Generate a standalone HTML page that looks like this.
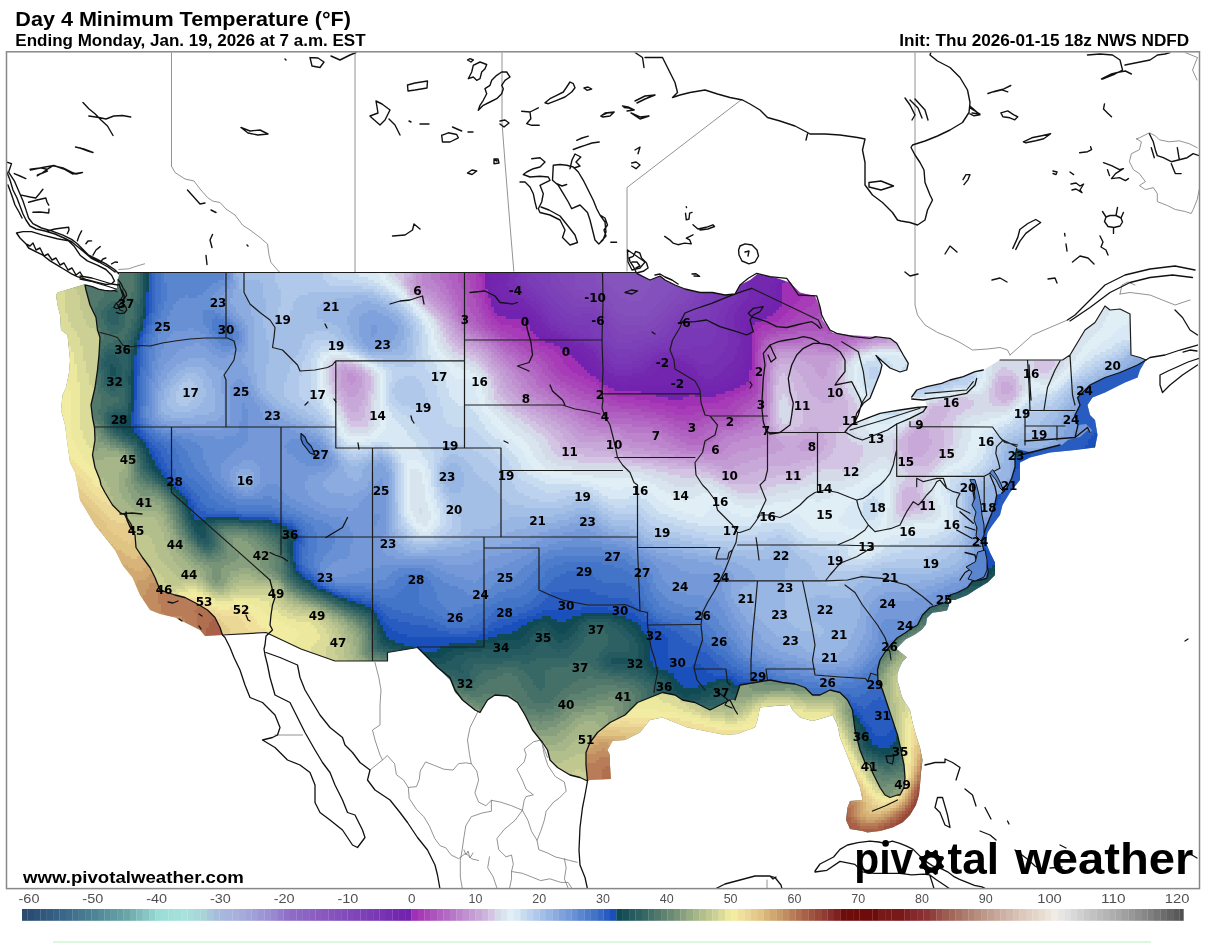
<!DOCTYPE html>
<html><head><meta charset="utf-8"><title>Day 4 Minimum Temperature</title>
<style>
html,body{margin:0;padding:0;background:#fff;}
svg{display:block;}
.t1{font:bold 20px "Liberation Sans",Arial,sans-serif;fill:#000;}
.t2{font:bold 16px "Liberation Sans",Arial,sans-serif;fill:#000;}
.lab text{font:bold 12px "DejaVu Sans","Liberation Sans",sans-serif;fill:#000;text-anchor:middle;}
.cbl text{font:13px "Liberation Sans",Arial,sans-serif;fill:#505050;text-anchor:middle;}
.url{font:bold 17px "Liberation Sans",Arial,sans-serif;fill:#000;}
.logo{font:bold 44px "Liberation Sans",Arial,sans-serif;fill:#000;}
</style></head><body>
<svg width="1205" height="943" viewBox="0 0 1205 943">
<rect width="1205" height="943" fill="#fff"/>
<defs><clipPath id="m"><path d="M57.5 292.5 84 284.5 92 286.6 98.5 289.1 104.6 290.3 110.8 290.9 114.4 290.3 116.9 288 117.5 280 120 272.5 637.5 272.5 650 280 660 276 665 280 675 285 685 289 700 292.5 712.5 292.5 725 295 735 294 740 285 750 280 757.5 274 775 277.5 790 282.5 800 292.5 815 296 820 307.5 822.5 320 830 330 833 333 850 335 875 336.7 890 338.3 896.7 343.3 903.3 355 908.3 363.3 906.7 370 900 372 890 368 882 361 876 355.5 879 360 882 365 880 373.3 873.3 390 870 398.3 863.3 403.3 856.7 413.3 855 420 850 425 866.7 418.3 880 413.3 890 411.7 900 410 916.7 407.5 926.7 406.7 925 399 911.7 397 916.7 390 926.7 386.7 941.7 383.3 950 380 963.3 376.7 975 371.7 983.3 370 991.7 365 1000 360 1062.5 360 1070 355 1085 330 1095 322.5 1105 306 1110 310 1120 309 1130 314 1131 355 1140 357.5 1146 360 1140 370 1137.5 377.5 1125 382.5 1105 392.5 1092.5 397.5 1087.5 405 1090 415 1095 420 1097.5 435 1095 447.5 1075 450 1050 452.5 1030 457.5 1020 462.5 1020 480 1016 485 1010 492.5 1002.5 505 1000 515 992.5 525 987.5 532.5 986 542.5 990 552.5 995 562.5 995 575 987.5 582.5 975 590 967.5 595 955 600 948 600 949 605.3 947 610.6 939.7 611.7 932.3 612.7 927 618 926 624.4 921.7 629.7 914.2 635 905.7 639.2 901.5 643.5 896.2 648.8 906.8 657.3 902.6 661.5 899.4 667.9 897.3 674.2 897.3 680.6 899.4 687 901.5 695.4 903.6 700 910 710 912.5 722.5 916 735 920 747.5 922.5 760 921 772.5 920 785 919 795 916 805 910 815 902.5 822.5 892.5 827.5 880 831 867.5 832.5 862.5 831 850 829 846 820 847.5 807.5 850 801 862.5 800 860 787.5 855 775 850 762.5 845 750 840 737.5 837.5 725 832.5 715 825 717.5 812.5 721 800 717.5 792.5 710 790 705 775 706 760 707.5 757.5 720 755 727.5 745 731 737.5 734 725 735 712.5 732.5 700 730 687.5 727.5 675 722.5 662.5 717.5 650 720 640 732.5 625 740 612.5 741 607.5 750 610 755 610 765 611 779 590 780 587.5 781 580 777.5 570 775 557.5 767.5 550 760 547.5 750 542.5 742.5 532.5 730 525 715 517.5 702.5 507.5 696 495 695 487.5 700 480 712.5 475 710 465 702.5 455 692.5 450 680 440 670 430 660 417.5 647.5 387.5 652.5 387.5 661 372.5 661 335 661 300 649 266 632.5 222.5 635 205 636 200 630 190 625 175 617.5 160 614 150 610 140 595 132.5 577.5 122.5 565 115 550 105 537.5 95 525 87.5 512.5 80 500 77.5 485 75 472.5 70 462.5 67.5 445 65 425 61 410 62.5 395 66 387.5 69 372.5 70 360 67.5 335 61 330 60 315 57.5 305 56 295Z"/></clipPath>
<clipPath id="sea"><path d="M57.5 292.5 84 284.5 85 285 86 290 90 305 96 317.5 97.5 330 100 337.5 99 355 97.5 370 95 387.5 91 405 92.5 417.5 94.5 427.5 95 440 92.5 455 95 467.5 100 480 101 485 105 492.5 112.5 505 120 512.5 125 515 128 522 132 530 135 535 136 547.5 142.5 557.5 150 567.5 155 577.5 160 590 175 595 185 597.5 197.5 604 207.5 610 215 617.5 220 627.5 222.5 635 205 636 200 630 190 625 175 617.5 160 614 150 610 140 595 132.5 577.5 122.5 565 115 550 105 537.5 95 525 87.5 512.5 80 500 77.5 485 75 472.5 70 462.5 67.5 445 65 425 61 410 62.5 395 66 387.5 69 372.5 70 360 67.5 335 61 330 60 315 57.5 305 56 295Z"/><path d="M1146 360 1140 370 1137.5 377.5 1125 382.5 1105 392.5 1092.5 397.5 1087.5 405 1090 415 1095 420 1097.5 435 1095 447.5 1075 450 1050 452.5 1030 457.5 1020 462.5 1020 480 1016 485 1010 492.5 1002.5 505 1000 515 992.5 525 987.5 532.5 986 542.5 990 552.5 995 562.5 995 575 987.5 582.5 975 590 967.5 595 955 600 948 600 949 605.3 947 610.6 939.7 611.7 932.3 612.7 927 618 926 624.4 921.7 629.7 914.2 635 905.7 639.2 901.5 643.5 896.2 648.8 906.8 657.3 902.6 661.5 899.4 667.9 897.3 674.2 897.3 680.6 899.4 687 901.5 695.4 903.6 700 910 710 912.5 722.5 916 735 920 747.5 922.5 760 921 772.5 920 785 919 795 916 805 910 815 902.5 822.5 892.5 827.5 880 831 867.5 832.5 862.5 831 850 829 846 820 847.5 807.5 850 801 862.5 800 860 787.5 855 775 850 762.5 845 750 840 737.5 837.5 725 832.5 715 825 717.5 812.5 721 800 717.5 792.5 710 790 705 775 706 760 707.5 757.5 720 755 727.5 745 731 737.5 734 725 735 712.5 732.5 700 730 687.5 727.5 675 722.5 662.5 717.5 650 720 640 732.5 625 740 612.5 741 607.5 750 610 755 610 765 611 779 590 780 587.5 781 586 765 586 752.5 590 742.5 597.5 732.5 610 722.5 625 715 637.5 702.5 650 697.5 662.5 692.5 675 695 682.5 700 695 702.5 700 705 710 710 720 705 730 700 735 700 740 685 755 682.5 770 680 782.5 682.5 795 684 805 687.5 812.5 695 820 695 830 690 840 692.5 847.5 700 852.5 710 855 730 857.5 740 860 750 865 762.5 870 765 872.5 772.5 875 777.5 877.5 782.5 880 787.5 885 795 890 797.5 897.5 795 900 795 904 787.5 905 777.5 904 765 901 750 897.5 735 892.5 720 887.5 705 882.5 690 878 680 877.5 670 880 660 885 652 891 645 897 638 905 633 912 628 917.5 625 922.5 615 930 607.5 937.5 605 945 602.5 950 595 957.5 592.5 967.5 587.5 972.5 581 980 580 986.7 578.3 988.3 571.7 986.7 563.3 985 556.7 983.3 548.3 981.7 541.7 981.7 540 985 530 988.3 521.7 991.7 513.3 995 503.3 996.7 495 1001.7 493.3 1006.7 488.3 1011.7 478.3 1015 466.7 1015 456.7 1016.7 449 1030 452 1050 448 1062 445 1068 440 1080 437 1088 430 1090 434 1092 430 1086 424 1078 425 1075 415 1080 405 1077.5 397.5 1090 385 1105 377.5 1120 372.5 1137.5 365Z"/></clipPath>
<clipPath id="fr"><rect x="7" y="52.5" width="1192" height="836.5"/></clipPath></defs>
<g clip-path="url(#m)" shape-rendering="crispEdges">
<path fill="#8654bd" d="M602 268h42.3v3.3h-42.3zM602 271h45.3v3.3h-45.3zM605 274h48.3v3.3h-48.3zM605 277h48.3v3.3h-48.3zM605 280h48.3v3.3h-48.3zM608 283h42.3v3.3h-42.3zM611 286h39.3v3.3h-39.3zM614 289h33.3v3.3h-33.3zM617 292h30.3v3.3h-30.3zM620 295h24.3v3.3h-24.3zM626 298h15.3v3.3h-15.3z"/>
<path fill="#8450bc" d="M596 268h6.3v3.3h-6.3zM596 271h6.3v3.3h-6.3zM653 271h9.3v3.3h-9.3zM596 274h9.3v3.3h-9.3zM653 274h15.3v3.3h-15.3zM596 277h9.3v3.3h-9.3zM653 277h21.3v3.3h-21.3zM596 280h9.3v3.3h-9.3zM653 280h24.3v3.3h-24.3zM596 283h12.3v3.3h-12.3zM650 283h24.3v3.3h-24.3zM599 286h12.3v3.3h-12.3zM650 286h24.3v3.3h-24.3zM602 289h12.3v3.3h-12.3zM647 289h24.3v3.3h-24.3zM605 292h12.3v3.3h-12.3zM647 292h21.3v3.3h-21.3zM608 295h12.3v3.3h-12.3zM644 295h21.3v3.3h-21.3zM608 298h18.3v3.3h-18.3zM641 298h21.3v3.3h-21.3zM611 301h48.3v3.3h-48.3zM614 304h42.3v3.3h-42.3zM614 307h39.3v3.3h-39.3zM617 310h33.3v3.3h-33.3zM623 313h24.3v3.3h-24.3z"/>
<path fill="#824cba" d="M575 268h21.3v3.3h-21.3zM575 271h21.3v3.3h-21.3zM575 274h21.3v3.3h-21.3zM575 277h21.3v3.3h-21.3zM575 280h21.3v3.3h-21.3zM677 280h3.3v3.3h-3.3zM575 283h21.3v3.3h-21.3zM674 283h9.3v3.3h-9.3zM578 286h21.3v3.3h-21.3zM674 286h9.3v3.3h-9.3zM584 289h18.3v3.3h-18.3zM671 289h9.3v3.3h-9.3zM593 292h12.3v3.3h-12.3zM668 292h12.3v3.3h-12.3zM596 295h12.3v3.3h-12.3zM665 295h12.3v3.3h-12.3zM602 298h6.3v3.3h-6.3zM662 298h12.3v3.3h-12.3zM602 301h9.3v3.3h-9.3zM659 301h12.3v3.3h-12.3zM605 304h9.3v3.3h-9.3zM656 304h12.3v3.3h-12.3zM608 307h6.3v3.3h-6.3zM653 307h12.3v3.3h-12.3zM611 310h6.3v3.3h-6.3zM650 310h12.3v3.3h-12.3zM611 313h12.3v3.3h-12.3zM647 313h12.3v3.3h-12.3zM614 316h42.3v3.3h-42.3zM617 319h36.3v3.3h-36.3zM620 322h27.3v3.3h-27.3z"/>
<path fill="#8048b8" d="M557 268h18.3v3.3h-18.3zM557 271h18.3v3.3h-18.3zM557 274h18.3v3.3h-18.3zM560 277h15.3v3.3h-15.3zM560 280h15.3v3.3h-15.3zM563 283h12.3v3.3h-12.3zM683 283h9.3v3.3h-9.3zM566 286h12.3v3.3h-12.3zM683 286h9.3v3.3h-9.3zM569 289h15.3v3.3h-15.3zM680 289h9.3v3.3h-9.3zM572 292h21.3v3.3h-21.3zM680 292h9.3v3.3h-9.3zM575 295h21.3v3.3h-21.3zM677 295h12.3v3.3h-12.3zM581 298h21.3v3.3h-21.3zM674 298h12.3v3.3h-12.3zM596 301h6.3v3.3h-6.3zM671 301h12.3v3.3h-12.3zM599 304h6.3v3.3h-6.3zM668 304h9.3v3.3h-9.3zM602 307h6.3v3.3h-6.3zM665 307h9.3v3.3h-9.3zM605 310h6.3v3.3h-6.3zM662 310h9.3v3.3h-9.3zM608 313h3.3v3.3h-3.3zM659 313h9.3v3.3h-9.3zM608 316h6.3v3.3h-6.3zM656 316h9.3v3.3h-9.3zM611 319h6.3v3.3h-6.3zM653 319h9.3v3.3h-9.3zM611 322h9.3v3.3h-9.3zM647 322h12.3v3.3h-12.3zM614 325h42.3v3.3h-42.3zM617 328h33.3v3.3h-33.3zM620 331h18.3v3.3h-18.3z"/>
<path fill="#7e44b8" d="M551 268h6.3v3.3h-6.3zM551 271h6.3v3.3h-6.3zM551 274h6.3v3.3h-6.3zM551 277h9.3v3.3h-9.3zM551 280h9.3v3.3h-9.3zM551 283h12.3v3.3h-12.3zM554 286h12.3v3.3h-12.3zM692 286h6.3v3.3h-6.3zM557 289h12.3v3.3h-12.3zM689 289h9.3v3.3h-9.3zM560 292h12.3v3.3h-12.3zM689 292h9.3v3.3h-9.3zM563 295h12.3v3.3h-12.3zM689 295h6.3v3.3h-6.3zM566 298h15.3v3.3h-15.3zM686 298h9.3v3.3h-9.3zM569 301h27.3v3.3h-27.3zM683 301h9.3v3.3h-9.3zM572 304h27.3v3.3h-27.3zM677 304h12.3v3.3h-12.3zM596 307h6.3v3.3h-6.3zM674 307h12.3v3.3h-12.3zM599 310h6.3v3.3h-6.3zM671 310h9.3v3.3h-9.3zM602 313h6.3v3.3h-6.3zM668 313h9.3v3.3h-9.3zM605 316h3.3v3.3h-3.3zM665 316h9.3v3.3h-9.3zM605 319h6.3v3.3h-6.3zM662 319h9.3v3.3h-9.3zM608 322h3.3v3.3h-3.3zM659 322h9.3v3.3h-9.3zM608 325h6.3v3.3h-6.3zM656 325h9.3v3.3h-9.3zM608 328h9.3v3.3h-9.3zM650 328h12.3v3.3h-12.3zM611 331h9.3v3.3h-9.3zM638 331h21.3v3.3h-21.3zM611 334h42.3v3.3h-42.3zM614 337h30.3v3.3h-30.3zM617 340h15.3v3.3h-15.3z"/>
<path fill="#7c40b8" d="M530 268h21.3v3.3h-21.3zM530 271h21.3v3.3h-21.3zM533 274h18.3v3.3h-18.3zM536 277h15.3v3.3h-15.3zM539 280h12.3v3.3h-12.3zM542 283h9.3v3.3h-9.3zM545 286h9.3v3.3h-9.3zM698 286h6.3v3.3h-6.3zM545 289h12.3v3.3h-12.3zM698 289h6.3v3.3h-6.3zM548 292h12.3v3.3h-12.3zM698 292h6.3v3.3h-6.3zM551 295h12.3v3.3h-12.3zM695 295h9.3v3.3h-9.3zM554 298h12.3v3.3h-12.3zM695 298h6.3v3.3h-6.3zM557 301h12.3v3.3h-12.3zM692 301h9.3v3.3h-9.3zM560 304h12.3v3.3h-12.3zM689 304h12.3v3.3h-12.3zM563 307h33.3v3.3h-33.3zM686 307h15.3v3.3h-15.3zM566 310h33.3v3.3h-33.3zM680 310h18.3v3.3h-18.3zM572 313h9.3v3.3h-9.3zM593 313h9.3v3.3h-9.3zM677 313h18.3v3.3h-18.3zM599 316h6.3v3.3h-6.3zM674 316h6.3v3.3h-6.3zM599 319h6.3v3.3h-6.3zM671 319h6.3v3.3h-6.3zM602 322h6.3v3.3h-6.3zM668 322h6.3v3.3h-6.3zM602 325h6.3v3.3h-6.3zM665 325h6.3v3.3h-6.3zM602 328h6.3v3.3h-6.3zM662 328h9.3v3.3h-9.3zM602 331h9.3v3.3h-9.3zM659 331h9.3v3.3h-9.3zM605 334h6.3v3.3h-6.3zM653 334h12.3v3.3h-12.3zM605 337h9.3v3.3h-9.3zM644 337h15.3v3.3h-15.3zM608 340h9.3v3.3h-9.3zM632 340h21.3v3.3h-21.3zM611 343h33.3v3.3h-33.3zM614 346h24.3v3.3h-24.3z"/>
<path fill="#7b3cb7" d="M524 268h6.3v3.3h-6.3zM524 271h6.3v3.3h-6.3zM527 274h6.3v3.3h-6.3zM527 277h9.3v3.3h-9.3zM527 280h12.3v3.3h-12.3zM530 283h12.3v3.3h-12.3zM533 286h12.3v3.3h-12.3zM704 286h6.3v3.3h-6.3zM536 289h9.3v3.3h-9.3zM704 289h6.3v3.3h-6.3zM539 292h9.3v3.3h-9.3zM704 292h9.3v3.3h-9.3zM542 295h9.3v3.3h-9.3zM704 295h9.3v3.3h-9.3zM545 298h9.3v3.3h-9.3zM701 298h12.3v3.3h-12.3zM548 301h9.3v3.3h-9.3zM701 301h9.3v3.3h-9.3zM551 304h9.3v3.3h-9.3zM701 304h9.3v3.3h-9.3zM554 307h9.3v3.3h-9.3zM701 307h9.3v3.3h-9.3zM557 310h9.3v3.3h-9.3zM698 310h12.3v3.3h-12.3zM560 313h12.3v3.3h-12.3zM581 313h12.3v3.3h-12.3zM695 313h15.3v3.3h-15.3zM563 316h36.3v3.3h-36.3zM680 316h30.3v3.3h-30.3zM566 319h33.3v3.3h-33.3zM677 319h33.3v3.3h-33.3zM572 322h30.3v3.3h-30.3zM674 322h33.3v3.3h-33.3zM590 325h12.3v3.3h-12.3zM671 325h12.3v3.3h-12.3zM692 325h12.3v3.3h-12.3zM590 328h12.3v3.3h-12.3zM671 328h9.3v3.3h-9.3zM593 331h9.3v3.3h-9.3zM668 331h12.3v3.3h-12.3zM593 334h12.3v3.3h-12.3zM665 334h12.3v3.3h-12.3zM599 337h6.3v3.3h-6.3zM659 337h15.3v3.3h-15.3zM602 340h6.3v3.3h-6.3zM653 340h15.3v3.3h-15.3zM605 343h6.3v3.3h-6.3zM644 343h15.3v3.3h-15.3zM608 346h6.3v3.3h-6.3zM638 346h12.3v3.3h-12.3zM611 349h33.3v3.3h-33.3zM614 352h24.3v3.3h-24.3zM617 355h12.3v3.3h-12.3z"/>
<path fill="#7938b5" d="M521 268h3.3v3.3h-3.3zM521 271h3.3v3.3h-3.3zM521 274h6.3v3.3h-6.3zM521 277h6.3v3.3h-6.3zM521 280h6.3v3.3h-6.3zM524 283h6.3v3.3h-6.3zM527 286h6.3v3.3h-6.3zM710 286h9.3v3.3h-9.3zM530 289h6.3v3.3h-6.3zM710 289h15.3v3.3h-15.3zM533 292h6.3v3.3h-6.3zM713 292h12.3v3.3h-12.3zM536 295h6.3v3.3h-6.3zM713 295h12.3v3.3h-12.3zM539 298h6.3v3.3h-6.3zM713 298h12.3v3.3h-12.3zM542 301h6.3v3.3h-6.3zM710 301h15.3v3.3h-15.3zM545 304h6.3v3.3h-6.3zM710 304h12.3v3.3h-12.3zM548 307h6.3v3.3h-6.3zM710 307h9.3v3.3h-9.3zM548 310h9.3v3.3h-9.3zM710 310h9.3v3.3h-9.3zM551 313h9.3v3.3h-9.3zM710 313h9.3v3.3h-9.3zM554 316h9.3v3.3h-9.3zM710 316h6.3v3.3h-6.3zM557 319h9.3v3.3h-9.3zM710 319h6.3v3.3h-6.3zM560 322h12.3v3.3h-12.3zM707 322h9.3v3.3h-9.3zM566 325h24.3v3.3h-24.3zM683 325h9.3v3.3h-9.3zM704 325h12.3v3.3h-12.3zM569 328h21.3v3.3h-21.3zM680 328h36.3v3.3h-36.3zM578 331h15.3v3.3h-15.3zM680 331h36.3v3.3h-36.3zM584 334h9.3v3.3h-9.3zM677 334h39.3v3.3h-39.3zM590 337h9.3v3.3h-9.3zM674 337h39.3v3.3h-39.3zM593 340h9.3v3.3h-9.3zM668 340h45.3v3.3h-45.3zM599 343h6.3v3.3h-6.3zM659 343h51.3v3.3h-51.3zM602 346h6.3v3.3h-6.3zM650 346h18.3v3.3h-18.3zM671 346h21.3v3.3h-21.3zM605 349h6.3v3.3h-6.3zM644 349h12.3v3.3h-12.3zM605 352h9.3v3.3h-9.3zM638 352h12.3v3.3h-12.3zM608 355h9.3v3.3h-9.3zM629 355h15.3v3.3h-15.3zM611 358h27.3v3.3h-27.3zM614 361h18.3v3.3h-18.3z"/>
<path fill="#7834b4" d="M518 268h3.3v3.3h-3.3zM518 271h3.3v3.3h-3.3zM518 274h3.3v3.3h-3.3zM515 277h6.3v3.3h-6.3zM515 280h6.3v3.3h-6.3zM518 283h6.3v3.3h-6.3zM734 283h6.3v3.3h-6.3zM518 286h9.3v3.3h-9.3zM734 286h6.3v3.3h-6.3zM521 289h9.3v3.3h-9.3zM725 289h15.3v3.3h-15.3zM524 292h9.3v3.3h-9.3zM725 292h15.3v3.3h-15.3zM527 295h9.3v3.3h-9.3zM725 295h12.3v3.3h-12.3zM530 298h9.3v3.3h-9.3zM725 298h12.3v3.3h-12.3zM536 301h6.3v3.3h-6.3zM725 301h9.3v3.3h-9.3zM539 304h6.3v3.3h-6.3zM722 304h9.3v3.3h-9.3zM542 307h6.3v3.3h-6.3zM719 307h9.3v3.3h-9.3zM542 310h6.3v3.3h-6.3zM719 310h9.3v3.3h-9.3zM545 313h6.3v3.3h-6.3zM719 313h6.3v3.3h-6.3zM548 316h6.3v3.3h-6.3zM716 316h9.3v3.3h-9.3zM548 319h9.3v3.3h-9.3zM716 319h9.3v3.3h-9.3zM551 322h9.3v3.3h-9.3zM716 322h9.3v3.3h-9.3zM557 325h9.3v3.3h-9.3zM716 325h9.3v3.3h-9.3zM560 328h9.3v3.3h-9.3zM716 328h12.3v3.3h-12.3zM566 331h12.3v3.3h-12.3zM716 331h12.3v3.3h-12.3zM572 334h12.3v3.3h-12.3zM716 334h12.3v3.3h-12.3zM578 337h12.3v3.3h-12.3zM713 337h15.3v3.3h-15.3zM584 340h9.3v3.3h-9.3zM713 340h15.3v3.3h-15.3zM590 343h9.3v3.3h-9.3zM710 343h18.3v3.3h-18.3zM596 346h6.3v3.3h-6.3zM668 346h3.3v3.3h-3.3zM692 346h33.3v3.3h-33.3zM599 349h6.3v3.3h-6.3zM656 349h69.3v3.3h-69.3zM599 352h6.3v3.3h-6.3zM650 352h9.3v3.3h-9.3zM674 352h48.3v3.3h-48.3zM602 355h6.3v3.3h-6.3zM644 355h9.3v3.3h-9.3zM689 355h30.3v3.3h-30.3zM605 358h6.3v3.3h-6.3zM638 358h12.3v3.3h-12.3zM695 358h21.3v3.3h-21.3zM608 361h6.3v3.3h-6.3zM632 361h12.3v3.3h-12.3zM698 361h15.3v3.3h-15.3zM611 364h30.3v3.3h-30.3zM614 367h18.3v3.3h-18.3z"/>
<path fill="#762eb2" d="M512 268h6.3v3.3h-6.3zM512 271h6.3v3.3h-6.3zM509 274h9.3v3.3h-9.3zM509 277h6.3v3.3h-6.3zM740 277h6.3v3.3h-6.3zM509 280h6.3v3.3h-6.3zM737 280h9.3v3.3h-9.3zM506 283h12.3v3.3h-12.3zM740 283h6.3v3.3h-6.3zM509 286h9.3v3.3h-9.3zM740 286h6.3v3.3h-6.3zM509 289h12.3v3.3h-12.3zM740 289h9.3v3.3h-9.3zM512 292h12.3v3.3h-12.3zM740 292h9.3v3.3h-9.3zM518 295h9.3v3.3h-9.3zM737 295h12.3v3.3h-12.3zM524 298h6.3v3.3h-6.3zM737 298h9.3v3.3h-9.3zM527 301h9.3v3.3h-9.3zM734 301h9.3v3.3h-9.3zM530 304h9.3v3.3h-9.3zM731 304h9.3v3.3h-9.3zM533 307h9.3v3.3h-9.3zM728 307h9.3v3.3h-9.3zM536 310h6.3v3.3h-6.3zM728 310h9.3v3.3h-9.3zM539 313h6.3v3.3h-6.3zM725 313h9.3v3.3h-9.3zM542 316h6.3v3.3h-6.3zM725 316h9.3v3.3h-9.3zM542 319h6.3v3.3h-6.3zM725 319h9.3v3.3h-9.3zM545 322h6.3v3.3h-6.3zM725 322h9.3v3.3h-9.3zM548 325h9.3v3.3h-9.3zM725 325h9.3v3.3h-9.3zM551 328h9.3v3.3h-9.3zM728 328h9.3v3.3h-9.3zM557 331h9.3v3.3h-9.3zM728 331h9.3v3.3h-9.3zM563 334h9.3v3.3h-9.3zM728 334h9.3v3.3h-9.3zM569 337h9.3v3.3h-9.3zM728 337h12.3v3.3h-12.3zM575 340h9.3v3.3h-9.3zM728 340h12.3v3.3h-12.3zM584 343h6.3v3.3h-6.3zM728 343h12.3v3.3h-12.3zM587 346h9.3v3.3h-9.3zM725 346h12.3v3.3h-12.3zM593 349h6.3v3.3h-6.3zM725 349h12.3v3.3h-12.3zM596 352h3.3v3.3h-3.3zM659 352h15.3v3.3h-15.3zM722 352h15.3v3.3h-15.3zM596 355h6.3v3.3h-6.3zM653 355h36.3v3.3h-36.3zM719 355h15.3v3.3h-15.3zM599 358h6.3v3.3h-6.3zM650 358h9.3v3.3h-9.3zM680 358h15.3v3.3h-15.3zM716 358h18.3v3.3h-18.3zM602 361h6.3v3.3h-6.3zM644 361h9.3v3.3h-9.3zM686 361h12.3v3.3h-12.3zM713 361h18.3v3.3h-18.3zM602 364h9.3v3.3h-9.3zM641 364h9.3v3.3h-9.3zM692 364h36.3v3.3h-36.3zM605 367h9.3v3.3h-9.3zM632 367h15.3v3.3h-15.3zM695 367h30.3v3.3h-30.3zM608 370h36.3v3.3h-36.3zM698 370h24.3v3.3h-24.3zM614 373h18.3v3.3h-18.3zM698 373h21.3v3.3h-21.3zM704 376h9.3v3.3h-9.3z"/>
<path fill="#7428b0" d="M503 268h9.3v3.3h-9.3zM755 268h9.3v3.3h-9.3zM503 271h9.3v3.3h-9.3zM752 271h21.3v3.3h-21.3zM500 274h9.3v3.3h-9.3zM746 274h27.3v3.3h-27.3zM500 277h9.3v3.3h-9.3zM746 277h27.3v3.3h-27.3zM500 280h9.3v3.3h-9.3zM746 280h27.3v3.3h-27.3zM497 283h9.3v3.3h-9.3zM746 283h24.3v3.3h-24.3zM497 286h12.3v3.3h-12.3zM746 286h24.3v3.3h-24.3zM497 289h12.3v3.3h-12.3zM749 289h21.3v3.3h-21.3zM500 292h12.3v3.3h-12.3zM749 292h18.3v3.3h-18.3zM500 295h18.3v3.3h-18.3zM749 295h15.3v3.3h-15.3zM503 298h21.3v3.3h-21.3zM746 298h15.3v3.3h-15.3zM512 301h15.3v3.3h-15.3zM743 301h15.3v3.3h-15.3zM521 304h9.3v3.3h-9.3zM740 304h15.3v3.3h-15.3zM527 307h6.3v3.3h-6.3zM737 307h15.3v3.3h-15.3zM530 310h6.3v3.3h-6.3zM737 310h9.3v3.3h-9.3zM533 313h6.3v3.3h-6.3zM734 313h9.3v3.3h-9.3zM536 316h6.3v3.3h-6.3zM734 316h9.3v3.3h-9.3zM536 319h6.3v3.3h-6.3zM734 319h6.3v3.3h-6.3zM539 322h6.3v3.3h-6.3zM734 322h6.3v3.3h-6.3zM542 325h6.3v3.3h-6.3zM734 325h6.3v3.3h-6.3zM545 328h6.3v3.3h-6.3zM737 328h6.3v3.3h-6.3zM548 331h9.3v3.3h-9.3zM737 331h6.3v3.3h-6.3zM554 334h9.3v3.3h-9.3zM737 334h6.3v3.3h-6.3zM560 337h9.3v3.3h-9.3zM740 337h3.3v3.3h-3.3zM566 340h9.3v3.3h-9.3zM740 340h3.3v3.3h-3.3zM572 343h12.3v3.3h-12.3zM740 343h3.3v3.3h-3.3zM581 346h6.3v3.3h-6.3zM737 346h6.3v3.3h-6.3zM584 349h9.3v3.3h-9.3zM737 349h6.3v3.3h-6.3zM587 352h9.3v3.3h-9.3zM737 352h6.3v3.3h-6.3zM590 355h6.3v3.3h-6.3zM734 355h9.3v3.3h-9.3zM593 358h6.3v3.3h-6.3zM659 358h21.3v3.3h-21.3zM734 358h9.3v3.3h-9.3zM596 361h6.3v3.3h-6.3zM653 361h33.3v3.3h-33.3zM731 361h12.3v3.3h-12.3zM596 364h6.3v3.3h-6.3zM650 364h12.3v3.3h-12.3zM680 364h12.3v3.3h-12.3zM728 364h12.3v3.3h-12.3zM599 367h6.3v3.3h-6.3zM647 367h12.3v3.3h-12.3zM686 367h9.3v3.3h-9.3zM725 367h15.3v3.3h-15.3zM602 370h6.3v3.3h-6.3zM644 370h12.3v3.3h-12.3zM689 370h9.3v3.3h-9.3zM722 370h15.3v3.3h-15.3zM605 373h9.3v3.3h-9.3zM632 373h21.3v3.3h-21.3zM692 373h6.3v3.3h-6.3zM719 373h15.3v3.3h-15.3zM611 376h36.3v3.3h-36.3zM695 376h9.3v3.3h-9.3zM713 376h18.3v3.3h-18.3zM617 379h12.3v3.3h-12.3zM698 379h27.3v3.3h-27.3zM701 382h18.3v3.3h-18.3z"/>
<path fill="#7325b0" d="M488 268h15.3v3.3h-15.3zM488 271h15.3v3.3h-15.3zM773 271h6.3v3.3h-6.3zM488 274h12.3v3.3h-12.3zM773 274h6.3v3.3h-6.3zM491 277h9.3v3.3h-9.3zM773 277h6.3v3.3h-6.3zM491 280h9.3v3.3h-9.3zM773 280h6.3v3.3h-6.3zM491 283h6.3v3.3h-6.3zM770 283h6.3v3.3h-6.3zM491 286h6.3v3.3h-6.3zM770 286h6.3v3.3h-6.3zM491 289h6.3v3.3h-6.3zM770 289h6.3v3.3h-6.3zM494 292h6.3v3.3h-6.3zM767 292h9.3v3.3h-9.3zM494 295h6.3v3.3h-6.3zM764 295h12.3v3.3h-12.3zM494 298h9.3v3.3h-9.3zM761 298h12.3v3.3h-12.3zM497 301h15.3v3.3h-15.3zM758 301h15.3v3.3h-15.3zM497 304h24.3v3.3h-24.3zM755 304h15.3v3.3h-15.3zM500 307h27.3v3.3h-27.3zM752 307h15.3v3.3h-15.3zM521 310h9.3v3.3h-9.3zM746 310h18.3v3.3h-18.3zM527 313h6.3v3.3h-6.3zM743 313h15.3v3.3h-15.3zM530 316h6.3v3.3h-6.3zM743 316h9.3v3.3h-9.3zM533 319h3.3v3.3h-3.3zM740 319h9.3v3.3h-9.3zM533 322h6.3v3.3h-6.3zM740 322h6.3v3.3h-6.3zM536 325h6.3v3.3h-6.3zM740 325h6.3v3.3h-6.3zM536 328h9.3v3.3h-9.3zM743 328h3.3v3.3h-3.3zM539 331h9.3v3.3h-9.3zM743 331h3.3v3.3h-3.3zM545 334h9.3v3.3h-9.3zM743 334h6.3v3.3h-6.3zM551 337h9.3v3.3h-9.3zM743 337h6.3v3.3h-6.3zM557 340h9.3v3.3h-9.3zM743 340h6.3v3.3h-6.3zM563 343h9.3v3.3h-9.3zM743 343h6.3v3.3h-6.3zM569 346h12.3v3.3h-12.3zM743 346h6.3v3.3h-6.3zM575 349h9.3v3.3h-9.3zM743 349h6.3v3.3h-6.3zM581 352h6.3v3.3h-6.3zM743 352h6.3v3.3h-6.3zM584 355h6.3v3.3h-6.3zM743 355h6.3v3.3h-6.3zM587 358h6.3v3.3h-6.3zM743 358h3.3v3.3h-3.3zM587 361h9.3v3.3h-9.3zM743 361h3.3v3.3h-3.3zM590 364h6.3v3.3h-6.3zM662 364h18.3v3.3h-18.3zM740 364h6.3v3.3h-6.3zM593 367h6.3v3.3h-6.3zM659 367h27.3v3.3h-27.3zM740 367h6.3v3.3h-6.3zM596 370h6.3v3.3h-6.3zM656 370h33.3v3.3h-33.3zM737 370h9.3v3.3h-9.3zM599 373h6.3v3.3h-6.3zM653 373h39.3v3.3h-39.3zM734 373h9.3v3.3h-9.3zM602 376h9.3v3.3h-9.3zM647 376h48.3v3.3h-48.3zM731 376h12.3v3.3h-12.3zM605 379h12.3v3.3h-12.3zM629 379h51.3v3.3h-51.3zM689 379h9.3v3.3h-9.3zM725 379h15.3v3.3h-15.3zM611 382h66.3v3.3h-66.3zM692 382h9.3v3.3h-9.3zM719 382h15.3v3.3h-15.3zM620 385h6.3v3.3h-6.3zM671 385h3.3v3.3h-3.3zM695 385h33.3v3.3h-33.3zM698 388h21.3v3.3h-21.3z"/>
<path fill="#7123b0" d="M485 268h3.3v3.3h-3.3zM485 271h3.3v3.3h-3.3zM485 274h3.3v3.3h-3.3zM779 274h6.3v3.3h-6.3zM485 277h6.3v3.3h-6.3zM779 277h6.3v3.3h-6.3zM485 280h6.3v3.3h-6.3zM779 280h6.3v3.3h-6.3zM485 283h6.3v3.3h-6.3zM776 283h6.3v3.3h-6.3zM485 286h6.3v3.3h-6.3zM776 286h6.3v3.3h-6.3zM488 289h3.3v3.3h-3.3zM776 289h6.3v3.3h-6.3zM488 292h6.3v3.3h-6.3zM776 292h6.3v3.3h-6.3zM488 295h6.3v3.3h-6.3zM776 295h6.3v3.3h-6.3zM491 298h3.3v3.3h-3.3zM773 298h9.3v3.3h-9.3zM491 301h6.3v3.3h-6.3zM773 301h9.3v3.3h-9.3zM491 304h6.3v3.3h-6.3zM770 304h12.3v3.3h-12.3zM494 307h6.3v3.3h-6.3zM767 307h12.3v3.3h-12.3zM494 310h27.3v3.3h-27.3zM764 310h12.3v3.3h-12.3zM497 313h30.3v3.3h-30.3zM758 313h15.3v3.3h-15.3zM506 316h24.3v3.3h-24.3zM752 316h15.3v3.3h-15.3zM524 319h9.3v3.3h-9.3zM749 319h12.3v3.3h-12.3zM527 322h6.3v3.3h-6.3zM746 322h9.3v3.3h-9.3zM530 325h6.3v3.3h-6.3zM746 325h6.3v3.3h-6.3zM530 328h6.3v3.3h-6.3zM746 328h6.3v3.3h-6.3zM533 331h6.3v3.3h-6.3zM746 331h6.3v3.3h-6.3zM536 334h9.3v3.3h-9.3zM749 334h3.3v3.3h-3.3zM539 337h12.3v3.3h-12.3zM749 337h3.3v3.3h-3.3zM545 340h12.3v3.3h-12.3zM749 340h3.3v3.3h-3.3zM554 343h9.3v3.3h-9.3zM749 343h3.3v3.3h-3.3zM560 346h9.3v3.3h-9.3zM749 346h3.3v3.3h-3.3zM563 349h12.3v3.3h-12.3zM749 349h3.3v3.3h-3.3zM569 352h12.3v3.3h-12.3zM749 352h3.3v3.3h-3.3zM572 355h12.3v3.3h-12.3zM749 355h3.3v3.3h-3.3zM575 358h12.3v3.3h-12.3zM746 358h6.3v3.3h-6.3zM578 361h9.3v3.3h-9.3zM746 361h6.3v3.3h-6.3zM581 364h9.3v3.3h-9.3zM746 364h6.3v3.3h-6.3zM584 367h9.3v3.3h-9.3zM746 367h6.3v3.3h-6.3zM587 370h9.3v3.3h-9.3zM746 370h3.3v3.3h-3.3zM590 373h9.3v3.3h-9.3zM743 373h6.3v3.3h-6.3zM596 376h6.3v3.3h-6.3zM743 376h6.3v3.3h-6.3zM599 379h6.3v3.3h-6.3zM680 379h9.3v3.3h-9.3zM740 379h9.3v3.3h-9.3zM602 382h9.3v3.3h-9.3zM677 382h15.3v3.3h-15.3zM734 382h12.3v3.3h-12.3zM608 385h12.3v3.3h-12.3zM626 385h45.3v3.3h-45.3zM674 385h21.3v3.3h-21.3zM728 385h12.3v3.3h-12.3zM614 388h84.3v3.3h-84.3zM719 388h15.3v3.3h-15.3zM641 391h84.3v3.3h-84.3zM656 394h33.3v3.3h-33.3zM695 394h21.3v3.3h-21.3zM668 397h15.3v3.3h-15.3z"/>
<path fill="#a030b4" d="M479 268h6.3v3.3h-6.3zM479 271h6.3v3.3h-6.3zM479 274h6.3v3.3h-6.3zM785 274h3.3v3.3h-3.3zM482 277h3.3v3.3h-3.3zM785 277h6.3v3.3h-6.3zM482 280h3.3v3.3h-3.3zM785 280h9.3v3.3h-9.3zM482 283h3.3v3.3h-3.3zM782 283h15.3v3.3h-15.3zM482 286h3.3v3.3h-3.3zM782 286h21.3v3.3h-21.3zM482 289h6.3v3.3h-6.3zM782 289h21.3v3.3h-21.3zM485 292h3.3v3.3h-3.3zM782 292h21.3v3.3h-21.3zM485 295h3.3v3.3h-3.3zM782 295h21.3v3.3h-21.3zM485 298h6.3v3.3h-6.3zM782 298h18.3v3.3h-18.3zM485 301h6.3v3.3h-6.3zM782 301h15.3v3.3h-15.3zM488 304h3.3v3.3h-3.3zM782 304h12.3v3.3h-12.3zM488 307h6.3v3.3h-6.3zM779 307h12.3v3.3h-12.3zM491 310h3.3v3.3h-3.3zM776 310h12.3v3.3h-12.3zM491 313h6.3v3.3h-6.3zM773 313h12.3v3.3h-12.3zM494 316h12.3v3.3h-12.3zM767 316h15.3v3.3h-15.3zM497 319h27.3v3.3h-27.3zM761 319h18.3v3.3h-18.3zM500 322h27.3v3.3h-27.3zM755 322h15.3v3.3h-15.3zM512 325h18.3v3.3h-18.3zM752 325h9.3v3.3h-9.3zM521 328h9.3v3.3h-9.3zM752 328h6.3v3.3h-6.3zM527 331h6.3v3.3h-6.3zM752 331h3.3v3.3h-3.3zM527 334h9.3v3.3h-9.3zM752 334h3.3v3.3h-3.3zM530 337h9.3v3.3h-9.3zM752 337h3.3v3.3h-3.3zM533 340h12.3v3.3h-12.3zM752 340h3.3v3.3h-3.3zM539 343h15.3v3.3h-15.3zM752 343h3.3v3.3h-3.3zM548 346h12.3v3.3h-12.3zM752 346h3.3v3.3h-3.3zM554 349h9.3v3.3h-9.3zM752 349h3.3v3.3h-3.3zM557 352h12.3v3.3h-12.3zM752 352h3.3v3.3h-3.3zM560 355h12.3v3.3h-12.3zM752 355h3.3v3.3h-3.3zM563 358h12.3v3.3h-12.3zM752 358h3.3v3.3h-3.3zM563 361h15.3v3.3h-15.3zM752 361h3.3v3.3h-3.3zM566 364h15.3v3.3h-15.3zM752 364h3.3v3.3h-3.3zM569 367h15.3v3.3h-15.3zM752 367h3.3v3.3h-3.3zM572 370h15.3v3.3h-15.3zM749 370h6.3v3.3h-6.3zM578 373h12.3v3.3h-12.3zM749 373h6.3v3.3h-6.3zM584 376h12.3v3.3h-12.3zM749 376h3.3v3.3h-3.3zM590 379h9.3v3.3h-9.3zM749 379h3.3v3.3h-3.3zM596 382h6.3v3.3h-6.3zM746 382h6.3v3.3h-6.3zM599 385h9.3v3.3h-9.3zM740 385h9.3v3.3h-9.3zM605 388h9.3v3.3h-9.3zM734 388h12.3v3.3h-12.3zM608 391h33.3v3.3h-33.3zM725 391h15.3v3.3h-15.3zM617 394h39.3v3.3h-39.3zM689 394h6.3v3.3h-6.3zM716 394h18.3v3.3h-18.3zM635 397h33.3v3.3h-33.3zM683 397h42.3v3.3h-42.3zM650 400h69.3v3.3h-69.3zM665 403h36.3v3.3h-36.3zM677 406h9.3v3.3h-9.3z"/>
<path fill="#a83cb8" d="M476 268h3.3v3.3h-3.3zM476 271h3.3v3.3h-3.3zM476 274h3.3v3.3h-3.3zM476 277h6.3v3.3h-6.3zM476 280h6.3v3.3h-6.3zM476 283h6.3v3.3h-6.3zM476 286h6.3v3.3h-6.3zM479 289h3.3v3.3h-3.3zM803 289h9.3v3.3h-9.3zM479 292h6.3v3.3h-6.3zM803 292h12.3v3.3h-12.3zM479 295h6.3v3.3h-6.3zM803 295h12.3v3.3h-12.3zM482 298h3.3v3.3h-3.3zM800 298h18.3v3.3h-18.3zM482 301h3.3v3.3h-3.3zM797 301h18.3v3.3h-18.3zM482 304h6.3v3.3h-6.3zM794 304h18.3v3.3h-18.3zM482 307h6.3v3.3h-6.3zM791 307h15.3v3.3h-15.3zM485 310h6.3v3.3h-6.3zM788 310h15.3v3.3h-15.3zM485 313h6.3v3.3h-6.3zM785 313h12.3v3.3h-12.3zM488 316h6.3v3.3h-6.3zM782 316h12.3v3.3h-12.3zM491 319h6.3v3.3h-6.3zM779 319h12.3v3.3h-12.3zM491 322h9.3v3.3h-9.3zM770 322h15.3v3.3h-15.3zM497 325h15.3v3.3h-15.3zM761 325h18.3v3.3h-18.3zM500 328h21.3v3.3h-21.3zM758 328h12.3v3.3h-12.3zM506 331h21.3v3.3h-21.3zM755 331h6.3v3.3h-6.3zM512 334h15.3v3.3h-15.3zM755 334h6.3v3.3h-6.3zM518 337h12.3v3.3h-12.3zM755 337h3.3v3.3h-3.3zM524 340h9.3v3.3h-9.3zM755 340h3.3v3.3h-3.3zM530 343h9.3v3.3h-9.3zM755 343h3.3v3.3h-3.3zM533 346h15.3v3.3h-15.3zM755 346h3.3v3.3h-3.3zM539 349h15.3v3.3h-15.3zM755 349h3.3v3.3h-3.3zM545 352h12.3v3.3h-12.3zM548 355h12.3v3.3h-12.3zM551 358h12.3v3.3h-12.3zM554 361h9.3v3.3h-9.3zM554 364h12.3v3.3h-12.3zM557 367h12.3v3.3h-12.3zM560 370h12.3v3.3h-12.3zM563 373h15.3v3.3h-15.3zM569 376h15.3v3.3h-15.3zM752 376h3.3v3.3h-3.3zM575 379h15.3v3.3h-15.3zM752 379h3.3v3.3h-3.3zM581 382h15.3v3.3h-15.3zM752 382h3.3v3.3h-3.3zM587 385h12.3v3.3h-12.3zM749 385h6.3v3.3h-6.3zM593 388h12.3v3.3h-12.3zM746 388h6.3v3.3h-6.3zM599 391h9.3v3.3h-9.3zM740 391h12.3v3.3h-12.3zM605 394h12.3v3.3h-12.3zM734 394h12.3v3.3h-12.3zM611 397h24.3v3.3h-24.3zM725 397h15.3v3.3h-15.3zM617 400h33.3v3.3h-33.3zM719 400h15.3v3.3h-15.3zM635 403h30.3v3.3h-30.3zM701 403h30.3v3.3h-30.3zM650 406h27.3v3.3h-27.3zM686 406h42.3v3.3h-42.3zM665 409h42.3v3.3h-42.3zM674 412h21.3v3.3h-21.3z"/>
<path fill="#a848b8" d="M467 268h9.3v3.3h-9.3zM467 271h9.3v3.3h-9.3zM467 274h9.3v3.3h-9.3zM467 277h9.3v3.3h-9.3zM470 280h6.3v3.3h-6.3zM470 283h6.3v3.3h-6.3zM470 286h6.3v3.3h-6.3zM473 289h6.3v3.3h-6.3zM812 289h3.3v3.3h-3.3zM473 292h6.3v3.3h-6.3zM815 292h3.3v3.3h-3.3zM473 295h6.3v3.3h-6.3zM815 295h6.3v3.3h-6.3zM476 298h6.3v3.3h-6.3zM818 298h6.3v3.3h-6.3zM476 301h6.3v3.3h-6.3zM815 301h9.3v3.3h-9.3zM476 304h6.3v3.3h-6.3zM812 304h12.3v3.3h-12.3zM479 307h3.3v3.3h-3.3zM806 307h21.3v3.3h-21.3zM479 310h6.3v3.3h-6.3zM803 310h21.3v3.3h-21.3zM482 313h3.3v3.3h-3.3zM797 313h21.3v3.3h-21.3zM482 316h6.3v3.3h-6.3zM794 316h21.3v3.3h-21.3zM485 319h6.3v3.3h-6.3zM791 319h18.3v3.3h-18.3zM485 322h6.3v3.3h-6.3zM785 322h18.3v3.3h-18.3zM488 325h9.3v3.3h-9.3zM779 325h18.3v3.3h-18.3zM491 328h9.3v3.3h-9.3zM770 328h18.3v3.3h-18.3zM497 331h9.3v3.3h-9.3zM761 331h15.3v3.3h-15.3zM500 334h12.3v3.3h-12.3zM761 334h6.3v3.3h-6.3zM506 337h12.3v3.3h-12.3zM758 337h6.3v3.3h-6.3zM512 340h12.3v3.3h-12.3zM758 340h3.3v3.3h-3.3zM518 343h12.3v3.3h-12.3zM758 343h3.3v3.3h-3.3zM524 346h9.3v3.3h-9.3zM758 346h3.3v3.3h-3.3zM527 349h12.3v3.3h-12.3zM533 352h12.3v3.3h-12.3zM755 352h3.3v3.3h-3.3zM539 355h9.3v3.3h-9.3zM755 355h3.3v3.3h-3.3zM542 358h9.3v3.3h-9.3zM755 358h3.3v3.3h-3.3zM545 361h9.3v3.3h-9.3zM755 361h3.3v3.3h-3.3zM548 364h6.3v3.3h-6.3zM755 364h3.3v3.3h-3.3zM548 367h9.3v3.3h-9.3zM755 367h3.3v3.3h-3.3zM551 370h9.3v3.3h-9.3zM755 370h3.3v3.3h-3.3zM554 373h9.3v3.3h-9.3zM755 373h3.3v3.3h-3.3zM557 376h12.3v3.3h-12.3zM755 376h3.3v3.3h-3.3zM560 379h15.3v3.3h-15.3zM755 379h3.3v3.3h-3.3zM566 382h15.3v3.3h-15.3zM755 382h3.3v3.3h-3.3zM572 385h15.3v3.3h-15.3zM755 385h3.3v3.3h-3.3zM578 388h15.3v3.3h-15.3zM752 388h6.3v3.3h-6.3zM584 391h15.3v3.3h-15.3zM752 391h6.3v3.3h-6.3zM593 394h12.3v3.3h-12.3zM746 394h9.3v3.3h-9.3zM599 397h12.3v3.3h-12.3zM740 397h12.3v3.3h-12.3zM602 400h15.3v3.3h-15.3zM734 400h15.3v3.3h-15.3zM608 403h27.3v3.3h-27.3zM731 403h12.3v3.3h-12.3zM620 406h30.3v3.3h-30.3zM728 406h12.3v3.3h-12.3zM641 409h24.3v3.3h-24.3zM707 409h30.3v3.3h-30.3zM656 412h18.3v3.3h-18.3zM695 412h39.3v3.3h-39.3zM665 415h42.3v3.3h-42.3zM674 418h27.3v3.3h-27.3zM686 421h3.3v3.3h-3.3z"/>
<path fill="#ac54bc" d="M458 268h9.3v3.3h-9.3zM458 271h9.3v3.3h-9.3zM458 274h9.3v3.3h-9.3zM458 277h9.3v3.3h-9.3zM458 280h12.3v3.3h-12.3zM461 283h9.3v3.3h-9.3zM461 286h9.3v3.3h-9.3zM464 289h9.3v3.3h-9.3zM464 292h9.3v3.3h-9.3zM467 295h6.3v3.3h-6.3zM467 298h9.3v3.3h-9.3zM467 301h9.3v3.3h-9.3zM467 304h9.3v3.3h-9.3zM470 307h9.3v3.3h-9.3zM470 310h9.3v3.3h-9.3zM824 310h3.3v3.3h-3.3zM473 313h9.3v3.3h-9.3zM818 313h9.3v3.3h-9.3zM476 316h6.3v3.3h-6.3zM815 316h12.3v3.3h-12.3zM476 319h9.3v3.3h-9.3zM809 319h21.3v3.3h-21.3zM479 322h6.3v3.3h-6.3zM803 322h27.3v3.3h-27.3zM482 325h6.3v3.3h-6.3zM797 325h36.3v3.3h-36.3zM485 328h6.3v3.3h-6.3zM788 328h48.3v3.3h-48.3zM491 331h6.3v3.3h-6.3zM776 331h21.3v3.3h-21.3zM827 331h6.3v3.3h-6.3zM494 334h6.3v3.3h-6.3zM767 334h12.3v3.3h-12.3zM500 337h6.3v3.3h-6.3zM764 337h6.3v3.3h-6.3zM503 340h9.3v3.3h-9.3zM761 340h3.3v3.3h-3.3zM509 343h9.3v3.3h-9.3zM761 343h3.3v3.3h-3.3zM515 346h9.3v3.3h-9.3zM518 349h9.3v3.3h-9.3zM758 349h3.3v3.3h-3.3zM521 352h12.3v3.3h-12.3zM758 352h3.3v3.3h-3.3zM527 355h12.3v3.3h-12.3zM758 355h3.3v3.3h-3.3zM530 358h12.3v3.3h-12.3zM758 358h3.3v3.3h-3.3zM536 361h9.3v3.3h-9.3zM758 361h3.3v3.3h-3.3zM539 364h9.3v3.3h-9.3zM758 364h3.3v3.3h-3.3zM542 367h6.3v3.3h-6.3zM758 367h3.3v3.3h-3.3zM542 370h9.3v3.3h-9.3zM758 370h3.3v3.3h-3.3zM545 373h9.3v3.3h-9.3zM758 373h3.3v3.3h-3.3zM548 376h9.3v3.3h-9.3zM758 376h3.3v3.3h-3.3zM551 379h9.3v3.3h-9.3zM758 379h3.3v3.3h-3.3zM554 382h12.3v3.3h-12.3zM758 382h3.3v3.3h-3.3zM560 385h12.3v3.3h-12.3zM758 385h3.3v3.3h-3.3zM566 388h12.3v3.3h-12.3zM758 388h3.3v3.3h-3.3zM569 391h15.3v3.3h-15.3zM758 391h3.3v3.3h-3.3zM575 394h18.3v3.3h-18.3zM755 394h3.3v3.3h-3.3zM581 397h18.3v3.3h-18.3zM752 397h6.3v3.3h-6.3zM590 400h12.3v3.3h-12.3zM749 400h9.3v3.3h-9.3zM596 403h12.3v3.3h-12.3zM743 403h12.3v3.3h-12.3zM602 406h18.3v3.3h-18.3zM740 406h12.3v3.3h-12.3zM605 409h36.3v3.3h-36.3zM737 409h9.3v3.3h-9.3zM629 412h27.3v3.3h-27.3zM734 412h9.3v3.3h-9.3zM644 415h21.3v3.3h-21.3zM707 415h33.3v3.3h-33.3zM659 418h15.3v3.3h-15.3zM701 418h36.3v3.3h-36.3zM668 421h18.3v3.3h-18.3zM689 421h21.3v3.3h-21.3zM674 424h30.3v3.3h-30.3zM680 427h18.3v3.3h-18.3z"/>
<path fill="#b060c0" d="M449 268h9.3v3.3h-9.3zM449 271h9.3v3.3h-9.3zM449 274h9.3v3.3h-9.3zM449 277h9.3v3.3h-9.3zM452 280h6.3v3.3h-6.3zM452 283h9.3v3.3h-9.3zM452 286h9.3v3.3h-9.3zM455 289h9.3v3.3h-9.3zM455 292h9.3v3.3h-9.3zM458 295h9.3v3.3h-9.3zM458 298h9.3v3.3h-9.3zM461 301h6.3v3.3h-6.3zM461 304h6.3v3.3h-6.3zM461 307h9.3v3.3h-9.3zM461 310h9.3v3.3h-9.3zM464 313h9.3v3.3h-9.3zM464 316h12.3v3.3h-12.3zM467 319h9.3v3.3h-9.3zM473 322h6.3v3.3h-6.3zM476 325h6.3v3.3h-6.3zM479 328h6.3v3.3h-6.3zM836 328h12.3v3.3h-12.3zM485 331h6.3v3.3h-6.3zM797 331h30.3v3.3h-30.3zM833 331h15.3v3.3h-15.3zM488 334h6.3v3.3h-6.3zM779 334h69.3v3.3h-69.3zM494 337h6.3v3.3h-6.3zM770 337h15.3v3.3h-15.3zM824 337h21.3v3.3h-21.3zM497 340h6.3v3.3h-6.3zM764 340h6.3v3.3h-6.3zM500 343h9.3v3.3h-9.3zM764 343h3.3v3.3h-3.3zM506 346h9.3v3.3h-9.3zM761 346h6.3v3.3h-6.3zM509 349h9.3v3.3h-9.3zM761 349h3.3v3.3h-3.3zM515 352h6.3v3.3h-6.3zM761 352h3.3v3.3h-3.3zM518 355h9.3v3.3h-9.3zM761 355h3.3v3.3h-3.3zM521 358h9.3v3.3h-9.3zM761 358h3.3v3.3h-3.3zM527 361h9.3v3.3h-9.3zM761 361h3.3v3.3h-3.3zM530 364h9.3v3.3h-9.3zM761 364h3.3v3.3h-3.3zM533 367h9.3v3.3h-9.3zM761 367h3.3v3.3h-3.3zM536 370h6.3v3.3h-6.3zM761 370h3.3v3.3h-3.3zM539 373h6.3v3.3h-6.3zM761 373h3.3v3.3h-3.3zM539 376h9.3v3.3h-9.3zM761 376h3.3v3.3h-3.3zM542 379h9.3v3.3h-9.3zM761 379h3.3v3.3h-3.3zM545 382h9.3v3.3h-9.3zM761 382h3.3v3.3h-3.3zM548 385h12.3v3.3h-12.3zM761 385h3.3v3.3h-3.3zM554 388h12.3v3.3h-12.3zM761 388h3.3v3.3h-3.3zM560 391h9.3v3.3h-9.3zM563 394h12.3v3.3h-12.3zM758 394h3.3v3.3h-3.3zM569 397h12.3v3.3h-12.3zM758 397h3.3v3.3h-3.3zM575 400h15.3v3.3h-15.3zM758 400h3.3v3.3h-3.3zM581 403h15.3v3.3h-15.3zM755 403h6.3v3.3h-6.3zM587 406h15.3v3.3h-15.3zM752 406h9.3v3.3h-9.3zM593 409h12.3v3.3h-12.3zM746 409h12.3v3.3h-12.3zM599 412h30.3v3.3h-30.3zM743 412h12.3v3.3h-12.3zM605 415h39.3v3.3h-39.3zM740 415h9.3v3.3h-9.3zM632 418h27.3v3.3h-27.3zM737 418h6.3v3.3h-6.3zM650 421h18.3v3.3h-18.3zM710 421h30.3v3.3h-30.3zM662 424h12.3v3.3h-12.3zM704 424h27.3v3.3h-27.3zM668 427h12.3v3.3h-12.3zM698 427h15.3v3.3h-15.3zM674 430h33.3v3.3h-33.3zM680 433h24.3v3.3h-24.3zM689 436h9.3v3.3h-9.3z"/>
<path fill="#b46ac4" d="M437 268h12.3v3.3h-12.3zM440 271h9.3v3.3h-9.3zM440 274h9.3v3.3h-9.3zM440 277h9.3v3.3h-9.3zM443 280h9.3v3.3h-9.3zM446 283h6.3v3.3h-6.3zM446 286h6.3v3.3h-6.3zM449 289h6.3v3.3h-6.3zM449 292h6.3v3.3h-6.3zM452 295h6.3v3.3h-6.3zM452 298h6.3v3.3h-6.3zM455 301h6.3v3.3h-6.3zM455 304h6.3v3.3h-6.3zM458 307h3.3v3.3h-3.3zM458 310h3.3v3.3h-3.3zM458 313h6.3v3.3h-6.3zM461 316h3.3v3.3h-3.3zM461 319h6.3v3.3h-6.3zM464 322h9.3v3.3h-9.3zM470 325h6.3v3.3h-6.3zM473 328h6.3v3.3h-6.3zM848 328h9.3v3.3h-9.3zM479 331h6.3v3.3h-6.3zM848 331h9.3v3.3h-9.3zM482 334h6.3v3.3h-6.3zM848 334h9.3v3.3h-9.3zM488 337h6.3v3.3h-6.3zM785 337h39.3v3.3h-39.3zM845 337h9.3v3.3h-9.3zM491 340h6.3v3.3h-6.3zM770 340h33.3v3.3h-33.3zM815 340h33.3v3.3h-33.3zM497 343h3.3v3.3h-3.3zM767 343h6.3v3.3h-6.3zM833 343h6.3v3.3h-6.3zM500 346h6.3v3.3h-6.3zM767 346h3.3v3.3h-3.3zM503 349h6.3v3.3h-6.3zM764 349h3.3v3.3h-3.3zM506 352h9.3v3.3h-9.3zM764 352h3.3v3.3h-3.3zM512 355h6.3v3.3h-6.3zM764 355h3.3v3.3h-3.3zM515 358h6.3v3.3h-6.3zM764 358h3.3v3.3h-3.3zM518 361h9.3v3.3h-9.3zM764 361h3.3v3.3h-3.3zM521 364h9.3v3.3h-9.3zM764 364h3.3v3.3h-3.3zM524 367h9.3v3.3h-9.3zM527 370h9.3v3.3h-9.3zM530 373h9.3v3.3h-9.3zM533 376h6.3v3.3h-6.3zM536 379h6.3v3.3h-6.3zM536 382h9.3v3.3h-9.3zM539 385h9.3v3.3h-9.3zM545 388h9.3v3.3h-9.3zM548 391h12.3v3.3h-12.3zM761 391h3.3v3.3h-3.3zM554 394h9.3v3.3h-9.3zM761 394h3.3v3.3h-3.3zM557 397h12.3v3.3h-12.3zM761 397h3.3v3.3h-3.3zM563 400h12.3v3.3h-12.3zM761 400h3.3v3.3h-3.3zM569 403h12.3v3.3h-12.3zM761 403h3.3v3.3h-3.3zM575 406h12.3v3.3h-12.3zM761 406h3.3v3.3h-3.3zM581 409h12.3v3.3h-12.3zM758 409h3.3v3.3h-3.3zM584 412h15.3v3.3h-15.3zM755 412h6.3v3.3h-6.3zM590 415h15.3v3.3h-15.3zM749 415h12.3v3.3h-12.3zM596 418h36.3v3.3h-36.3zM743 418h12.3v3.3h-12.3zM608 421h42.3v3.3h-42.3zM740 421h9.3v3.3h-9.3zM632 424h30.3v3.3h-30.3zM731 424h12.3v3.3h-12.3zM653 427h15.3v3.3h-15.3zM713 427h24.3v3.3h-24.3zM662 430h12.3v3.3h-12.3zM707 430h15.3v3.3h-15.3zM668 433h12.3v3.3h-12.3zM704 433h15.3v3.3h-15.3zM674 436h15.3v3.3h-15.3zM698 436h18.3v3.3h-18.3zM680 439h33.3v3.3h-33.3zM686 442h21.3v3.3h-21.3z"/>
<path fill="#b878c8" d="M431 268h6.3v3.3h-6.3zM431 271h9.3v3.3h-9.3zM431 274h9.3v3.3h-9.3zM431 277h9.3v3.3h-9.3zM434 280h9.3v3.3h-9.3zM437 283h9.3v3.3h-9.3zM440 286h6.3v3.3h-6.3zM440 289h9.3v3.3h-9.3zM443 292h6.3v3.3h-6.3zM446 295h6.3v3.3h-6.3zM446 298h6.3v3.3h-6.3zM449 301h6.3v3.3h-6.3zM452 304h3.3v3.3h-3.3zM452 307h6.3v3.3h-6.3zM455 310h3.3v3.3h-3.3zM455 313h3.3v3.3h-3.3zM458 316h3.3v3.3h-3.3zM458 319h3.3v3.3h-3.3zM461 322h3.3v3.3h-3.3zM464 325h6.3v3.3h-6.3zM467 328h6.3v3.3h-6.3zM470 331h9.3v3.3h-9.3zM857 331h12.3v3.3h-12.3zM476 334h6.3v3.3h-6.3zM857 334h9.3v3.3h-9.3zM482 337h6.3v3.3h-6.3zM854 337h6.3v3.3h-6.3zM485 340h6.3v3.3h-6.3zM803 340h12.3v3.3h-12.3zM848 340h9.3v3.3h-9.3zM491 343h6.3v3.3h-6.3zM773 343h60.3v3.3h-60.3zM839 343h12.3v3.3h-12.3zM494 346h6.3v3.3h-6.3zM770 346h6.3v3.3h-6.3zM827 346h12.3v3.3h-12.3zM497 349h6.3v3.3h-6.3zM767 349h3.3v3.3h-3.3zM500 352h6.3v3.3h-6.3zM767 352h3.3v3.3h-3.3zM503 355h9.3v3.3h-9.3zM767 355h3.3v3.3h-3.3zM506 358h9.3v3.3h-9.3zM509 361h9.3v3.3h-9.3zM512 364h9.3v3.3h-9.3zM515 367h9.3v3.3h-9.3zM764 367h3.3v3.3h-3.3zM518 370h9.3v3.3h-9.3zM764 370h3.3v3.3h-3.3zM521 373h9.3v3.3h-9.3zM764 373h3.3v3.3h-3.3zM524 376h9.3v3.3h-9.3zM764 376h3.3v3.3h-3.3zM527 379h9.3v3.3h-9.3zM764 379h3.3v3.3h-3.3zM527 382h9.3v3.3h-9.3zM764 382h3.3v3.3h-3.3zM530 385h9.3v3.3h-9.3zM764 385h3.3v3.3h-3.3zM533 388h12.3v3.3h-12.3zM764 388h3.3v3.3h-3.3zM536 391h12.3v3.3h-12.3zM764 391h3.3v3.3h-3.3zM542 394h12.3v3.3h-12.3zM764 394h3.3v3.3h-3.3zM548 397h9.3v3.3h-9.3zM764 397h3.3v3.3h-3.3zM551 400h12.3v3.3h-12.3zM764 400h3.3v3.3h-3.3zM557 403h12.3v3.3h-12.3zM764 403h3.3v3.3h-3.3zM563 406h12.3v3.3h-12.3zM569 409h12.3v3.3h-12.3zM761 409h3.3v3.3h-3.3zM575 412h9.3v3.3h-9.3zM761 412h3.3v3.3h-3.3zM578 415h12.3v3.3h-12.3zM761 415h3.3v3.3h-3.3zM584 418h12.3v3.3h-12.3zM755 418h9.3v3.3h-9.3zM590 421h18.3v3.3h-18.3zM749 421h12.3v3.3h-12.3zM596 424h36.3v3.3h-36.3zM743 424h15.3v3.3h-15.3zM620 427h33.3v3.3h-33.3zM737 427h15.3v3.3h-15.3zM626 430h36.3v3.3h-36.3zM722 430h21.3v3.3h-21.3zM653 433h15.3v3.3h-15.3zM719 433h15.3v3.3h-15.3zM662 436h12.3v3.3h-12.3zM716 436h9.3v3.3h-9.3zM665 439h15.3v3.3h-15.3zM713 439h9.3v3.3h-9.3zM671 442h15.3v3.3h-15.3zM707 442h12.3v3.3h-12.3zM677 445h42.3v3.3h-42.3zM686 448h27.3v3.3h-27.3z"/>
<path fill="#bc84cc" d="M422 268h9.3v3.3h-9.3zM422 271h9.3v3.3h-9.3zM422 274h9.3v3.3h-9.3zM422 277h9.3v3.3h-9.3zM422 280h12.3v3.3h-12.3zM422 283h15.3v3.3h-15.3zM425 286h15.3v3.3h-15.3zM431 289h9.3v3.3h-9.3zM437 292h6.3v3.3h-6.3zM437 295h9.3v3.3h-9.3zM440 298h6.3v3.3h-6.3zM443 301h6.3v3.3h-6.3zM446 304h6.3v3.3h-6.3zM449 307h3.3v3.3h-3.3zM449 310h6.3v3.3h-6.3zM452 313h3.3v3.3h-3.3zM452 316h6.3v3.3h-6.3zM455 319h3.3v3.3h-3.3zM458 322h3.3v3.3h-3.3zM461 325h3.3v3.3h-3.3zM461 328h6.3v3.3h-6.3zM464 331h6.3v3.3h-6.3zM869 331h21.3v3.3h-21.3zM470 334h6.3v3.3h-6.3zM866 334h12.3v3.3h-12.3zM473 337h9.3v3.3h-9.3zM860 337h9.3v3.3h-9.3zM479 340h6.3v3.3h-6.3zM857 340h6.3v3.3h-6.3zM485 343h6.3v3.3h-6.3zM851 343h6.3v3.3h-6.3zM488 346h6.3v3.3h-6.3zM776 346h51.3v3.3h-51.3zM839 346h9.3v3.3h-9.3zM491 349h6.3v3.3h-6.3zM770 349h6.3v3.3h-6.3zM818 349h21.3v3.3h-21.3zM494 352h6.3v3.3h-6.3zM770 352h3.3v3.3h-3.3zM497 355h6.3v3.3h-6.3zM770 355h3.3v3.3h-3.3zM500 358h6.3v3.3h-6.3zM767 358h3.3v3.3h-3.3zM503 361h6.3v3.3h-6.3zM767 361h3.3v3.3h-3.3zM506 364h6.3v3.3h-6.3zM767 364h3.3v3.3h-3.3zM509 367h6.3v3.3h-6.3zM767 367h3.3v3.3h-3.3zM512 370h6.3v3.3h-6.3zM767 370h3.3v3.3h-3.3zM515 373h6.3v3.3h-6.3zM767 373h3.3v3.3h-3.3zM515 376h9.3v3.3h-9.3zM767 376h3.3v3.3h-3.3zM518 379h9.3v3.3h-9.3zM767 379h3.3v3.3h-3.3zM521 382h6.3v3.3h-6.3zM521 385h9.3v3.3h-9.3zM524 388h9.3v3.3h-9.3zM527 391h9.3v3.3h-9.3zM530 394h12.3v3.3h-12.3zM536 397h12.3v3.3h-12.3zM542 400h9.3v3.3h-9.3zM545 403h12.3v3.3h-12.3zM551 406h12.3v3.3h-12.3zM764 406h3.3v3.3h-3.3zM557 409h12.3v3.3h-12.3zM764 409h3.3v3.3h-3.3zM563 412h12.3v3.3h-12.3zM764 412h3.3v3.3h-3.3zM569 415h9.3v3.3h-9.3zM764 415h3.3v3.3h-3.3zM572 418h12.3v3.3h-12.3zM764 418h3.3v3.3h-3.3zM578 421h12.3v3.3h-12.3zM761 421h6.3v3.3h-6.3zM581 424h15.3v3.3h-15.3zM758 424h6.3v3.3h-6.3zM587 427h33.3v3.3h-33.3zM752 427h12.3v3.3h-12.3zM599 430h27.3v3.3h-27.3zM743 430h21.3v3.3h-21.3zM620 433h33.3v3.3h-33.3zM734 433h27.3v3.3h-27.3zM623 436h39.3v3.3h-39.3zM725 436h24.3v3.3h-24.3zM632 439h33.3v3.3h-33.3zM722 439h18.3v3.3h-18.3zM650 442h21.3v3.3h-21.3zM719 442h12.3v3.3h-12.3zM659 445h18.3v3.3h-18.3zM719 445h9.3v3.3h-9.3zM668 448h18.3v3.3h-18.3zM713 448h12.3v3.3h-12.3zM680 451h42.3v3.3h-42.3z"/>
<path fill="#c090d0" d="M416 268h6.3v3.3h-6.3zM416 271h6.3v3.3h-6.3zM416 274h6.3v3.3h-6.3zM416 277h6.3v3.3h-6.3zM416 280h6.3v3.3h-6.3zM416 283h6.3v3.3h-6.3zM416 286h9.3v3.3h-9.3zM419 289h12.3v3.3h-12.3zM425 292h12.3v3.3h-12.3zM431 295h6.3v3.3h-6.3zM434 298h6.3v3.3h-6.3zM437 301h6.3v3.3h-6.3zM440 304h6.3v3.3h-6.3zM443 307h6.3v3.3h-6.3zM446 310h3.3v3.3h-3.3zM449 313h3.3v3.3h-3.3zM449 316h3.3v3.3h-3.3zM452 319h3.3v3.3h-3.3zM455 322h3.3v3.3h-3.3zM455 325h6.3v3.3h-6.3zM458 328h3.3v3.3h-3.3zM461 331h3.3v3.3h-3.3zM464 334h6.3v3.3h-6.3zM878 334h15.3v3.3h-15.3zM467 337h6.3v3.3h-6.3zM869 337h18.3v3.3h-18.3zM473 340h6.3v3.3h-6.3zM863 340h9.3v3.3h-9.3zM479 343h6.3v3.3h-6.3zM857 343h3.3v3.3h-3.3zM482 346h6.3v3.3h-6.3zM848 346h6.3v3.3h-6.3zM488 349h3.3v3.3h-3.3zM776 349h42.3v3.3h-42.3zM839 349h9.3v3.3h-9.3zM491 352h3.3v3.3h-3.3zM773 352h6.3v3.3h-6.3zM800 352h39.3v3.3h-39.3zM491 355h6.3v3.3h-6.3zM773 355h3.3v3.3h-3.3zM494 358h6.3v3.3h-6.3zM770 358h3.3v3.3h-3.3zM497 361h6.3v3.3h-6.3zM770 361h3.3v3.3h-3.3zM500 364h6.3v3.3h-6.3zM770 364h3.3v3.3h-3.3zM503 367h6.3v3.3h-6.3zM770 367h3.3v3.3h-3.3zM506 370h6.3v3.3h-6.3zM347 373h6.3v3.3h-6.3zM506 373h9.3v3.3h-9.3zM347 376h9.3v3.3h-9.3zM509 376h6.3v3.3h-6.3zM347 379h9.3v3.3h-9.3zM512 379h6.3v3.3h-6.3zM350 382h3.3v3.3h-3.3zM512 382h9.3v3.3h-9.3zM767 382h3.3v3.3h-3.3zM515 385h6.3v3.3h-6.3zM767 385h3.3v3.3h-3.3zM518 388h6.3v3.3h-6.3zM767 388h3.3v3.3h-3.3zM518 391h9.3v3.3h-9.3zM767 391h3.3v3.3h-3.3zM521 394h9.3v3.3h-9.3zM767 394h3.3v3.3h-3.3zM524 397h12.3v3.3h-12.3zM767 397h3.3v3.3h-3.3zM530 400h12.3v3.3h-12.3zM767 400h3.3v3.3h-3.3zM536 403h9.3v3.3h-9.3zM767 403h3.3v3.3h-3.3zM542 406h9.3v3.3h-9.3zM767 406h3.3v3.3h-3.3zM548 409h9.3v3.3h-9.3zM767 409h3.3v3.3h-3.3zM551 412h12.3v3.3h-12.3zM767 412h3.3v3.3h-3.3zM557 415h12.3v3.3h-12.3zM767 415h3.3v3.3h-3.3zM563 418h9.3v3.3h-9.3zM767 418h3.3v3.3h-3.3zM566 421h12.3v3.3h-12.3zM572 424h9.3v3.3h-9.3zM764 424h3.3v3.3h-3.3zM575 427h12.3v3.3h-12.3zM764 427h6.3v3.3h-6.3zM578 430h21.3v3.3h-21.3zM764 430h6.3v3.3h-6.3zM584 433h36.3v3.3h-36.3zM761 433h9.3v3.3h-9.3zM605 436h18.3v3.3h-18.3zM749 436h21.3v3.3h-21.3zM617 439h15.3v3.3h-15.3zM740 439h30.3v3.3h-30.3zM620 442h30.3v3.3h-30.3zM731 442h36.3v3.3h-36.3zM629 445h30.3v3.3h-30.3zM728 445h33.3v3.3h-33.3zM644 448h24.3v3.3h-24.3zM725 448h24.3v3.3h-24.3zM659 451h21.3v3.3h-21.3zM722 451h15.3v3.3h-15.3zM674 454h57.3v3.3h-57.3zM704 457h24.3v3.3h-24.3z"/>
<path fill="#c49cd4" d="M413 268h3.3v3.3h-3.3zM413 271h3.3v3.3h-3.3zM413 274h3.3v3.3h-3.3zM413 277h3.3v3.3h-3.3zM410 280h6.3v3.3h-6.3zM413 283h3.3v3.3h-3.3zM413 286h3.3v3.3h-3.3zM416 289h3.3v3.3h-3.3zM419 292h6.3v3.3h-6.3zM422 295h9.3v3.3h-9.3zM428 298h6.3v3.3h-6.3zM431 301h6.3v3.3h-6.3zM434 304h6.3v3.3h-6.3zM437 307h6.3v3.3h-6.3zM440 310h6.3v3.3h-6.3zM443 313h6.3v3.3h-6.3zM446 316h3.3v3.3h-3.3zM449 319h3.3v3.3h-3.3zM449 322h6.3v3.3h-6.3zM452 325h3.3v3.3h-3.3zM455 328h3.3v3.3h-3.3zM455 331h6.3v3.3h-6.3zM458 334h6.3v3.3h-6.3zM461 337h6.3v3.3h-6.3zM887 337h9.3v3.3h-9.3zM464 340h9.3v3.3h-9.3zM872 340h15.3v3.3h-15.3zM893 340h6.3v3.3h-6.3zM470 343h9.3v3.3h-9.3zM860 343h9.3v3.3h-9.3zM476 346h6.3v3.3h-6.3zM854 346h6.3v3.3h-6.3zM482 349h6.3v3.3h-6.3zM848 349h3.3v3.3h-3.3zM485 352h6.3v3.3h-6.3zM779 352h21.3v3.3h-21.3zM839 352h6.3v3.3h-6.3zM488 355h3.3v3.3h-3.3zM776 355h63.3v3.3h-63.3zM491 358h3.3v3.3h-3.3zM773 358h6.3v3.3h-6.3zM800 358h36.3v3.3h-36.3zM491 361h6.3v3.3h-6.3zM773 361h3.3v3.3h-3.3zM806 361h24.3v3.3h-24.3zM494 364h6.3v3.3h-6.3zM773 364h3.3v3.3h-3.3zM812 364h18.3v3.3h-18.3zM344 367h3.3v3.3h-3.3zM497 367h6.3v3.3h-6.3zM815 367h12.3v3.3h-12.3zM341 370h15.3v3.3h-15.3zM500 370h6.3v3.3h-6.3zM770 370h3.3v3.3h-3.3zM815 370h12.3v3.3h-12.3zM341 373h6.3v3.3h-6.3zM353 373h6.3v3.3h-6.3zM500 373h6.3v3.3h-6.3zM770 373h3.3v3.3h-3.3zM818 373h9.3v3.3h-9.3zM341 376h6.3v3.3h-6.3zM356 376h6.3v3.3h-6.3zM503 376h6.3v3.3h-6.3zM770 376h3.3v3.3h-3.3zM821 376h3.3v3.3h-3.3zM341 379h6.3v3.3h-6.3zM356 379h6.3v3.3h-6.3zM503 379h9.3v3.3h-9.3zM770 379h3.3v3.3h-3.3zM341 382h9.3v3.3h-9.3zM353 382h9.3v3.3h-9.3zM506 382h6.3v3.3h-6.3zM770 382h3.3v3.3h-3.3zM341 385h21.3v3.3h-21.3zM506 385h9.3v3.3h-9.3zM770 385h3.3v3.3h-3.3zM344 388h15.3v3.3h-15.3zM509 388h9.3v3.3h-9.3zM770 388h3.3v3.3h-3.3zM347 391h12.3v3.3h-12.3zM512 391h6.3v3.3h-6.3zM770 391h3.3v3.3h-3.3zM347 394h9.3v3.3h-9.3zM515 394h6.3v3.3h-6.3zM770 394h3.3v3.3h-3.3zM518 397h6.3v3.3h-6.3zM770 397h3.3v3.3h-3.3zM521 400h9.3v3.3h-9.3zM770 400h3.3v3.3h-3.3zM524 403h12.3v3.3h-12.3zM530 406h12.3v3.3h-12.3zM536 409h12.3v3.3h-12.3zM542 412h9.3v3.3h-9.3zM548 415h9.3v3.3h-9.3zM551 418h12.3v3.3h-12.3zM557 421h9.3v3.3h-9.3zM767 421h3.3v3.3h-3.3zM560 424h12.3v3.3h-12.3zM767 424h3.3v3.3h-3.3zM566 427h9.3v3.3h-9.3zM770 427h3.3v3.3h-3.3zM569 430h9.3v3.3h-9.3zM770 430h3.3v3.3h-3.3zM572 433h12.3v3.3h-12.3zM770 433h6.3v3.3h-6.3zM575 436h30.3v3.3h-30.3zM770 436h6.3v3.3h-6.3zM578 439h39.3v3.3h-39.3zM770 439h9.3v3.3h-9.3zM803 439h12.3v3.3h-12.3zM608 442h12.3v3.3h-12.3zM767 442h15.3v3.3h-15.3zM800 442h18.3v3.3h-18.3zM614 445h15.3v3.3h-15.3zM761 445h24.3v3.3h-24.3zM797 445h21.3v3.3h-21.3zM620 448h24.3v3.3h-24.3zM749 448h33.3v3.3h-33.3zM800 448h15.3v3.3h-15.3zM632 451h27.3v3.3h-27.3zM737 451h39.3v3.3h-39.3zM650 454h24.3v3.3h-24.3zM731 454h36.3v3.3h-36.3zM668 457h36.3v3.3h-36.3zM728 457h30.3v3.3h-30.3zM686 460h63.3v3.3h-63.3zM713 463h27.3v3.3h-27.3zM722 466h12.3v3.3h-12.3z"/>
<path fill="#c8a8d8" d="M410 268h3.3v3.3h-3.3zM410 271h3.3v3.3h-3.3zM410 274h3.3v3.3h-3.3zM407 277h6.3v3.3h-6.3zM407 280h3.3v3.3h-3.3zM407 283h6.3v3.3h-6.3zM410 286h3.3v3.3h-3.3zM410 289h6.3v3.3h-6.3zM413 292h6.3v3.3h-6.3zM419 295h3.3v3.3h-3.3zM422 298h6.3v3.3h-6.3zM428 301h3.3v3.3h-3.3zM431 304h3.3v3.3h-3.3zM434 307h3.3v3.3h-3.3zM437 310h3.3v3.3h-3.3zM440 313h3.3v3.3h-3.3zM443 316h3.3v3.3h-3.3zM443 319h6.3v3.3h-6.3zM446 322h3.3v3.3h-3.3zM449 325h3.3v3.3h-3.3zM449 328h6.3v3.3h-6.3zM452 331h3.3v3.3h-3.3zM452 334h6.3v3.3h-6.3zM455 337h6.3v3.3h-6.3zM458 340h6.3v3.3h-6.3zM887 340h6.3v3.3h-6.3zM461 343h9.3v3.3h-9.3zM869 343h9.3v3.3h-9.3zM899 343h3.3v3.3h-3.3zM467 346h9.3v3.3h-9.3zM860 346h6.3v3.3h-6.3zM473 349h9.3v3.3h-9.3zM851 349h6.3v3.3h-6.3zM479 352h6.3v3.3h-6.3zM845 352h6.3v3.3h-6.3zM482 355h6.3v3.3h-6.3zM839 355h6.3v3.3h-6.3zM485 358h6.3v3.3h-6.3zM779 358h21.3v3.3h-21.3zM836 358h6.3v3.3h-6.3zM488 361h3.3v3.3h-3.3zM776 361h30.3v3.3h-30.3zM830 361h9.3v3.3h-9.3zM341 364h6.3v3.3h-6.3zM488 364h6.3v3.3h-6.3zM776 364h3.3v3.3h-3.3zM791 364h21.3v3.3h-21.3zM830 364h6.3v3.3h-6.3zM338 367h6.3v3.3h-6.3zM347 367h9.3v3.3h-9.3zM491 367h6.3v3.3h-6.3zM773 367h6.3v3.3h-6.3zM794 367h21.3v3.3h-21.3zM827 367h9.3v3.3h-9.3zM335 370h6.3v3.3h-6.3zM356 370h6.3v3.3h-6.3zM494 370h6.3v3.3h-6.3zM773 370h3.3v3.3h-3.3zM797 370h18.3v3.3h-18.3zM827 370h9.3v3.3h-9.3zM335 373h6.3v3.3h-6.3zM359 373h6.3v3.3h-6.3zM497 373h3.3v3.3h-3.3zM773 373h3.3v3.3h-3.3zM800 373h18.3v3.3h-18.3zM827 373h9.3v3.3h-9.3zM335 376h6.3v3.3h-6.3zM362 376h3.3v3.3h-3.3zM497 376h6.3v3.3h-6.3zM773 376h3.3v3.3h-3.3zM803 376h18.3v3.3h-18.3zM824 376h12.3v3.3h-12.3zM338 379h3.3v3.3h-3.3zM362 379h3.3v3.3h-3.3zM500 379h3.3v3.3h-3.3zM773 379h3.3v3.3h-3.3zM803 379h33.3v3.3h-33.3zM338 382h3.3v3.3h-3.3zM362 382h3.3v3.3h-3.3zM500 382h6.3v3.3h-6.3zM773 382h3.3v3.3h-3.3zM806 382h30.3v3.3h-30.3zM1001 382h9.3v3.3h-9.3zM338 385h3.3v3.3h-3.3zM362 385h3.3v3.3h-3.3zM500 385h6.3v3.3h-6.3zM806 385h30.3v3.3h-30.3zM1001 385h12.3v3.3h-12.3zM338 388h6.3v3.3h-6.3zM359 388h6.3v3.3h-6.3zM503 388h6.3v3.3h-6.3zM809 388h27.3v3.3h-27.3zM1001 388h12.3v3.3h-12.3zM341 391h6.3v3.3h-6.3zM359 391h6.3v3.3h-6.3zM503 391h9.3v3.3h-9.3zM809 391h27.3v3.3h-27.3zM1001 391h9.3v3.3h-9.3zM341 394h6.3v3.3h-6.3zM356 394h9.3v3.3h-9.3zM506 394h9.3v3.3h-9.3zM812 394h24.3v3.3h-24.3zM344 397h21.3v3.3h-21.3zM509 397h9.3v3.3h-9.3zM818 397h18.3v3.3h-18.3zM344 400h18.3v3.3h-18.3zM512 400h9.3v3.3h-9.3zM821 400h12.3v3.3h-12.3zM347 403h15.3v3.3h-15.3zM515 403h9.3v3.3h-9.3zM770 403h3.3v3.3h-3.3zM347 406h12.3v3.3h-12.3zM521 406h9.3v3.3h-9.3zM770 406h3.3v3.3h-3.3zM350 409h9.3v3.3h-9.3zM527 409h9.3v3.3h-9.3zM770 409h3.3v3.3h-3.3zM530 412h12.3v3.3h-12.3zM770 412h3.3v3.3h-3.3zM536 415h12.3v3.3h-12.3zM770 415h3.3v3.3h-3.3zM542 418h9.3v3.3h-9.3zM770 418h3.3v3.3h-3.3zM545 421h12.3v3.3h-12.3zM770 421h3.3v3.3h-3.3zM551 424h9.3v3.3h-9.3zM770 424h3.3v3.3h-3.3zM920 424h3.3v3.3h-3.3zM554 427h12.3v3.3h-12.3zM773 427h3.3v3.3h-3.3zM809 427h9.3v3.3h-9.3zM917 427h9.3v3.3h-9.3zM560 430h9.3v3.3h-9.3zM773 430h3.3v3.3h-3.3zM803 430h18.3v3.3h-18.3zM914 430h15.3v3.3h-15.3zM563 433h9.3v3.3h-9.3zM776 433h3.3v3.3h-3.3zM797 433h27.3v3.3h-27.3zM911 433h18.3v3.3h-18.3zM563 436h12.3v3.3h-12.3zM776 436h48.3v3.3h-48.3zM908 436h21.3v3.3h-21.3zM566 439h12.3v3.3h-12.3zM779 439h24.3v3.3h-24.3zM815 439h12.3v3.3h-12.3zM908 439h24.3v3.3h-24.3zM569 442h39.3v3.3h-39.3zM782 442h18.3v3.3h-18.3zM818 442h9.3v3.3h-9.3zM908 442h24.3v3.3h-24.3zM575 445h39.3v3.3h-39.3zM785 445h12.3v3.3h-12.3zM818 445h6.3v3.3h-6.3zM908 445h21.3v3.3h-21.3zM593 448h27.3v3.3h-27.3zM782 448h18.3v3.3h-18.3zM815 448h9.3v3.3h-9.3zM908 448h21.3v3.3h-21.3zM611 451h21.3v3.3h-21.3zM776 451h45.3v3.3h-45.3zM908 451h18.3v3.3h-18.3zM623 454h27.3v3.3h-27.3zM767 454h51.3v3.3h-51.3zM911 454h12.3v3.3h-12.3zM641 457h27.3v3.3h-27.3zM758 457h54.3v3.3h-54.3zM659 460h27.3v3.3h-27.3zM749 460h51.3v3.3h-51.3zM677 463h36.3v3.3h-36.3zM740 463h51.3v3.3h-51.3zM707 466h15.3v3.3h-15.3zM734 466h33.3v3.3h-33.3zM716 469h42.3v3.3h-42.3zM722 472h27.3v3.3h-27.3zM731 475h9.3v3.3h-9.3z"/>
<path fill="#ccb4dc" d="M404 268h6.3v3.3h-6.3zM404 271h6.3v3.3h-6.3zM404 274h6.3v3.3h-6.3zM404 277h3.3v3.3h-3.3zM404 280h3.3v3.3h-3.3zM404 283h3.3v3.3h-3.3zM407 286h3.3v3.3h-3.3zM410 292h3.3v3.3h-3.3zM416 295h3.3v3.3h-3.3zM419 298h3.3v3.3h-3.3zM422 301h6.3v3.3h-6.3zM425 304h6.3v3.3h-6.3zM428 307h6.3v3.3h-6.3zM431 310h6.3v3.3h-6.3zM434 313h6.3v3.3h-6.3zM437 316h6.3v3.3h-6.3zM440 319h3.3v3.3h-3.3zM443 322h3.3v3.3h-3.3zM443 325h6.3v3.3h-6.3zM446 328h3.3v3.3h-3.3zM446 331h6.3v3.3h-6.3zM449 334h3.3v3.3h-3.3zM449 337h6.3v3.3h-6.3zM452 340h6.3v3.3h-6.3zM455 343h6.3v3.3h-6.3zM878 343h21.3v3.3h-21.3zM458 346h9.3v3.3h-9.3zM866 346h6.3v3.3h-6.3zM464 349h9.3v3.3h-9.3zM857 349h3.3v3.3h-3.3zM470 352h9.3v3.3h-9.3zM851 352h3.3v3.3h-3.3zM476 355h6.3v3.3h-6.3zM845 355h6.3v3.3h-6.3zM479 358h6.3v3.3h-6.3zM842 358h3.3v3.3h-3.3zM341 361h3.3v3.3h-3.3zM482 361h6.3v3.3h-6.3zM839 361h3.3v3.3h-3.3zM335 364h6.3v3.3h-6.3zM347 364h9.3v3.3h-9.3zM485 364h3.3v3.3h-3.3zM779 364h12.3v3.3h-12.3zM836 364h6.3v3.3h-6.3zM332 367h6.3v3.3h-6.3zM356 367h6.3v3.3h-6.3zM488 367h3.3v3.3h-3.3zM779 367h15.3v3.3h-15.3zM836 367h6.3v3.3h-6.3zM332 370h3.3v3.3h-3.3zM362 370h3.3v3.3h-3.3zM488 370h6.3v3.3h-6.3zM776 370h21.3v3.3h-21.3zM836 370h3.3v3.3h-3.3zM332 373h3.3v3.3h-3.3zM365 373h3.3v3.3h-3.3zM491 373h6.3v3.3h-6.3zM776 373h6.3v3.3h-6.3zM785 373h15.3v3.3h-15.3zM836 373h3.3v3.3h-3.3zM332 376h3.3v3.3h-3.3zM365 376h6.3v3.3h-6.3zM494 376h3.3v3.3h-3.3zM776 376h3.3v3.3h-3.3zM791 376h12.3v3.3h-12.3zM836 376h3.3v3.3h-3.3zM998 376h15.3v3.3h-15.3zM332 379h6.3v3.3h-6.3zM365 379h6.3v3.3h-6.3zM494 379h6.3v3.3h-6.3zM776 379h3.3v3.3h-3.3zM791 379h12.3v3.3h-12.3zM836 379h3.3v3.3h-3.3zM998 379h18.3v3.3h-18.3zM335 382h3.3v3.3h-3.3zM365 382h6.3v3.3h-6.3zM494 382h6.3v3.3h-6.3zM776 382h3.3v3.3h-3.3zM794 382h12.3v3.3h-12.3zM836 382h6.3v3.3h-6.3zM995 382h6.3v3.3h-6.3zM1010 382h6.3v3.3h-6.3zM335 385h3.3v3.3h-3.3zM365 385h6.3v3.3h-6.3zM497 385h3.3v3.3h-3.3zM773 385h3.3v3.3h-3.3zM794 385h12.3v3.3h-12.3zM836 385h6.3v3.3h-6.3zM995 385h6.3v3.3h-6.3zM1013 385h3.3v3.3h-3.3zM335 388h3.3v3.3h-3.3zM365 388h6.3v3.3h-6.3zM497 388h6.3v3.3h-6.3zM773 388h3.3v3.3h-3.3zM794 388h15.3v3.3h-15.3zM836 388h6.3v3.3h-6.3zM995 388h6.3v3.3h-6.3zM1013 388h3.3v3.3h-3.3zM335 391h6.3v3.3h-6.3zM365 391h3.3v3.3h-3.3zM497 391h6.3v3.3h-6.3zM773 391h3.3v3.3h-3.3zM797 391h12.3v3.3h-12.3zM836 391h6.3v3.3h-6.3zM995 391h6.3v3.3h-6.3zM1010 391h6.3v3.3h-6.3zM338 394h3.3v3.3h-3.3zM365 394h3.3v3.3h-3.3zM500 394h6.3v3.3h-6.3zM773 394h3.3v3.3h-3.3zM797 394h15.3v3.3h-15.3zM836 394h9.3v3.3h-9.3zM995 394h21.3v3.3h-21.3zM338 397h6.3v3.3h-6.3zM365 397h3.3v3.3h-3.3zM503 397h6.3v3.3h-6.3zM773 397h3.3v3.3h-3.3zM797 397h21.3v3.3h-21.3zM836 397h9.3v3.3h-9.3zM998 397h15.3v3.3h-15.3zM341 400h3.3v3.3h-3.3zM362 400h6.3v3.3h-6.3zM506 400h6.3v3.3h-6.3zM773 400h3.3v3.3h-3.3zM797 400h24.3v3.3h-24.3zM833 400h15.3v3.3h-15.3zM1001 400h6.3v3.3h-6.3zM341 403h6.3v3.3h-6.3zM362 403h6.3v3.3h-6.3zM509 403h6.3v3.3h-6.3zM773 403h3.3v3.3h-3.3zM800 403h48.3v3.3h-48.3zM344 406h3.3v3.3h-3.3zM359 406h6.3v3.3h-6.3zM512 406h9.3v3.3h-9.3zM773 406h3.3v3.3h-3.3zM800 406h48.3v3.3h-48.3zM932 406h18.3v3.3h-18.3zM344 409h6.3v3.3h-6.3zM359 409h6.3v3.3h-6.3zM515 409h12.3v3.3h-12.3zM773 409h3.3v3.3h-3.3zM803 409h45.3v3.3h-45.3zM929 409h21.3v3.3h-21.3zM347 412h18.3v3.3h-18.3zM521 412h9.3v3.3h-9.3zM773 412h3.3v3.3h-3.3zM803 412h45.3v3.3h-45.3zM929 412h18.3v3.3h-18.3zM347 415h18.3v3.3h-18.3zM527 415h9.3v3.3h-9.3zM773 415h3.3v3.3h-3.3zM803 415h45.3v3.3h-45.3zM926 415h21.3v3.3h-21.3zM350 418h12.3v3.3h-12.3zM530 418h12.3v3.3h-12.3zM773 418h3.3v3.3h-3.3zM803 418h45.3v3.3h-45.3zM923 418h21.3v3.3h-21.3zM536 421h9.3v3.3h-9.3zM773 421h3.3v3.3h-3.3zM803 421h42.3v3.3h-42.3zM917 421h24.3v3.3h-24.3zM539 424h12.3v3.3h-12.3zM773 424h6.3v3.3h-6.3zM800 424h42.3v3.3h-42.3zM914 424h6.3v3.3h-6.3zM923 424h18.3v3.3h-18.3zM545 427h9.3v3.3h-9.3zM776 427h3.3v3.3h-3.3zM794 427h15.3v3.3h-15.3zM818 427h21.3v3.3h-21.3zM911 427h6.3v3.3h-6.3zM926 427h15.3v3.3h-15.3zM548 430h12.3v3.3h-12.3zM776 430h27.3v3.3h-27.3zM821 430h18.3v3.3h-18.3zM908 430h6.3v3.3h-6.3zM929 430h15.3v3.3h-15.3zM551 433h12.3v3.3h-12.3zM779 433h18.3v3.3h-18.3zM824 433h12.3v3.3h-12.3zM905 433h6.3v3.3h-6.3zM929 433h15.3v3.3h-15.3zM554 436h9.3v3.3h-9.3zM824 436h12.3v3.3h-12.3zM902 436h6.3v3.3h-6.3zM929 436h15.3v3.3h-15.3zM557 439h9.3v3.3h-9.3zM827 439h9.3v3.3h-9.3zM899 439h9.3v3.3h-9.3zM932 439h12.3v3.3h-12.3zM560 442h9.3v3.3h-9.3zM827 442h9.3v3.3h-9.3zM899 442h9.3v3.3h-9.3zM932 442h12.3v3.3h-12.3zM560 445h15.3v3.3h-15.3zM824 445h12.3v3.3h-12.3zM899 445h9.3v3.3h-9.3zM929 445h15.3v3.3h-15.3zM563 448h30.3v3.3h-30.3zM824 448h9.3v3.3h-9.3zM899 448h9.3v3.3h-9.3zM929 448h12.3v3.3h-12.3zM569 451h42.3v3.3h-42.3zM821 451h12.3v3.3h-12.3zM902 451h6.3v3.3h-6.3zM926 451h15.3v3.3h-15.3zM584 454h39.3v3.3h-39.3zM818 454h12.3v3.3h-12.3zM902 454h9.3v3.3h-9.3zM923 454h15.3v3.3h-15.3zM614 457h27.3v3.3h-27.3zM812 457h15.3v3.3h-15.3zM902 457h33.3v3.3h-33.3zM632 460h27.3v3.3h-27.3zM800 460h21.3v3.3h-21.3zM905 460h27.3v3.3h-27.3zM653 463h24.3v3.3h-24.3zM791 463h24.3v3.3h-24.3zM908 463h21.3v3.3h-21.3zM668 466h39.3v3.3h-39.3zM767 466h39.3v3.3h-39.3zM701 469h15.3v3.3h-15.3zM758 469h42.3v3.3h-42.3zM710 472h12.3v3.3h-12.3zM749 472h48.3v3.3h-48.3zM716 475h15.3v3.3h-15.3zM740 475h36.3v3.3h-36.3zM722 478h45.3v3.3h-45.3zM728 481h30.3v3.3h-30.3zM905 487h12.3v3.3h-12.3zM902 490h15.3v3.3h-15.3zM902 493h18.3v3.3h-18.3zM902 496h18.3v3.3h-18.3zM902 499h21.3v3.3h-21.3zM902 502h21.3v3.3h-21.3zM902 505h18.3v3.3h-18.3zM902 508h12.3v3.3h-12.3z"/>
<path fill="#d4c4e4" d="M392 268h12.3v3.3h-12.3zM395 271h9.3v3.3h-9.3zM395 274h9.3v3.3h-9.3zM398 277h6.3v3.3h-6.3zM401 280h3.3v3.3h-3.3zM401 283h3.3v3.3h-3.3zM404 286h3.3v3.3h-3.3zM407 289h3.3v3.3h-3.3zM407 292h3.3v3.3h-3.3zM410 295h6.3v3.3h-6.3zM416 298h3.3v3.3h-3.3zM419 301h3.3v3.3h-3.3zM422 304h3.3v3.3h-3.3zM425 307h3.3v3.3h-3.3zM428 310h3.3v3.3h-3.3zM431 313h3.3v3.3h-3.3zM434 316h3.3v3.3h-3.3zM437 319h3.3v3.3h-3.3zM437 322h6.3v3.3h-6.3zM440 325h3.3v3.3h-3.3zM440 328h6.3v3.3h-6.3zM443 331h3.3v3.3h-3.3zM443 334h6.3v3.3h-6.3zM446 337h3.3v3.3h-3.3zM446 340h6.3v3.3h-6.3zM449 343h6.3v3.3h-6.3zM452 346h6.3v3.3h-6.3zM872 346h33.3v3.3h-33.3zM452 349h12.3v3.3h-12.3zM860 349h9.3v3.3h-9.3zM458 352h12.3v3.3h-12.3zM854 352h6.3v3.3h-6.3zM464 355h12.3v3.3h-12.3zM851 355h3.3v3.3h-3.3zM470 358h9.3v3.3h-9.3zM845 358h6.3v3.3h-6.3zM1040 358h12.3v3.3h-12.3zM332 361h9.3v3.3h-9.3zM344 361h9.3v3.3h-9.3zM476 361h6.3v3.3h-6.3zM842 361h6.3v3.3h-6.3zM1034 361h21.3v3.3h-21.3zM332 364h3.3v3.3h-3.3zM356 364h6.3v3.3h-6.3zM479 364h6.3v3.3h-6.3zM842 364h3.3v3.3h-3.3zM1034 364h21.3v3.3h-21.3zM329 367h3.3v3.3h-3.3zM362 367h3.3v3.3h-3.3zM482 367h6.3v3.3h-6.3zM842 367h3.3v3.3h-3.3zM1001 367h6.3v3.3h-6.3zM1034 367h18.3v3.3h-18.3zM329 370h3.3v3.3h-3.3zM365 370h6.3v3.3h-6.3zM485 370h3.3v3.3h-3.3zM839 370h6.3v3.3h-6.3zM998 370h15.3v3.3h-15.3zM1040 370h9.3v3.3h-9.3zM329 373h3.3v3.3h-3.3zM368 373h3.3v3.3h-3.3zM488 373h3.3v3.3h-3.3zM782 373h3.3v3.3h-3.3zM839 373h6.3v3.3h-6.3zM995 373h21.3v3.3h-21.3zM329 376h3.3v3.3h-3.3zM371 376h3.3v3.3h-3.3zM488 376h6.3v3.3h-6.3zM779 376h12.3v3.3h-12.3zM839 376h6.3v3.3h-6.3zM995 376h3.3v3.3h-3.3zM1013 376h6.3v3.3h-6.3zM329 379h3.3v3.3h-3.3zM371 379h3.3v3.3h-3.3zM491 379h3.3v3.3h-3.3zM779 379h12.3v3.3h-12.3zM839 379h6.3v3.3h-6.3zM992 379h6.3v3.3h-6.3zM1016 379h3.3v3.3h-3.3zM329 382h6.3v3.3h-6.3zM371 382h3.3v3.3h-3.3zM491 382h3.3v3.3h-3.3zM779 382h15.3v3.3h-15.3zM842 382h3.3v3.3h-3.3zM992 382h3.3v3.3h-3.3zM1016 382h3.3v3.3h-3.3zM332 385h3.3v3.3h-3.3zM371 385h3.3v3.3h-3.3zM491 385h6.3v3.3h-6.3zM776 385h18.3v3.3h-18.3zM842 385h3.3v3.3h-3.3zM992 385h3.3v3.3h-3.3zM1016 385h6.3v3.3h-6.3zM332 388h3.3v3.3h-3.3zM371 388h3.3v3.3h-3.3zM494 388h3.3v3.3h-3.3zM776 388h18.3v3.3h-18.3zM842 388h6.3v3.3h-6.3zM989 388h6.3v3.3h-6.3zM1016 388h6.3v3.3h-6.3zM332 391h3.3v3.3h-3.3zM368 391h6.3v3.3h-6.3zM494 391h3.3v3.3h-3.3zM776 391h21.3v3.3h-21.3zM842 391h6.3v3.3h-6.3zM989 391h6.3v3.3h-6.3zM1016 391h3.3v3.3h-3.3zM335 394h3.3v3.3h-3.3zM368 394h3.3v3.3h-3.3zM494 394h6.3v3.3h-6.3zM776 394h6.3v3.3h-6.3zM785 394h12.3v3.3h-12.3zM845 394h6.3v3.3h-6.3zM989 394h6.3v3.3h-6.3zM1016 394h3.3v3.3h-3.3zM335 397h3.3v3.3h-3.3zM368 397h3.3v3.3h-3.3zM494 397h9.3v3.3h-9.3zM776 397h6.3v3.3h-6.3zM788 397h9.3v3.3h-9.3zM845 397h9.3v3.3h-9.3zM956 397h12.3v3.3h-12.3zM989 397h9.3v3.3h-9.3zM1013 397h3.3v3.3h-3.3zM338 400h3.3v3.3h-3.3zM368 400h3.3v3.3h-3.3zM497 400h9.3v3.3h-9.3zM776 400h3.3v3.3h-3.3zM788 400h9.3v3.3h-9.3zM848 400h6.3v3.3h-6.3zM938 400h36.3v3.3h-36.3zM989 400h12.3v3.3h-12.3zM1007 400h6.3v3.3h-6.3zM338 403h3.3v3.3h-3.3zM368 403h3.3v3.3h-3.3zM500 403h9.3v3.3h-9.3zM776 403h3.3v3.3h-3.3zM788 403h12.3v3.3h-12.3zM848 403h9.3v3.3h-9.3zM929 403h45.3v3.3h-45.3zM992 403h18.3v3.3h-18.3zM341 406h3.3v3.3h-3.3zM365 406h6.3v3.3h-6.3zM503 406h9.3v3.3h-9.3zM776 406h3.3v3.3h-3.3zM791 406h9.3v3.3h-9.3zM848 406h9.3v3.3h-9.3zM926 406h6.3v3.3h-6.3zM950 406h21.3v3.3h-21.3zM341 409h3.3v3.3h-3.3zM365 409h6.3v3.3h-6.3zM506 409h9.3v3.3h-9.3zM776 409h3.3v3.3h-3.3zM791 409h12.3v3.3h-12.3zM848 409h9.3v3.3h-9.3zM926 409h3.3v3.3h-3.3zM950 409h15.3v3.3h-15.3zM344 412h3.3v3.3h-3.3zM365 412h6.3v3.3h-6.3zM512 412h9.3v3.3h-9.3zM776 412h3.3v3.3h-3.3zM791 412h12.3v3.3h-12.3zM848 412h9.3v3.3h-9.3zM923 412h6.3v3.3h-6.3zM947 412h15.3v3.3h-15.3zM344 415h3.3v3.3h-3.3zM365 415h6.3v3.3h-6.3zM515 415h12.3v3.3h-12.3zM776 415h3.3v3.3h-3.3zM791 415h12.3v3.3h-12.3zM848 415h9.3v3.3h-9.3zM920 415h6.3v3.3h-6.3zM947 415h9.3v3.3h-9.3zM347 418h3.3v3.3h-3.3zM362 418h9.3v3.3h-9.3zM521 418h9.3v3.3h-9.3zM776 418h6.3v3.3h-6.3zM791 418h12.3v3.3h-12.3zM848 418h6.3v3.3h-6.3zM917 418h6.3v3.3h-6.3zM944 418h12.3v3.3h-12.3zM347 421h21.3v3.3h-21.3zM524 421h12.3v3.3h-12.3zM776 421h6.3v3.3h-6.3zM788 421h15.3v3.3h-15.3zM845 421h9.3v3.3h-9.3zM911 421h6.3v3.3h-6.3zM941 421h12.3v3.3h-12.3zM350 424h18.3v3.3h-18.3zM530 424h9.3v3.3h-9.3zM779 424h21.3v3.3h-21.3zM842 424h9.3v3.3h-9.3zM908 424h6.3v3.3h-6.3zM941 424h12.3v3.3h-12.3zM533 427h12.3v3.3h-12.3zM779 427h15.3v3.3h-15.3zM839 427h9.3v3.3h-9.3zM905 427h6.3v3.3h-6.3zM941 427h12.3v3.3h-12.3zM536 430h12.3v3.3h-12.3zM839 430h9.3v3.3h-9.3zM902 430h6.3v3.3h-6.3zM944 430h9.3v3.3h-9.3zM542 433h9.3v3.3h-9.3zM836 433h12.3v3.3h-12.3zM899 433h6.3v3.3h-6.3zM944 433h9.3v3.3h-9.3zM545 436h9.3v3.3h-9.3zM836 436h12.3v3.3h-12.3zM896 436h6.3v3.3h-6.3zM944 436h9.3v3.3h-9.3zM548 439h9.3v3.3h-9.3zM836 439h15.3v3.3h-15.3zM893 439h6.3v3.3h-6.3zM944 439h9.3v3.3h-9.3zM548 442h12.3v3.3h-12.3zM836 442h21.3v3.3h-21.3zM893 442h6.3v3.3h-6.3zM944 442h9.3v3.3h-9.3zM551 445h9.3v3.3h-9.3zM836 445h27.3v3.3h-27.3zM893 445h6.3v3.3h-6.3zM944 445h6.3v3.3h-6.3zM551 448h12.3v3.3h-12.3zM833 448h30.3v3.3h-30.3zM893 448h6.3v3.3h-6.3zM941 448h9.3v3.3h-9.3zM554 451h15.3v3.3h-15.3zM833 451h30.3v3.3h-30.3zM893 451h9.3v3.3h-9.3zM941 451h6.3v3.3h-6.3zM557 454h27.3v3.3h-27.3zM830 454h33.3v3.3h-33.3zM896 454h6.3v3.3h-6.3zM938 454h9.3v3.3h-9.3zM563 457h51.3v3.3h-51.3zM827 457h33.3v3.3h-33.3zM896 457h6.3v3.3h-6.3zM935 457h9.3v3.3h-9.3zM578 460h54.3v3.3h-54.3zM821 460h39.3v3.3h-39.3zM899 460h6.3v3.3h-6.3zM932 460h9.3v3.3h-9.3zM623 463h30.3v3.3h-30.3zM815 463h42.3v3.3h-42.3zM899 463h9.3v3.3h-9.3zM929 463h9.3v3.3h-9.3zM641 466h27.3v3.3h-27.3zM806 466h48.3v3.3h-48.3zM902 466h33.3v3.3h-33.3zM656 469h45.3v3.3h-45.3zM800 469h21.3v3.3h-21.3zM842 469h6.3v3.3h-6.3zM905 469h27.3v3.3h-27.3zM668 472h42.3v3.3h-42.3zM797 472h15.3v3.3h-15.3zM908 472h21.3v3.3h-21.3zM680 475h15.3v3.3h-15.3zM701 475h15.3v3.3h-15.3zM776 475h30.3v3.3h-30.3zM905 475h21.3v3.3h-21.3zM713 478h9.3v3.3h-9.3zM767 478h36.3v3.3h-36.3zM905 478h18.3v3.3h-18.3zM719 481h9.3v3.3h-9.3zM758 481h39.3v3.3h-39.3zM902 481h21.3v3.3h-21.3zM725 484h51.3v3.3h-51.3zM899 484h24.3v3.3h-24.3zM731 487h36.3v3.3h-36.3zM899 487h6.3v3.3h-6.3zM917 487h6.3v3.3h-6.3zM737 490h21.3v3.3h-21.3zM899 490h3.3v3.3h-3.3zM917 490h6.3v3.3h-6.3zM896 493h6.3v3.3h-6.3zM920 493h6.3v3.3h-6.3zM896 496h6.3v3.3h-6.3zM920 496h6.3v3.3h-6.3zM896 499h6.3v3.3h-6.3zM923 499h6.3v3.3h-6.3zM896 502h6.3v3.3h-6.3zM923 502h6.3v3.3h-6.3zM896 505h6.3v3.3h-6.3zM920 505h9.3v3.3h-9.3zM896 508h6.3v3.3h-6.3zM914 508h15.3v3.3h-15.3zM896 511h27.3v3.3h-27.3zM899 514h12.3v3.3h-12.3z"/>
<path fill="#d4dae8" d="M386 268h6.3v3.3h-6.3zM389 271h6.3v3.3h-6.3zM389 274h6.3v3.3h-6.3zM392 277h6.3v3.3h-6.3zM395 280h6.3v3.3h-6.3zM398 283h3.3v3.3h-3.3zM401 286h3.3v3.3h-3.3zM404 289h3.3v3.3h-3.3zM407 295h3.3v3.3h-3.3zM413 298h3.3v3.3h-3.3zM416 301h3.3v3.3h-3.3zM419 304h3.3v3.3h-3.3zM422 307h3.3v3.3h-3.3zM425 310h3.3v3.3h-3.3zM428 313h3.3v3.3h-3.3zM431 316h3.3v3.3h-3.3zM434 319h3.3v3.3h-3.3zM434 322h3.3v3.3h-3.3zM437 325h3.3v3.3h-3.3zM437 328h3.3v3.3h-3.3zM437 331h6.3v3.3h-6.3zM440 334h3.3v3.3h-3.3zM440 337h6.3v3.3h-6.3zM440 340h6.3v3.3h-6.3zM443 343h6.3v3.3h-6.3zM443 346h9.3v3.3h-9.3zM446 349h6.3v3.3h-6.3zM869 349h9.3v3.3h-9.3zM896 349h12.3v3.3h-12.3zM1067 349h3.3v3.3h-3.3zM449 352h9.3v3.3h-9.3zM860 352h6.3v3.3h-6.3zM1064 352h6.3v3.3h-6.3zM452 355h12.3v3.3h-12.3zM854 355h6.3v3.3h-6.3zM995 355h72.3v3.3h-72.3zM332 358h18.3v3.3h-18.3zM458 358h12.3v3.3h-12.3zM851 358h3.3v3.3h-3.3zM992 358h48.3v3.3h-48.3zM1052 358h15.3v3.3h-15.3zM329 361h3.3v3.3h-3.3zM353 361h6.3v3.3h-6.3zM464 361h12.3v3.3h-12.3zM848 361h3.3v3.3h-3.3zM986 361h48.3v3.3h-48.3zM1055 361h9.3v3.3h-9.3zM326 364h6.3v3.3h-6.3zM362 364h3.3v3.3h-3.3zM470 364h9.3v3.3h-9.3zM845 364h6.3v3.3h-6.3zM992 364h42.3v3.3h-42.3zM1055 364h9.3v3.3h-9.3zM326 367h3.3v3.3h-3.3zM365 367h6.3v3.3h-6.3zM476 367h6.3v3.3h-6.3zM845 367h3.3v3.3h-3.3zM992 367h9.3v3.3h-9.3zM1007 367h27.3v3.3h-27.3zM1052 367h9.3v3.3h-9.3zM326 370h3.3v3.3h-3.3zM371 370h3.3v3.3h-3.3zM479 370h6.3v3.3h-6.3zM845 370h3.3v3.3h-3.3zM992 370h6.3v3.3h-6.3zM1013 370h27.3v3.3h-27.3zM1049 370h9.3v3.3h-9.3zM326 373h3.3v3.3h-3.3zM371 373h6.3v3.3h-6.3zM482 373h6.3v3.3h-6.3zM845 373h3.3v3.3h-3.3zM992 373h3.3v3.3h-3.3zM1016 373h9.3v3.3h-9.3zM1034 373h21.3v3.3h-21.3zM326 376h3.3v3.3h-3.3zM374 376h3.3v3.3h-3.3zM485 376h3.3v3.3h-3.3zM845 376h3.3v3.3h-3.3zM989 376h6.3v3.3h-6.3zM1019 376h6.3v3.3h-6.3zM1040 376h12.3v3.3h-12.3zM326 379h3.3v3.3h-3.3zM374 379h3.3v3.3h-3.3zM485 379h6.3v3.3h-6.3zM845 379h3.3v3.3h-3.3zM989 379h3.3v3.3h-3.3zM1019 379h6.3v3.3h-6.3zM326 382h3.3v3.3h-3.3zM374 382h3.3v3.3h-3.3zM488 382h3.3v3.3h-3.3zM845 382h6.3v3.3h-6.3zM989 382h3.3v3.3h-3.3zM1019 382h6.3v3.3h-6.3zM329 385h3.3v3.3h-3.3zM374 385h3.3v3.3h-3.3zM488 385h3.3v3.3h-3.3zM845 385h6.3v3.3h-6.3zM986 385h6.3v3.3h-6.3zM1022 385h3.3v3.3h-3.3zM329 388h3.3v3.3h-3.3zM374 388h3.3v3.3h-3.3zM488 388h6.3v3.3h-6.3zM848 388h6.3v3.3h-6.3zM986 388h3.3v3.3h-3.3zM1022 388h3.3v3.3h-3.3zM329 391h3.3v3.3h-3.3zM374 391h3.3v3.3h-3.3zM488 391h6.3v3.3h-6.3zM848 391h6.3v3.3h-6.3zM983 391h6.3v3.3h-6.3zM1019 391h3.3v3.3h-3.3zM332 394h3.3v3.3h-3.3zM371 394h6.3v3.3h-6.3zM488 394h6.3v3.3h-6.3zM782 394h3.3v3.3h-3.3zM851 394h6.3v3.3h-6.3zM956 394h33.3v3.3h-33.3zM1019 394h3.3v3.3h-3.3zM332 397h3.3v3.3h-3.3zM371 397h6.3v3.3h-6.3zM488 397h6.3v3.3h-6.3zM782 397h6.3v3.3h-6.3zM854 397h3.3v3.3h-3.3zM941 397h15.3v3.3h-15.3zM968 397h21.3v3.3h-21.3zM1016 397h3.3v3.3h-3.3zM335 400h3.3v3.3h-3.3zM371 400h3.3v3.3h-3.3zM491 400h6.3v3.3h-6.3zM779 400h9.3v3.3h-9.3zM854 400h6.3v3.3h-6.3zM929 400h9.3v3.3h-9.3zM974 400h15.3v3.3h-15.3zM1013 400h6.3v3.3h-6.3zM335 403h3.3v3.3h-3.3zM371 403h3.3v3.3h-3.3zM494 403h6.3v3.3h-6.3zM779 403h9.3v3.3h-9.3zM857 403h3.3v3.3h-3.3zM926 403h3.3v3.3h-3.3zM974 403h18.3v3.3h-18.3zM1010 403h6.3v3.3h-6.3zM338 406h3.3v3.3h-3.3zM371 406h3.3v3.3h-3.3zM494 406h9.3v3.3h-9.3zM779 406h12.3v3.3h-12.3zM857 406h6.3v3.3h-6.3zM923 406h3.3v3.3h-3.3zM971 406h42.3v3.3h-42.3zM338 409h3.3v3.3h-3.3zM371 409h3.3v3.3h-3.3zM500 409h6.3v3.3h-6.3zM779 409h12.3v3.3h-12.3zM857 409h6.3v3.3h-6.3zM923 409h3.3v3.3h-3.3zM965 409h42.3v3.3h-42.3zM338 412h6.3v3.3h-6.3zM371 412h3.3v3.3h-3.3zM503 412h9.3v3.3h-9.3zM779 412h12.3v3.3h-12.3zM857 412h6.3v3.3h-6.3zM920 412h3.3v3.3h-3.3zM962 412h21.3v3.3h-21.3zM341 415h3.3v3.3h-3.3zM371 415h3.3v3.3h-3.3zM506 415h9.3v3.3h-9.3zM779 415h12.3v3.3h-12.3zM857 415h6.3v3.3h-6.3zM917 415h3.3v3.3h-3.3zM956 415h15.3v3.3h-15.3zM341 418h6.3v3.3h-6.3zM371 418h3.3v3.3h-3.3zM509 418h12.3v3.3h-12.3zM782 418h9.3v3.3h-9.3zM854 418h9.3v3.3h-9.3zM911 418h6.3v3.3h-6.3zM956 418h9.3v3.3h-9.3zM344 421h3.3v3.3h-3.3zM368 421h6.3v3.3h-6.3zM512 421h12.3v3.3h-12.3zM782 421h6.3v3.3h-6.3zM854 421h6.3v3.3h-6.3zM908 421h3.3v3.3h-3.3zM953 421h9.3v3.3h-9.3zM344 424h6.3v3.3h-6.3zM368 424h6.3v3.3h-6.3zM518 424h12.3v3.3h-12.3zM851 424h6.3v3.3h-6.3zM905 424h3.3v3.3h-3.3zM953 424h9.3v3.3h-9.3zM347 427h24.3v3.3h-24.3zM521 427h12.3v3.3h-12.3zM848 427h9.3v3.3h-9.3zM899 427h6.3v3.3h-6.3zM953 427h9.3v3.3h-9.3zM350 430h18.3v3.3h-18.3zM524 430h12.3v3.3h-12.3zM848 430h6.3v3.3h-6.3zM896 430h6.3v3.3h-6.3zM953 430h9.3v3.3h-9.3zM530 433h12.3v3.3h-12.3zM848 433h9.3v3.3h-9.3zM890 433h9.3v3.3h-9.3zM953 433h9.3v3.3h-9.3zM533 436h12.3v3.3h-12.3zM848 436h15.3v3.3h-15.3zM884 436h12.3v3.3h-12.3zM953 436h9.3v3.3h-9.3zM536 439h12.3v3.3h-12.3zM851 439h42.3v3.3h-42.3zM953 439h6.3v3.3h-6.3zM539 442h9.3v3.3h-9.3zM857 442h36.3v3.3h-36.3zM953 442h6.3v3.3h-6.3zM539 445h12.3v3.3h-12.3zM863 445h30.3v3.3h-30.3zM950 445h9.3v3.3h-9.3zM542 448h9.3v3.3h-9.3zM863 448h30.3v3.3h-30.3zM950 448h6.3v3.3h-6.3zM542 451h12.3v3.3h-12.3zM863 451h30.3v3.3h-30.3zM947 451h9.3v3.3h-9.3zM545 454h12.3v3.3h-12.3zM863 454h33.3v3.3h-33.3zM947 454h6.3v3.3h-6.3zM545 457h18.3v3.3h-18.3zM860 457h18.3v3.3h-18.3zM887 457h9.3v3.3h-9.3zM944 457h6.3v3.3h-6.3zM551 460h27.3v3.3h-27.3zM860 460h15.3v3.3h-15.3zM890 460h9.3v3.3h-9.3zM941 460h6.3v3.3h-6.3zM557 463h66.3v3.3h-66.3zM857 463h12.3v3.3h-12.3zM893 463h6.3v3.3h-6.3zM938 463h6.3v3.3h-6.3zM572 466h69.3v3.3h-69.3zM854 466h12.3v3.3h-12.3zM896 466h6.3v3.3h-6.3zM935 466h6.3v3.3h-6.3zM626 469h30.3v3.3h-30.3zM821 469h21.3v3.3h-21.3zM848 469h15.3v3.3h-15.3zM896 469h9.3v3.3h-9.3zM932 469h6.3v3.3h-6.3zM644 472h24.3v3.3h-24.3zM812 472h48.3v3.3h-48.3zM896 472h12.3v3.3h-12.3zM929 472h6.3v3.3h-6.3zM653 475h27.3v3.3h-27.3zM695 475h6.3v3.3h-6.3zM806 475h48.3v3.3h-48.3zM896 475h9.3v3.3h-9.3zM926 475h9.3v3.3h-9.3zM662 478h51.3v3.3h-51.3zM803 478h42.3v3.3h-42.3zM896 478h9.3v3.3h-9.3zM923 478h9.3v3.3h-9.3zM668 481h51.3v3.3h-51.3zM797 481h24.3v3.3h-24.3zM896 481h6.3v3.3h-6.3zM923 481h9.3v3.3h-9.3zM674 484h21.3v3.3h-21.3zM713 484h12.3v3.3h-12.3zM776 484h33.3v3.3h-33.3zM896 484h3.3v3.3h-3.3zM923 484h6.3v3.3h-6.3zM719 487h12.3v3.3h-12.3zM767 487h33.3v3.3h-33.3zM893 487h6.3v3.3h-6.3zM923 487h6.3v3.3h-6.3zM725 490h12.3v3.3h-12.3zM758 490h30.3v3.3h-30.3zM893 490h6.3v3.3h-6.3zM923 490h6.3v3.3h-6.3zM731 493h45.3v3.3h-45.3zM893 493h3.3v3.3h-3.3zM926 493h3.3v3.3h-3.3zM737 496h30.3v3.3h-30.3zM893 496h3.3v3.3h-3.3zM926 496h6.3v3.3h-6.3zM893 499h3.3v3.3h-3.3zM929 499h3.3v3.3h-3.3zM893 502h3.3v3.3h-3.3zM929 502h6.3v3.3h-6.3zM893 505h3.3v3.3h-3.3zM929 505h6.3v3.3h-6.3zM419 508h3.3v3.3h-3.3zM893 508h3.3v3.3h-3.3zM929 508h6.3v3.3h-6.3zM419 511h3.3v3.3h-3.3zM893 511h3.3v3.3h-3.3zM923 511h12.3v3.3h-12.3zM893 514h6.3v3.3h-6.3zM911 514h21.3v3.3h-21.3zM893 517h33.3v3.3h-33.3zM893 520h12.3v3.3h-12.3z"/>
<path fill="#d8e4ee" d="M383 268h3.3v3.3h-3.3zM383 271h6.3v3.3h-6.3zM386 274h3.3v3.3h-3.3zM386 277h6.3v3.3h-6.3zM389 280h6.3v3.3h-6.3zM392 283h6.3v3.3h-6.3zM398 286h3.3v3.3h-3.3zM401 289h3.3v3.3h-3.3zM404 292h3.3v3.3h-3.3zM410 298h3.3v3.3h-3.3zM413 301h3.3v3.3h-3.3zM1103 301h6.3v3.3h-6.3zM416 304h3.3v3.3h-3.3zM1100 304h9.3v3.3h-9.3zM419 307h3.3v3.3h-3.3zM1097 307h12.3v3.3h-12.3zM422 310h3.3v3.3h-3.3zM1097 310h12.3v3.3h-12.3zM425 313h3.3v3.3h-3.3zM1094 313h15.3v3.3h-15.3zM428 316h3.3v3.3h-3.3zM1091 316h15.3v3.3h-15.3zM428 319h6.3v3.3h-6.3zM1091 319h15.3v3.3h-15.3zM431 322h3.3v3.3h-3.3zM1085 322h18.3v3.3h-18.3zM431 325h6.3v3.3h-6.3zM1082 325h21.3v3.3h-21.3zM434 328h3.3v3.3h-3.3zM1079 328h21.3v3.3h-21.3zM434 331h3.3v3.3h-3.3zM1076 331h21.3v3.3h-21.3zM434 334h6.3v3.3h-6.3zM1076 334h18.3v3.3h-18.3zM434 337h6.3v3.3h-6.3zM1073 337h18.3v3.3h-18.3zM437 340h3.3v3.3h-3.3zM1073 340h15.3v3.3h-15.3zM437 343h6.3v3.3h-6.3zM1070 343h15.3v3.3h-15.3zM437 346h6.3v3.3h-6.3zM1067 346h15.3v3.3h-15.3zM440 349h6.3v3.3h-6.3zM878 349h18.3v3.3h-18.3zM1070 349h12.3v3.3h-12.3zM443 352h6.3v3.3h-6.3zM866 352h6.3v3.3h-6.3zM902 352h6.3v3.3h-6.3zM1070 352h9.3v3.3h-9.3zM329 355h18.3v3.3h-18.3zM446 355h6.3v3.3h-6.3zM860 355h3.3v3.3h-3.3zM1067 355h9.3v3.3h-9.3zM326 358h6.3v3.3h-6.3zM350 358h6.3v3.3h-6.3zM449 358h9.3v3.3h-9.3zM854 358h6.3v3.3h-6.3zM1067 358h9.3v3.3h-9.3zM323 361h6.3v3.3h-6.3zM359 361h3.3v3.3h-3.3zM452 361h12.3v3.3h-12.3zM851 361h6.3v3.3h-6.3zM1064 361h9.3v3.3h-9.3zM323 364h3.3v3.3h-3.3zM365 364h3.3v3.3h-3.3zM455 364h15.3v3.3h-15.3zM851 364h3.3v3.3h-3.3zM980 364h12.3v3.3h-12.3zM1064 364h6.3v3.3h-6.3zM323 367h3.3v3.3h-3.3zM371 367h3.3v3.3h-3.3zM461 367h15.3v3.3h-15.3zM848 367h6.3v3.3h-6.3zM986 367h6.3v3.3h-6.3zM1061 367h6.3v3.3h-6.3zM323 370h3.3v3.3h-3.3zM374 370h3.3v3.3h-3.3zM470 370h9.3v3.3h-9.3zM848 370h6.3v3.3h-6.3zM986 370h6.3v3.3h-6.3zM1058 370h6.3v3.3h-6.3zM323 373h3.3v3.3h-3.3zM377 373h3.3v3.3h-3.3zM476 373h6.3v3.3h-6.3zM848 373h6.3v3.3h-6.3zM986 373h6.3v3.3h-6.3zM1025 373h9.3v3.3h-9.3zM1055 373h6.3v3.3h-6.3zM323 376h3.3v3.3h-3.3zM377 376h3.3v3.3h-3.3zM479 376h6.3v3.3h-6.3zM848 376h6.3v3.3h-6.3zM986 376h3.3v3.3h-3.3zM1025 376h15.3v3.3h-15.3zM1052 376h6.3v3.3h-6.3zM323 379h3.3v3.3h-3.3zM377 379h3.3v3.3h-3.3zM482 379h3.3v3.3h-3.3zM848 379h6.3v3.3h-6.3zM986 379h3.3v3.3h-3.3zM1025 379h6.3v3.3h-6.3zM1034 379h21.3v3.3h-21.3zM323 382h3.3v3.3h-3.3zM377 382h3.3v3.3h-3.3zM482 382h6.3v3.3h-6.3zM851 382h3.3v3.3h-3.3zM983 382h6.3v3.3h-6.3zM1025 382h3.3v3.3h-3.3zM1040 382h12.3v3.3h-12.3zM323 385h6.3v3.3h-6.3zM377 385h3.3v3.3h-3.3zM482 385h6.3v3.3h-6.3zM851 385h6.3v3.3h-6.3zM983 385h3.3v3.3h-3.3zM1025 385h3.3v3.3h-3.3zM326 388h3.3v3.3h-3.3zM377 388h3.3v3.3h-3.3zM482 388h6.3v3.3h-6.3zM854 388h3.3v3.3h-3.3zM980 388h6.3v3.3h-6.3zM1025 388h3.3v3.3h-3.3zM326 391h3.3v3.3h-3.3zM377 391h3.3v3.3h-3.3zM482 391h6.3v3.3h-6.3zM854 391h6.3v3.3h-6.3zM956 391h27.3v3.3h-27.3zM1022 391h6.3v3.3h-6.3zM326 394h6.3v3.3h-6.3zM377 394h3.3v3.3h-3.3zM485 394h3.3v3.3h-3.3zM857 394h3.3v3.3h-3.3zM947 394h9.3v3.3h-9.3zM1022 394h3.3v3.3h-3.3zM329 397h3.3v3.3h-3.3zM377 397h3.3v3.3h-3.3zM485 397h3.3v3.3h-3.3zM857 397h6.3v3.3h-6.3zM929 397h12.3v3.3h-12.3zM1019 397h3.3v3.3h-3.3zM329 400h6.3v3.3h-6.3zM374 400h6.3v3.3h-6.3zM485 400h6.3v3.3h-6.3zM860 400h3.3v3.3h-3.3zM926 400h3.3v3.3h-3.3zM1019 400h3.3v3.3h-3.3zM332 403h3.3v3.3h-3.3zM374 403h6.3v3.3h-6.3zM485 403h9.3v3.3h-9.3zM860 403h6.3v3.3h-6.3zM923 403h3.3v3.3h-3.3zM1016 403h3.3v3.3h-3.3zM335 406h3.3v3.3h-3.3zM374 406h6.3v3.3h-6.3zM488 406h6.3v3.3h-6.3zM863 406h3.3v3.3h-3.3zM920 406h3.3v3.3h-3.3zM1013 406h3.3v3.3h-3.3zM335 409h3.3v3.3h-3.3zM374 409h6.3v3.3h-6.3zM491 409h9.3v3.3h-9.3zM863 409h3.3v3.3h-3.3zM917 409h6.3v3.3h-6.3zM1007 409h6.3v3.3h-6.3zM335 412h3.3v3.3h-3.3zM374 412h6.3v3.3h-6.3zM494 412h9.3v3.3h-9.3zM863 412h6.3v3.3h-6.3zM914 412h6.3v3.3h-6.3zM983 412h27.3v3.3h-27.3zM338 415h3.3v3.3h-3.3zM374 415h6.3v3.3h-6.3zM497 415h9.3v3.3h-9.3zM863 415h6.3v3.3h-6.3zM911 415h6.3v3.3h-6.3zM971 415h30.3v3.3h-30.3zM338 418h3.3v3.3h-3.3zM374 418h6.3v3.3h-6.3zM500 418h9.3v3.3h-9.3zM863 418h6.3v3.3h-6.3zM905 418h6.3v3.3h-6.3zM965 418h24.3v3.3h-24.3zM341 421h3.3v3.3h-3.3zM374 421h6.3v3.3h-6.3zM503 421h9.3v3.3h-9.3zM860 421h9.3v3.3h-9.3zM902 421h6.3v3.3h-6.3zM962 421h18.3v3.3h-18.3zM341 424h3.3v3.3h-3.3zM374 424h6.3v3.3h-6.3zM506 424h12.3v3.3h-12.3zM857 424h9.3v3.3h-9.3zM899 424h6.3v3.3h-6.3zM962 424h12.3v3.3h-12.3zM344 427h3.3v3.3h-3.3zM371 427h6.3v3.3h-6.3zM509 427h12.3v3.3h-12.3zM857 427h9.3v3.3h-9.3zM893 427h6.3v3.3h-6.3zM962 427h9.3v3.3h-9.3zM344 430h6.3v3.3h-6.3zM368 430h6.3v3.3h-6.3zM512 430h12.3v3.3h-12.3zM854 430h15.3v3.3h-15.3zM881 430h15.3v3.3h-15.3zM962 430h9.3v3.3h-9.3zM347 433h24.3v3.3h-24.3zM515 433h15.3v3.3h-15.3zM857 433h33.3v3.3h-33.3zM962 433h9.3v3.3h-9.3zM521 436h12.3v3.3h-12.3zM863 436h21.3v3.3h-21.3zM962 436h9.3v3.3h-9.3zM524 439h12.3v3.3h-12.3zM959 439h12.3v3.3h-12.3zM527 442h12.3v3.3h-12.3zM959 442h9.3v3.3h-9.3zM530 445h9.3v3.3h-9.3zM959 445h9.3v3.3h-9.3zM530 448h12.3v3.3h-12.3zM956 448h12.3v3.3h-12.3zM533 451h9.3v3.3h-9.3zM956 451h9.3v3.3h-9.3zM533 454h12.3v3.3h-12.3zM953 454h12.3v3.3h-12.3zM536 457h9.3v3.3h-9.3zM878 457h9.3v3.3h-9.3zM950 457h12.3v3.3h-12.3zM539 460h12.3v3.3h-12.3zM875 460h15.3v3.3h-15.3zM947 460h12.3v3.3h-12.3zM542 463h15.3v3.3h-15.3zM869 463h24.3v3.3h-24.3zM944 463h9.3v3.3h-9.3zM545 466h27.3v3.3h-27.3zM866 466h30.3v3.3h-30.3zM941 466h6.3v3.3h-6.3zM410 469h9.3v3.3h-9.3zM554 469h72.3v3.3h-72.3zM863 469h15.3v3.3h-15.3zM887 469h9.3v3.3h-9.3zM938 469h6.3v3.3h-6.3zM410 472h12.3v3.3h-12.3zM572 472h72.3v3.3h-72.3zM860 472h12.3v3.3h-12.3zM890 472h6.3v3.3h-6.3zM935 472h6.3v3.3h-6.3zM410 475h12.3v3.3h-12.3zM593 475h60.3v3.3h-60.3zM854 475h15.3v3.3h-15.3zM890 475h6.3v3.3h-6.3zM935 475h3.3v3.3h-3.3zM410 478h12.3v3.3h-12.3zM641 478h21.3v3.3h-21.3zM845 478h18.3v3.3h-18.3zM890 478h6.3v3.3h-6.3zM932 478h6.3v3.3h-6.3zM410 481h12.3v3.3h-12.3zM650 481h18.3v3.3h-18.3zM821 481h39.3v3.3h-39.3zM890 481h6.3v3.3h-6.3zM932 481h6.3v3.3h-6.3zM410 484h15.3v3.3h-15.3zM656 484h18.3v3.3h-18.3zM695 484h18.3v3.3h-18.3zM809 484h45.3v3.3h-45.3zM890 484h6.3v3.3h-6.3zM929 484h6.3v3.3h-6.3zM410 487h15.3v3.3h-15.3zM659 487h60.3v3.3h-60.3zM800 487h45.3v3.3h-45.3zM890 487h3.3v3.3h-3.3zM929 487h6.3v3.3h-6.3zM410 490h15.3v3.3h-15.3zM665 490h60.3v3.3h-60.3zM788 490h51.3v3.3h-51.3zM890 490h3.3v3.3h-3.3zM929 490h6.3v3.3h-6.3zM410 493h15.3v3.3h-15.3zM671 493h30.3v3.3h-30.3zM719 493h12.3v3.3h-12.3zM776 493h57.3v3.3h-57.3zM890 493h3.3v3.3h-3.3zM929 493h6.3v3.3h-6.3zM410 496h15.3v3.3h-15.3zM674 496h21.3v3.3h-21.3zM725 496h12.3v3.3h-12.3zM767 496h63.3v3.3h-63.3zM890 496h3.3v3.3h-3.3zM932 496h3.3v3.3h-3.3zM410 499h15.3v3.3h-15.3zM683 499h3.3v3.3h-3.3zM731 499h60.3v3.3h-60.3zM815 499h6.3v3.3h-6.3zM890 499h3.3v3.3h-3.3zM932 499h6.3v3.3h-6.3zM410 502h18.3v3.3h-18.3zM734 502h39.3v3.3h-39.3zM890 502h3.3v3.3h-3.3zM935 502h3.3v3.3h-3.3zM410 505h18.3v3.3h-18.3zM743 505h12.3v3.3h-12.3zM890 505h3.3v3.3h-3.3zM935 505h6.3v3.3h-6.3zM410 508h9.3v3.3h-9.3zM422 508h6.3v3.3h-6.3zM887 508h6.3v3.3h-6.3zM935 508h6.3v3.3h-6.3zM413 511h6.3v3.3h-6.3zM422 511h9.3v3.3h-9.3zM887 511h6.3v3.3h-6.3zM935 511h6.3v3.3h-6.3zM413 514h18.3v3.3h-18.3zM887 514h6.3v3.3h-6.3zM932 514h9.3v3.3h-9.3zM416 517h15.3v3.3h-15.3zM887 517h6.3v3.3h-6.3zM926 517h12.3v3.3h-12.3zM416 520h12.3v3.3h-12.3zM887 520h6.3v3.3h-6.3zM905 520h30.3v3.3h-30.3zM422 523h6.3v3.3h-6.3zM887 523h27.3v3.3h-27.3zM887 526h15.3v3.3h-15.3zM866 541h3.3v3.3h-3.3z"/>
<path fill="#e0eef6" d="M377 268h6.3v3.3h-6.3zM377 271h6.3v3.3h-6.3zM380 274h6.3v3.3h-6.3zM380 277h6.3v3.3h-6.3zM383 280h6.3v3.3h-6.3zM386 283h6.3v3.3h-6.3zM392 286h6.3v3.3h-6.3zM395 289h6.3v3.3h-6.3zM401 292h3.3v3.3h-3.3zM404 295h3.3v3.3h-3.3zM407 298h3.3v3.3h-3.3zM410 301h3.3v3.3h-3.3zM413 304h3.3v3.3h-3.3zM1109 304h15.3v3.3h-15.3zM416 307h3.3v3.3h-3.3zM1109 307h21.3v3.3h-21.3zM419 310h3.3v3.3h-3.3zM1109 310h24.3v3.3h-24.3zM422 313h3.3v3.3h-3.3zM1109 313h27.3v3.3h-27.3zM422 316h6.3v3.3h-6.3zM1106 316h30.3v3.3h-30.3zM425 319h3.3v3.3h-3.3zM1106 319h24.3v3.3h-24.3zM428 322h3.3v3.3h-3.3zM1103 322h24.3v3.3h-24.3zM428 325h3.3v3.3h-3.3zM1103 325h18.3v3.3h-18.3zM431 328h3.3v3.3h-3.3zM1100 328h18.3v3.3h-18.3zM431 331h3.3v3.3h-3.3zM1097 331h18.3v3.3h-18.3zM431 334h3.3v3.3h-3.3zM1094 334h18.3v3.3h-18.3zM431 337h3.3v3.3h-3.3zM1091 337h18.3v3.3h-18.3zM431 340h6.3v3.3h-6.3zM1088 340h15.3v3.3h-15.3zM431 343h6.3v3.3h-6.3zM1085 343h15.3v3.3h-15.3zM434 346h3.3v3.3h-3.3zM1082 346h15.3v3.3h-15.3zM434 349h6.3v3.3h-6.3zM1082 349h9.3v3.3h-9.3zM329 352h12.3v3.3h-12.3zM437 352h6.3v3.3h-6.3zM872 352h30.3v3.3h-30.3zM1079 352h9.3v3.3h-9.3zM323 355h6.3v3.3h-6.3zM347 355h6.3v3.3h-6.3zM437 355h9.3v3.3h-9.3zM863 355h9.3v3.3h-9.3zM899 355h12.3v3.3h-12.3zM1076 355h9.3v3.3h-9.3zM323 358h3.3v3.3h-3.3zM356 358h3.3v3.3h-3.3zM440 358h9.3v3.3h-9.3zM860 358h3.3v3.3h-3.3zM1076 358h6.3v3.3h-6.3zM320 361h3.3v3.3h-3.3zM362 361h6.3v3.3h-6.3zM443 361h9.3v3.3h-9.3zM857 361h3.3v3.3h-3.3zM1073 361h6.3v3.3h-6.3zM320 364h3.3v3.3h-3.3zM368 364h6.3v3.3h-6.3zM446 364h9.3v3.3h-9.3zM854 364h6.3v3.3h-6.3zM977 364h3.3v3.3h-3.3zM1070 364h6.3v3.3h-6.3zM320 367h3.3v3.3h-3.3zM374 367h3.3v3.3h-3.3zM449 367h12.3v3.3h-12.3zM854 367h3.3v3.3h-3.3zM977 367h9.3v3.3h-9.3zM1067 367h6.3v3.3h-6.3zM320 370h3.3v3.3h-3.3zM377 370h3.3v3.3h-3.3zM449 370h21.3v3.3h-21.3zM854 370h3.3v3.3h-3.3zM983 370h3.3v3.3h-3.3zM1064 370h6.3v3.3h-6.3zM320 373h3.3v3.3h-3.3zM380 373h3.3v3.3h-3.3zM452 373h24.3v3.3h-24.3zM854 373h3.3v3.3h-3.3zM983 373h3.3v3.3h-3.3zM1061 373h6.3v3.3h-6.3zM320 376h3.3v3.3h-3.3zM380 376h3.3v3.3h-3.3zM455 376h24.3v3.3h-24.3zM854 376h3.3v3.3h-3.3zM983 376h3.3v3.3h-3.3zM1058 376h6.3v3.3h-6.3zM320 379h3.3v3.3h-3.3zM380 379h3.3v3.3h-3.3zM470 379h12.3v3.3h-12.3zM854 379h3.3v3.3h-3.3zM980 379h6.3v3.3h-6.3zM1031 379h3.3v3.3h-3.3zM1055 379h6.3v3.3h-6.3zM320 382h3.3v3.3h-3.3zM380 382h3.3v3.3h-3.3zM476 382h6.3v3.3h-6.3zM854 382h6.3v3.3h-6.3zM980 382h3.3v3.3h-3.3zM1028 382h12.3v3.3h-12.3zM1052 382h6.3v3.3h-6.3zM320 385h3.3v3.3h-3.3zM380 385h3.3v3.3h-3.3zM476 385h6.3v3.3h-6.3zM857 385h3.3v3.3h-3.3zM977 385h6.3v3.3h-6.3zM1028 385h27.3v3.3h-27.3zM320 388h6.3v3.3h-6.3zM380 388h3.3v3.3h-3.3zM476 388h6.3v3.3h-6.3zM857 388h6.3v3.3h-6.3zM965 388h15.3v3.3h-15.3zM1028 388h6.3v3.3h-6.3zM1040 388h9.3v3.3h-9.3zM323 391h3.3v3.3h-3.3zM380 391h3.3v3.3h-3.3zM476 391h6.3v3.3h-6.3zM860 391h3.3v3.3h-3.3zM950 391h6.3v3.3h-6.3zM1028 391h3.3v3.3h-3.3zM323 394h3.3v3.3h-3.3zM380 394h3.3v3.3h-3.3zM476 394h9.3v3.3h-9.3zM860 394h6.3v3.3h-6.3zM935 394h12.3v3.3h-12.3zM1025 394h3.3v3.3h-3.3zM326 397h3.3v3.3h-3.3zM380 397h3.3v3.3h-3.3zM479 397h6.3v3.3h-6.3zM863 397h3.3v3.3h-3.3zM926 397h3.3v3.3h-3.3zM1022 397h6.3v3.3h-6.3zM326 400h3.3v3.3h-3.3zM380 400h3.3v3.3h-3.3zM479 400h6.3v3.3h-6.3zM863 400h6.3v3.3h-6.3zM920 400h6.3v3.3h-6.3zM1022 400h3.3v3.3h-3.3zM329 403h3.3v3.3h-3.3zM380 403h3.3v3.3h-3.3zM479 403h6.3v3.3h-6.3zM866 403h3.3v3.3h-3.3zM920 403h3.3v3.3h-3.3zM1019 403h3.3v3.3h-3.3zM329 406h6.3v3.3h-6.3zM380 406h3.3v3.3h-3.3zM482 406h6.3v3.3h-6.3zM917 406h3.3v3.3h-3.3zM1016 406h3.3v3.3h-3.3zM332 409h3.3v3.3h-3.3zM380 409h3.3v3.3h-3.3zM482 409h9.3v3.3h-9.3zM914 409h3.3v3.3h-3.3zM1013 409h3.3v3.3h-3.3zM332 412h3.3v3.3h-3.3zM380 412h6.3v3.3h-6.3zM485 412h9.3v3.3h-9.3zM869 412h6.3v3.3h-6.3zM908 412h6.3v3.3h-6.3zM1010 412h3.3v3.3h-3.3zM335 415h3.3v3.3h-3.3zM380 415h6.3v3.3h-6.3zM488 415h9.3v3.3h-9.3zM869 415h6.3v3.3h-6.3zM905 415h6.3v3.3h-6.3zM1001 415h9.3v3.3h-9.3zM335 418h3.3v3.3h-3.3zM380 418h6.3v3.3h-6.3zM491 418h9.3v3.3h-9.3zM869 418h6.3v3.3h-6.3zM899 418h6.3v3.3h-6.3zM989 418h18.3v3.3h-18.3zM338 421h3.3v3.3h-3.3zM380 421h6.3v3.3h-6.3zM491 421h12.3v3.3h-12.3zM869 421h9.3v3.3h-9.3zM893 421h9.3v3.3h-9.3zM980 421h18.3v3.3h-18.3zM338 424h3.3v3.3h-3.3zM380 424h6.3v3.3h-6.3zM494 424h12.3v3.3h-12.3zM866 424h33.3v3.3h-33.3zM974 424h18.3v3.3h-18.3zM341 427h3.3v3.3h-3.3zM377 427h9.3v3.3h-9.3zM497 427h12.3v3.3h-12.3zM866 427h27.3v3.3h-27.3zM971 427h18.3v3.3h-18.3zM341 430h3.3v3.3h-3.3zM374 430h9.3v3.3h-9.3zM500 430h12.3v3.3h-12.3zM869 430h12.3v3.3h-12.3zM971 430h12.3v3.3h-12.3zM344 433h3.3v3.3h-3.3zM371 433h9.3v3.3h-9.3zM503 433h12.3v3.3h-12.3zM971 433h9.3v3.3h-9.3zM344 436h33.3v3.3h-33.3zM506 436h15.3v3.3h-15.3zM971 436h9.3v3.3h-9.3zM350 439h15.3v3.3h-15.3zM512 439h12.3v3.3h-12.3zM971 439h9.3v3.3h-9.3zM515 442h12.3v3.3h-12.3zM968 442h12.3v3.3h-12.3zM518 445h12.3v3.3h-12.3zM968 445h12.3v3.3h-12.3zM521 448h9.3v3.3h-9.3zM968 448h9.3v3.3h-9.3zM524 451h9.3v3.3h-9.3zM965 451h12.3v3.3h-12.3zM524 454h9.3v3.3h-9.3zM965 454h12.3v3.3h-12.3zM527 457h9.3v3.3h-9.3zM962 457h12.3v3.3h-12.3zM407 460h12.3v3.3h-12.3zM527 460h12.3v3.3h-12.3zM959 460h12.3v3.3h-12.3zM407 463h15.3v3.3h-15.3zM530 463h12.3v3.3h-12.3zM953 463h15.3v3.3h-15.3zM407 466h18.3v3.3h-18.3zM533 466h12.3v3.3h-12.3zM947 466h15.3v3.3h-15.3zM407 469h3.3v3.3h-3.3zM419 469h6.3v3.3h-6.3zM536 469h18.3v3.3h-18.3zM878 469h9.3v3.3h-9.3zM944 469h9.3v3.3h-9.3zM407 472h3.3v3.3h-3.3zM422 472h3.3v3.3h-3.3zM542 472h30.3v3.3h-30.3zM872 472h18.3v3.3h-18.3zM941 472h6.3v3.3h-6.3zM407 475h3.3v3.3h-3.3zM422 475h3.3v3.3h-3.3zM551 475h42.3v3.3h-42.3zM869 475h21.3v3.3h-21.3zM938 475h6.3v3.3h-6.3zM407 478h3.3v3.3h-3.3zM422 478h6.3v3.3h-6.3zM572 478h69.3v3.3h-69.3zM863 478h27.3v3.3h-27.3zM938 478h6.3v3.3h-6.3zM407 481h3.3v3.3h-3.3zM422 481h6.3v3.3h-6.3zM590 481h60.3v3.3h-60.3zM860 481h30.3v3.3h-30.3zM938 481h6.3v3.3h-6.3zM407 484h3.3v3.3h-3.3zM425 484h3.3v3.3h-3.3zM599 484h57.3v3.3h-57.3zM854 484h18.3v3.3h-18.3zM884 484h6.3v3.3h-6.3zM935 484h6.3v3.3h-6.3zM407 487h3.3v3.3h-3.3zM425 487h3.3v3.3h-3.3zM611 487h12.3v3.3h-12.3zM641 487h18.3v3.3h-18.3zM845 487h21.3v3.3h-21.3zM884 487h6.3v3.3h-6.3zM935 487h6.3v3.3h-6.3zM407 490h3.3v3.3h-3.3zM425 490h3.3v3.3h-3.3zM647 490h18.3v3.3h-18.3zM839 490h24.3v3.3h-24.3zM884 490h6.3v3.3h-6.3zM935 490h6.3v3.3h-6.3zM407 493h3.3v3.3h-3.3zM425 493h6.3v3.3h-6.3zM653 493h18.3v3.3h-18.3zM701 493h18.3v3.3h-18.3zM833 493h27.3v3.3h-27.3zM884 493h6.3v3.3h-6.3zM935 493h6.3v3.3h-6.3zM407 496h3.3v3.3h-3.3zM425 496h6.3v3.3h-6.3zM656 496h18.3v3.3h-18.3zM695 496h30.3v3.3h-30.3zM830 496h27.3v3.3h-27.3zM884 496h6.3v3.3h-6.3zM935 496h9.3v3.3h-9.3zM407 499h3.3v3.3h-3.3zM425 499h6.3v3.3h-6.3zM659 499h24.3v3.3h-24.3zM686 499h45.3v3.3h-45.3zM791 499h24.3v3.3h-24.3zM821 499h33.3v3.3h-33.3zM884 499h6.3v3.3h-6.3zM938 499h6.3v3.3h-6.3zM407 502h3.3v3.3h-3.3zM428 502h6.3v3.3h-6.3zM665 502h51.3v3.3h-51.3zM719 502h15.3v3.3h-15.3zM773 502h78.3v3.3h-78.3zM884 502h6.3v3.3h-6.3zM938 502h6.3v3.3h-6.3zM407 505h3.3v3.3h-3.3zM428 505h6.3v3.3h-6.3zM668 505h42.3v3.3h-42.3zM725 505h18.3v3.3h-18.3zM755 505h93.3v3.3h-93.3zM884 505h6.3v3.3h-6.3zM941 505h6.3v3.3h-6.3zM407 508h3.3v3.3h-3.3zM428 508h6.3v3.3h-6.3zM674 508h36.3v3.3h-36.3zM728 508h117.3v3.3h-117.3zM884 508h3.3v3.3h-3.3zM941 508h6.3v3.3h-6.3zM407 511h6.3v3.3h-6.3zM431 511h3.3v3.3h-3.3zM683 511h24.3v3.3h-24.3zM731 511h42.3v3.3h-42.3zM782 511h63.3v3.3h-63.3zM884 511h3.3v3.3h-3.3zM941 511h6.3v3.3h-6.3zM410 514h3.3v3.3h-3.3zM431 514h6.3v3.3h-6.3zM695 514h9.3v3.3h-9.3zM740 514h12.3v3.3h-12.3zM800 514h42.3v3.3h-42.3zM884 514h3.3v3.3h-3.3zM941 514h6.3v3.3h-6.3zM410 517h6.3v3.3h-6.3zM431 517h6.3v3.3h-6.3zM803 517h36.3v3.3h-36.3zM881 517h6.3v3.3h-6.3zM938 517h9.3v3.3h-9.3zM413 520h3.3v3.3h-3.3zM428 520h6.3v3.3h-6.3zM806 520h33.3v3.3h-33.3zM881 520h6.3v3.3h-6.3zM935 520h9.3v3.3h-9.3zM413 523h9.3v3.3h-9.3zM428 523h6.3v3.3h-6.3zM809 523h33.3v3.3h-33.3zM881 523h6.3v3.3h-6.3zM914 523h27.3v3.3h-27.3zM416 526h15.3v3.3h-15.3zM812 526h36.3v3.3h-36.3zM878 526h9.3v3.3h-9.3zM902 526h36.3v3.3h-36.3zM422 529h6.3v3.3h-6.3zM818 529h93.3v3.3h-93.3zM845 532h57.3v3.3h-57.3zM851 535h39.3v3.3h-39.3zM854 538h30.3v3.3h-30.3zM854 541h12.3v3.3h-12.3zM869 541h12.3v3.3h-12.3zM854 544h24.3v3.3h-24.3zM854 547h21.3v3.3h-21.3zM857 550h15.3v3.3h-15.3zM860 553h6.3v3.3h-6.3z"/>
<path fill="#d8e8f4" d="M356 268h21.3v3.3h-21.3zM356 271h21.3v3.3h-21.3zM359 274h21.3v3.3h-21.3zM368 277h12.3v3.3h-12.3zM374 280h9.3v3.3h-9.3zM380 283h6.3v3.3h-6.3zM386 286h6.3v3.3h-6.3zM389 289h6.3v3.3h-6.3zM395 292h6.3v3.3h-6.3zM398 295h6.3v3.3h-6.3zM401 298h6.3v3.3h-6.3zM407 301h3.3v3.3h-3.3zM410 304h3.3v3.3h-3.3zM413 307h3.3v3.3h-3.3zM413 310h6.3v3.3h-6.3zM416 313h6.3v3.3h-6.3zM419 316h3.3v3.3h-3.3zM422 319h3.3v3.3h-3.3zM1130 319h6.3v3.3h-6.3zM422 322h6.3v3.3h-6.3zM1127 322h9.3v3.3h-9.3zM425 325h3.3v3.3h-3.3zM1121 325h15.3v3.3h-15.3zM425 328h6.3v3.3h-6.3zM1118 328h18.3v3.3h-18.3zM425 331h6.3v3.3h-6.3zM1115 331h21.3v3.3h-21.3zM428 334h3.3v3.3h-3.3zM1112 334h24.3v3.3h-24.3zM428 337h3.3v3.3h-3.3zM1109 337h24.3v3.3h-24.3zM428 340h3.3v3.3h-3.3zM1103 340h18.3v3.3h-18.3zM428 343h3.3v3.3h-3.3zM1100 343h15.3v3.3h-15.3zM428 346h6.3v3.3h-6.3zM1097 346h15.3v3.3h-15.3zM329 349h9.3v3.3h-9.3zM428 349h6.3v3.3h-6.3zM1091 349h15.3v3.3h-15.3zM320 352h9.3v3.3h-9.3zM341 352h9.3v3.3h-9.3zM428 352h9.3v3.3h-9.3zM1088 352h12.3v3.3h-12.3zM320 355h3.3v3.3h-3.3zM353 355h6.3v3.3h-6.3zM431 355h6.3v3.3h-6.3zM872 355h27.3v3.3h-27.3zM1085 355h9.3v3.3h-9.3zM317 358h6.3v3.3h-6.3zM359 358h6.3v3.3h-6.3zM431 358h9.3v3.3h-9.3zM863 358h12.3v3.3h-12.3zM887 358h24.3v3.3h-24.3zM1082 358h9.3v3.3h-9.3zM317 361h3.3v3.3h-3.3zM368 361h3.3v3.3h-3.3zM434 361h9.3v3.3h-9.3zM860 361h6.3v3.3h-6.3zM890 361h24.3v3.3h-24.3zM1079 361h6.3v3.3h-6.3zM317 364h3.3v3.3h-3.3zM374 364h3.3v3.3h-3.3zM437 364h9.3v3.3h-9.3zM860 364h3.3v3.3h-3.3zM893 364h12.3v3.3h-12.3zM1076 364h6.3v3.3h-6.3zM317 367h3.3v3.3h-3.3zM377 367h6.3v3.3h-6.3zM437 367h12.3v3.3h-12.3zM857 367h6.3v3.3h-6.3zM893 367h9.3v3.3h-9.3zM968 367h9.3v3.3h-9.3zM1073 367h6.3v3.3h-6.3zM317 370h3.3v3.3h-3.3zM380 370h6.3v3.3h-6.3zM440 370h9.3v3.3h-9.3zM857 370h6.3v3.3h-6.3zM893 370h9.3v3.3h-9.3zM977 370h6.3v3.3h-6.3zM1070 370h6.3v3.3h-6.3zM317 373h3.3v3.3h-3.3zM383 373h3.3v3.3h-3.3zM443 373h9.3v3.3h-9.3zM857 373h6.3v3.3h-6.3zM893 373h9.3v3.3h-9.3zM977 373h6.3v3.3h-6.3zM1067 373h6.3v3.3h-6.3zM317 376h3.3v3.3h-3.3zM383 376h3.3v3.3h-3.3zM443 376h12.3v3.3h-12.3zM857 376h6.3v3.3h-6.3zM899 376h3.3v3.3h-3.3zM977 376h6.3v3.3h-6.3zM1064 376h6.3v3.3h-6.3zM317 379h3.3v3.3h-3.3zM383 379h3.3v3.3h-3.3zM446 379h24.3v3.3h-24.3zM857 379h6.3v3.3h-6.3zM977 379h3.3v3.3h-3.3zM1061 379h6.3v3.3h-6.3zM317 382h3.3v3.3h-3.3zM383 382h3.3v3.3h-3.3zM446 382h30.3v3.3h-30.3zM860 382h3.3v3.3h-3.3zM974 382h6.3v3.3h-6.3zM1058 382h6.3v3.3h-6.3zM317 385h3.3v3.3h-3.3zM383 385h3.3v3.3h-3.3zM446 385h30.3v3.3h-30.3zM860 385h6.3v3.3h-6.3zM968 385h9.3v3.3h-9.3zM1055 385h6.3v3.3h-6.3zM317 388h3.3v3.3h-3.3zM383 388h3.3v3.3h-3.3zM449 388h27.3v3.3h-27.3zM863 388h6.3v3.3h-6.3zM953 388h12.3v3.3h-12.3zM1034 388h6.3v3.3h-6.3zM1049 388h9.3v3.3h-9.3zM317 391h6.3v3.3h-6.3zM383 391h3.3v3.3h-3.3zM449 391h27.3v3.3h-27.3zM863 391h6.3v3.3h-6.3zM941 391h9.3v3.3h-9.3zM1031 391h21.3v3.3h-21.3zM320 394h3.3v3.3h-3.3zM383 394h3.3v3.3h-3.3zM449 394h27.3v3.3h-27.3zM866 394h6.3v3.3h-6.3zM926 394h9.3v3.3h-9.3zM1028 394h9.3v3.3h-9.3zM320 397h6.3v3.3h-6.3zM383 397h3.3v3.3h-3.3zM452 397h27.3v3.3h-27.3zM866 397h6.3v3.3h-6.3zM920 397h6.3v3.3h-6.3zM1028 397h3.3v3.3h-3.3zM323 400h3.3v3.3h-3.3zM383 400h3.3v3.3h-3.3zM455 400h24.3v3.3h-24.3zM869 400h3.3v3.3h-3.3zM917 400h3.3v3.3h-3.3zM1025 400h3.3v3.3h-3.3zM323 403h6.3v3.3h-6.3zM383 403h3.3v3.3h-3.3zM458 403h21.3v3.3h-21.3zM914 403h6.3v3.3h-6.3zM1022 403h3.3v3.3h-3.3zM326 406h3.3v3.3h-3.3zM383 406h6.3v3.3h-6.3zM470 406h12.3v3.3h-12.3zM908 406h9.3v3.3h-9.3zM1019 406h3.3v3.3h-3.3zM329 409h3.3v3.3h-3.3zM383 409h6.3v3.3h-6.3zM473 409h9.3v3.3h-9.3zM872 409h9.3v3.3h-9.3zM902 409h12.3v3.3h-12.3zM1016 409h3.3v3.3h-3.3zM329 412h3.3v3.3h-3.3zM386 412h6.3v3.3h-6.3zM476 412h9.3v3.3h-9.3zM875 412h9.3v3.3h-9.3zM899 412h9.3v3.3h-9.3zM1013 412h6.3v3.3h-6.3zM332 415h3.3v3.3h-3.3zM386 415h6.3v3.3h-6.3zM479 415h9.3v3.3h-9.3zM875 415h30.3v3.3h-30.3zM1010 415h6.3v3.3h-6.3zM332 418h3.3v3.3h-3.3zM386 418h9.3v3.3h-9.3zM479 418h12.3v3.3h-12.3zM875 418h24.3v3.3h-24.3zM1007 418h6.3v3.3h-6.3zM335 421h3.3v3.3h-3.3zM386 421h12.3v3.3h-12.3zM482 421h9.3v3.3h-9.3zM878 421h15.3v3.3h-15.3zM998 421h12.3v3.3h-12.3zM335 424h3.3v3.3h-3.3zM386 424h15.3v3.3h-15.3zM485 424h9.3v3.3h-9.3zM992 424h12.3v3.3h-12.3zM338 427h3.3v3.3h-3.3zM386 427h18.3v3.3h-18.3zM485 427h12.3v3.3h-12.3zM989 427h9.3v3.3h-9.3zM338 430h3.3v3.3h-3.3zM383 430h24.3v3.3h-24.3zM488 430h12.3v3.3h-12.3zM983 430h12.3v3.3h-12.3zM338 433h6.3v3.3h-6.3zM380 433h27.3v3.3h-27.3zM491 433h12.3v3.3h-12.3zM980 433h12.3v3.3h-12.3zM341 436h3.3v3.3h-3.3zM377 436h33.3v3.3h-33.3zM494 436h12.3v3.3h-12.3zM980 436h9.3v3.3h-9.3zM344 439h6.3v3.3h-6.3zM365 439h48.3v3.3h-48.3zM500 439h12.3v3.3h-12.3zM980 439h6.3v3.3h-6.3zM347 442h24.3v3.3h-24.3zM389 442h27.3v3.3h-27.3zM503 442h12.3v3.3h-12.3zM980 442h6.3v3.3h-6.3zM392 445h24.3v3.3h-24.3zM506 445h12.3v3.3h-12.3zM980 445h6.3v3.3h-6.3zM395 448h24.3v3.3h-24.3zM509 448h12.3v3.3h-12.3zM977 448h9.3v3.3h-9.3zM398 451h24.3v3.3h-24.3zM512 451h12.3v3.3h-12.3zM977 451h9.3v3.3h-9.3zM401 454h21.3v3.3h-21.3zM515 454h9.3v3.3h-9.3zM977 454h6.3v3.3h-6.3zM401 457h24.3v3.3h-24.3zM518 457h9.3v3.3h-9.3zM974 457h9.3v3.3h-9.3zM401 460h6.3v3.3h-6.3zM419 460h9.3v3.3h-9.3zM518 460h9.3v3.3h-9.3zM971 460h9.3v3.3h-9.3zM404 463h3.3v3.3h-3.3zM422 463h6.3v3.3h-6.3zM521 463h9.3v3.3h-9.3zM968 463h9.3v3.3h-9.3zM404 466h3.3v3.3h-3.3zM425 466h3.3v3.3h-3.3zM521 466h12.3v3.3h-12.3zM962 466h12.3v3.3h-12.3zM404 469h3.3v3.3h-3.3zM425 469h6.3v3.3h-6.3zM524 469h12.3v3.3h-12.3zM953 469h18.3v3.3h-18.3zM404 472h3.3v3.3h-3.3zM425 472h6.3v3.3h-6.3zM527 472h15.3v3.3h-15.3zM947 472h15.3v3.3h-15.3zM404 475h3.3v3.3h-3.3zM425 475h6.3v3.3h-6.3zM533 475h18.3v3.3h-18.3zM944 475h12.3v3.3h-12.3zM404 478h3.3v3.3h-3.3zM428 478h3.3v3.3h-3.3zM539 478h33.3v3.3h-33.3zM944 478h6.3v3.3h-6.3zM404 481h3.3v3.3h-3.3zM428 481h3.3v3.3h-3.3zM545 481h45.3v3.3h-45.3zM944 481h6.3v3.3h-6.3zM404 484h3.3v3.3h-3.3zM428 484h3.3v3.3h-3.3zM581 484h18.3v3.3h-18.3zM872 484h12.3v3.3h-12.3zM941 484h9.3v3.3h-9.3zM404 487h3.3v3.3h-3.3zM428 487h6.3v3.3h-6.3zM593 487h18.3v3.3h-18.3zM623 487h18.3v3.3h-18.3zM866 487h18.3v3.3h-18.3zM941 487h6.3v3.3h-6.3zM404 490h3.3v3.3h-3.3zM428 490h6.3v3.3h-6.3zM599 490h48.3v3.3h-48.3zM863 490h21.3v3.3h-21.3zM941 490h6.3v3.3h-6.3zM404 493h3.3v3.3h-3.3zM431 493h3.3v3.3h-3.3zM602 493h51.3v3.3h-51.3zM860 493h24.3v3.3h-24.3zM941 493h9.3v3.3h-9.3zM404 496h3.3v3.3h-3.3zM431 496h3.3v3.3h-3.3zM608 496h21.3v3.3h-21.3zM641 496h15.3v3.3h-15.3zM857 496h15.3v3.3h-15.3zM875 496h9.3v3.3h-9.3zM944 496h6.3v3.3h-6.3zM404 499h3.3v3.3h-3.3zM431 499h6.3v3.3h-6.3zM647 499h12.3v3.3h-12.3zM854 499h12.3v3.3h-12.3zM878 499h6.3v3.3h-6.3zM944 499h6.3v3.3h-6.3zM404 502h3.3v3.3h-3.3zM434 502h3.3v3.3h-3.3zM650 502h15.3v3.3h-15.3zM716 502h3.3v3.3h-3.3zM851 502h12.3v3.3h-12.3zM881 502h3.3v3.3h-3.3zM944 502h6.3v3.3h-6.3zM404 505h3.3v3.3h-3.3zM434 505h3.3v3.3h-3.3zM653 505h15.3v3.3h-15.3zM710 505h15.3v3.3h-15.3zM848 505h15.3v3.3h-15.3zM881 505h3.3v3.3h-3.3zM947 505h6.3v3.3h-6.3zM404 508h3.3v3.3h-3.3zM434 508h6.3v3.3h-6.3zM656 508h18.3v3.3h-18.3zM710 508h18.3v3.3h-18.3zM845 508h18.3v3.3h-18.3zM881 508h3.3v3.3h-3.3zM947 508h6.3v3.3h-6.3zM404 511h3.3v3.3h-3.3zM434 511h6.3v3.3h-6.3zM659 511h24.3v3.3h-24.3zM707 511h24.3v3.3h-24.3zM773 511h9.3v3.3h-9.3zM845 511h15.3v3.3h-15.3zM878 511h6.3v3.3h-6.3zM947 511h6.3v3.3h-6.3zM404 514h6.3v3.3h-6.3zM437 514h3.3v3.3h-3.3zM668 514h27.3v3.3h-27.3zM704 514h36.3v3.3h-36.3zM752 514h48.3v3.3h-48.3zM842 514h21.3v3.3h-21.3zM878 514h6.3v3.3h-6.3zM947 514h6.3v3.3h-6.3zM407 517h3.3v3.3h-3.3zM437 517h3.3v3.3h-3.3zM677 517h126.3v3.3h-126.3zM839 517h27.3v3.3h-27.3zM875 517h6.3v3.3h-6.3zM947 517h6.3v3.3h-6.3zM407 520h6.3v3.3h-6.3zM434 520h6.3v3.3h-6.3zM686 520h120.3v3.3h-120.3zM839 520h42.3v3.3h-42.3zM944 520h9.3v3.3h-9.3zM410 523h3.3v3.3h-3.3zM434 523h6.3v3.3h-6.3zM698 523h63.3v3.3h-63.3zM791 523h18.3v3.3h-18.3zM842 523h39.3v3.3h-39.3zM941 523h12.3v3.3h-12.3zM413 526h3.3v3.3h-3.3zM431 526h6.3v3.3h-6.3zM794 526h18.3v3.3h-18.3zM848 526h30.3v3.3h-30.3zM938 526h12.3v3.3h-12.3zM416 529h6.3v3.3h-6.3zM428 529h6.3v3.3h-6.3zM797 529h21.3v3.3h-21.3zM911 529h33.3v3.3h-33.3zM419 532h12.3v3.3h-12.3zM803 532h42.3v3.3h-42.3zM902 532h36.3v3.3h-36.3zM806 535h45.3v3.3h-45.3zM890 535h39.3v3.3h-39.3zM818 538h36.3v3.3h-36.3zM884 538h21.3v3.3h-21.3zM836 541h18.3v3.3h-18.3zM881 541h18.3v3.3h-18.3zM845 544h9.3v3.3h-9.3zM878 544h12.3v3.3h-12.3zM848 547h6.3v3.3h-6.3zM875 547h9.3v3.3h-9.3zM848 550h9.3v3.3h-9.3zM872 550h9.3v3.3h-9.3zM848 553h12.3v3.3h-12.3zM866 553h9.3v3.3h-9.3zM851 556h21.3v3.3h-21.3z"/>
<path fill="#c8dcf0" d="M332 268h24.3v3.3h-24.3zM332 271h24.3v3.3h-24.3zM332 274h27.3v3.3h-27.3zM338 277h30.3v3.3h-30.3zM353 280h21.3v3.3h-21.3zM368 283h12.3v3.3h-12.3zM377 286h9.3v3.3h-9.3zM383 289h6.3v3.3h-6.3zM389 292h6.3v3.3h-6.3zM395 295h3.3v3.3h-3.3zM398 298h3.3v3.3h-3.3zM401 301h6.3v3.3h-6.3zM404 304h6.3v3.3h-6.3zM407 307h6.3v3.3h-6.3zM410 310h3.3v3.3h-3.3zM413 313h3.3v3.3h-3.3zM416 316h3.3v3.3h-3.3zM419 319h3.3v3.3h-3.3zM419 322h3.3v3.3h-3.3zM422 325h3.3v3.3h-3.3zM422 328h3.3v3.3h-3.3zM422 331h3.3v3.3h-3.3zM422 334h6.3v3.3h-6.3zM422 337h6.3v3.3h-6.3zM1133 337h3.3v3.3h-3.3zM422 340h6.3v3.3h-6.3zM1121 340h15.3v3.3h-15.3zM422 343h6.3v3.3h-6.3zM1115 343h12.3v3.3h-12.3zM320 346h15.3v3.3h-15.3zM422 346h6.3v3.3h-6.3zM1112 346h9.3v3.3h-9.3zM317 349h12.3v3.3h-12.3zM338 349h9.3v3.3h-9.3zM422 349h6.3v3.3h-6.3zM1106 349h12.3v3.3h-12.3zM314 352h6.3v3.3h-6.3zM350 352h6.3v3.3h-6.3zM422 352h6.3v3.3h-6.3zM1100 352h12.3v3.3h-12.3zM314 355h6.3v3.3h-6.3zM359 355h3.3v3.3h-3.3zM422 355h9.3v3.3h-9.3zM1094 355h12.3v3.3h-12.3zM311 358h6.3v3.3h-6.3zM365 358h3.3v3.3h-3.3zM425 358h6.3v3.3h-6.3zM875 358h12.3v3.3h-12.3zM1091 358h9.3v3.3h-9.3zM311 361h6.3v3.3h-6.3zM371 361h6.3v3.3h-6.3zM425 361h9.3v3.3h-9.3zM866 361h24.3v3.3h-24.3zM1085 361h9.3v3.3h-9.3zM311 364h6.3v3.3h-6.3zM377 364h6.3v3.3h-6.3zM425 364h12.3v3.3h-12.3zM863 364h30.3v3.3h-30.3zM905 364h9.3v3.3h-9.3zM1082 364h9.3v3.3h-9.3zM311 367h6.3v3.3h-6.3zM383 367h6.3v3.3h-6.3zM425 367h12.3v3.3h-12.3zM863 367h6.3v3.3h-6.3zM878 367h15.3v3.3h-15.3zM902 367h12.3v3.3h-12.3zM1079 367h6.3v3.3h-6.3zM311 370h6.3v3.3h-6.3zM386 370h6.3v3.3h-6.3zM428 370h12.3v3.3h-12.3zM863 370h6.3v3.3h-6.3zM881 370h12.3v3.3h-12.3zM902 370h9.3v3.3h-9.3zM965 370h12.3v3.3h-12.3zM1076 370h6.3v3.3h-6.3zM311 373h6.3v3.3h-6.3zM386 373h6.3v3.3h-6.3zM431 373h12.3v3.3h-12.3zM863 373h6.3v3.3h-6.3zM878 373h9.3v3.3h-9.3zM890 373h3.3v3.3h-3.3zM902 373h6.3v3.3h-6.3zM971 373h6.3v3.3h-6.3zM1073 373h6.3v3.3h-6.3zM311 376h6.3v3.3h-6.3zM386 376h6.3v3.3h-6.3zM431 376h12.3v3.3h-12.3zM863 376h6.3v3.3h-6.3zM878 376h6.3v3.3h-6.3zM974 376h3.3v3.3h-3.3zM1070 376h3.3v3.3h-3.3zM311 379h6.3v3.3h-6.3zM386 379h6.3v3.3h-6.3zM434 379h12.3v3.3h-12.3zM863 379h21.3v3.3h-21.3zM971 379h6.3v3.3h-6.3zM1067 379h3.3v3.3h-3.3zM311 382h6.3v3.3h-6.3zM386 382h3.3v3.3h-3.3zM434 382h12.3v3.3h-12.3zM863 382h18.3v3.3h-18.3zM968 382h6.3v3.3h-6.3zM1064 382h3.3v3.3h-3.3zM311 385h6.3v3.3h-6.3zM386 385h3.3v3.3h-3.3zM437 385h9.3v3.3h-9.3zM866 385h15.3v3.3h-15.3zM953 385h15.3v3.3h-15.3zM1061 385h3.3v3.3h-3.3zM311 388h6.3v3.3h-6.3zM386 388h3.3v3.3h-3.3zM437 388h12.3v3.3h-12.3zM869 388h12.3v3.3h-12.3zM944 388h9.3v3.3h-9.3zM1058 388h3.3v3.3h-3.3zM311 391h6.3v3.3h-6.3zM386 391h3.3v3.3h-3.3zM437 391h12.3v3.3h-12.3zM869 391h9.3v3.3h-9.3zM908 391h6.3v3.3h-6.3zM926 391h15.3v3.3h-15.3zM1052 391h6.3v3.3h-6.3zM314 394h6.3v3.3h-6.3zM386 394h3.3v3.3h-3.3zM437 394h12.3v3.3h-12.3zM872 394h6.3v3.3h-6.3zM908 394h18.3v3.3h-18.3zM1037 394h18.3v3.3h-18.3zM314 397h6.3v3.3h-6.3zM386 397h3.3v3.3h-3.3zM440 397h12.3v3.3h-12.3zM872 397h3.3v3.3h-3.3zM911 397h9.3v3.3h-9.3zM1031 397h21.3v3.3h-21.3zM317 400h6.3v3.3h-6.3zM386 400h3.3v3.3h-3.3zM440 400h15.3v3.3h-15.3zM914 400h3.3v3.3h-3.3zM1028 400h12.3v3.3h-12.3zM320 403h3.3v3.3h-3.3zM386 403h6.3v3.3h-6.3zM440 403h18.3v3.3h-18.3zM896 403h18.3v3.3h-18.3zM1025 403h9.3v3.3h-9.3zM320 406h6.3v3.3h-6.3zM389 406h6.3v3.3h-6.3zM443 406h27.3v3.3h-27.3zM878 406h30.3v3.3h-30.3zM1022 406h6.3v3.3h-6.3zM323 409h6.3v3.3h-6.3zM389 409h9.3v3.3h-9.3zM443 409h30.3v3.3h-30.3zM881 409h21.3v3.3h-21.3zM1019 409h6.3v3.3h-6.3zM326 412h3.3v3.3h-3.3zM392 412h9.3v3.3h-9.3zM443 412h33.3v3.3h-33.3zM884 412h15.3v3.3h-15.3zM1019 412h3.3v3.3h-3.3zM329 415h3.3v3.3h-3.3zM392 415h15.3v3.3h-15.3zM443 415h36.3v3.3h-36.3zM1016 415h6.3v3.3h-6.3zM329 418h3.3v3.3h-3.3zM395 418h15.3v3.3h-15.3zM446 418h33.3v3.3h-33.3zM1013 418h6.3v3.3h-6.3zM332 421h3.3v3.3h-3.3zM398 421h15.3v3.3h-15.3zM446 421h36.3v3.3h-36.3zM1010 421h6.3v3.3h-6.3zM332 424h3.3v3.3h-3.3zM401 424h15.3v3.3h-15.3zM452 424h33.3v3.3h-33.3zM1004 424h9.3v3.3h-9.3zM335 427h3.3v3.3h-3.3zM404 427h15.3v3.3h-15.3zM473 427h12.3v3.3h-12.3zM998 427h9.3v3.3h-9.3zM335 430h3.3v3.3h-3.3zM407 430h12.3v3.3h-12.3zM476 430h12.3v3.3h-12.3zM995 430h9.3v3.3h-9.3zM335 433h3.3v3.3h-3.3zM407 433h15.3v3.3h-15.3zM479 433h12.3v3.3h-12.3zM992 433h6.3v3.3h-6.3zM338 436h3.3v3.3h-3.3zM410 436h15.3v3.3h-15.3zM482 436h12.3v3.3h-12.3zM989 436h6.3v3.3h-6.3zM341 439h3.3v3.3h-3.3zM413 439h15.3v3.3h-15.3zM485 439h15.3v3.3h-15.3zM986 439h9.3v3.3h-9.3zM341 442h6.3v3.3h-6.3zM371 442h18.3v3.3h-18.3zM416 442h12.3v3.3h-12.3zM488 442h15.3v3.3h-15.3zM986 442h6.3v3.3h-6.3zM344 445h30.3v3.3h-30.3zM383 445h9.3v3.3h-9.3zM416 445h15.3v3.3h-15.3zM491 445h15.3v3.3h-15.3zM986 445h6.3v3.3h-6.3zM350 448h12.3v3.3h-12.3zM389 448h6.3v3.3h-6.3zM419 448h12.3v3.3h-12.3zM494 448h15.3v3.3h-15.3zM986 448h6.3v3.3h-6.3zM392 451h6.3v3.3h-6.3zM422 451h12.3v3.3h-12.3zM497 451h15.3v3.3h-15.3zM986 451h6.3v3.3h-6.3zM395 454h6.3v3.3h-6.3zM422 454h12.3v3.3h-12.3zM503 454h12.3v3.3h-12.3zM983 454h6.3v3.3h-6.3zM398 457h3.3v3.3h-3.3zM425 457h9.3v3.3h-9.3zM506 457h12.3v3.3h-12.3zM983 457h6.3v3.3h-6.3zM398 460h3.3v3.3h-3.3zM428 460h6.3v3.3h-6.3zM509 460h9.3v3.3h-9.3zM980 460h6.3v3.3h-6.3zM401 463h3.3v3.3h-3.3zM428 463h6.3v3.3h-6.3zM509 463h12.3v3.3h-12.3zM977 463h9.3v3.3h-9.3zM401 466h3.3v3.3h-3.3zM428 466h6.3v3.3h-6.3zM512 466h9.3v3.3h-9.3zM974 466h9.3v3.3h-9.3zM401 469h3.3v3.3h-3.3zM431 469h3.3v3.3h-3.3zM515 469h9.3v3.3h-9.3zM971 469h9.3v3.3h-9.3zM401 472h3.3v3.3h-3.3zM431 472h3.3v3.3h-3.3zM518 472h9.3v3.3h-9.3zM962 472h15.3v3.3h-15.3zM401 475h3.3v3.3h-3.3zM431 475h3.3v3.3h-3.3zM518 475h15.3v3.3h-15.3zM956 475h15.3v3.3h-15.3zM401 478h3.3v3.3h-3.3zM431 478h3.3v3.3h-3.3zM521 478h18.3v3.3h-18.3zM950 478h12.3v3.3h-12.3zM401 481h3.3v3.3h-3.3zM431 481h3.3v3.3h-3.3zM527 481h18.3v3.3h-18.3zM950 481h9.3v3.3h-9.3zM401 484h3.3v3.3h-3.3zM431 484h3.3v3.3h-3.3zM533 484h48.3v3.3h-48.3zM950 484h6.3v3.3h-6.3zM401 487h3.3v3.3h-3.3zM434 487h3.3v3.3h-3.3zM539 487h54.3v3.3h-54.3zM947 487h9.3v3.3h-9.3zM401 490h3.3v3.3h-3.3zM434 490h3.3v3.3h-3.3zM545 490h15.3v3.3h-15.3zM587 490h12.3v3.3h-12.3zM947 490h9.3v3.3h-9.3zM401 493h3.3v3.3h-3.3zM434 493h3.3v3.3h-3.3zM593 493h9.3v3.3h-9.3zM950 493h6.3v3.3h-6.3zM401 496h3.3v3.3h-3.3zM434 496h6.3v3.3h-6.3zM599 496h9.3v3.3h-9.3zM629 496h12.3v3.3h-12.3zM872 496h3.3v3.3h-3.3zM950 496h6.3v3.3h-6.3zM401 499h3.3v3.3h-3.3zM437 499h3.3v3.3h-3.3zM602 499h45.3v3.3h-45.3zM866 499h12.3v3.3h-12.3zM950 499h6.3v3.3h-6.3zM401 502h3.3v3.3h-3.3zM437 502h6.3v3.3h-6.3zM608 502h42.3v3.3h-42.3zM863 502h18.3v3.3h-18.3zM950 502h6.3v3.3h-6.3zM401 505h3.3v3.3h-3.3zM437 505h6.3v3.3h-6.3zM614 505h12.3v3.3h-12.3zM641 505h12.3v3.3h-12.3zM863 505h18.3v3.3h-18.3zM953 505h3.3v3.3h-3.3zM401 508h3.3v3.3h-3.3zM440 508h3.3v3.3h-3.3zM644 508h12.3v3.3h-12.3zM863 508h18.3v3.3h-18.3zM953 508h6.3v3.3h-6.3zM401 511h3.3v3.3h-3.3zM440 511h3.3v3.3h-3.3zM647 511h12.3v3.3h-12.3zM860 511h18.3v3.3h-18.3zM953 511h6.3v3.3h-6.3zM401 514h3.3v3.3h-3.3zM440 514h6.3v3.3h-6.3zM650 514h18.3v3.3h-18.3zM863 514h15.3v3.3h-15.3zM953 514h6.3v3.3h-6.3zM404 517h3.3v3.3h-3.3zM440 517h6.3v3.3h-6.3zM656 517h21.3v3.3h-21.3zM866 517h9.3v3.3h-9.3zM953 517h6.3v3.3h-6.3zM404 520h3.3v3.3h-3.3zM440 520h6.3v3.3h-6.3zM662 520h24.3v3.3h-24.3zM953 520h6.3v3.3h-6.3zM407 523h3.3v3.3h-3.3zM440 523h6.3v3.3h-6.3zM674 523h24.3v3.3h-24.3zM761 523h30.3v3.3h-30.3zM953 523h6.3v3.3h-6.3zM407 526h6.3v3.3h-6.3zM437 526h6.3v3.3h-6.3zM683 526h111.3v3.3h-111.3zM950 526h6.3v3.3h-6.3zM410 529h6.3v3.3h-6.3zM434 529h6.3v3.3h-6.3zM695 529h78.3v3.3h-78.3zM785 529h12.3v3.3h-12.3zM944 529h12.3v3.3h-12.3zM413 532h6.3v3.3h-6.3zM431 532h6.3v3.3h-6.3zM707 532h51.3v3.3h-51.3zM791 532h12.3v3.3h-12.3zM938 532h12.3v3.3h-12.3zM416 535h18.3v3.3h-18.3zM794 535h12.3v3.3h-12.3zM929 535h18.3v3.3h-18.3zM797 538h21.3v3.3h-21.3zM905 538h36.3v3.3h-36.3zM803 541h33.3v3.3h-33.3zM899 541h36.3v3.3h-36.3zM812 544h33.3v3.3h-33.3zM890 544h39.3v3.3h-39.3zM827 547h21.3v3.3h-21.3zM884 547h30.3v3.3h-30.3zM839 550h9.3v3.3h-9.3zM881 550h21.3v3.3h-21.3zM839 553h9.3v3.3h-9.3zM875 553h15.3v3.3h-15.3zM842 556h9.3v3.3h-9.3zM872 556h9.3v3.3h-9.3zM842 559h33.3v3.3h-33.3zM845 562h21.3v3.3h-21.3z"/>
<path fill="#bcd2ee" d="M323 268h9.3v3.3h-9.3zM323 271h9.3v3.3h-9.3zM323 274h9.3v3.3h-9.3zM323 277h15.3v3.3h-15.3zM326 280h27.3v3.3h-27.3zM329 283h39.3v3.3h-39.3zM362 286h15.3v3.3h-15.3zM374 289h9.3v3.3h-9.3zM380 292h9.3v3.3h-9.3zM389 295h6.3v3.3h-6.3zM392 298h6.3v3.3h-6.3zM398 301h3.3v3.3h-3.3zM401 304h3.3v3.3h-3.3zM404 307h3.3v3.3h-3.3zM407 310h3.3v3.3h-3.3zM410 313h3.3v3.3h-3.3zM413 316h3.3v3.3h-3.3zM413 319h6.3v3.3h-6.3zM416 322h3.3v3.3h-3.3zM416 325h6.3v3.3h-6.3zM416 328h6.3v3.3h-6.3zM419 331h3.3v3.3h-3.3zM419 334h3.3v3.3h-3.3zM419 337h3.3v3.3h-3.3zM314 340h15.3v3.3h-15.3zM419 340h3.3v3.3h-3.3zM311 343h27.3v3.3h-27.3zM419 343h3.3v3.3h-3.3zM1127 343h9.3v3.3h-9.3zM311 346h9.3v3.3h-9.3zM335 346h12.3v3.3h-12.3zM416 346h6.3v3.3h-6.3zM1121 346h9.3v3.3h-9.3zM308 349h9.3v3.3h-9.3zM347 349h6.3v3.3h-6.3zM416 349h6.3v3.3h-6.3zM1118 349h6.3v3.3h-6.3zM308 352h6.3v3.3h-6.3zM356 352h3.3v3.3h-3.3zM416 352h6.3v3.3h-6.3zM1112 352h9.3v3.3h-9.3zM305 355h9.3v3.3h-9.3zM362 355h3.3v3.3h-3.3zM416 355h6.3v3.3h-6.3zM1106 355h9.3v3.3h-9.3zM305 358h6.3v3.3h-6.3zM368 358h6.3v3.3h-6.3zM416 358h9.3v3.3h-9.3zM1100 358h9.3v3.3h-9.3zM302 361h9.3v3.3h-9.3zM377 361h6.3v3.3h-6.3zM416 361h9.3v3.3h-9.3zM1094 361h9.3v3.3h-9.3zM302 364h9.3v3.3h-9.3zM383 364h12.3v3.3h-12.3zM413 364h12.3v3.3h-12.3zM1091 364h9.3v3.3h-9.3zM302 367h9.3v3.3h-9.3zM389 367h36.3v3.3h-36.3zM869 367h9.3v3.3h-9.3zM1085 367h9.3v3.3h-9.3zM302 370h9.3v3.3h-9.3zM392 370h36.3v3.3h-36.3zM869 370h12.3v3.3h-12.3zM959 370h6.3v3.3h-6.3zM1082 370h9.3v3.3h-9.3zM302 373h9.3v3.3h-9.3zM392 373h39.3v3.3h-39.3zM869 373h9.3v3.3h-9.3zM950 373h21.3v3.3h-21.3zM1079 373h6.3v3.3h-6.3zM299 376h12.3v3.3h-12.3zM392 376h12.3v3.3h-12.3zM416 376h15.3v3.3h-15.3zM869 376h9.3v3.3h-9.3zM962 376h12.3v3.3h-12.3zM1073 376h6.3v3.3h-6.3zM299 379h12.3v3.3h-12.3zM392 379h6.3v3.3h-6.3zM419 379h15.3v3.3h-15.3zM959 379h12.3v3.3h-12.3zM1070 379h6.3v3.3h-6.3zM299 382h12.3v3.3h-12.3zM389 382h6.3v3.3h-6.3zM422 382h12.3v3.3h-12.3zM917 382h3.3v3.3h-3.3zM950 382h18.3v3.3h-18.3zM1067 382h6.3v3.3h-6.3zM299 385h12.3v3.3h-12.3zM389 385h6.3v3.3h-6.3zM422 385h15.3v3.3h-15.3zM914 385h6.3v3.3h-6.3zM941 385h12.3v3.3h-12.3zM1064 385h6.3v3.3h-6.3zM299 388h12.3v3.3h-12.3zM389 388h3.3v3.3h-3.3zM425 388h12.3v3.3h-12.3zM911 388h33.3v3.3h-33.3zM1061 388h6.3v3.3h-6.3zM299 391h12.3v3.3h-12.3zM389 391h3.3v3.3h-3.3zM425 391h12.3v3.3h-12.3zM914 391h12.3v3.3h-12.3zM1058 391h6.3v3.3h-6.3zM299 394h15.3v3.3h-15.3zM389 394h6.3v3.3h-6.3zM425 394h12.3v3.3h-12.3zM1055 394h6.3v3.3h-6.3zM302 397h12.3v3.3h-12.3zM389 397h6.3v3.3h-6.3zM428 397h12.3v3.3h-12.3zM1052 397h6.3v3.3h-6.3zM305 400h12.3v3.3h-12.3zM389 400h9.3v3.3h-9.3zM428 400h12.3v3.3h-12.3zM1040 400h15.3v3.3h-15.3zM311 403h9.3v3.3h-9.3zM392 403h9.3v3.3h-9.3zM428 403h12.3v3.3h-12.3zM1034 403h18.3v3.3h-18.3zM314 406h6.3v3.3h-6.3zM395 406h15.3v3.3h-15.3zM428 406h15.3v3.3h-15.3zM1028 406h18.3v3.3h-18.3zM317 409h6.3v3.3h-6.3zM398 409h21.3v3.3h-21.3zM425 409h18.3v3.3h-18.3zM1025 409h15.3v3.3h-15.3zM320 412h6.3v3.3h-6.3zM401 412h42.3v3.3h-42.3zM1022 412h9.3v3.3h-9.3zM323 415h6.3v3.3h-6.3zM407 415h36.3v3.3h-36.3zM1022 415h6.3v3.3h-6.3zM326 418h3.3v3.3h-3.3zM410 418h36.3v3.3h-36.3zM1019 418h9.3v3.3h-9.3zM326 421h6.3v3.3h-6.3zM413 421h33.3v3.3h-33.3zM1016 421h9.3v3.3h-9.3zM329 424h3.3v3.3h-3.3zM416 424h36.3v3.3h-36.3zM1013 424h9.3v3.3h-9.3zM332 427h3.3v3.3h-3.3zM419 427h54.3v3.3h-54.3zM1007 427h12.3v3.3h-12.3zM332 430h3.3v3.3h-3.3zM419 430h57.3v3.3h-57.3zM1004 430h9.3v3.3h-9.3zM422 433h57.3v3.3h-57.3zM998 433h9.3v3.3h-9.3zM335 436h3.3v3.3h-3.3zM425 436h57.3v3.3h-57.3zM995 436h9.3v3.3h-9.3zM335 439h6.3v3.3h-6.3zM428 439h57.3v3.3h-57.3zM995 439h6.3v3.3h-6.3zM338 442h3.3v3.3h-3.3zM428 442h18.3v3.3h-18.3zM458 442h30.3v3.3h-30.3zM992 442h6.3v3.3h-6.3zM341 445h3.3v3.3h-3.3zM374 445h9.3v3.3h-9.3zM431 445h12.3v3.3h-12.3zM464 445h27.3v3.3h-27.3zM992 445h3.3v3.3h-3.3zM344 448h6.3v3.3h-6.3zM362 448h12.3v3.3h-12.3zM383 448h6.3v3.3h-6.3zM431 448h12.3v3.3h-12.3zM473 448h21.3v3.3h-21.3zM992 448h3.3v3.3h-3.3zM347 451h21.3v3.3h-21.3zM389 451h3.3v3.3h-3.3zM434 451h9.3v3.3h-9.3zM479 451h18.3v3.3h-18.3zM992 451h3.3v3.3h-3.3zM353 454h3.3v3.3h-3.3zM392 454h3.3v3.3h-3.3zM434 454h9.3v3.3h-9.3zM482 454h21.3v3.3h-21.3zM989 454h6.3v3.3h-6.3zM395 457h3.3v3.3h-3.3zM434 457h6.3v3.3h-6.3zM488 457h18.3v3.3h-18.3zM989 457h6.3v3.3h-6.3zM395 460h3.3v3.3h-3.3zM434 460h6.3v3.3h-6.3zM491 460h18.3v3.3h-18.3zM986 460h6.3v3.3h-6.3zM398 463h3.3v3.3h-3.3zM434 463h3.3v3.3h-3.3zM494 463h15.3v3.3h-15.3zM986 463h6.3v3.3h-6.3zM398 466h3.3v3.3h-3.3zM434 466h3.3v3.3h-3.3zM497 466h15.3v3.3h-15.3zM983 466h6.3v3.3h-6.3zM398 469h3.3v3.3h-3.3zM434 469h3.3v3.3h-3.3zM503 469h12.3v3.3h-12.3zM980 469h6.3v3.3h-6.3zM398 472h3.3v3.3h-3.3zM434 472h3.3v3.3h-3.3zM506 472h12.3v3.3h-12.3zM977 472h6.3v3.3h-6.3zM398 475h3.3v3.3h-3.3zM434 475h3.3v3.3h-3.3zM509 475h9.3v3.3h-9.3zM971 475h9.3v3.3h-9.3zM398 478h3.3v3.3h-3.3zM434 478h3.3v3.3h-3.3zM509 478h12.3v3.3h-12.3zM962 478h15.3v3.3h-15.3zM398 481h3.3v3.3h-3.3zM434 481h3.3v3.3h-3.3zM512 481h15.3v3.3h-15.3zM959 481h9.3v3.3h-9.3zM398 484h3.3v3.3h-3.3zM434 484h3.3v3.3h-3.3zM515 484h18.3v3.3h-18.3zM956 484h6.3v3.3h-6.3zM398 487h3.3v3.3h-3.3zM437 487h3.3v3.3h-3.3zM515 487h24.3v3.3h-24.3zM956 487h6.3v3.3h-6.3zM398 490h3.3v3.3h-3.3zM437 490h3.3v3.3h-3.3zM518 490h27.3v3.3h-27.3zM560 490h27.3v3.3h-27.3zM956 490h6.3v3.3h-6.3zM398 493h3.3v3.3h-3.3zM437 493h6.3v3.3h-6.3zM524 493h69.3v3.3h-69.3zM956 493h3.3v3.3h-3.3zM398 496h3.3v3.3h-3.3zM440 496h3.3v3.3h-3.3zM530 496h36.3v3.3h-36.3zM587 496h12.3v3.3h-12.3zM956 496h6.3v3.3h-6.3zM398 499h3.3v3.3h-3.3zM440 499h6.3v3.3h-6.3zM539 499h18.3v3.3h-18.3zM593 499h9.3v3.3h-9.3zM956 499h6.3v3.3h-6.3zM398 502h3.3v3.3h-3.3zM443 502h3.3v3.3h-3.3zM599 502h9.3v3.3h-9.3zM956 502h6.3v3.3h-6.3zM398 505h3.3v3.3h-3.3zM443 505h3.3v3.3h-3.3zM602 505h12.3v3.3h-12.3zM626 505h15.3v3.3h-15.3zM956 505h6.3v3.3h-6.3zM398 508h3.3v3.3h-3.3zM443 508h6.3v3.3h-6.3zM608 508h36.3v3.3h-36.3zM959 508h3.3v3.3h-3.3zM398 511h3.3v3.3h-3.3zM443 511h6.3v3.3h-6.3zM614 511h33.3v3.3h-33.3zM959 511h3.3v3.3h-3.3zM446 514h6.3v3.3h-6.3zM641 514h9.3v3.3h-9.3zM959 514h3.3v3.3h-3.3zM401 517h3.3v3.3h-3.3zM446 517h6.3v3.3h-6.3zM644 517h12.3v3.3h-12.3zM959 517h3.3v3.3h-3.3zM401 520h3.3v3.3h-3.3zM446 520h6.3v3.3h-6.3zM647 520h15.3v3.3h-15.3zM959 520h3.3v3.3h-3.3zM401 523h6.3v3.3h-6.3zM446 523h6.3v3.3h-6.3zM650 523h24.3v3.3h-24.3zM959 523h3.3v3.3h-3.3zM404 526h3.3v3.3h-3.3zM443 526h9.3v3.3h-9.3zM656 526h27.3v3.3h-27.3zM956 526h6.3v3.3h-6.3zM407 529h3.3v3.3h-3.3zM440 529h9.3v3.3h-9.3zM668 529h27.3v3.3h-27.3zM773 529h12.3v3.3h-12.3zM956 529h6.3v3.3h-6.3zM407 532h6.3v3.3h-6.3zM437 532h9.3v3.3h-9.3zM680 532h27.3v3.3h-27.3zM758 532h33.3v3.3h-33.3zM950 532h9.3v3.3h-9.3zM410 535h6.3v3.3h-6.3zM434 535h6.3v3.3h-6.3zM692 535h84.3v3.3h-84.3zM782 535h12.3v3.3h-12.3zM947 535h9.3v3.3h-9.3zM413 538h21.3v3.3h-21.3zM704 538h63.3v3.3h-63.3zM788 538h9.3v3.3h-9.3zM941 538h12.3v3.3h-12.3zM794 541h9.3v3.3h-9.3zM935 541h15.3v3.3h-15.3zM797 544h15.3v3.3h-15.3zM929 544h18.3v3.3h-18.3zM800 547h27.3v3.3h-27.3zM914 547h27.3v3.3h-27.3zM809 550h30.3v3.3h-30.3zM902 550h36.3v3.3h-36.3zM818 553h21.3v3.3h-21.3zM890 553h42.3v3.3h-42.3zM827 556h15.3v3.3h-15.3zM881 556h45.3v3.3h-45.3zM830 559h12.3v3.3h-12.3zM875 559h21.3v3.3h-21.3zM830 562h15.3v3.3h-15.3zM866 562h15.3v3.3h-15.3zM830 565h42.3v3.3h-42.3zM830 568h33.3v3.3h-33.3z"/>
<path fill="#b0c8ea" d="M275 268h48.3v3.3h-48.3zM275 271h48.3v3.3h-48.3zM275 274h48.3v3.3h-48.3zM275 277h48.3v3.3h-48.3zM275 280h51.3v3.3h-51.3zM278 283h51.3v3.3h-51.3zM278 286h84.3v3.3h-84.3zM281 289h93.3v3.3h-93.3zM281 292h27.3v3.3h-27.3zM374 292h6.3v3.3h-6.3zM281 295h18.3v3.3h-18.3zM380 295h9.3v3.3h-9.3zM281 298h15.3v3.3h-15.3zM386 298h6.3v3.3h-6.3zM281 301h12.3v3.3h-12.3zM392 301h6.3v3.3h-6.3zM281 304h12.3v3.3h-12.3zM395 304h6.3v3.3h-6.3zM278 307h15.3v3.3h-15.3zM398 307h6.3v3.3h-6.3zM278 310h12.3v3.3h-12.3zM401 310h6.3v3.3h-6.3zM278 313h12.3v3.3h-12.3zM404 313h6.3v3.3h-6.3zM278 316h12.3v3.3h-12.3zM407 316h6.3v3.3h-6.3zM281 319h9.3v3.3h-9.3zM410 319h3.3v3.3h-3.3zM410 322h6.3v3.3h-6.3zM413 325h3.3v3.3h-3.3zM413 328h3.3v3.3h-3.3zM314 331h15.3v3.3h-15.3zM413 331h6.3v3.3h-6.3zM305 334h30.3v3.3h-30.3zM413 334h6.3v3.3h-6.3zM305 337h33.3v3.3h-33.3zM413 337h6.3v3.3h-6.3zM302 340h12.3v3.3h-12.3zM329 340h12.3v3.3h-12.3zM413 340h6.3v3.3h-6.3zM302 343h9.3v3.3h-9.3zM338 343h9.3v3.3h-9.3zM413 343h6.3v3.3h-6.3zM302 346h9.3v3.3h-9.3zM347 346h6.3v3.3h-6.3zM413 346h3.3v3.3h-3.3zM1130 346h6.3v3.3h-6.3zM299 349h9.3v3.3h-9.3zM353 349h6.3v3.3h-6.3zM413 349h3.3v3.3h-3.3zM1124 349h6.3v3.3h-6.3zM299 352h9.3v3.3h-9.3zM359 352h6.3v3.3h-6.3zM413 352h3.3v3.3h-3.3zM1121 352h6.3v3.3h-6.3zM296 355h9.3v3.3h-9.3zM365 355h6.3v3.3h-6.3zM410 355h6.3v3.3h-6.3zM1115 355h9.3v3.3h-9.3zM293 358h12.3v3.3h-12.3zM374 358h9.3v3.3h-9.3zM407 358h9.3v3.3h-9.3zM1109 358h9.3v3.3h-9.3zM293 361h9.3v3.3h-9.3zM383 361h33.3v3.3h-33.3zM1103 361h12.3v3.3h-12.3zM290 364h12.3v3.3h-12.3zM395 364h18.3v3.3h-18.3zM1100 364h9.3v3.3h-9.3zM290 367h12.3v3.3h-12.3zM1094 367h9.3v3.3h-9.3zM290 370h12.3v3.3h-12.3zM1091 370h6.3v3.3h-6.3zM287 373h15.3v3.3h-15.3zM1085 373h9.3v3.3h-9.3zM287 376h12.3v3.3h-12.3zM404 376h12.3v3.3h-12.3zM941 376h21.3v3.3h-21.3zM1079 376h9.3v3.3h-9.3zM188 379h3.3v3.3h-3.3zM287 379h12.3v3.3h-12.3zM398 379h21.3v3.3h-21.3zM929 379h30.3v3.3h-30.3zM1076 379h6.3v3.3h-6.3zM182 382h12.3v3.3h-12.3zM284 382h15.3v3.3h-15.3zM395 382h27.3v3.3h-27.3zM920 382h30.3v3.3h-30.3zM1073 382h3.3v3.3h-3.3zM179 385h18.3v3.3h-18.3zM284 385h15.3v3.3h-15.3zM395 385h27.3v3.3h-27.3zM920 385h21.3v3.3h-21.3zM1070 385h3.3v3.3h-3.3zM179 388h18.3v3.3h-18.3zM284 388h15.3v3.3h-15.3zM392 388h33.3v3.3h-33.3zM1067 388h3.3v3.3h-3.3zM176 391h21.3v3.3h-21.3zM284 391h15.3v3.3h-15.3zM392 391h33.3v3.3h-33.3zM1064 391h6.3v3.3h-6.3zM176 394h21.3v3.3h-21.3zM284 394h15.3v3.3h-15.3zM395 394h30.3v3.3h-30.3zM1061 394h6.3v3.3h-6.3zM176 397h18.3v3.3h-18.3zM287 397h15.3v3.3h-15.3zM395 397h33.3v3.3h-33.3zM1058 397h6.3v3.3h-6.3zM176 400h15.3v3.3h-15.3zM290 400h15.3v3.3h-15.3zM398 400h30.3v3.3h-30.3zM1055 400h9.3v3.3h-9.3zM179 403h9.3v3.3h-9.3zM296 403h15.3v3.3h-15.3zM401 403h27.3v3.3h-27.3zM1052 403h9.3v3.3h-9.3zM299 406h15.3v3.3h-15.3zM410 406h18.3v3.3h-18.3zM1046 406h12.3v3.3h-12.3zM305 409h12.3v3.3h-12.3zM419 409h6.3v3.3h-6.3zM1040 409h15.3v3.3h-15.3zM308 412h12.3v3.3h-12.3zM1031 412h18.3v3.3h-18.3zM314 415h9.3v3.3h-9.3zM1028 415h18.3v3.3h-18.3zM317 418h9.3v3.3h-9.3zM1028 418h15.3v3.3h-15.3zM323 421h3.3v3.3h-3.3zM1025 421h15.3v3.3h-15.3zM326 424h3.3v3.3h-3.3zM1022 424h18.3v3.3h-18.3zM326 427h6.3v3.3h-6.3zM1019 427h18.3v3.3h-18.3zM329 430h3.3v3.3h-3.3zM1013 430h18.3v3.3h-18.3zM332 433h3.3v3.3h-3.3zM1007 433h12.3v3.3h-12.3zM332 436h3.3v3.3h-3.3zM1004 436h9.3v3.3h-9.3zM332 439h3.3v3.3h-3.3zM1001 439h6.3v3.3h-6.3zM335 442h3.3v3.3h-3.3zM446 442h12.3v3.3h-12.3zM998 442h6.3v3.3h-6.3zM338 445h3.3v3.3h-3.3zM443 445h21.3v3.3h-21.3zM995 445h6.3v3.3h-6.3zM338 448h6.3v3.3h-6.3zM374 448h9.3v3.3h-9.3zM443 448h30.3v3.3h-30.3zM995 448h6.3v3.3h-6.3zM341 451h6.3v3.3h-6.3zM368 451h9.3v3.3h-9.3zM383 451h6.3v3.3h-6.3zM443 451h36.3v3.3h-36.3zM995 451h6.3v3.3h-6.3zM344 454h9.3v3.3h-9.3zM356 454h12.3v3.3h-12.3zM389 454h3.3v3.3h-3.3zM443 454h6.3v3.3h-6.3zM458 454h24.3v3.3h-24.3zM995 454h3.3v3.3h-3.3zM347 457h15.3v3.3h-15.3zM392 457h3.3v3.3h-3.3zM440 457h6.3v3.3h-6.3zM464 457h24.3v3.3h-24.3zM995 457h3.3v3.3h-3.3zM392 460h3.3v3.3h-3.3zM440 460h3.3v3.3h-3.3zM467 460h24.3v3.3h-24.3zM992 460h6.3v3.3h-6.3zM395 463h3.3v3.3h-3.3zM437 463h6.3v3.3h-6.3zM470 463h24.3v3.3h-24.3zM992 463h6.3v3.3h-6.3zM395 466h3.3v3.3h-3.3zM437 466h3.3v3.3h-3.3zM473 466h24.3v3.3h-24.3zM989 466h6.3v3.3h-6.3zM395 469h3.3v3.3h-3.3zM437 469h3.3v3.3h-3.3zM473 469h30.3v3.3h-30.3zM986 469h9.3v3.3h-9.3zM395 472h3.3v3.3h-3.3zM437 472h3.3v3.3h-3.3zM476 472h30.3v3.3h-30.3zM983 472h9.3v3.3h-9.3zM395 475h3.3v3.3h-3.3zM437 475h3.3v3.3h-3.3zM479 475h30.3v3.3h-30.3zM980 475h9.3v3.3h-9.3zM395 478h3.3v3.3h-3.3zM437 478h3.3v3.3h-3.3zM482 478h27.3v3.3h-27.3zM977 478h9.3v3.3h-9.3zM395 481h3.3v3.3h-3.3zM437 481h3.3v3.3h-3.3zM488 481h24.3v3.3h-24.3zM968 481h12.3v3.3h-12.3zM395 484h3.3v3.3h-3.3zM437 484h6.3v3.3h-6.3zM491 484h24.3v3.3h-24.3zM962 484h12.3v3.3h-12.3zM395 487h3.3v3.3h-3.3zM440 487h3.3v3.3h-3.3zM494 487h21.3v3.3h-21.3zM962 487h6.3v3.3h-6.3zM395 490h3.3v3.3h-3.3zM440 490h3.3v3.3h-3.3zM497 490h21.3v3.3h-21.3zM962 490h3.3v3.3h-3.3zM395 493h3.3v3.3h-3.3zM443 493h3.3v3.3h-3.3zM500 493h24.3v3.3h-24.3zM959 493h6.3v3.3h-6.3zM395 496h3.3v3.3h-3.3zM443 496h6.3v3.3h-6.3zM500 496h30.3v3.3h-30.3zM566 496h21.3v3.3h-21.3zM962 496h3.3v3.3h-3.3zM395 499h3.3v3.3h-3.3zM446 499h3.3v3.3h-3.3zM506 499h33.3v3.3h-33.3zM557 499h36.3v3.3h-36.3zM962 499h3.3v3.3h-3.3zM446 502h6.3v3.3h-6.3zM509 502h63.3v3.3h-63.3zM590 502h9.3v3.3h-9.3zM962 502h3.3v3.3h-3.3zM446 505h6.3v3.3h-6.3zM524 505h39.3v3.3h-39.3zM596 505h6.3v3.3h-6.3zM962 505h3.3v3.3h-3.3zM449 508h6.3v3.3h-6.3zM599 508h9.3v3.3h-9.3zM962 508h3.3v3.3h-3.3zM449 511h9.3v3.3h-9.3zM602 511h12.3v3.3h-12.3zM962 511h3.3v3.3h-3.3zM398 514h3.3v3.3h-3.3zM452 514h6.3v3.3h-6.3zM608 514h33.3v3.3h-33.3zM962 514h3.3v3.3h-3.3zM398 517h3.3v3.3h-3.3zM452 517h9.3v3.3h-9.3zM611 517h33.3v3.3h-33.3zM962 517h3.3v3.3h-3.3zM398 520h3.3v3.3h-3.3zM452 520h9.3v3.3h-9.3zM635 520h12.3v3.3h-12.3zM962 520h6.3v3.3h-6.3zM398 523h3.3v3.3h-3.3zM452 523h9.3v3.3h-9.3zM638 523h12.3v3.3h-12.3zM962 523h6.3v3.3h-6.3zM398 526h6.3v3.3h-6.3zM452 526h9.3v3.3h-9.3zM644 526h12.3v3.3h-12.3zM962 526h6.3v3.3h-6.3zM401 529h6.3v3.3h-6.3zM449 529h12.3v3.3h-12.3zM647 529h21.3v3.3h-21.3zM962 529h3.3v3.3h-3.3zM404 532h3.3v3.3h-3.3zM446 532h12.3v3.3h-12.3zM653 532h27.3v3.3h-27.3zM959 532h6.3v3.3h-6.3zM407 535h3.3v3.3h-3.3zM440 535h12.3v3.3h-12.3zM668 535h24.3v3.3h-24.3zM776 535h6.3v3.3h-6.3zM956 535h6.3v3.3h-6.3zM407 538h6.3v3.3h-6.3zM434 538h9.3v3.3h-9.3zM680 538h24.3v3.3h-24.3zM767 538h21.3v3.3h-21.3zM953 538h9.3v3.3h-9.3zM413 541h24.3v3.3h-24.3zM692 541h102.3v3.3h-102.3zM950 541h9.3v3.3h-9.3zM707 544h63.3v3.3h-63.3zM788 544h9.3v3.3h-9.3zM947 544h12.3v3.3h-12.3zM728 547h36.3v3.3h-36.3zM791 547h9.3v3.3h-9.3zM941 547h18.3v3.3h-18.3zM794 550h15.3v3.3h-15.3zM938 550h18.3v3.3h-18.3zM797 553h21.3v3.3h-21.3zM932 553h18.3v3.3h-18.3zM800 556h27.3v3.3h-27.3zM926 556h21.3v3.3h-21.3zM806 559h24.3v3.3h-24.3zM896 559h45.3v3.3h-45.3zM809 562h21.3v3.3h-21.3zM881 562h54.3v3.3h-54.3zM812 565h18.3v3.3h-18.3zM872 565h51.3v3.3h-51.3zM812 568h18.3v3.3h-18.3zM863 568h18.3v3.3h-18.3zM815 571h54.3v3.3h-54.3zM815 574h45.3v3.3h-45.3zM818 577h33.3v3.3h-33.3zM821 580h24.3v3.3h-24.3zM827 583h12.3v3.3h-12.3z"/>
<path fill="#a4bfe6" d="M242 268h33.3v3.3h-33.3zM242 271h33.3v3.3h-33.3zM242 274h33.3v3.3h-33.3zM242 277h33.3v3.3h-33.3zM260 280h15.3v3.3h-15.3zM263 283h15.3v3.3h-15.3zM263 286h15.3v3.3h-15.3zM263 289h18.3v3.3h-18.3zM263 292h18.3v3.3h-18.3zM308 292h66.3v3.3h-66.3zM263 295h18.3v3.3h-18.3zM299 295h54.3v3.3h-54.3zM368 295h12.3v3.3h-12.3zM266 298h15.3v3.3h-15.3zM296 298h39.3v3.3h-39.3zM377 298h9.3v3.3h-9.3zM266 301h15.3v3.3h-15.3zM293 301h30.3v3.3h-30.3zM383 301h9.3v3.3h-9.3zM266 304h15.3v3.3h-15.3zM293 304h27.3v3.3h-27.3zM389 304h6.3v3.3h-6.3zM266 307h12.3v3.3h-12.3zM293 307h24.3v3.3h-24.3zM392 307h6.3v3.3h-6.3zM266 310h12.3v3.3h-12.3zM290 310h27.3v3.3h-27.3zM398 310h3.3v3.3h-3.3zM263 313h15.3v3.3h-15.3zM290 313h27.3v3.3h-27.3zM401 313h3.3v3.3h-3.3zM263 316h15.3v3.3h-15.3zM290 316h27.3v3.3h-27.3zM404 316h3.3v3.3h-3.3zM263 319h18.3v3.3h-18.3zM290 319h33.3v3.3h-33.3zM404 319h6.3v3.3h-6.3zM263 322h69.3v3.3h-69.3zM407 322h3.3v3.3h-3.3zM263 325h75.3v3.3h-75.3zM407 325h6.3v3.3h-6.3zM266 328h75.3v3.3h-75.3zM410 328h3.3v3.3h-3.3zM266 331h48.3v3.3h-48.3zM329 331h12.3v3.3h-12.3zM410 331h3.3v3.3h-3.3zM266 334h39.3v3.3h-39.3zM335 334h9.3v3.3h-9.3zM410 334h3.3v3.3h-3.3zM266 337h39.3v3.3h-39.3zM338 337h9.3v3.3h-9.3zM407 337h6.3v3.3h-6.3zM269 340h33.3v3.3h-33.3zM341 340h9.3v3.3h-9.3zM407 340h6.3v3.3h-6.3zM269 343h33.3v3.3h-33.3zM347 343h6.3v3.3h-6.3zM407 343h6.3v3.3h-6.3zM269 346h33.3v3.3h-33.3zM353 346h3.3v3.3h-3.3zM407 346h6.3v3.3h-6.3zM269 349h30.3v3.3h-30.3zM359 349h3.3v3.3h-3.3zM407 349h6.3v3.3h-6.3zM1130 349h6.3v3.3h-6.3zM269 352h30.3v3.3h-30.3zM365 352h3.3v3.3h-3.3zM404 352h9.3v3.3h-9.3zM1127 352h6.3v3.3h-6.3zM269 355h27.3v3.3h-27.3zM371 355h39.3v3.3h-39.3zM1124 355h3.3v3.3h-3.3zM269 358h24.3v3.3h-24.3zM383 358h24.3v3.3h-24.3zM1118 358h6.3v3.3h-6.3zM269 361h24.3v3.3h-24.3zM1115 361h6.3v3.3h-6.3zM266 364h24.3v3.3h-24.3zM1109 364h9.3v3.3h-9.3zM266 367h24.3v3.3h-24.3zM1103 367h9.3v3.3h-9.3zM266 370h24.3v3.3h-24.3zM1097 370h9.3v3.3h-9.3zM185 373h12.3v3.3h-12.3zM266 373h21.3v3.3h-21.3zM1094 373h9.3v3.3h-9.3zM182 376h18.3v3.3h-18.3zM266 376h21.3v3.3h-21.3zM1088 376h9.3v3.3h-9.3zM179 379h9.3v3.3h-9.3zM191 379h12.3v3.3h-12.3zM266 379h21.3v3.3h-21.3zM1082 379h12.3v3.3h-12.3zM176 382h6.3v3.3h-6.3zM194 382h9.3v3.3h-9.3zM266 382h18.3v3.3h-18.3zM1076 382h9.3v3.3h-9.3zM173 385h6.3v3.3h-6.3zM197 385h6.3v3.3h-6.3zM266 385h18.3v3.3h-18.3zM1073 385h6.3v3.3h-6.3zM170 388h9.3v3.3h-9.3zM197 388h9.3v3.3h-9.3zM266 388h18.3v3.3h-18.3zM1070 388h6.3v3.3h-6.3zM170 391h6.3v3.3h-6.3zM197 391h9.3v3.3h-9.3zM269 391h15.3v3.3h-15.3zM1070 391h3.3v3.3h-3.3zM170 394h6.3v3.3h-6.3zM197 394h9.3v3.3h-9.3zM272 394h12.3v3.3h-12.3zM1067 394h6.3v3.3h-6.3zM167 397h9.3v3.3h-9.3zM194 397h9.3v3.3h-9.3zM275 397h12.3v3.3h-12.3zM1064 397h6.3v3.3h-6.3zM167 400h9.3v3.3h-9.3zM191 400h12.3v3.3h-12.3zM278 400h12.3v3.3h-12.3zM1064 400h6.3v3.3h-6.3zM167 403h12.3v3.3h-12.3zM188 403h12.3v3.3h-12.3zM281 403h15.3v3.3h-15.3zM1061 403h6.3v3.3h-6.3zM170 406h27.3v3.3h-27.3zM287 406h12.3v3.3h-12.3zM1058 406h6.3v3.3h-6.3zM173 409h18.3v3.3h-18.3zM293 409h12.3v3.3h-12.3zM1055 409h6.3v3.3h-6.3zM296 412h12.3v3.3h-12.3zM1049 412h9.3v3.3h-9.3zM302 415h12.3v3.3h-12.3zM1046 415h12.3v3.3h-12.3zM308 418h9.3v3.3h-9.3zM1043 418h12.3v3.3h-12.3zM314 421h9.3v3.3h-9.3zM1040 421h12.3v3.3h-12.3zM320 424h6.3v3.3h-6.3zM1040 424h12.3v3.3h-12.3zM323 427h3.3v3.3h-3.3zM1037 427h12.3v3.3h-12.3zM326 430h3.3v3.3h-3.3zM1031 430h18.3v3.3h-18.3zM326 433h6.3v3.3h-6.3zM1019 433h27.3v3.3h-27.3zM329 436h3.3v3.3h-3.3zM1013 436h30.3v3.3h-30.3zM1007 439h12.3v3.3h-12.3zM332 442h3.3v3.3h-3.3zM1004 442h9.3v3.3h-9.3zM335 445h3.3v3.3h-3.3zM1001 445h6.3v3.3h-6.3zM335 448h3.3v3.3h-3.3zM1001 448h6.3v3.3h-6.3zM338 451h3.3v3.3h-3.3zM377 451h6.3v3.3h-6.3zM1001 451h3.3v3.3h-3.3zM341 454h3.3v3.3h-3.3zM368 454h9.3v3.3h-9.3zM383 454h6.3v3.3h-6.3zM449 454h9.3v3.3h-9.3zM998 454h6.3v3.3h-6.3zM344 457h3.3v3.3h-3.3zM362 457h9.3v3.3h-9.3zM389 457h3.3v3.3h-3.3zM446 457h18.3v3.3h-18.3zM998 457h6.3v3.3h-6.3zM347 460h18.3v3.3h-18.3zM443 460h24.3v3.3h-24.3zM998 460h6.3v3.3h-6.3zM350 463h9.3v3.3h-9.3zM392 463h3.3v3.3h-3.3zM443 463h6.3v3.3h-6.3zM458 463h12.3v3.3h-12.3zM998 463h3.3v3.3h-3.3zM392 466h3.3v3.3h-3.3zM440 466h6.3v3.3h-6.3zM461 466h12.3v3.3h-12.3zM995 466h6.3v3.3h-6.3zM392 469h3.3v3.3h-3.3zM440 469h3.3v3.3h-3.3zM461 469h12.3v3.3h-12.3zM995 469h6.3v3.3h-6.3zM440 472h3.3v3.3h-3.3zM464 472h12.3v3.3h-12.3zM992 472h6.3v3.3h-6.3zM440 475h3.3v3.3h-3.3zM464 475h15.3v3.3h-15.3zM989 475h9.3v3.3h-9.3zM440 478h3.3v3.3h-3.3zM464 478h18.3v3.3h-18.3zM986 478h9.3v3.3h-9.3zM440 481h3.3v3.3h-3.3zM464 481h24.3v3.3h-24.3zM980 481h12.3v3.3h-12.3zM443 484h3.3v3.3h-3.3zM464 484h27.3v3.3h-27.3zM974 484h15.3v3.3h-15.3zM443 487h6.3v3.3h-6.3zM461 487h33.3v3.3h-33.3zM968 487h15.3v3.3h-15.3zM443 490h6.3v3.3h-6.3zM461 490h36.3v3.3h-36.3zM965 490h9.3v3.3h-9.3zM446 493h54.3v3.3h-54.3zM965 493h6.3v3.3h-6.3zM449 496h51.3v3.3h-51.3zM965 496h3.3v3.3h-3.3zM449 499h57.3v3.3h-57.3zM965 499h3.3v3.3h-3.3zM395 502h3.3v3.3h-3.3zM452 502h57.3v3.3h-57.3zM572 502h18.3v3.3h-18.3zM965 502h3.3v3.3h-3.3zM395 505h3.3v3.3h-3.3zM452 505h72.3v3.3h-72.3zM563 505h33.3v3.3h-33.3zM965 505h3.3v3.3h-3.3zM395 508h3.3v3.3h-3.3zM455 508h120.3v3.3h-120.3zM590 508h9.3v3.3h-9.3zM965 508h3.3v3.3h-3.3zM395 511h3.3v3.3h-3.3zM458 511h108.3v3.3h-108.3zM596 511h6.3v3.3h-6.3zM965 511h3.3v3.3h-3.3zM395 514h3.3v3.3h-3.3zM458 514h96.3v3.3h-96.3zM599 514h9.3v3.3h-9.3zM965 514h3.3v3.3h-3.3zM395 517h3.3v3.3h-3.3zM461 517h48.3v3.3h-48.3zM602 517h9.3v3.3h-9.3zM965 517h6.3v3.3h-6.3zM395 520h3.3v3.3h-3.3zM461 520h39.3v3.3h-39.3zM608 520h27.3v3.3h-27.3zM968 520h3.3v3.3h-3.3zM395 523h3.3v3.3h-3.3zM461 523h36.3v3.3h-36.3zM611 523h27.3v3.3h-27.3zM968 523h3.3v3.3h-3.3zM395 526h3.3v3.3h-3.3zM461 526h30.3v3.3h-30.3zM629 526h15.3v3.3h-15.3zM968 526h3.3v3.3h-3.3zM398 529h3.3v3.3h-3.3zM461 529h12.3v3.3h-12.3zM635 529h12.3v3.3h-12.3zM965 529h3.3v3.3h-3.3zM398 532h6.3v3.3h-6.3zM458 532h12.3v3.3h-12.3zM641 532h12.3v3.3h-12.3zM965 532h3.3v3.3h-3.3zM401 535h6.3v3.3h-6.3zM452 535h12.3v3.3h-12.3zM644 535h24.3v3.3h-24.3zM962 535h6.3v3.3h-6.3zM404 538h3.3v3.3h-3.3zM443 538h18.3v3.3h-18.3zM650 538h30.3v3.3h-30.3zM962 538h3.3v3.3h-3.3zM404 541h9.3v3.3h-9.3zM437 541h15.3v3.3h-15.3zM668 541h24.3v3.3h-24.3zM959 541h6.3v3.3h-6.3zM410 544h27.3v3.3h-27.3zM680 544h27.3v3.3h-27.3zM770 544h18.3v3.3h-18.3zM959 544h6.3v3.3h-6.3zM416 547h9.3v3.3h-9.3zM695 547h33.3v3.3h-33.3zM764 547h27.3v3.3h-27.3zM959 547h6.3v3.3h-6.3zM710 550h66.3v3.3h-66.3zM785 550h9.3v3.3h-9.3zM956 550h9.3v3.3h-9.3zM728 553h45.3v3.3h-45.3zM788 553h9.3v3.3h-9.3zM950 553h12.3v3.3h-12.3zM746 556h24.3v3.3h-24.3zM788 556h12.3v3.3h-12.3zM947 556h15.3v3.3h-15.3zM788 559h18.3v3.3h-18.3zM941 559h18.3v3.3h-18.3zM788 562h21.3v3.3h-21.3zM935 562h21.3v3.3h-21.3zM788 565h24.3v3.3h-24.3zM923 565h27.3v3.3h-27.3zM785 568h27.3v3.3h-27.3zM881 568h60.3v3.3h-60.3zM785 571h30.3v3.3h-30.3zM869 571h63.3v3.3h-63.3zM785 574h30.3v3.3h-30.3zM860 574h24.3v3.3h-24.3zM785 577h33.3v3.3h-33.3zM851 577h21.3v3.3h-21.3zM785 580h36.3v3.3h-36.3zM845 580h18.3v3.3h-18.3zM785 583h42.3v3.3h-42.3zM839 583h18.3v3.3h-18.3zM785 586h69.3v3.3h-69.3zM785 589h69.3v3.3h-69.3zM785 592h66.3v3.3h-66.3zM785 595h30.3v3.3h-30.3zM830 595h21.3v3.3h-21.3zM785 598h24.3v3.3h-24.3zM785 601h24.3v3.3h-24.3zM785 604h24.3v3.3h-24.3zM785 607h21.3v3.3h-21.3zM785 610h24.3v3.3h-24.3zM785 613h24.3v3.3h-24.3zM788 616h21.3v3.3h-21.3zM788 619h24.3v3.3h-24.3zM791 622h27.3v3.3h-27.3zM794 625h27.3v3.3h-27.3zM800 628h24.3v3.3h-24.3zM812 631h12.3v3.3h-12.3zM818 634h3.3v3.3h-3.3z"/>
<path fill="#98b6e4" d="M236 268h6.3v3.3h-6.3zM236 271h6.3v3.3h-6.3zM236 274h6.3v3.3h-6.3zM239 277h3.3v3.3h-3.3zM239 280h21.3v3.3h-21.3zM239 283h24.3v3.3h-24.3zM239 286h24.3v3.3h-24.3zM242 289h21.3v3.3h-21.3zM242 292h21.3v3.3h-21.3zM245 295h18.3v3.3h-18.3zM353 295h15.3v3.3h-15.3zM248 298h18.3v3.3h-18.3zM335 298h42.3v3.3h-42.3zM248 301h18.3v3.3h-18.3zM323 301h39.3v3.3h-39.3zM371 301h12.3v3.3h-12.3zM251 304h15.3v3.3h-15.3zM320 304h36.3v3.3h-36.3zM380 304h9.3v3.3h-9.3zM251 307h15.3v3.3h-15.3zM317 307h36.3v3.3h-36.3zM386 307h6.3v3.3h-6.3zM251 310h15.3v3.3h-15.3zM317 310h33.3v3.3h-33.3zM389 310h9.3v3.3h-9.3zM251 313h12.3v3.3h-12.3zM317 313h33.3v3.3h-33.3zM395 313h6.3v3.3h-6.3zM254 316h9.3v3.3h-9.3zM317 316h30.3v3.3h-30.3zM398 316h6.3v3.3h-6.3zM254 319h9.3v3.3h-9.3zM323 319h24.3v3.3h-24.3zM401 319h3.3v3.3h-3.3zM254 322h9.3v3.3h-9.3zM332 322h15.3v3.3h-15.3zM401 322h6.3v3.3h-6.3zM254 325h9.3v3.3h-9.3zM338 325h12.3v3.3h-12.3zM404 325h3.3v3.3h-3.3zM254 328h12.3v3.3h-12.3zM341 328h9.3v3.3h-9.3zM404 328h6.3v3.3h-6.3zM254 331h12.3v3.3h-12.3zM341 331h9.3v3.3h-9.3zM404 331h6.3v3.3h-6.3zM254 334h12.3v3.3h-12.3zM344 334h9.3v3.3h-9.3zM404 334h6.3v3.3h-6.3zM254 337h12.3v3.3h-12.3zM347 337h6.3v3.3h-6.3zM404 337h3.3v3.3h-3.3zM254 340h15.3v3.3h-15.3zM350 340h6.3v3.3h-6.3zM401 340h6.3v3.3h-6.3zM254 343h15.3v3.3h-15.3zM353 343h6.3v3.3h-6.3zM401 343h6.3v3.3h-6.3zM254 346h15.3v3.3h-15.3zM356 346h6.3v3.3h-6.3zM398 346h9.3v3.3h-9.3zM254 349h15.3v3.3h-15.3zM362 349h6.3v3.3h-6.3zM392 349h15.3v3.3h-15.3zM254 352h15.3v3.3h-15.3zM368 352h36.3v3.3h-36.3zM1133 352h12.3v3.3h-12.3zM254 355h15.3v3.3h-15.3zM1127 355h9.3v3.3h-9.3zM254 358h15.3v3.3h-15.3zM1124 358h9.3v3.3h-9.3zM254 361h15.3v3.3h-15.3zM1121 361h9.3v3.3h-9.3zM254 364h12.3v3.3h-12.3zM1118 364h9.3v3.3h-9.3zM185 367h18.3v3.3h-18.3zM254 367h12.3v3.3h-12.3zM1112 367h12.3v3.3h-12.3zM179 370h27.3v3.3h-27.3zM254 370h12.3v3.3h-12.3zM1106 370h12.3v3.3h-12.3zM176 373h9.3v3.3h-9.3zM197 373h9.3v3.3h-9.3zM257 373h9.3v3.3h-9.3zM1103 373h12.3v3.3h-12.3zM173 376h9.3v3.3h-9.3zM200 376h9.3v3.3h-9.3zM257 376h9.3v3.3h-9.3zM1097 376h12.3v3.3h-12.3zM170 379h9.3v3.3h-9.3zM203 379h9.3v3.3h-9.3zM257 379h9.3v3.3h-9.3zM1094 379h9.3v3.3h-9.3zM170 382h6.3v3.3h-6.3zM203 382h9.3v3.3h-9.3zM257 382h9.3v3.3h-9.3zM1085 382h15.3v3.3h-15.3zM167 385h6.3v3.3h-6.3zM203 385h9.3v3.3h-9.3zM257 385h9.3v3.3h-9.3zM1079 385h15.3v3.3h-15.3zM1121 385h6.3v3.3h-6.3zM164 388h6.3v3.3h-6.3zM206 388h9.3v3.3h-9.3zM260 388h6.3v3.3h-6.3zM1076 388h6.3v3.3h-6.3zM1118 388h6.3v3.3h-6.3zM164 391h6.3v3.3h-6.3zM206 391h9.3v3.3h-9.3zM260 391h9.3v3.3h-9.3zM1073 391h6.3v3.3h-6.3zM164 394h6.3v3.3h-6.3zM206 394h9.3v3.3h-9.3zM263 394h9.3v3.3h-9.3zM1073 394h6.3v3.3h-6.3zM164 397h3.3v3.3h-3.3zM203 397h12.3v3.3h-12.3zM266 397h9.3v3.3h-9.3zM1070 397h9.3v3.3h-9.3zM161 400h6.3v3.3h-6.3zM203 400h12.3v3.3h-12.3zM269 400h9.3v3.3h-9.3zM1070 400h6.3v3.3h-6.3zM161 403h6.3v3.3h-6.3zM200 403h15.3v3.3h-15.3zM272 403h9.3v3.3h-9.3zM1067 403h6.3v3.3h-6.3zM161 406h9.3v3.3h-9.3zM197 406h18.3v3.3h-18.3zM275 406h12.3v3.3h-12.3zM1064 406h6.3v3.3h-6.3zM161 409h12.3v3.3h-12.3zM191 409h24.3v3.3h-24.3zM281 409h12.3v3.3h-12.3zM1061 409h6.3v3.3h-6.3zM164 412h45.3v3.3h-45.3zM287 412h9.3v3.3h-9.3zM1058 412h6.3v3.3h-6.3zM170 415h24.3v3.3h-24.3zM290 415h12.3v3.3h-12.3zM1058 415h6.3v3.3h-6.3zM296 418h12.3v3.3h-12.3zM1055 418h6.3v3.3h-6.3zM302 421h12.3v3.3h-12.3zM1052 421h9.3v3.3h-9.3zM308 424h12.3v3.3h-12.3zM1052 424h9.3v3.3h-9.3zM317 427h6.3v3.3h-6.3zM1049 427h9.3v3.3h-9.3zM320 430h6.3v3.3h-6.3zM1049 430h9.3v3.3h-9.3zM323 433h3.3v3.3h-3.3zM1046 433h9.3v3.3h-9.3zM326 436h3.3v3.3h-3.3zM1043 436h12.3v3.3h-12.3zM329 439h3.3v3.3h-3.3zM1019 439h33.3v3.3h-33.3zM329 442h3.3v3.3h-3.3zM1013 442h36.3v3.3h-36.3zM332 445h3.3v3.3h-3.3zM1007 445h36.3v3.3h-36.3zM332 448h3.3v3.3h-3.3zM1007 448h6.3v3.3h-6.3zM335 451h3.3v3.3h-3.3zM1004 451h6.3v3.3h-6.3zM338 454h3.3v3.3h-3.3zM377 454h6.3v3.3h-6.3zM1004 454h6.3v3.3h-6.3zM338 457h6.3v3.3h-6.3zM371 457h9.3v3.3h-9.3zM383 457h6.3v3.3h-6.3zM1004 457h6.3v3.3h-6.3zM341 460h6.3v3.3h-6.3zM365 460h6.3v3.3h-6.3zM386 460h6.3v3.3h-6.3zM1004 460h6.3v3.3h-6.3zM341 463h9.3v3.3h-9.3zM359 463h9.3v3.3h-9.3zM389 463h3.3v3.3h-3.3zM449 463h9.3v3.3h-9.3zM1001 463h9.3v3.3h-9.3zM344 466h21.3v3.3h-21.3zM389 466h3.3v3.3h-3.3zM446 466h15.3v3.3h-15.3zM1001 466h9.3v3.3h-9.3zM344 469h18.3v3.3h-18.3zM443 469h18.3v3.3h-18.3zM1001 469h9.3v3.3h-9.3zM347 472h15.3v3.3h-15.3zM392 472h3.3v3.3h-3.3zM443 472h6.3v3.3h-6.3zM452 472h12.3v3.3h-12.3zM998 472h12.3v3.3h-12.3zM239 475h12.3v3.3h-12.3zM347 475h15.3v3.3h-15.3zM392 475h3.3v3.3h-3.3zM443 475h6.3v3.3h-6.3zM455 475h9.3v3.3h-9.3zM998 475h12.3v3.3h-12.3zM239 478h12.3v3.3h-12.3zM353 478h6.3v3.3h-6.3zM392 478h3.3v3.3h-3.3zM443 478h6.3v3.3h-6.3zM455 478h9.3v3.3h-9.3zM995 478h12.3v3.3h-12.3zM242 481h6.3v3.3h-6.3zM392 481h3.3v3.3h-3.3zM443 481h21.3v3.3h-21.3zM992 481h15.3v3.3h-15.3zM392 484h3.3v3.3h-3.3zM446 484h18.3v3.3h-18.3zM989 484h12.3v3.3h-12.3zM392 487h3.3v3.3h-3.3zM449 487h12.3v3.3h-12.3zM983 487h18.3v3.3h-18.3zM392 490h3.3v3.3h-3.3zM449 490h12.3v3.3h-12.3zM974 490h24.3v3.3h-24.3zM392 493h3.3v3.3h-3.3zM971 493h27.3v3.3h-27.3zM392 496h3.3v3.3h-3.3zM968 496h30.3v3.3h-30.3zM392 499h3.3v3.3h-3.3zM968 499h3.3v3.3h-3.3zM983 499h15.3v3.3h-15.3zM392 502h3.3v3.3h-3.3zM968 502h3.3v3.3h-3.3zM983 502h12.3v3.3h-12.3zM392 505h3.3v3.3h-3.3zM968 505h3.3v3.3h-3.3zM983 505h12.3v3.3h-12.3zM392 508h3.3v3.3h-3.3zM575 508h15.3v3.3h-15.3zM968 508h3.3v3.3h-3.3zM986 508h6.3v3.3h-6.3zM392 511h3.3v3.3h-3.3zM566 511h30.3v3.3h-30.3zM968 511h3.3v3.3h-3.3zM392 514h3.3v3.3h-3.3zM554 514h21.3v3.3h-21.3zM590 514h9.3v3.3h-9.3zM968 514h3.3v3.3h-3.3zM392 517h3.3v3.3h-3.3zM509 517h60.3v3.3h-60.3zM596 517h6.3v3.3h-6.3zM971 517h3.3v3.3h-3.3zM392 520h3.3v3.3h-3.3zM500 520h57.3v3.3h-57.3zM599 520h9.3v3.3h-9.3zM971 520h3.3v3.3h-3.3zM392 523h3.3v3.3h-3.3zM497 523h42.3v3.3h-42.3zM602 523h9.3v3.3h-9.3zM971 523h3.3v3.3h-3.3zM392 526h3.3v3.3h-3.3zM491 526h36.3v3.3h-36.3zM608 526h21.3v3.3h-21.3zM971 526h3.3v3.3h-3.3zM392 529h6.3v3.3h-6.3zM473 529h42.3v3.3h-42.3zM614 529h21.3v3.3h-21.3zM968 529h3.3v3.3h-3.3zM395 532h3.3v3.3h-3.3zM470 532h36.3v3.3h-36.3zM629 532h12.3v3.3h-12.3zM968 532h3.3v3.3h-3.3zM395 535h6.3v3.3h-6.3zM464 535h36.3v3.3h-36.3zM635 535h9.3v3.3h-9.3zM968 535h3.3v3.3h-3.3zM395 538h9.3v3.3h-9.3zM461 538h21.3v3.3h-21.3zM641 538h9.3v3.3h-9.3zM965 538h6.3v3.3h-6.3zM398 541h6.3v3.3h-6.3zM452 541h18.3v3.3h-18.3zM644 541h24.3v3.3h-24.3zM965 541h3.3v3.3h-3.3zM401 544h9.3v3.3h-9.3zM437 544h27.3v3.3h-27.3zM653 544h27.3v3.3h-27.3zM965 544h6.3v3.3h-6.3zM404 547h12.3v3.3h-12.3zM425 547h21.3v3.3h-21.3zM668 547h27.3v3.3h-27.3zM965 547h6.3v3.3h-6.3zM410 550h18.3v3.3h-18.3zM683 550h27.3v3.3h-27.3zM776 550h9.3v3.3h-9.3zM965 550h3.3v3.3h-3.3zM698 553h30.3v3.3h-30.3zM773 553h15.3v3.3h-15.3zM962 553h6.3v3.3h-6.3zM716 556h30.3v3.3h-30.3zM770 556h18.3v3.3h-18.3zM962 556h6.3v3.3h-6.3zM728 559h60.3v3.3h-60.3zM959 559h9.3v3.3h-9.3zM737 562h51.3v3.3h-51.3zM956 562h9.3v3.3h-9.3zM743 565h45.3v3.3h-45.3zM950 565h12.3v3.3h-12.3zM749 568h36.3v3.3h-36.3zM941 568h18.3v3.3h-18.3zM752 571h33.3v3.3h-33.3zM932 571h21.3v3.3h-21.3zM755 574h30.3v3.3h-30.3zM884 574h60.3v3.3h-60.3zM755 577h30.3v3.3h-30.3zM872 577h63.3v3.3h-63.3zM755 580h30.3v3.3h-30.3zM863 580h57.3v3.3h-57.3zM749 583h36.3v3.3h-36.3zM857 583h24.3v3.3h-24.3zM743 586h42.3v3.3h-42.3zM854 586h18.3v3.3h-18.3zM740 589h45.3v3.3h-45.3zM854 589h15.3v3.3h-15.3zM740 592h45.3v3.3h-45.3zM851 592h15.3v3.3h-15.3zM743 595h42.3v3.3h-42.3zM815 595h15.3v3.3h-15.3zM851 595h12.3v3.3h-12.3zM743 598h42.3v3.3h-42.3zM809 598h54.3v3.3h-54.3zM746 601h39.3v3.3h-39.3zM809 601h54.3v3.3h-54.3zM749 604h36.3v3.3h-36.3zM809 604h51.3v3.3h-51.3zM752 607h33.3v3.3h-33.3zM806 607h54.3v3.3h-54.3zM752 610h33.3v3.3h-33.3zM809 610h51.3v3.3h-51.3zM755 613h30.3v3.3h-30.3zM809 613h51.3v3.3h-51.3zM758 616h30.3v3.3h-30.3zM809 616h51.3v3.3h-51.3zM761 619h27.3v3.3h-27.3zM812 619h45.3v3.3h-45.3zM764 622h27.3v3.3h-27.3zM818 622h39.3v3.3h-39.3zM767 625h27.3v3.3h-27.3zM821 625h36.3v3.3h-36.3zM770 628h30.3v3.3h-30.3zM824 628h30.3v3.3h-30.3zM773 631h39.3v3.3h-39.3zM824 631h30.3v3.3h-30.3zM776 634h42.3v3.3h-42.3zM821 634h30.3v3.3h-30.3zM782 637h69.3v3.3h-69.3zM788 640h60.3v3.3h-60.3zM797 643h51.3v3.3h-51.3zM803 646h42.3v3.3h-42.3zM806 649h36.3v3.3h-36.3zM812 652h27.3v3.3h-27.3zM815 655h18.3v3.3h-18.3z"/>
<path fill="#8cace0" d="M233 268h3.3v3.3h-3.3zM233 271h3.3v3.3h-3.3zM233 274h3.3v3.3h-3.3zM233 277h6.3v3.3h-6.3zM236 280h3.3v3.3h-3.3zM236 283h3.3v3.3h-3.3zM236 286h3.3v3.3h-3.3zM233 289h9.3v3.3h-9.3zM233 292h9.3v3.3h-9.3zM233 295h12.3v3.3h-12.3zM230 298h18.3v3.3h-18.3zM230 301h18.3v3.3h-18.3zM362 301h9.3v3.3h-9.3zM233 304h18.3v3.3h-18.3zM356 304h24.3v3.3h-24.3zM236 307h15.3v3.3h-15.3zM353 307h33.3v3.3h-33.3zM236 310h15.3v3.3h-15.3zM350 310h18.3v3.3h-18.3zM377 310h12.3v3.3h-12.3zM239 313h12.3v3.3h-12.3zM350 313h12.3v3.3h-12.3zM383 313h12.3v3.3h-12.3zM242 316h12.3v3.3h-12.3zM347 316h12.3v3.3h-12.3zM389 316h9.3v3.3h-9.3zM245 319h9.3v3.3h-9.3zM347 319h12.3v3.3h-12.3zM392 319h9.3v3.3h-9.3zM245 322h9.3v3.3h-9.3zM347 322h12.3v3.3h-12.3zM395 322h6.3v3.3h-6.3zM248 325h6.3v3.3h-6.3zM350 325h9.3v3.3h-9.3zM398 325h6.3v3.3h-6.3zM248 328h6.3v3.3h-6.3zM350 328h9.3v3.3h-9.3zM398 328h6.3v3.3h-6.3zM248 331h6.3v3.3h-6.3zM350 331h9.3v3.3h-9.3zM398 331h6.3v3.3h-6.3zM248 334h6.3v3.3h-6.3zM353 334h6.3v3.3h-6.3zM395 334h9.3v3.3h-9.3zM248 337h6.3v3.3h-6.3zM353 337h9.3v3.3h-9.3zM395 337h9.3v3.3h-9.3zM248 340h6.3v3.3h-6.3zM356 340h6.3v3.3h-6.3zM392 340h9.3v3.3h-9.3zM248 343h6.3v3.3h-6.3zM359 343h6.3v3.3h-6.3zM386 343h15.3v3.3h-15.3zM248 346h6.3v3.3h-6.3zM362 346h6.3v3.3h-6.3zM380 346h18.3v3.3h-18.3zM248 349h6.3v3.3h-6.3zM368 349h24.3v3.3h-24.3zM245 352h9.3v3.3h-9.3zM245 355h9.3v3.3h-9.3zM1136 355h12.3v3.3h-12.3zM188 358h18.3v3.3h-18.3zM242 358h12.3v3.3h-12.3zM1133 358h18.3v3.3h-18.3zM182 361h27.3v3.3h-27.3zM242 361h12.3v3.3h-12.3zM1130 361h21.3v3.3h-21.3zM176 364h36.3v3.3h-36.3zM245 364h9.3v3.3h-9.3zM1127 364h21.3v3.3h-21.3zM173 367h12.3v3.3h-12.3zM203 367h15.3v3.3h-15.3zM248 367h6.3v3.3h-6.3zM1124 367h24.3v3.3h-24.3zM170 370h9.3v3.3h-9.3zM206 370h18.3v3.3h-18.3zM248 370h6.3v3.3h-6.3zM1118 370h27.3v3.3h-27.3zM167 373h9.3v3.3h-9.3zM206 373h18.3v3.3h-18.3zM248 373h9.3v3.3h-9.3zM1115 373h30.3v3.3h-30.3zM167 376h6.3v3.3h-6.3zM209 376h12.3v3.3h-12.3zM251 376h6.3v3.3h-6.3zM1109 376h36.3v3.3h-36.3zM164 379h6.3v3.3h-6.3zM212 379h9.3v3.3h-9.3zM251 379h6.3v3.3h-6.3zM1103 379h39.3v3.3h-39.3zM161 382h9.3v3.3h-9.3zM212 382h9.3v3.3h-9.3zM251 382h6.3v3.3h-6.3zM1100 382h39.3v3.3h-39.3zM161 385h6.3v3.3h-6.3zM212 385h9.3v3.3h-9.3zM254 385h3.3v3.3h-3.3zM1094 385h27.3v3.3h-27.3zM1127 385h3.3v3.3h-3.3zM161 388h3.3v3.3h-3.3zM215 388h6.3v3.3h-6.3zM254 388h6.3v3.3h-6.3zM1082 388h36.3v3.3h-36.3zM158 391h6.3v3.3h-6.3zM215 391h6.3v3.3h-6.3zM257 391h3.3v3.3h-3.3zM1079 391h24.3v3.3h-24.3zM1106 391h12.3v3.3h-12.3zM158 394h6.3v3.3h-6.3zM215 394h9.3v3.3h-9.3zM257 394h6.3v3.3h-6.3zM1079 394h15.3v3.3h-15.3zM1106 394h6.3v3.3h-6.3zM158 397h6.3v3.3h-6.3zM215 397h9.3v3.3h-9.3zM260 397h6.3v3.3h-6.3zM1079 397h9.3v3.3h-9.3zM158 400h3.3v3.3h-3.3zM215 400h9.3v3.3h-9.3zM263 400h6.3v3.3h-6.3zM1076 400h9.3v3.3h-9.3zM158 403h3.3v3.3h-3.3zM215 403h9.3v3.3h-9.3zM266 403h6.3v3.3h-6.3zM1073 403h9.3v3.3h-9.3zM158 406h3.3v3.3h-3.3zM215 406h9.3v3.3h-9.3zM269 406h6.3v3.3h-6.3zM1070 406h9.3v3.3h-9.3zM158 409h3.3v3.3h-3.3zM215 409h9.3v3.3h-9.3zM272 409h9.3v3.3h-9.3zM1067 409h9.3v3.3h-9.3zM158 412h6.3v3.3h-6.3zM209 412h15.3v3.3h-15.3zM275 412h12.3v3.3h-12.3zM1064 412h9.3v3.3h-9.3zM161 415h9.3v3.3h-9.3zM194 415h27.3v3.3h-27.3zM278 415h12.3v3.3h-12.3zM1064 415h6.3v3.3h-6.3zM164 418h54.3v3.3h-54.3zM284 418h12.3v3.3h-12.3zM1061 418h6.3v3.3h-6.3zM182 421h24.3v3.3h-24.3zM290 421h12.3v3.3h-12.3zM1061 421h6.3v3.3h-6.3zM296 424h12.3v3.3h-12.3zM1061 424h6.3v3.3h-6.3zM305 427h12.3v3.3h-12.3zM1058 427h9.3v3.3h-9.3zM311 430h9.3v3.3h-9.3zM1058 430h6.3v3.3h-6.3zM317 433h6.3v3.3h-6.3zM1055 433h9.3v3.3h-9.3zM323 436h3.3v3.3h-3.3zM1055 436h6.3v3.3h-6.3zM323 439h6.3v3.3h-6.3zM1052 439h6.3v3.3h-6.3zM326 442h3.3v3.3h-3.3zM1049 442h9.3v3.3h-9.3zM329 445h3.3v3.3h-3.3zM1043 445h12.3v3.3h-12.3zM329 448h3.3v3.3h-3.3zM1013 448h39.3v3.3h-39.3zM332 451h3.3v3.3h-3.3zM1010 451h39.3v3.3h-39.3zM335 454h3.3v3.3h-3.3zM1010 454h36.3v3.3h-36.3zM335 457h3.3v3.3h-3.3zM380 457h3.3v3.3h-3.3zM1010 457h33.3v3.3h-33.3zM338 460h3.3v3.3h-3.3zM371 460h15.3v3.3h-15.3zM1010 460h27.3v3.3h-27.3zM338 463h3.3v3.3h-3.3zM368 463h9.3v3.3h-9.3zM383 463h6.3v3.3h-6.3zM1010 463h18.3v3.3h-18.3zM338 466h6.3v3.3h-6.3zM365 466h9.3v3.3h-9.3zM386 466h3.3v3.3h-3.3zM1010 466h15.3v3.3h-15.3zM239 469h12.3v3.3h-12.3zM335 469h9.3v3.3h-9.3zM362 469h12.3v3.3h-12.3zM386 469h6.3v3.3h-6.3zM1010 469h15.3v3.3h-15.3zM236 472h18.3v3.3h-18.3zM332 472h15.3v3.3h-15.3zM362 472h9.3v3.3h-9.3zM389 472h3.3v3.3h-3.3zM449 472h3.3v3.3h-3.3zM1010 472h15.3v3.3h-15.3zM236 475h3.3v3.3h-3.3zM251 475h3.3v3.3h-3.3zM329 475h18.3v3.3h-18.3zM362 475h9.3v3.3h-9.3zM389 475h3.3v3.3h-3.3zM449 475h6.3v3.3h-6.3zM1010 475h15.3v3.3h-15.3zM236 478h3.3v3.3h-3.3zM251 478h3.3v3.3h-3.3zM326 478h27.3v3.3h-27.3zM359 478h12.3v3.3h-12.3zM389 478h3.3v3.3h-3.3zM449 478h6.3v3.3h-6.3zM1007 478h18.3v3.3h-18.3zM236 481h6.3v3.3h-6.3zM248 481h6.3v3.3h-6.3zM323 481h45.3v3.3h-45.3zM389 481h3.3v3.3h-3.3zM1007 481h15.3v3.3h-15.3zM239 484h12.3v3.3h-12.3zM323 484h45.3v3.3h-45.3zM389 484h3.3v3.3h-3.3zM1001 484h18.3v3.3h-18.3zM326 487h39.3v3.3h-39.3zM389 487h3.3v3.3h-3.3zM1001 487h15.3v3.3h-15.3zM329 490h30.3v3.3h-30.3zM389 490h3.3v3.3h-3.3zM998 490h15.3v3.3h-15.3zM344 493h9.3v3.3h-9.3zM389 493h3.3v3.3h-3.3zM998 493h15.3v3.3h-15.3zM389 496h3.3v3.3h-3.3zM998 496h12.3v3.3h-12.3zM389 499h3.3v3.3h-3.3zM971 499h12.3v3.3h-12.3zM998 499h9.3v3.3h-9.3zM389 502h3.3v3.3h-3.3zM971 502h12.3v3.3h-12.3zM995 502h9.3v3.3h-9.3zM389 505h3.3v3.3h-3.3zM971 505h12.3v3.3h-12.3zM995 505h6.3v3.3h-6.3zM389 508h3.3v3.3h-3.3zM971 508h15.3v3.3h-15.3zM992 508h6.3v3.3h-6.3zM389 511h3.3v3.3h-3.3zM971 511h27.3v3.3h-27.3zM389 514h3.3v3.3h-3.3zM575 514h15.3v3.3h-15.3zM971 514h21.3v3.3h-21.3zM389 517h3.3v3.3h-3.3zM569 517h27.3v3.3h-27.3zM974 517h3.3v3.3h-3.3zM389 520h3.3v3.3h-3.3zM557 520h21.3v3.3h-21.3zM587 520h12.3v3.3h-12.3zM974 520h3.3v3.3h-3.3zM389 523h3.3v3.3h-3.3zM539 523h30.3v3.3h-30.3zM593 523h9.3v3.3h-9.3zM974 523h3.3v3.3h-3.3zM389 526h3.3v3.3h-3.3zM527 526h33.3v3.3h-33.3zM599 526h9.3v3.3h-9.3zM974 526h3.3v3.3h-3.3zM389 529h3.3v3.3h-3.3zM515 529h33.3v3.3h-33.3zM602 529h12.3v3.3h-12.3zM971 529h3.3v3.3h-3.3zM389 532h6.3v3.3h-6.3zM506 532h33.3v3.3h-33.3zM608 532h21.3v3.3h-21.3zM971 532h3.3v3.3h-3.3zM389 535h6.3v3.3h-6.3zM500 535h30.3v3.3h-30.3zM620 535h15.3v3.3h-15.3zM971 535h3.3v3.3h-3.3zM389 538h6.3v3.3h-6.3zM482 538h39.3v3.3h-39.3zM632 538h9.3v3.3h-9.3zM971 538h3.3v3.3h-3.3zM392 541h6.3v3.3h-6.3zM470 541h42.3v3.3h-42.3zM638 541h6.3v3.3h-6.3zM968 541h6.3v3.3h-6.3zM392 544h9.3v3.3h-9.3zM464 544h36.3v3.3h-36.3zM641 544h12.3v3.3h-12.3zM971 544h3.3v3.3h-3.3zM395 547h9.3v3.3h-9.3zM446 547h39.3v3.3h-39.3zM647 547h21.3v3.3h-21.3zM971 547h3.3v3.3h-3.3zM398 550h12.3v3.3h-12.3zM428 550h42.3v3.3h-42.3zM656 550h27.3v3.3h-27.3zM968 550h6.3v3.3h-6.3zM404 553h57.3v3.3h-57.3zM668 553h30.3v3.3h-30.3zM968 553h6.3v3.3h-6.3zM683 556h33.3v3.3h-33.3zM968 556h6.3v3.3h-6.3zM698 559h30.3v3.3h-30.3zM968 559h6.3v3.3h-6.3zM713 562h24.3v3.3h-24.3zM965 562h6.3v3.3h-6.3zM722 565h21.3v3.3h-21.3zM962 565h9.3v3.3h-9.3zM728 568h21.3v3.3h-21.3zM959 568h9.3v3.3h-9.3zM731 571h21.3v3.3h-21.3zM953 571h12.3v3.3h-12.3zM734 574h21.3v3.3h-21.3zM944 574h15.3v3.3h-15.3zM734 577h21.3v3.3h-21.3zM935 577h15.3v3.3h-15.3zM731 580h24.3v3.3h-24.3zM920 580h24.3v3.3h-24.3zM731 583h18.3v3.3h-18.3zM881 583h54.3v3.3h-54.3zM731 586h12.3v3.3h-12.3zM872 586h54.3v3.3h-54.3zM731 589h9.3v3.3h-9.3zM869 589h42.3v3.3h-42.3zM731 592h9.3v3.3h-9.3zM866 592h18.3v3.3h-18.3zM731 595h12.3v3.3h-12.3zM863 595h15.3v3.3h-15.3zM734 598h9.3v3.3h-9.3zM863 598h12.3v3.3h-12.3zM734 601h12.3v3.3h-12.3zM863 601h9.3v3.3h-9.3zM737 604h12.3v3.3h-12.3zM860 604h9.3v3.3h-9.3zM740 607h12.3v3.3h-12.3zM860 607h9.3v3.3h-9.3zM740 610h12.3v3.3h-12.3zM860 610h9.3v3.3h-9.3zM743 613h12.3v3.3h-12.3zM860 613h9.3v3.3h-9.3zM746 616h12.3v3.3h-12.3zM860 616h6.3v3.3h-6.3zM746 619h15.3v3.3h-15.3zM857 619h9.3v3.3h-9.3zM749 622h15.3v3.3h-15.3zM857 622h9.3v3.3h-9.3zM752 625h15.3v3.3h-15.3zM857 625h9.3v3.3h-9.3zM755 628h15.3v3.3h-15.3zM854 628h12.3v3.3h-12.3zM758 631h15.3v3.3h-15.3zM854 631h12.3v3.3h-12.3zM761 634h15.3v3.3h-15.3zM851 634h12.3v3.3h-12.3zM761 637h21.3v3.3h-21.3zM851 637h12.3v3.3h-12.3zM764 640h24.3v3.3h-24.3zM848 640h12.3v3.3h-12.3zM770 643h27.3v3.3h-27.3zM848 643h12.3v3.3h-12.3zM773 646h30.3v3.3h-30.3zM845 646h12.3v3.3h-12.3zM779 649h27.3v3.3h-27.3zM842 649h15.3v3.3h-15.3zM788 652h24.3v3.3h-24.3zM839 652h15.3v3.3h-15.3zM797 655h18.3v3.3h-18.3zM833 655h21.3v3.3h-21.3zM806 658h42.3v3.3h-42.3zM812 661h27.3v3.3h-27.3z"/>
<path fill="#80a2dc" d="M233 280h3.3v3.3h-3.3zM230 283h6.3v3.3h-6.3zM230 286h6.3v3.3h-6.3zM227 289h6.3v3.3h-6.3zM224 292h9.3v3.3h-9.3zM221 295h12.3v3.3h-12.3zM221 298h9.3v3.3h-9.3zM221 301h9.3v3.3h-9.3zM224 304h9.3v3.3h-9.3zM227 307h9.3v3.3h-9.3zM230 310h6.3v3.3h-6.3zM368 310h9.3v3.3h-9.3zM233 313h6.3v3.3h-6.3zM362 313h21.3v3.3h-21.3zM236 316h6.3v3.3h-6.3zM359 316h30.3v3.3h-30.3zM239 319h6.3v3.3h-6.3zM359 319h33.3v3.3h-33.3zM242 322h3.3v3.3h-3.3zM359 322h36.3v3.3h-36.3zM242 325h6.3v3.3h-6.3zM359 325h12.3v3.3h-12.3zM377 325h21.3v3.3h-21.3zM245 328h3.3v3.3h-3.3zM359 328h12.3v3.3h-12.3zM377 328h21.3v3.3h-21.3zM245 331h3.3v3.3h-3.3zM359 331h12.3v3.3h-12.3zM377 331h21.3v3.3h-21.3zM245 334h3.3v3.3h-3.3zM359 334h12.3v3.3h-12.3zM374 334h21.3v3.3h-21.3zM245 337h3.3v3.3h-3.3zM362 337h33.3v3.3h-33.3zM245 340h3.3v3.3h-3.3zM362 340h30.3v3.3h-30.3zM194 343h6.3v3.3h-6.3zM245 343h3.3v3.3h-3.3zM365 343h21.3v3.3h-21.3zM185 346h21.3v3.3h-21.3zM242 346h6.3v3.3h-6.3zM368 346h12.3v3.3h-12.3zM179 349h30.3v3.3h-30.3zM242 349h6.3v3.3h-6.3zM176 352h36.3v3.3h-36.3zM236 352h9.3v3.3h-9.3zM173 355h45.3v3.3h-45.3zM227 355h18.3v3.3h-18.3zM170 358h18.3v3.3h-18.3zM206 358h36.3v3.3h-36.3zM167 361h15.3v3.3h-15.3zM209 361h33.3v3.3h-33.3zM164 364h12.3v3.3h-12.3zM212 364h33.3v3.3h-33.3zM164 367h9.3v3.3h-9.3zM218 367h30.3v3.3h-30.3zM161 370h9.3v3.3h-9.3zM224 370h24.3v3.3h-24.3zM161 373h6.3v3.3h-6.3zM224 373h24.3v3.3h-24.3zM158 376h9.3v3.3h-9.3zM221 376h30.3v3.3h-30.3zM158 379h6.3v3.3h-6.3zM221 379h15.3v3.3h-15.3zM242 379h9.3v3.3h-9.3zM158 382h3.3v3.3h-3.3zM221 382h12.3v3.3h-12.3zM245 382h6.3v3.3h-6.3zM158 385h3.3v3.3h-3.3zM221 385h9.3v3.3h-9.3zM248 385h6.3v3.3h-6.3zM155 388h6.3v3.3h-6.3zM221 388h9.3v3.3h-9.3zM248 388h6.3v3.3h-6.3zM155 391h3.3v3.3h-3.3zM221 391h9.3v3.3h-9.3zM251 391h6.3v3.3h-6.3zM1103 391h3.3v3.3h-3.3zM155 394h3.3v3.3h-3.3zM224 394h6.3v3.3h-6.3zM251 394h6.3v3.3h-6.3zM1094 394h12.3v3.3h-12.3zM155 397h3.3v3.3h-3.3zM224 397h6.3v3.3h-6.3zM254 397h6.3v3.3h-6.3zM1088 397h18.3v3.3h-18.3zM155 400h3.3v3.3h-3.3zM224 400h6.3v3.3h-6.3zM254 400h9.3v3.3h-9.3zM1085 400h12.3v3.3h-12.3zM155 403h3.3v3.3h-3.3zM224 403h6.3v3.3h-6.3zM257 403h9.3v3.3h-9.3zM1082 403h12.3v3.3h-12.3zM155 406h3.3v3.3h-3.3zM224 406h6.3v3.3h-6.3zM260 406h9.3v3.3h-9.3zM1079 406h15.3v3.3h-15.3zM155 409h3.3v3.3h-3.3zM224 409h6.3v3.3h-6.3zM260 409h12.3v3.3h-12.3zM1076 409h18.3v3.3h-18.3zM155 412h3.3v3.3h-3.3zM224 412h6.3v3.3h-6.3zM263 412h12.3v3.3h-12.3zM1073 412h18.3v3.3h-18.3zM155 415h6.3v3.3h-6.3zM221 415h9.3v3.3h-9.3zM263 415h15.3v3.3h-15.3zM1070 415h18.3v3.3h-18.3zM158 418h6.3v3.3h-6.3zM218 418h12.3v3.3h-12.3zM266 418h18.3v3.3h-18.3zM1067 418h15.3v3.3h-15.3zM161 421h21.3v3.3h-21.3zM206 421h24.3v3.3h-24.3zM269 421h21.3v3.3h-21.3zM1067 421h12.3v3.3h-12.3zM167 424h60.3v3.3h-60.3zM278 424h18.3v3.3h-18.3zM1067 424h9.3v3.3h-9.3zM191 427h30.3v3.3h-30.3zM290 427h15.3v3.3h-15.3zM1067 427h9.3v3.3h-9.3zM296 430h15.3v3.3h-15.3zM1064 430h9.3v3.3h-9.3zM308 433h9.3v3.3h-9.3zM1064 433h9.3v3.3h-9.3zM314 436h9.3v3.3h-9.3zM1061 436h9.3v3.3h-9.3zM320 439h3.3v3.3h-3.3zM1058 439h9.3v3.3h-9.3zM323 442h3.3v3.3h-3.3zM1058 442h6.3v3.3h-6.3zM1094 442h6.3v3.3h-6.3zM326 445h3.3v3.3h-3.3zM1055 445h6.3v3.3h-6.3zM1088 445h12.3v3.3h-12.3zM326 448h3.3v3.3h-3.3zM1052 448h6.3v3.3h-6.3zM1088 448h9.3v3.3h-9.3zM329 451h3.3v3.3h-3.3zM1049 451h9.3v3.3h-9.3zM1085 451h9.3v3.3h-9.3zM329 454h6.3v3.3h-6.3zM1046 454h9.3v3.3h-9.3zM332 457h3.3v3.3h-3.3zM1043 457h6.3v3.3h-6.3zM242 460h12.3v3.3h-12.3zM332 460h6.3v3.3h-6.3zM239 463h18.3v3.3h-18.3zM332 463h6.3v3.3h-6.3zM377 463h6.3v3.3h-6.3zM233 466h27.3v3.3h-27.3zM329 466h9.3v3.3h-9.3zM374 466h12.3v3.3h-12.3zM230 469h9.3v3.3h-9.3zM251 469h9.3v3.3h-9.3zM326 469h9.3v3.3h-9.3zM374 469h12.3v3.3h-12.3zM230 472h6.3v3.3h-6.3zM254 472h6.3v3.3h-6.3zM317 472h15.3v3.3h-15.3zM371 472h18.3v3.3h-18.3zM230 475h6.3v3.3h-6.3zM254 475h6.3v3.3h-6.3zM308 475h21.3v3.3h-21.3zM371 475h18.3v3.3h-18.3zM230 478h6.3v3.3h-6.3zM254 478h6.3v3.3h-6.3zM308 478h18.3v3.3h-18.3zM371 478h9.3v3.3h-9.3zM383 478h6.3v3.3h-6.3zM233 481h3.3v3.3h-3.3zM254 481h6.3v3.3h-6.3zM305 481h18.3v3.3h-18.3zM368 481h9.3v3.3h-9.3zM383 481h6.3v3.3h-6.3zM1022 481h3.3v3.3h-3.3zM233 484h6.3v3.3h-6.3zM251 484h6.3v3.3h-6.3zM305 484h18.3v3.3h-18.3zM368 484h6.3v3.3h-6.3zM383 484h6.3v3.3h-6.3zM1019 484h3.3v3.3h-3.3zM239 487h15.3v3.3h-15.3zM305 487h21.3v3.3h-21.3zM365 487h9.3v3.3h-9.3zM383 487h6.3v3.3h-6.3zM1016 487h3.3v3.3h-3.3zM245 490h3.3v3.3h-3.3zM308 490h21.3v3.3h-21.3zM359 490h12.3v3.3h-12.3zM386 490h3.3v3.3h-3.3zM1013 490h3.3v3.3h-3.3zM308 493h36.3v3.3h-36.3zM353 493h15.3v3.3h-15.3zM386 493h3.3v3.3h-3.3zM1013 493h3.3v3.3h-3.3zM311 496h54.3v3.3h-54.3zM386 496h3.3v3.3h-3.3zM1010 496h3.3v3.3h-3.3zM314 499h48.3v3.3h-48.3zM386 499h3.3v3.3h-3.3zM1007 499h3.3v3.3h-3.3zM320 502h39.3v3.3h-39.3zM386 502h3.3v3.3h-3.3zM1004 502h6.3v3.3h-6.3zM326 505h33.3v3.3h-33.3zM386 505h3.3v3.3h-3.3zM1001 505h6.3v3.3h-6.3zM347 508h6.3v3.3h-6.3zM386 508h3.3v3.3h-3.3zM998 508h9.3v3.3h-9.3zM386 511h3.3v3.3h-3.3zM998 511h9.3v3.3h-9.3zM386 514h3.3v3.3h-3.3zM992 514h15.3v3.3h-15.3zM386 517h3.3v3.3h-3.3zM977 517h27.3v3.3h-27.3zM386 520h3.3v3.3h-3.3zM578 520h9.3v3.3h-9.3zM977 520h24.3v3.3h-24.3zM386 523h3.3v3.3h-3.3zM569 523h24.3v3.3h-24.3zM977 523h6.3v3.3h-6.3zM989 523h9.3v3.3h-9.3zM386 526h3.3v3.3h-3.3zM560 526h39.3v3.3h-39.3zM977 526h3.3v3.3h-3.3zM386 529h3.3v3.3h-3.3zM548 529h27.3v3.3h-27.3zM590 529h12.3v3.3h-12.3zM974 529h6.3v3.3h-6.3zM386 532h3.3v3.3h-3.3zM539 532h24.3v3.3h-24.3zM596 532h12.3v3.3h-12.3zM974 532h3.3v3.3h-3.3zM383 535h6.3v3.3h-6.3zM530 535h21.3v3.3h-21.3zM602 535h18.3v3.3h-18.3zM974 535h3.3v3.3h-3.3zM383 538h6.3v3.3h-6.3zM521 538h21.3v3.3h-21.3zM611 538h21.3v3.3h-21.3zM974 538h6.3v3.3h-6.3zM383 541h9.3v3.3h-9.3zM512 541h24.3v3.3h-24.3zM626 541h12.3v3.3h-12.3zM974 541h6.3v3.3h-6.3zM383 544h9.3v3.3h-9.3zM500 544h30.3v3.3h-30.3zM632 544h9.3v3.3h-9.3zM974 544h9.3v3.3h-9.3zM383 547h12.3v3.3h-12.3zM485 547h36.3v3.3h-36.3zM638 547h9.3v3.3h-9.3zM974 547h9.3v3.3h-9.3zM383 550h15.3v3.3h-15.3zM470 550h42.3v3.3h-42.3zM644 550h12.3v3.3h-12.3zM974 550h9.3v3.3h-9.3zM386 553h18.3v3.3h-18.3zM461 553h39.3v3.3h-39.3zM650 553h18.3v3.3h-18.3zM974 553h6.3v3.3h-6.3zM395 556h93.3v3.3h-93.3zM656 556h27.3v3.3h-27.3zM974 556h6.3v3.3h-6.3zM437 559h42.3v3.3h-42.3zM662 559h36.3v3.3h-36.3zM974 559h6.3v3.3h-6.3zM443 562h30.3v3.3h-30.3zM671 562h42.3v3.3h-42.3zM971 562h6.3v3.3h-6.3zM677 565h45.3v3.3h-45.3zM971 565h6.3v3.3h-6.3zM680 568h48.3v3.3h-48.3zM968 568h6.3v3.3h-6.3zM689 571h42.3v3.3h-42.3zM965 571h6.3v3.3h-6.3zM719 574h15.3v3.3h-15.3zM959 574h9.3v3.3h-9.3zM722 577h12.3v3.3h-12.3zM950 577h15.3v3.3h-15.3zM722 580h9.3v3.3h-9.3zM944 580h15.3v3.3h-15.3zM722 583h9.3v3.3h-9.3zM935 583h15.3v3.3h-15.3zM722 586h9.3v3.3h-9.3zM926 586h18.3v3.3h-18.3zM722 589h9.3v3.3h-9.3zM911 589h27.3v3.3h-27.3zM725 592h6.3v3.3h-6.3zM884 592h48.3v3.3h-48.3zM725 595h6.3v3.3h-6.3zM878 595h48.3v3.3h-48.3zM725 598h9.3v3.3h-9.3zM875 598h39.3v3.3h-39.3zM728 601h6.3v3.3h-6.3zM872 601h15.3v3.3h-15.3zM728 604h9.3v3.3h-9.3zM869 604h12.3v3.3h-12.3zM731 607h9.3v3.3h-9.3zM869 607h9.3v3.3h-9.3zM731 610h9.3v3.3h-9.3zM869 610h9.3v3.3h-9.3zM734 613h9.3v3.3h-9.3zM869 613h6.3v3.3h-6.3zM734 616h12.3v3.3h-12.3zM866 616h9.3v3.3h-9.3zM737 619h9.3v3.3h-9.3zM866 619h9.3v3.3h-9.3zM740 622h9.3v3.3h-9.3zM866 622h6.3v3.3h-6.3zM740 625h12.3v3.3h-12.3zM866 625h6.3v3.3h-6.3zM743 628h12.3v3.3h-12.3zM866 628h6.3v3.3h-6.3zM746 631h12.3v3.3h-12.3zM866 631h6.3v3.3h-6.3zM746 634h15.3v3.3h-15.3zM863 634h9.3v3.3h-9.3zM749 637h12.3v3.3h-12.3zM863 637h9.3v3.3h-9.3zM752 640h12.3v3.3h-12.3zM860 640h9.3v3.3h-9.3zM755 643h15.3v3.3h-15.3zM860 643h9.3v3.3h-9.3zM758 646h15.3v3.3h-15.3zM857 646h9.3v3.3h-9.3zM761 649h18.3v3.3h-18.3zM857 649h9.3v3.3h-9.3zM767 652h21.3v3.3h-21.3zM854 652h9.3v3.3h-9.3zM773 655h24.3v3.3h-24.3zM854 655h6.3v3.3h-6.3zM782 658h24.3v3.3h-24.3zM848 658h9.3v3.3h-9.3zM797 661h15.3v3.3h-15.3zM839 661h15.3v3.3h-15.3zM806 664h45.3v3.3h-45.3zM815 667h21.3v3.3h-21.3z"/>
<path fill="#7498d8" d="M230 268h3.3v3.3h-3.3zM230 271h3.3v3.3h-3.3zM230 274h3.3v3.3h-3.3zM230 277h3.3v3.3h-3.3zM227 280h6.3v3.3h-6.3zM227 283h3.3v3.3h-3.3zM221 286h9.3v3.3h-9.3zM218 289h9.3v3.3h-9.3zM215 292h9.3v3.3h-9.3zM212 295h9.3v3.3h-9.3zM212 298h9.3v3.3h-9.3zM212 301h9.3v3.3h-9.3zM215 304h9.3v3.3h-9.3zM221 307h6.3v3.3h-6.3zM224 310h6.3v3.3h-6.3zM227 313h6.3v3.3h-6.3zM230 316h6.3v3.3h-6.3zM233 319h6.3v3.3h-6.3zM236 322h6.3v3.3h-6.3zM239 325h3.3v3.3h-3.3zM371 325h6.3v3.3h-6.3zM188 328h6.3v3.3h-6.3zM239 328h6.3v3.3h-6.3zM371 328h6.3v3.3h-6.3zM173 331h27.3v3.3h-27.3zM242 331h3.3v3.3h-3.3zM371 331h6.3v3.3h-6.3zM170 334h36.3v3.3h-36.3zM242 334h3.3v3.3h-3.3zM371 334h3.3v3.3h-3.3zM167 337h39.3v3.3h-39.3zM242 337h3.3v3.3h-3.3zM167 340h42.3v3.3h-42.3zM242 340h3.3v3.3h-3.3zM164 343h30.3v3.3h-30.3zM200 343h12.3v3.3h-12.3zM239 343h6.3v3.3h-6.3zM164 346h21.3v3.3h-21.3zM206 346h9.3v3.3h-9.3zM236 346h6.3v3.3h-6.3zM161 349h18.3v3.3h-18.3zM209 349h12.3v3.3h-12.3zM230 349h12.3v3.3h-12.3zM161 352h15.3v3.3h-15.3zM212 352h24.3v3.3h-24.3zM161 355h12.3v3.3h-12.3zM218 355h9.3v3.3h-9.3zM158 358h12.3v3.3h-12.3zM158 361h9.3v3.3h-9.3zM158 364h6.3v3.3h-6.3zM158 367h6.3v3.3h-6.3zM155 370h6.3v3.3h-6.3zM155 373h6.3v3.3h-6.3zM155 376h3.3v3.3h-3.3zM155 379h3.3v3.3h-3.3zM236 379h6.3v3.3h-6.3zM152 382h6.3v3.3h-6.3zM233 382h12.3v3.3h-12.3zM152 385h6.3v3.3h-6.3zM230 385h18.3v3.3h-18.3zM152 388h3.3v3.3h-3.3zM230 388h18.3v3.3h-18.3zM152 391h3.3v3.3h-3.3zM230 391h21.3v3.3h-21.3zM152 394h3.3v3.3h-3.3zM230 394h21.3v3.3h-21.3zM152 397h3.3v3.3h-3.3zM230 397h24.3v3.3h-24.3zM152 400h3.3v3.3h-3.3zM230 400h24.3v3.3h-24.3zM152 403h3.3v3.3h-3.3zM230 403h12.3v3.3h-12.3zM245 403h12.3v3.3h-12.3zM152 406h3.3v3.3h-3.3zM230 406h12.3v3.3h-12.3zM245 406h15.3v3.3h-15.3zM152 409h3.3v3.3h-3.3zM230 409h12.3v3.3h-12.3zM248 409h12.3v3.3h-12.3zM152 412h3.3v3.3h-3.3zM230 412h12.3v3.3h-12.3zM248 412h15.3v3.3h-15.3zM1091 412h6.3v3.3h-6.3zM152 415h3.3v3.3h-3.3zM230 415h12.3v3.3h-12.3zM248 415h15.3v3.3h-15.3zM1088 415h9.3v3.3h-9.3zM152 418h6.3v3.3h-6.3zM230 418h12.3v3.3h-12.3zM248 418h18.3v3.3h-18.3zM1082 418h18.3v3.3h-18.3zM155 421h6.3v3.3h-6.3zM230 421h9.3v3.3h-9.3zM248 421h21.3v3.3h-21.3zM1079 421h21.3v3.3h-21.3zM158 424h9.3v3.3h-9.3zM227 424h12.3v3.3h-12.3zM248 424h30.3v3.3h-30.3zM1076 424h27.3v3.3h-27.3zM164 427h27.3v3.3h-27.3zM221 427h18.3v3.3h-18.3zM248 427h42.3v3.3h-42.3zM1076 427h27.3v3.3h-27.3zM176 430h63.3v3.3h-63.3zM248 430h48.3v3.3h-48.3zM1073 430h30.3v3.3h-30.3zM194 433h42.3v3.3h-42.3zM248 433h60.3v3.3h-60.3zM1073 433h30.3v3.3h-30.3zM215 436h9.3v3.3h-9.3zM248 436h66.3v3.3h-66.3zM1070 436h33.3v3.3h-33.3zM248 439h42.3v3.3h-42.3zM308 439h12.3v3.3h-12.3zM1067 439h36.3v3.3h-36.3zM245 442h42.3v3.3h-42.3zM317 442h6.3v3.3h-6.3zM1064 442h12.3v3.3h-12.3zM1079 442h15.3v3.3h-15.3zM1100 442h3.3v3.3h-3.3zM242 445h42.3v3.3h-42.3zM320 445h6.3v3.3h-6.3zM1061 445h9.3v3.3h-9.3zM1079 445h9.3v3.3h-9.3zM236 448h51.3v3.3h-51.3zM323 448h3.3v3.3h-3.3zM1058 448h9.3v3.3h-9.3zM1079 448h9.3v3.3h-9.3zM233 451h54.3v3.3h-54.3zM326 451h3.3v3.3h-3.3zM1058 451h6.3v3.3h-6.3zM1079 451h6.3v3.3h-6.3zM230 454h63.3v3.3h-63.3zM326 454h3.3v3.3h-3.3zM1055 454h6.3v3.3h-6.3zM1076 454h3.3v3.3h-3.3zM227 457h69.3v3.3h-69.3zM326 457h6.3v3.3h-6.3zM224 460h18.3v3.3h-18.3zM254 460h45.3v3.3h-45.3zM326 460h6.3v3.3h-6.3zM221 463h18.3v3.3h-18.3zM257 463h48.3v3.3h-48.3zM323 463h9.3v3.3h-9.3zM221 466h12.3v3.3h-12.3zM260 466h69.3v3.3h-69.3zM221 469h9.3v3.3h-9.3zM260 469h66.3v3.3h-66.3zM221 472h9.3v3.3h-9.3zM260 472h57.3v3.3h-57.3zM221 475h9.3v3.3h-9.3zM260 475h48.3v3.3h-48.3zM224 478h6.3v3.3h-6.3zM260 478h48.3v3.3h-48.3zM380 478h3.3v3.3h-3.3zM227 481h6.3v3.3h-6.3zM260 481h45.3v3.3h-45.3zM377 481h6.3v3.3h-6.3zM227 484h6.3v3.3h-6.3zM257 484h9.3v3.3h-9.3zM278 484h27.3v3.3h-27.3zM374 484h9.3v3.3h-9.3zM233 487h6.3v3.3h-6.3zM254 487h9.3v3.3h-9.3zM281 487h24.3v3.3h-24.3zM374 487h9.3v3.3h-9.3zM236 490h9.3v3.3h-9.3zM248 490h12.3v3.3h-12.3zM284 490h24.3v3.3h-24.3zM371 490h15.3v3.3h-15.3zM242 493h12.3v3.3h-12.3zM287 493h21.3v3.3h-21.3zM368 493h18.3v3.3h-18.3zM290 496h21.3v3.3h-21.3zM365 496h21.3v3.3h-21.3zM296 499h18.3v3.3h-18.3zM362 499h24.3v3.3h-24.3zM302 502h18.3v3.3h-18.3zM359 502h27.3v3.3h-27.3zM308 505h18.3v3.3h-18.3zM359 505h27.3v3.3h-27.3zM314 508h33.3v3.3h-33.3zM353 508h33.3v3.3h-33.3zM320 511h66.3v3.3h-66.3zM329 514h45.3v3.3h-45.3zM380 514h6.3v3.3h-6.3zM341 517h33.3v3.3h-33.3zM380 517h6.3v3.3h-6.3zM344 520h30.3v3.3h-30.3zM377 520h9.3v3.3h-9.3zM347 523h27.3v3.3h-27.3zM377 523h9.3v3.3h-9.3zM983 523h6.3v3.3h-6.3zM350 526h36.3v3.3h-36.3zM980 526h18.3v3.3h-18.3zM350 529h36.3v3.3h-36.3zM575 529h15.3v3.3h-15.3zM980 529h15.3v3.3h-15.3zM353 532h33.3v3.3h-33.3zM563 532h33.3v3.3h-33.3zM977 532h15.3v3.3h-15.3zM353 535h30.3v3.3h-30.3zM551 535h51.3v3.3h-51.3zM977 535h15.3v3.3h-15.3zM353 538h30.3v3.3h-30.3zM542 538h30.3v3.3h-30.3zM590 538h21.3v3.3h-21.3zM980 538h12.3v3.3h-12.3zM353 541h30.3v3.3h-30.3zM536 541h21.3v3.3h-21.3zM602 541h24.3v3.3h-24.3zM980 541h12.3v3.3h-12.3zM350 544h33.3v3.3h-33.3zM530 544h18.3v3.3h-18.3zM617 544h15.3v3.3h-15.3zM983 544h9.3v3.3h-9.3zM350 547h33.3v3.3h-33.3zM521 547h18.3v3.3h-18.3zM629 547h9.3v3.3h-9.3zM983 547h9.3v3.3h-9.3zM350 550h33.3v3.3h-33.3zM512 550h21.3v3.3h-21.3zM635 550h9.3v3.3h-9.3zM983 550h9.3v3.3h-9.3zM350 553h36.3v3.3h-36.3zM500 553h27.3v3.3h-27.3zM638 553h12.3v3.3h-12.3zM980 553h9.3v3.3h-9.3zM347 556h48.3v3.3h-48.3zM488 556h33.3v3.3h-33.3zM644 556h12.3v3.3h-12.3zM980 556h6.3v3.3h-6.3zM338 559h99.3v3.3h-99.3zM479 559h36.3v3.3h-36.3zM650 559h12.3v3.3h-12.3zM980 559h6.3v3.3h-6.3zM332 562h111.3v3.3h-111.3zM473 562h36.3v3.3h-36.3zM653 562h18.3v3.3h-18.3zM977 562h6.3v3.3h-6.3zM329 565h51.3v3.3h-51.3zM434 565h69.3v3.3h-69.3zM656 565h21.3v3.3h-21.3zM977 565h3.3v3.3h-3.3zM326 568h39.3v3.3h-39.3zM440 568h54.3v3.3h-54.3zM659 568h21.3v3.3h-21.3zM974 568h6.3v3.3h-6.3zM326 571h33.3v3.3h-33.3zM446 571h42.3v3.3h-42.3zM659 571h30.3v3.3h-30.3zM971 571h6.3v3.3h-6.3zM329 574h18.3v3.3h-18.3zM455 574h27.3v3.3h-27.3zM662 574h57.3v3.3h-57.3zM968 574h6.3v3.3h-6.3zM464 577h15.3v3.3h-15.3zM662 577h60.3v3.3h-60.3zM965 577h6.3v3.3h-6.3zM473 580h3.3v3.3h-3.3zM665 580h57.3v3.3h-57.3zM959 580h12.3v3.3h-12.3zM668 583h54.3v3.3h-54.3zM950 583h18.3v3.3h-18.3zM671 586h51.3v3.3h-51.3zM944 586h18.3v3.3h-18.3zM677 589h45.3v3.3h-45.3zM938 589h18.3v3.3h-18.3zM686 592h39.3v3.3h-39.3zM932 592h15.3v3.3h-15.3zM704 595h21.3v3.3h-21.3zM926 595h15.3v3.3h-15.3zM716 598h9.3v3.3h-9.3zM914 598h24.3v3.3h-24.3zM719 601h9.3v3.3h-9.3zM887 601h48.3v3.3h-48.3zM719 604h9.3v3.3h-9.3zM881 604h48.3v3.3h-48.3zM722 607h9.3v3.3h-9.3zM878 607h48.3v3.3h-48.3zM725 610h6.3v3.3h-6.3zM878 610h45.3v3.3h-45.3zM725 613h9.3v3.3h-9.3zM875 613h45.3v3.3h-45.3zM728 616h6.3v3.3h-6.3zM875 616h42.3v3.3h-42.3zM728 619h9.3v3.3h-9.3zM875 619h9.3v3.3h-9.3zM899 619h15.3v3.3h-15.3zM731 622h9.3v3.3h-9.3zM872 622h9.3v3.3h-9.3zM902 622h9.3v3.3h-9.3zM731 625h9.3v3.3h-9.3zM872 625h9.3v3.3h-9.3zM734 628h9.3v3.3h-9.3zM872 628h9.3v3.3h-9.3zM737 631h9.3v3.3h-9.3zM872 631h6.3v3.3h-6.3zM737 634h9.3v3.3h-9.3zM872 634h6.3v3.3h-6.3zM740 637h9.3v3.3h-9.3zM872 637h6.3v3.3h-6.3zM743 640h9.3v3.3h-9.3zM869 640h9.3v3.3h-9.3zM743 643h12.3v3.3h-12.3zM869 643h6.3v3.3h-6.3zM746 646h12.3v3.3h-12.3zM866 646h9.3v3.3h-9.3zM749 649h12.3v3.3h-12.3zM866 649h6.3v3.3h-6.3zM755 652h12.3v3.3h-12.3zM863 652h6.3v3.3h-6.3zM758 655h15.3v3.3h-15.3zM860 655h9.3v3.3h-9.3zM767 658h15.3v3.3h-15.3zM857 658h9.3v3.3h-9.3zM773 661h24.3v3.3h-24.3zM854 661h9.3v3.3h-9.3zM785 664h21.3v3.3h-21.3zM851 664h9.3v3.3h-9.3zM800 667h15.3v3.3h-15.3zM836 667h18.3v3.3h-18.3zM809 670h39.3v3.3h-39.3zM824 673h3.3v3.3h-3.3z"/>
<path fill="#6890d4" d="M224 268h6.3v3.3h-6.3zM224 271h6.3v3.3h-6.3zM224 274h6.3v3.3h-6.3zM224 277h6.3v3.3h-6.3zM218 280h9.3v3.3h-9.3zM212 283h15.3v3.3h-15.3zM209 286h12.3v3.3h-12.3zM206 289h12.3v3.3h-12.3zM203 292h12.3v3.3h-12.3zM185 295h3.3v3.3h-3.3zM197 295h15.3v3.3h-15.3zM179 298h33.3v3.3h-33.3zM176 301h36.3v3.3h-36.3zM173 304h42.3v3.3h-42.3zM173 307h48.3v3.3h-48.3zM170 310h33.3v3.3h-33.3zM215 310h9.3v3.3h-9.3zM170 313h33.3v3.3h-33.3zM221 313h6.3v3.3h-6.3zM167 316h36.3v3.3h-36.3zM227 316h3.3v3.3h-3.3zM167 319h36.3v3.3h-36.3zM230 319h3.3v3.3h-3.3zM164 322h39.3v3.3h-39.3zM233 322h3.3v3.3h-3.3zM164 325h42.3v3.3h-42.3zM236 325h3.3v3.3h-3.3zM161 328h27.3v3.3h-27.3zM194 328h15.3v3.3h-15.3zM236 328h3.3v3.3h-3.3zM161 331h12.3v3.3h-12.3zM200 331h9.3v3.3h-9.3zM239 331h3.3v3.3h-3.3zM158 334h12.3v3.3h-12.3zM206 334h6.3v3.3h-6.3zM239 334h3.3v3.3h-3.3zM158 337h9.3v3.3h-9.3zM206 337h9.3v3.3h-9.3zM239 337h3.3v3.3h-3.3zM158 340h9.3v3.3h-9.3zM209 340h9.3v3.3h-9.3zM236 340h6.3v3.3h-6.3zM158 343h6.3v3.3h-6.3zM212 343h9.3v3.3h-9.3zM233 343h6.3v3.3h-6.3zM155 346h9.3v3.3h-9.3zM215 346h21.3v3.3h-21.3zM155 349h6.3v3.3h-6.3zM221 349h9.3v3.3h-9.3zM155 352h6.3v3.3h-6.3zM155 355h6.3v3.3h-6.3zM155 358h3.3v3.3h-3.3zM152 361h6.3v3.3h-6.3zM152 364h6.3v3.3h-6.3zM152 367h6.3v3.3h-6.3zM152 370h3.3v3.3h-3.3zM152 373h3.3v3.3h-3.3zM152 376h3.3v3.3h-3.3zM149 379h6.3v3.3h-6.3zM149 382h3.3v3.3h-3.3zM149 385h3.3v3.3h-3.3zM149 388h3.3v3.3h-3.3zM149 391h3.3v3.3h-3.3zM149 394h3.3v3.3h-3.3zM149 397h3.3v3.3h-3.3zM149 400h3.3v3.3h-3.3zM149 403h3.3v3.3h-3.3zM242 403h3.3v3.3h-3.3zM146 406h6.3v3.3h-6.3zM242 406h3.3v3.3h-3.3zM146 409h6.3v3.3h-6.3zM242 409h6.3v3.3h-6.3zM146 412h6.3v3.3h-6.3zM242 412h6.3v3.3h-6.3zM146 415h6.3v3.3h-6.3zM242 415h6.3v3.3h-6.3zM149 418h3.3v3.3h-3.3zM242 418h6.3v3.3h-6.3zM149 421h6.3v3.3h-6.3zM239 421h9.3v3.3h-9.3zM152 424h6.3v3.3h-6.3zM239 424h9.3v3.3h-9.3zM155 427h9.3v3.3h-9.3zM239 427h9.3v3.3h-9.3zM161 430h15.3v3.3h-15.3zM239 430h9.3v3.3h-9.3zM173 433h21.3v3.3h-21.3zM236 433h12.3v3.3h-12.3zM182 436h33.3v3.3h-33.3zM224 436h24.3v3.3h-24.3zM191 439h57.3v3.3h-57.3zM290 439h18.3v3.3h-18.3zM197 442h48.3v3.3h-48.3zM287 442h30.3v3.3h-30.3zM1076 442h3.3v3.3h-3.3zM200 445h42.3v3.3h-42.3zM284 445h36.3v3.3h-36.3zM1070 445h9.3v3.3h-9.3zM203 448h33.3v3.3h-33.3zM287 448h36.3v3.3h-36.3zM1067 448h12.3v3.3h-12.3zM203 451h30.3v3.3h-30.3zM287 451h24.3v3.3h-24.3zM317 451h9.3v3.3h-9.3zM1064 451h15.3v3.3h-15.3zM203 454h27.3v3.3h-27.3zM293 454h18.3v3.3h-18.3zM320 454h6.3v3.3h-6.3zM1061 454h15.3v3.3h-15.3zM203 457h24.3v3.3h-24.3zM296 457h18.3v3.3h-18.3zM317 457h9.3v3.3h-9.3zM206 460h18.3v3.3h-18.3zM299 460h27.3v3.3h-27.3zM206 463h15.3v3.3h-15.3zM305 463h18.3v3.3h-18.3zM209 466h12.3v3.3h-12.3zM209 469h12.3v3.3h-12.3zM212 472h9.3v3.3h-9.3zM212 475h9.3v3.3h-9.3zM215 478h9.3v3.3h-9.3zM218 481h9.3v3.3h-9.3zM221 484h6.3v3.3h-6.3zM266 484h12.3v3.3h-12.3zM224 487h9.3v3.3h-9.3zM263 487h18.3v3.3h-18.3zM227 490h9.3v3.3h-9.3zM260 490h24.3v3.3h-24.3zM233 493h9.3v3.3h-9.3zM254 493h33.3v3.3h-33.3zM236 496h27.3v3.3h-27.3zM272 496h18.3v3.3h-18.3zM278 499h18.3v3.3h-18.3zM284 502h18.3v3.3h-18.3zM290 505h18.3v3.3h-18.3zM296 508h18.3v3.3h-18.3zM302 511h18.3v3.3h-18.3zM308 514h21.3v3.3h-21.3zM374 514h6.3v3.3h-6.3zM314 517h27.3v3.3h-27.3zM374 517h6.3v3.3h-6.3zM323 520h21.3v3.3h-21.3zM374 520h3.3v3.3h-3.3zM329 523h18.3v3.3h-18.3zM374 523h3.3v3.3h-3.3zM332 526h18.3v3.3h-18.3zM335 529h15.3v3.3h-15.3zM335 532h18.3v3.3h-18.3zM335 535h18.3v3.3h-18.3zM335 538h18.3v3.3h-18.3zM572 538h18.3v3.3h-18.3zM335 541h18.3v3.3h-18.3zM557 541h45.3v3.3h-45.3zM332 544h18.3v3.3h-18.3zM548 544h69.3v3.3h-69.3zM332 547h18.3v3.3h-18.3zM539 547h24.3v3.3h-24.3zM602 547h27.3v3.3h-27.3zM992 547h3.3v3.3h-3.3zM329 550h21.3v3.3h-21.3zM533 550h15.3v3.3h-15.3zM620 550h15.3v3.3h-15.3zM992 550h3.3v3.3h-3.3zM326 553h24.3v3.3h-24.3zM527 553h15.3v3.3h-15.3zM629 553h9.3v3.3h-9.3zM989 553h6.3v3.3h-6.3zM323 556h24.3v3.3h-24.3zM521 556h15.3v3.3h-15.3zM632 556h12.3v3.3h-12.3zM986 556h6.3v3.3h-6.3zM323 559h15.3v3.3h-15.3zM515 559h18.3v3.3h-18.3zM638 559h12.3v3.3h-12.3zM986 559h3.3v3.3h-3.3zM320 562h12.3v3.3h-12.3zM509 562h21.3v3.3h-21.3zM644 562h9.3v3.3h-9.3zM983 562h3.3v3.3h-3.3zM320 565h9.3v3.3h-9.3zM380 565h54.3v3.3h-54.3zM503 565h21.3v3.3h-21.3zM647 565h9.3v3.3h-9.3zM980 565h6.3v3.3h-6.3zM320 568h6.3v3.3h-6.3zM365 568h33.3v3.3h-33.3zM425 568h15.3v3.3h-15.3zM494 568h27.3v3.3h-27.3zM650 568h9.3v3.3h-9.3zM980 568h3.3v3.3h-3.3zM323 571h3.3v3.3h-3.3zM359 571h33.3v3.3h-33.3zM431 571h15.3v3.3h-15.3zM488 571h30.3v3.3h-30.3zM650 571h9.3v3.3h-9.3zM977 571h3.3v3.3h-3.3zM323 574h6.3v3.3h-6.3zM347 574h42.3v3.3h-42.3zM434 574h21.3v3.3h-21.3zM482 574h33.3v3.3h-33.3zM653 574h9.3v3.3h-9.3zM974 574h6.3v3.3h-6.3zM326 577h60.3v3.3h-60.3zM440 577h24.3v3.3h-24.3zM479 577h30.3v3.3h-30.3zM653 577h9.3v3.3h-9.3zM971 577h6.3v3.3h-6.3zM335 580h42.3v3.3h-42.3zM443 580h30.3v3.3h-30.3zM476 580h27.3v3.3h-27.3zM653 580h12.3v3.3h-12.3zM971 580h3.3v3.3h-3.3zM449 583h45.3v3.3h-45.3zM656 583h12.3v3.3h-12.3zM968 583h3.3v3.3h-3.3zM458 586h33.3v3.3h-33.3zM656 586h15.3v3.3h-15.3zM962 586h9.3v3.3h-9.3zM464 589h24.3v3.3h-24.3zM659 589h18.3v3.3h-18.3zM956 589h12.3v3.3h-12.3zM467 592h21.3v3.3h-21.3zM662 592h24.3v3.3h-24.3zM947 592h18.3v3.3h-18.3zM473 595h9.3v3.3h-9.3zM665 595h39.3v3.3h-39.3zM941 595h21.3v3.3h-21.3zM668 598h48.3v3.3h-48.3zM938 598h21.3v3.3h-21.3zM674 601h45.3v3.3h-45.3zM935 601h24.3v3.3h-24.3zM683 604h36.3v3.3h-36.3zM929 604h24.3v3.3h-24.3zM698 607h24.3v3.3h-24.3zM926 607h24.3v3.3h-24.3zM707 610h18.3v3.3h-18.3zM923 610h18.3v3.3h-18.3zM713 613h12.3v3.3h-12.3zM920 613h18.3v3.3h-18.3zM716 616h12.3v3.3h-12.3zM917 616h15.3v3.3h-15.3zM719 619h9.3v3.3h-9.3zM884 619h15.3v3.3h-15.3zM914 619h15.3v3.3h-15.3zM719 622h12.3v3.3h-12.3zM881 622h21.3v3.3h-21.3zM911 622h15.3v3.3h-15.3zM722 625h9.3v3.3h-9.3zM881 625h42.3v3.3h-42.3zM725 628h9.3v3.3h-9.3zM881 628h39.3v3.3h-39.3zM728 631h9.3v3.3h-9.3zM878 631h39.3v3.3h-39.3zM728 634h9.3v3.3h-9.3zM878 634h36.3v3.3h-36.3zM731 637h9.3v3.3h-9.3zM878 637h33.3v3.3h-33.3zM734 640h9.3v3.3h-9.3zM878 640h9.3v3.3h-9.3zM899 640h6.3v3.3h-6.3zM737 643h6.3v3.3h-6.3zM875 643h12.3v3.3h-12.3zM737 646h9.3v3.3h-9.3zM875 646h9.3v3.3h-9.3zM740 649h9.3v3.3h-9.3zM872 649h9.3v3.3h-9.3zM743 652h12.3v3.3h-12.3zM869 652h9.3v3.3h-9.3zM746 655h12.3v3.3h-12.3zM869 655h6.3v3.3h-6.3zM752 658h15.3v3.3h-15.3zM866 658h6.3v3.3h-6.3zM761 661h12.3v3.3h-12.3zM863 661h6.3v3.3h-6.3zM767 664h18.3v3.3h-18.3zM860 664h6.3v3.3h-6.3zM776 667h24.3v3.3h-24.3zM854 667h9.3v3.3h-9.3zM785 670h24.3v3.3h-24.3zM848 670h12.3v3.3h-12.3zM800 673h24.3v3.3h-24.3zM827 673h27.3v3.3h-27.3zM815 676h30.3v3.3h-30.3z"/>
<path fill="#5a86d0" d="M164 268h60.3v3.3h-60.3zM164 271h60.3v3.3h-60.3zM164 274h60.3v3.3h-60.3zM164 277h60.3v3.3h-60.3zM164 280h54.3v3.3h-54.3zM167 283h45.3v3.3h-45.3zM167 286h42.3v3.3h-42.3zM167 289h39.3v3.3h-39.3zM167 292h36.3v3.3h-36.3zM167 295h18.3v3.3h-18.3zM188 295h9.3v3.3h-9.3zM167 298h12.3v3.3h-12.3zM164 301h12.3v3.3h-12.3zM164 304h9.3v3.3h-9.3zM164 307h9.3v3.3h-9.3zM161 310h9.3v3.3h-9.3zM203 310h12.3v3.3h-12.3zM161 313h9.3v3.3h-9.3zM203 313h18.3v3.3h-18.3zM161 316h6.3v3.3h-6.3zM203 316h12.3v3.3h-12.3zM218 316h9.3v3.3h-9.3zM158 319h9.3v3.3h-9.3zM203 319h9.3v3.3h-9.3zM224 319h6.3v3.3h-6.3zM158 322h6.3v3.3h-6.3zM203 322h9.3v3.3h-9.3zM230 322h3.3v3.3h-3.3zM158 325h6.3v3.3h-6.3zM206 325h6.3v3.3h-6.3zM230 325h6.3v3.3h-6.3zM155 328h6.3v3.3h-6.3zM209 328h3.3v3.3h-3.3zM233 328h3.3v3.3h-3.3zM155 331h6.3v3.3h-6.3zM209 331h6.3v3.3h-6.3zM233 331h6.3v3.3h-6.3zM155 334h3.3v3.3h-3.3zM212 334h6.3v3.3h-6.3zM233 334h6.3v3.3h-6.3zM152 337h6.3v3.3h-6.3zM215 337h6.3v3.3h-6.3zM233 337h6.3v3.3h-6.3zM152 340h6.3v3.3h-6.3zM218 340h18.3v3.3h-18.3zM152 343h6.3v3.3h-6.3zM221 343h12.3v3.3h-12.3zM152 346h3.3v3.3h-3.3zM149 349h6.3v3.3h-6.3zM149 352h6.3v3.3h-6.3zM149 355h6.3v3.3h-6.3zM149 358h6.3v3.3h-6.3zM149 361h3.3v3.3h-3.3zM149 364h3.3v3.3h-3.3zM149 367h3.3v3.3h-3.3zM149 370h3.3v3.3h-3.3zM149 373h3.3v3.3h-3.3zM146 376h6.3v3.3h-6.3zM146 379h3.3v3.3h-3.3zM146 382h3.3v3.3h-3.3zM146 385h3.3v3.3h-3.3zM146 388h3.3v3.3h-3.3zM146 391h3.3v3.3h-3.3zM146 394h3.3v3.3h-3.3zM146 397h3.3v3.3h-3.3zM146 400h3.3v3.3h-3.3zM146 403h3.3v3.3h-3.3zM143 406h3.3v3.3h-3.3zM143 409h3.3v3.3h-3.3zM143 412h3.3v3.3h-3.3zM143 415h3.3v3.3h-3.3zM146 418h3.3v3.3h-3.3zM146 421h3.3v3.3h-3.3zM149 424h3.3v3.3h-3.3zM152 427h3.3v3.3h-3.3zM155 430h6.3v3.3h-6.3zM161 433h12.3v3.3h-12.3zM167 436h15.3v3.3h-15.3zM176 439h15.3v3.3h-15.3zM179 442h18.3v3.3h-18.3zM182 445h18.3v3.3h-18.3zM185 448h18.3v3.3h-18.3zM188 451h15.3v3.3h-15.3zM311 451h6.3v3.3h-6.3zM188 454h15.3v3.3h-15.3zM311 454h9.3v3.3h-9.3zM191 457h12.3v3.3h-12.3zM314 457h3.3v3.3h-3.3zM191 460h15.3v3.3h-15.3zM194 463h12.3v3.3h-12.3zM194 466h15.3v3.3h-15.3zM197 469h12.3v3.3h-12.3zM200 472h12.3v3.3h-12.3zM203 475h9.3v3.3h-9.3zM206 478h9.3v3.3h-9.3zM209 481h9.3v3.3h-9.3zM212 484h9.3v3.3h-9.3zM212 487h12.3v3.3h-12.3zM215 490h12.3v3.3h-12.3zM221 493h12.3v3.3h-12.3zM224 496h12.3v3.3h-12.3zM263 496h9.3v3.3h-9.3zM230 499h48.3v3.3h-48.3zM236 502h48.3v3.3h-48.3zM272 505h18.3v3.3h-18.3zM281 508h15.3v3.3h-15.3zM287 511h15.3v3.3h-15.3zM296 514h12.3v3.3h-12.3zM302 517h12.3v3.3h-12.3zM305 520h18.3v3.3h-18.3zM311 523h18.3v3.3h-18.3zM314 526h18.3v3.3h-18.3zM314 529h21.3v3.3h-21.3zM317 532h18.3v3.3h-18.3zM317 535h18.3v3.3h-18.3zM317 538h18.3v3.3h-18.3zM317 541h18.3v3.3h-18.3zM317 544h15.3v3.3h-15.3zM317 547h15.3v3.3h-15.3zM563 547h39.3v3.3h-39.3zM317 550h12.3v3.3h-12.3zM548 550h72.3v3.3h-72.3zM314 553h12.3v3.3h-12.3zM542 553h87.3v3.3h-87.3zM995 553h3.3v3.3h-3.3zM314 556h9.3v3.3h-9.3zM536 556h18.3v3.3h-18.3zM617 556h15.3v3.3h-15.3zM992 556h3.3v3.3h-3.3zM314 559h9.3v3.3h-9.3zM533 559h12.3v3.3h-12.3zM626 559h12.3v3.3h-12.3zM989 559h6.3v3.3h-6.3zM314 562h6.3v3.3h-6.3zM530 562h12.3v3.3h-12.3zM629 562h15.3v3.3h-15.3zM986 562h6.3v3.3h-6.3zM314 565h6.3v3.3h-6.3zM524 565h15.3v3.3h-15.3zM635 565h12.3v3.3h-12.3zM986 565h3.3v3.3h-3.3zM317 568h3.3v3.3h-3.3zM398 568h27.3v3.3h-27.3zM521 568h15.3v3.3h-15.3zM641 568h9.3v3.3h-9.3zM983 568h3.3v3.3h-3.3zM317 571h6.3v3.3h-6.3zM392 571h39.3v3.3h-39.3zM518 571h15.3v3.3h-15.3zM644 571h6.3v3.3h-6.3zM980 571h6.3v3.3h-6.3zM320 574h3.3v3.3h-3.3zM389 574h15.3v3.3h-15.3zM422 574h12.3v3.3h-12.3zM515 574h15.3v3.3h-15.3zM644 574h9.3v3.3h-9.3zM980 574h3.3v3.3h-3.3zM323 577h3.3v3.3h-3.3zM386 577h12.3v3.3h-12.3zM428 577h12.3v3.3h-12.3zM509 577h18.3v3.3h-18.3zM647 577h6.3v3.3h-6.3zM977 577h3.3v3.3h-3.3zM326 580h9.3v3.3h-9.3zM377 580h18.3v3.3h-18.3zM431 580h12.3v3.3h-12.3zM503 580h21.3v3.3h-21.3zM647 580h6.3v3.3h-6.3zM974 580h6.3v3.3h-6.3zM335 583h60.3v3.3h-60.3zM431 583h18.3v3.3h-18.3zM494 583h27.3v3.3h-27.3zM650 583h6.3v3.3h-6.3zM971 583h6.3v3.3h-6.3zM365 586h24.3v3.3h-24.3zM434 586h24.3v3.3h-24.3zM491 586h24.3v3.3h-24.3zM650 586h6.3v3.3h-6.3zM971 586h3.3v3.3h-3.3zM434 589h30.3v3.3h-30.3zM488 589h18.3v3.3h-18.3zM650 589h9.3v3.3h-9.3zM968 589h3.3v3.3h-3.3zM437 592h30.3v3.3h-30.3zM488 592h9.3v3.3h-9.3zM653 592h9.3v3.3h-9.3zM965 592h6.3v3.3h-6.3zM437 595h36.3v3.3h-36.3zM482 595h12.3v3.3h-12.3zM653 595h12.3v3.3h-12.3zM962 595h6.3v3.3h-6.3zM437 598h51.3v3.3h-51.3zM656 598h12.3v3.3h-12.3zM959 598h6.3v3.3h-6.3zM440 601h45.3v3.3h-45.3zM659 601h15.3v3.3h-15.3zM959 601h6.3v3.3h-6.3zM443 604h30.3v3.3h-30.3zM659 604h24.3v3.3h-24.3zM953 604h3.3v3.3h-3.3zM446 607h15.3v3.3h-15.3zM665 607h33.3v3.3h-33.3zM950 607h3.3v3.3h-3.3zM449 610h9.3v3.3h-9.3zM671 610h36.3v3.3h-36.3zM941 610h9.3v3.3h-9.3zM683 613h30.3v3.3h-30.3zM938 613h9.3v3.3h-9.3zM698 616h18.3v3.3h-18.3zM932 616h9.3v3.3h-9.3zM704 619h15.3v3.3h-15.3zM929 619h3.3v3.3h-3.3zM707 622h12.3v3.3h-12.3zM926 622h6.3v3.3h-6.3zM710 625h12.3v3.3h-12.3zM923 625h6.3v3.3h-6.3zM713 628h12.3v3.3h-12.3zM920 628h9.3v3.3h-9.3zM716 631h12.3v3.3h-12.3zM917 631h9.3v3.3h-9.3zM716 634h12.3v3.3h-12.3zM914 634h9.3v3.3h-9.3zM719 637h12.3v3.3h-12.3zM911 637h6.3v3.3h-6.3zM722 640h12.3v3.3h-12.3zM887 640h12.3v3.3h-12.3zM905 640h9.3v3.3h-9.3zM728 643h9.3v3.3h-9.3zM887 643h21.3v3.3h-21.3zM731 646h6.3v3.3h-6.3zM884 646h21.3v3.3h-21.3zM731 649h9.3v3.3h-9.3zM881 649h24.3v3.3h-24.3zM734 652h9.3v3.3h-9.3zM878 652h30.3v3.3h-30.3zM737 655h9.3v3.3h-9.3zM875 655h27.3v3.3h-27.3zM743 658h9.3v3.3h-9.3zM872 658h12.3v3.3h-12.3zM749 661h12.3v3.3h-12.3zM869 661h9.3v3.3h-9.3zM755 664h12.3v3.3h-12.3zM866 664h9.3v3.3h-9.3zM764 667h12.3v3.3h-12.3zM863 667h9.3v3.3h-9.3zM770 670h15.3v3.3h-15.3zM860 670h9.3v3.3h-9.3zM776 673h24.3v3.3h-24.3zM854 673h9.3v3.3h-9.3zM788 676h27.3v3.3h-27.3zM845 676h15.3v3.3h-15.3zM803 679h51.3v3.3h-51.3zM818 682h24.3v3.3h-24.3z"/>
<path fill="#4e7ccc" d="M161 268h3.3v3.3h-3.3zM161 271h3.3v3.3h-3.3zM161 274h3.3v3.3h-3.3zM161 277h3.3v3.3h-3.3zM161 280h3.3v3.3h-3.3zM161 283h6.3v3.3h-6.3zM161 286h6.3v3.3h-6.3zM161 289h6.3v3.3h-6.3zM161 292h6.3v3.3h-6.3zM161 295h6.3v3.3h-6.3zM161 298h6.3v3.3h-6.3zM161 301h3.3v3.3h-3.3zM158 304h6.3v3.3h-6.3zM158 307h6.3v3.3h-6.3zM158 310h3.3v3.3h-3.3zM158 313h3.3v3.3h-3.3zM155 316h6.3v3.3h-6.3zM215 316h3.3v3.3h-3.3zM155 319h3.3v3.3h-3.3zM212 319h12.3v3.3h-12.3zM155 322h3.3v3.3h-3.3zM212 322h18.3v3.3h-18.3zM152 325h6.3v3.3h-6.3zM212 325h6.3v3.3h-6.3zM227 325h3.3v3.3h-3.3zM152 328h3.3v3.3h-3.3zM212 328h6.3v3.3h-6.3zM227 328h6.3v3.3h-6.3zM152 331h3.3v3.3h-3.3zM215 331h6.3v3.3h-6.3zM230 331h3.3v3.3h-3.3zM149 334h6.3v3.3h-6.3zM218 334h15.3v3.3h-15.3zM149 337h3.3v3.3h-3.3zM221 337h12.3v3.3h-12.3zM149 340h3.3v3.3h-3.3zM149 343h3.3v3.3h-3.3zM146 346h6.3v3.3h-6.3zM146 349h3.3v3.3h-3.3zM146 352h3.3v3.3h-3.3zM146 355h3.3v3.3h-3.3zM146 358h3.3v3.3h-3.3zM146 361h3.3v3.3h-3.3zM146 364h3.3v3.3h-3.3zM146 367h3.3v3.3h-3.3zM143 370h6.3v3.3h-6.3zM143 373h6.3v3.3h-6.3zM143 376h3.3v3.3h-3.3zM143 379h3.3v3.3h-3.3zM143 382h3.3v3.3h-3.3zM143 385h3.3v3.3h-3.3zM143 388h3.3v3.3h-3.3zM143 391h3.3v3.3h-3.3zM143 394h3.3v3.3h-3.3zM143 397h3.3v3.3h-3.3zM143 400h3.3v3.3h-3.3zM143 403h3.3v3.3h-3.3zM140 406h3.3v3.3h-3.3zM140 409h3.3v3.3h-3.3zM140 412h3.3v3.3h-3.3zM140 415h3.3v3.3h-3.3zM143 418h3.3v3.3h-3.3zM143 421h3.3v3.3h-3.3zM146 424h3.3v3.3h-3.3zM146 427h6.3v3.3h-6.3zM149 430h6.3v3.3h-6.3zM155 433h6.3v3.3h-6.3zM158 436h9.3v3.3h-9.3zM164 439h12.3v3.3h-12.3zM170 442h9.3v3.3h-9.3zM173 445h9.3v3.3h-9.3zM176 448h9.3v3.3h-9.3zM176 451h12.3v3.3h-12.3zM179 454h9.3v3.3h-9.3zM179 457h12.3v3.3h-12.3zM179 460h12.3v3.3h-12.3zM182 463h12.3v3.3h-12.3zM182 466h12.3v3.3h-12.3zM185 469h12.3v3.3h-12.3zM185 472h15.3v3.3h-15.3zM188 475h15.3v3.3h-15.3zM194 478h12.3v3.3h-12.3zM197 481h12.3v3.3h-12.3zM200 484h12.3v3.3h-12.3zM203 487h9.3v3.3h-9.3zM206 490h9.3v3.3h-9.3zM209 493h12.3v3.3h-12.3zM209 496h15.3v3.3h-15.3zM215 499h15.3v3.3h-15.3zM218 502h18.3v3.3h-18.3zM224 505h48.3v3.3h-48.3zM236 508h45.3v3.3h-45.3zM275 511h12.3v3.3h-12.3zM284 514h12.3v3.3h-12.3zM293 517h9.3v3.3h-9.3zM299 520h6.3v3.3h-6.3zM302 523h9.3v3.3h-9.3zM305 526h9.3v3.3h-9.3zM305 529h9.3v3.3h-9.3zM308 532h9.3v3.3h-9.3zM308 535h9.3v3.3h-9.3zM308 538h9.3v3.3h-9.3zM308 541h9.3v3.3h-9.3zM308 544h9.3v3.3h-9.3zM308 547h9.3v3.3h-9.3zM308 550h9.3v3.3h-9.3zM308 553h6.3v3.3h-6.3zM305 556h9.3v3.3h-9.3zM554 556h63.3v3.3h-63.3zM995 556h3.3v3.3h-3.3zM308 559h6.3v3.3h-6.3zM545 559h81.3v3.3h-81.3zM995 559h3.3v3.3h-3.3zM308 562h6.3v3.3h-6.3zM542 562h21.3v3.3h-21.3zM602 562h27.3v3.3h-27.3zM992 562h3.3v3.3h-3.3zM308 565h6.3v3.3h-6.3zM539 565h15.3v3.3h-15.3zM614 565h21.3v3.3h-21.3zM989 565h3.3v3.3h-3.3zM311 568h6.3v3.3h-6.3zM536 568h12.3v3.3h-12.3zM623 568h18.3v3.3h-18.3zM986 568h6.3v3.3h-6.3zM314 571h3.3v3.3h-3.3zM533 571h12.3v3.3h-12.3zM629 571h15.3v3.3h-15.3zM986 571h3.3v3.3h-3.3zM317 574h3.3v3.3h-3.3zM404 574h18.3v3.3h-18.3zM530 574h15.3v3.3h-15.3zM632 574h12.3v3.3h-12.3zM983 574h3.3v3.3h-3.3zM320 577h3.3v3.3h-3.3zM398 577h30.3v3.3h-30.3zM527 577h15.3v3.3h-15.3zM638 577h9.3v3.3h-9.3zM980 577h6.3v3.3h-6.3zM323 580h3.3v3.3h-3.3zM395 580h36.3v3.3h-36.3zM524 580h15.3v3.3h-15.3zM638 580h9.3v3.3h-9.3zM980 580h3.3v3.3h-3.3zM329 583h6.3v3.3h-6.3zM395 583h12.3v3.3h-12.3zM419 583h12.3v3.3h-12.3zM521 583h15.3v3.3h-15.3zM641 583h9.3v3.3h-9.3zM977 583h3.3v3.3h-3.3zM335 586h30.3v3.3h-30.3zM389 586h15.3v3.3h-15.3zM419 586h15.3v3.3h-15.3zM515 586h18.3v3.3h-18.3zM644 586h6.3v3.3h-6.3zM974 586h6.3v3.3h-6.3zM350 589h51.3v3.3h-51.3zM419 589h15.3v3.3h-15.3zM506 589h24.3v3.3h-24.3zM644 589h6.3v3.3h-6.3zM971 589h6.3v3.3h-6.3zM371 592h27.3v3.3h-27.3zM419 592h18.3v3.3h-18.3zM497 592h30.3v3.3h-30.3zM644 592h9.3v3.3h-9.3zM971 592h3.3v3.3h-3.3zM380 595h15.3v3.3h-15.3zM419 595h18.3v3.3h-18.3zM494 595h27.3v3.3h-27.3zM647 595h6.3v3.3h-6.3zM968 595h3.3v3.3h-3.3zM419 598h18.3v3.3h-18.3zM488 598h15.3v3.3h-15.3zM647 598h9.3v3.3h-9.3zM965 598h6.3v3.3h-6.3zM419 601h21.3v3.3h-21.3zM485 601h12.3v3.3h-12.3zM650 601h9.3v3.3h-9.3zM422 604h21.3v3.3h-21.3zM473 604h18.3v3.3h-18.3zM653 604h6.3v3.3h-6.3zM428 607h18.3v3.3h-18.3zM461 607h24.3v3.3h-24.3zM653 607h12.3v3.3h-12.3zM434 610h15.3v3.3h-15.3zM458 610h24.3v3.3h-24.3zM656 610h15.3v3.3h-15.3zM437 613h39.3v3.3h-39.3zM662 613h21.3v3.3h-21.3zM443 616h30.3v3.3h-30.3zM668 616h30.3v3.3h-30.3zM449 619h18.3v3.3h-18.3zM680 619h24.3v3.3h-24.3zM692 622h15.3v3.3h-15.3zM698 625h12.3v3.3h-12.3zM701 628h12.3v3.3h-12.3zM704 631h12.3v3.3h-12.3zM707 634h9.3v3.3h-9.3zM710 637h9.3v3.3h-9.3zM710 640h12.3v3.3h-12.3zM716 643h12.3v3.3h-12.3zM719 646h12.3v3.3h-12.3zM725 649h6.3v3.3h-6.3zM728 652h6.3v3.3h-6.3zM731 655h6.3v3.3h-6.3zM902 655h9.3v3.3h-9.3zM734 658h9.3v3.3h-9.3zM884 658h27.3v3.3h-27.3zM737 661h12.3v3.3h-12.3zM878 661h30.3v3.3h-30.3zM743 664h12.3v3.3h-12.3zM875 664h33.3v3.3h-33.3zM749 667h15.3v3.3h-15.3zM872 667h33.3v3.3h-33.3zM761 670h9.3v3.3h-9.3zM869 670h9.3v3.3h-9.3zM890 670h12.3v3.3h-12.3zM767 673h9.3v3.3h-9.3zM863 673h12.3v3.3h-12.3zM773 676h15.3v3.3h-15.3zM860 676h9.3v3.3h-9.3zM779 679h24.3v3.3h-24.3zM854 679h12.3v3.3h-12.3zM788 682h30.3v3.3h-30.3zM842 682h21.3v3.3h-21.3zM800 685h57.3v3.3h-57.3zM827 688h12.3v3.3h-12.3z"/>
<path fill="#4274c8" d="M155 268h6.3v3.3h-6.3zM155 271h6.3v3.3h-6.3zM155 274h6.3v3.3h-6.3zM155 277h6.3v3.3h-6.3zM155 280h6.3v3.3h-6.3zM155 283h6.3v3.3h-6.3zM155 286h6.3v3.3h-6.3zM155 289h6.3v3.3h-6.3zM155 292h6.3v3.3h-6.3zM155 295h6.3v3.3h-6.3zM155 298h6.3v3.3h-6.3zM155 301h6.3v3.3h-6.3zM155 304h3.3v3.3h-3.3zM155 307h3.3v3.3h-3.3zM155 310h3.3v3.3h-3.3zM152 313h6.3v3.3h-6.3zM152 316h3.3v3.3h-3.3zM152 319h3.3v3.3h-3.3zM152 322h3.3v3.3h-3.3zM149 325h3.3v3.3h-3.3zM218 325h9.3v3.3h-9.3zM149 328h3.3v3.3h-3.3zM218 328h9.3v3.3h-9.3zM149 331h3.3v3.3h-3.3zM221 331h9.3v3.3h-9.3zM146 334h3.3v3.3h-3.3zM146 337h3.3v3.3h-3.3zM146 340h3.3v3.3h-3.3zM143 343h6.3v3.3h-6.3zM143 346h3.3v3.3h-3.3zM143 349h3.3v3.3h-3.3zM143 352h3.3v3.3h-3.3zM143 355h3.3v3.3h-3.3zM143 358h3.3v3.3h-3.3zM143 361h3.3v3.3h-3.3zM143 364h3.3v3.3h-3.3zM140 367h6.3v3.3h-6.3zM140 370h3.3v3.3h-3.3zM140 373h3.3v3.3h-3.3zM140 376h3.3v3.3h-3.3zM140 379h3.3v3.3h-3.3zM140 382h3.3v3.3h-3.3zM140 385h3.3v3.3h-3.3zM140 388h3.3v3.3h-3.3zM140 391h3.3v3.3h-3.3zM140 394h3.3v3.3h-3.3zM140 397h3.3v3.3h-3.3zM140 400h3.3v3.3h-3.3zM140 403h3.3v3.3h-3.3zM140 418h3.3v3.3h-3.3zM140 421h3.3v3.3h-3.3zM143 424h3.3v3.3h-3.3zM143 427h3.3v3.3h-3.3zM146 430h3.3v3.3h-3.3zM149 433h6.3v3.3h-6.3zM152 436h6.3v3.3h-6.3zM155 439h9.3v3.3h-9.3zM161 442h9.3v3.3h-9.3zM164 445h9.3v3.3h-9.3zM167 448h9.3v3.3h-9.3zM167 451h9.3v3.3h-9.3zM170 454h9.3v3.3h-9.3zM170 457h9.3v3.3h-9.3zM173 460h6.3v3.3h-6.3zM173 463h9.3v3.3h-9.3zM173 466h9.3v3.3h-9.3zM176 469h9.3v3.3h-9.3zM176 472h9.3v3.3h-9.3zM176 475h12.3v3.3h-12.3zM179 478h15.3v3.3h-15.3zM185 481h12.3v3.3h-12.3zM188 484h12.3v3.3h-12.3zM191 487h12.3v3.3h-12.3zM194 490h12.3v3.3h-12.3zM197 493h12.3v3.3h-12.3zM200 496h9.3v3.3h-9.3zM200 499h15.3v3.3h-15.3zM203 502h15.3v3.3h-15.3zM206 505h18.3v3.3h-18.3zM215 508h21.3v3.3h-21.3zM236 511h39.3v3.3h-39.3zM275 514h9.3v3.3h-9.3zM284 517h9.3v3.3h-9.3zM293 520h6.3v3.3h-6.3zM296 523h6.3v3.3h-6.3zM299 526h6.3v3.3h-6.3zM302 529h3.3v3.3h-3.3zM302 532h6.3v3.3h-6.3zM305 535h3.3v3.3h-3.3zM305 538h3.3v3.3h-3.3zM305 541h3.3v3.3h-3.3zM305 544h3.3v3.3h-3.3zM302 547h6.3v3.3h-6.3zM302 550h6.3v3.3h-6.3zM302 553h6.3v3.3h-6.3zM302 556h3.3v3.3h-3.3zM302 559h6.3v3.3h-6.3zM998 559h3.3v3.3h-3.3zM302 562h6.3v3.3h-6.3zM563 562h39.3v3.3h-39.3zM995 562h6.3v3.3h-6.3zM305 565h3.3v3.3h-3.3zM554 565h60.3v3.3h-60.3zM992 565h6.3v3.3h-6.3zM308 568h3.3v3.3h-3.3zM548 568h75.3v3.3h-75.3zM992 568h3.3v3.3h-3.3zM311 571h3.3v3.3h-3.3zM545 571h21.3v3.3h-21.3zM590 571h39.3v3.3h-39.3zM989 571h3.3v3.3h-3.3zM314 574h3.3v3.3h-3.3zM545 574h15.3v3.3h-15.3zM593 574h39.3v3.3h-39.3zM986 574h6.3v3.3h-6.3zM317 577h3.3v3.3h-3.3zM542 577h12.3v3.3h-12.3zM596 577h42.3v3.3h-42.3zM986 577h3.3v3.3h-3.3zM320 580h3.3v3.3h-3.3zM539 580h12.3v3.3h-12.3zM602 580h36.3v3.3h-36.3zM983 580h3.3v3.3h-3.3zM323 583h6.3v3.3h-6.3zM407 583h12.3v3.3h-12.3zM536 583h12.3v3.3h-12.3zM626 583h15.3v3.3h-15.3zM980 583h6.3v3.3h-6.3zM329 586h6.3v3.3h-6.3zM404 586h15.3v3.3h-15.3zM533 586h12.3v3.3h-12.3zM632 586h12.3v3.3h-12.3zM980 586h3.3v3.3h-3.3zM338 589h12.3v3.3h-12.3zM401 589h18.3v3.3h-18.3zM530 589h12.3v3.3h-12.3zM635 589h9.3v3.3h-9.3zM977 589h3.3v3.3h-3.3zM350 592h21.3v3.3h-21.3zM398 592h21.3v3.3h-21.3zM527 592h12.3v3.3h-12.3zM638 592h6.3v3.3h-6.3zM974 592h3.3v3.3h-3.3zM365 595h15.3v3.3h-15.3zM395 595h24.3v3.3h-24.3zM521 595h15.3v3.3h-15.3zM638 595h9.3v3.3h-9.3zM971 595h3.3v3.3h-3.3zM374 598h45.3v3.3h-45.3zM503 598h30.3v3.3h-30.3zM641 598h6.3v3.3h-6.3zM380 601h39.3v3.3h-39.3zM497 601h33.3v3.3h-33.3zM644 601h6.3v3.3h-6.3zM386 604h36.3v3.3h-36.3zM491 604h33.3v3.3h-33.3zM644 604h9.3v3.3h-9.3zM392 607h36.3v3.3h-36.3zM485 607h30.3v3.3h-30.3zM647 607h6.3v3.3h-6.3zM401 610h33.3v3.3h-33.3zM482 610h12.3v3.3h-12.3zM650 610h6.3v3.3h-6.3zM413 613h24.3v3.3h-24.3zM476 613h15.3v3.3h-15.3zM653 613h9.3v3.3h-9.3zM425 616h18.3v3.3h-18.3zM473 616h15.3v3.3h-15.3zM656 616h12.3v3.3h-12.3zM434 619h15.3v3.3h-15.3zM467 619h15.3v3.3h-15.3zM662 619h18.3v3.3h-18.3zM440 622h39.3v3.3h-39.3zM671 622h21.3v3.3h-21.3zM446 625h24.3v3.3h-24.3zM683 625h15.3v3.3h-15.3zM689 628h12.3v3.3h-12.3zM695 631h9.3v3.3h-9.3zM698 634h9.3v3.3h-9.3zM701 637h9.3v3.3h-9.3zM704 640h6.3v3.3h-6.3zM707 643h9.3v3.3h-9.3zM710 646h9.3v3.3h-9.3zM713 649h12.3v3.3h-12.3zM716 652h12.3v3.3h-12.3zM722 655h9.3v3.3h-9.3zM725 658h9.3v3.3h-9.3zM728 661h9.3v3.3h-9.3zM731 664h12.3v3.3h-12.3zM737 667h12.3v3.3h-12.3zM743 670h18.3v3.3h-18.3zM878 670h12.3v3.3h-12.3zM902 670h3.3v3.3h-3.3zM755 673h12.3v3.3h-12.3zM875 673h27.3v3.3h-27.3zM764 676h9.3v3.3h-9.3zM869 676h33.3v3.3h-33.3zM767 679h12.3v3.3h-12.3zM866 679h36.3v3.3h-36.3zM773 682h15.3v3.3h-15.3zM863 682h15.3v3.3h-15.3zM884 682h21.3v3.3h-21.3zM779 685h21.3v3.3h-21.3zM857 685h15.3v3.3h-15.3zM890 685h9.3v3.3h-9.3zM788 688h39.3v3.3h-39.3zM839 688h30.3v3.3h-30.3zM797 691h69.3v3.3h-69.3zM851 694h9.3v3.3h-9.3z"/>
<path fill="#3668c4" d="M152 268h3.3v3.3h-3.3zM152 271h3.3v3.3h-3.3zM152 274h3.3v3.3h-3.3zM152 277h3.3v3.3h-3.3zM152 280h3.3v3.3h-3.3zM152 283h3.3v3.3h-3.3zM152 286h3.3v3.3h-3.3zM152 289h3.3v3.3h-3.3zM152 292h3.3v3.3h-3.3zM152 295h3.3v3.3h-3.3zM152 298h3.3v3.3h-3.3zM152 301h3.3v3.3h-3.3zM152 304h3.3v3.3h-3.3zM152 307h3.3v3.3h-3.3zM152 310h3.3v3.3h-3.3zM149 313h3.3v3.3h-3.3zM149 316h3.3v3.3h-3.3zM149 319h3.3v3.3h-3.3zM149 322h3.3v3.3h-3.3zM146 325h3.3v3.3h-3.3zM146 328h3.3v3.3h-3.3zM146 331h3.3v3.3h-3.3zM143 334h3.3v3.3h-3.3zM143 337h3.3v3.3h-3.3zM143 340h3.3v3.3h-3.3zM140 346h3.3v3.3h-3.3zM140 349h3.3v3.3h-3.3zM140 352h3.3v3.3h-3.3zM140 355h3.3v3.3h-3.3zM140 358h3.3v3.3h-3.3zM140 361h3.3v3.3h-3.3zM140 364h3.3v3.3h-3.3zM137 376h3.3v3.3h-3.3zM137 379h3.3v3.3h-3.3zM137 382h3.3v3.3h-3.3zM137 385h3.3v3.3h-3.3zM137 388h3.3v3.3h-3.3zM137 391h3.3v3.3h-3.3zM137 394h3.3v3.3h-3.3zM137 397h3.3v3.3h-3.3zM137 400h3.3v3.3h-3.3zM137 403h3.3v3.3h-3.3zM137 406h3.3v3.3h-3.3zM137 409h3.3v3.3h-3.3zM137 412h3.3v3.3h-3.3zM137 415h3.3v3.3h-3.3zM137 418h3.3v3.3h-3.3zM137 421h3.3v3.3h-3.3zM140 424h3.3v3.3h-3.3zM140 427h3.3v3.3h-3.3zM143 430h3.3v3.3h-3.3zM146 433h3.3v3.3h-3.3zM146 436h6.3v3.3h-6.3zM149 439h6.3v3.3h-6.3zM152 442h9.3v3.3h-9.3zM155 445h9.3v3.3h-9.3zM158 448h9.3v3.3h-9.3zM161 451h6.3v3.3h-6.3zM161 454h9.3v3.3h-9.3zM164 457h6.3v3.3h-6.3zM164 460h9.3v3.3h-9.3zM167 463h6.3v3.3h-6.3zM167 466h6.3v3.3h-6.3zM170 469h6.3v3.3h-6.3zM170 472h6.3v3.3h-6.3zM173 475h3.3v3.3h-3.3zM173 478h6.3v3.3h-6.3zM176 481h9.3v3.3h-9.3zM182 484h6.3v3.3h-6.3zM185 487h6.3v3.3h-6.3zM188 490h6.3v3.3h-6.3zM191 493h6.3v3.3h-6.3zM191 496h9.3v3.3h-9.3zM194 499h6.3v3.3h-6.3zM197 502h6.3v3.3h-6.3zM197 505h9.3v3.3h-9.3zM200 508h15.3v3.3h-15.3zM206 511h30.3v3.3h-30.3zM242 514h33.3v3.3h-33.3zM278 517h6.3v3.3h-6.3zM284 520h9.3v3.3h-9.3zM293 523h3.3v3.3h-3.3zM296 526h3.3v3.3h-3.3zM299 529h3.3v3.3h-3.3zM299 532h3.3v3.3h-3.3zM302 535h3.3v3.3h-3.3zM302 538h3.3v3.3h-3.3zM302 541h3.3v3.3h-3.3zM299 544h6.3v3.3h-6.3zM299 547h3.3v3.3h-3.3zM299 550h3.3v3.3h-3.3zM299 553h3.3v3.3h-3.3zM299 556h3.3v3.3h-3.3zM299 559h3.3v3.3h-3.3zM299 562h3.3v3.3h-3.3zM302 565h3.3v3.3h-3.3zM998 565h3.3v3.3h-3.3zM302 568h6.3v3.3h-6.3zM995 568h6.3v3.3h-6.3zM305 571h6.3v3.3h-6.3zM566 571h24.3v3.3h-24.3zM992 571h6.3v3.3h-6.3zM311 574h3.3v3.3h-3.3zM560 574h33.3v3.3h-33.3zM992 574h3.3v3.3h-3.3zM314 577h3.3v3.3h-3.3zM554 577h42.3v3.3h-42.3zM989 577h6.3v3.3h-6.3zM317 580h3.3v3.3h-3.3zM551 580h51.3v3.3h-51.3zM986 580h6.3v3.3h-6.3zM320 583h3.3v3.3h-3.3zM548 583h78.3v3.3h-78.3zM986 583h3.3v3.3h-3.3zM326 586h3.3v3.3h-3.3zM545 586h87.3v3.3h-87.3zM983 586h3.3v3.3h-3.3zM332 589h6.3v3.3h-6.3zM542 589h27.3v3.3h-27.3zM590 589h45.3v3.3h-45.3zM980 589h3.3v3.3h-3.3zM341 592h9.3v3.3h-9.3zM539 592h12.3v3.3h-12.3zM596 592h42.3v3.3h-42.3zM977 592h3.3v3.3h-3.3zM350 595h15.3v3.3h-15.3zM536 595h12.3v3.3h-12.3zM608 595h30.3v3.3h-30.3zM362 598h12.3v3.3h-12.3zM533 598h12.3v3.3h-12.3zM629 598h12.3v3.3h-12.3zM371 601h9.3v3.3h-9.3zM530 601h12.3v3.3h-12.3zM632 601h12.3v3.3h-12.3zM377 604h9.3v3.3h-9.3zM524 604h15.3v3.3h-15.3zM635 604h9.3v3.3h-9.3zM380 607h12.3v3.3h-12.3zM515 607h18.3v3.3h-18.3zM638 607h9.3v3.3h-9.3zM383 610h18.3v3.3h-18.3zM494 610h33.3v3.3h-33.3zM641 610h9.3v3.3h-9.3zM386 613h27.3v3.3h-27.3zM491 613h27.3v3.3h-27.3zM644 613h9.3v3.3h-9.3zM389 616h36.3v3.3h-36.3zM488 616h21.3v3.3h-21.3zM647 616h9.3v3.3h-9.3zM398 619h36.3v3.3h-36.3zM482 619h15.3v3.3h-15.3zM653 619h9.3v3.3h-9.3zM410 622h30.3v3.3h-30.3zM479 622h12.3v3.3h-12.3zM659 622h12.3v3.3h-12.3zM428 625h18.3v3.3h-18.3zM470 625h18.3v3.3h-18.3zM665 625h18.3v3.3h-18.3zM437 628h45.3v3.3h-45.3zM671 628h18.3v3.3h-18.3zM449 631h18.3v3.3h-18.3zM677 631h18.3v3.3h-18.3zM680 634h18.3v3.3h-18.3zM683 637h18.3v3.3h-18.3zM686 640h18.3v3.3h-18.3zM692 643h15.3v3.3h-15.3zM698 646h12.3v3.3h-12.3zM701 649h12.3v3.3h-12.3zM707 652h9.3v3.3h-9.3zM710 655h12.3v3.3h-12.3zM713 658h12.3v3.3h-12.3zM716 661h12.3v3.3h-12.3zM719 664h12.3v3.3h-12.3zM722 667h15.3v3.3h-15.3zM731 670h12.3v3.3h-12.3zM737 673h18.3v3.3h-18.3zM743 676h21.3v3.3h-21.3zM758 679h9.3v3.3h-9.3zM764 682h9.3v3.3h-9.3zM878 682h6.3v3.3h-6.3zM767 685h12.3v3.3h-12.3zM872 685h18.3v3.3h-18.3zM899 685h6.3v3.3h-6.3zM773 688h15.3v3.3h-15.3zM869 688h36.3v3.3h-36.3zM779 691h18.3v3.3h-18.3zM866 691h42.3v3.3h-42.3zM788 694h63.3v3.3h-63.3zM860 694h48.3v3.3h-48.3zM794 697h84.3v3.3h-84.3zM881 697h27.3v3.3h-27.3zM803 700h18.3v3.3h-18.3zM851 700h21.3v3.3h-21.3zM887 700h21.3v3.3h-21.3zM857 703h12.3v3.3h-12.3zM896 703h3.3v3.3h-3.3zM863 706h3.3v3.3h-3.3z"/>
<path fill="#285cc0" d="M149 268h3.3v3.3h-3.3zM149 271h3.3v3.3h-3.3zM149 274h3.3v3.3h-3.3zM149 277h3.3v3.3h-3.3zM149 280h3.3v3.3h-3.3zM149 283h3.3v3.3h-3.3zM149 286h3.3v3.3h-3.3zM149 289h3.3v3.3h-3.3zM149 292h3.3v3.3h-3.3zM149 295h3.3v3.3h-3.3zM149 298h3.3v3.3h-3.3zM149 301h3.3v3.3h-3.3zM149 304h3.3v3.3h-3.3zM149 307h3.3v3.3h-3.3zM149 310h3.3v3.3h-3.3zM146 316h3.3v3.3h-3.3zM146 319h3.3v3.3h-3.3zM146 322h3.3v3.3h-3.3zM143 328h3.3v3.3h-3.3zM143 331h3.3v3.3h-3.3zM140 337h3.3v3.3h-3.3zM140 340h3.3v3.3h-3.3zM140 343h3.3v3.3h-3.3zM137 349h3.3v3.3h-3.3zM137 352h3.3v3.3h-3.3zM137 355h3.3v3.3h-3.3zM137 358h3.3v3.3h-3.3zM137 361h3.3v3.3h-3.3zM137 364h3.3v3.3h-3.3zM137 367h3.3v3.3h-3.3zM137 370h3.3v3.3h-3.3zM137 373h3.3v3.3h-3.3zM134 400h3.3v3.3h-3.3zM134 403h3.3v3.3h-3.3zM134 406h3.3v3.3h-3.3zM134 409h3.3v3.3h-3.3zM134 412h3.3v3.3h-3.3zM134 415h3.3v3.3h-3.3zM134 418h3.3v3.3h-3.3zM134 421h3.3v3.3h-3.3zM137 424h3.3v3.3h-3.3zM137 427h3.3v3.3h-3.3zM140 430h3.3v3.3h-3.3zM140 433h6.3v3.3h-6.3zM143 436h3.3v3.3h-3.3zM146 439h3.3v3.3h-3.3zM149 442h3.3v3.3h-3.3zM149 445h6.3v3.3h-6.3zM152 448h6.3v3.3h-6.3zM155 451h6.3v3.3h-6.3zM155 454h6.3v3.3h-6.3zM158 457h6.3v3.3h-6.3zM158 460h6.3v3.3h-6.3zM161 463h6.3v3.3h-6.3zM161 466h6.3v3.3h-6.3zM164 469h6.3v3.3h-6.3zM167 472h3.3v3.3h-3.3zM167 475h6.3v3.3h-6.3zM170 478h3.3v3.3h-3.3zM173 481h3.3v3.3h-3.3zM176 484h6.3v3.3h-6.3zM179 487h6.3v3.3h-6.3zM182 490h6.3v3.3h-6.3zM185 493h6.3v3.3h-6.3zM188 496h3.3v3.3h-3.3zM191 499h3.3v3.3h-3.3zM191 502h6.3v3.3h-6.3zM194 505h3.3v3.3h-3.3zM194 508h6.3v3.3h-6.3zM194 511h12.3v3.3h-12.3zM197 514h45.3v3.3h-45.3zM269 517h9.3v3.3h-9.3zM278 520h6.3v3.3h-6.3zM287 523h6.3v3.3h-6.3zM293 526h3.3v3.3h-3.3zM296 529h3.3v3.3h-3.3zM296 532h3.3v3.3h-3.3zM299 535h3.3v3.3h-3.3zM299 538h3.3v3.3h-3.3zM296 541h6.3v3.3h-6.3zM296 544h3.3v3.3h-3.3zM296 547h3.3v3.3h-3.3zM296 550h3.3v3.3h-3.3zM296 553h3.3v3.3h-3.3zM296 556h3.3v3.3h-3.3zM296 559h3.3v3.3h-3.3zM296 562h3.3v3.3h-3.3zM299 565h3.3v3.3h-3.3zM299 568h3.3v3.3h-3.3zM302 571h3.3v3.3h-3.3zM998 571h3.3v3.3h-3.3zM305 574h6.3v3.3h-6.3zM995 574h6.3v3.3h-6.3zM308 577h6.3v3.3h-6.3zM995 577h3.3v3.3h-3.3zM314 580h3.3v3.3h-3.3zM992 580h3.3v3.3h-3.3zM317 583h3.3v3.3h-3.3zM989 583h3.3v3.3h-3.3zM323 586h3.3v3.3h-3.3zM986 586h3.3v3.3h-3.3zM329 589h3.3v3.3h-3.3zM569 589h21.3v3.3h-21.3zM335 592h6.3v3.3h-6.3zM551 592h45.3v3.3h-45.3zM344 595h6.3v3.3h-6.3zM548 595h60.3v3.3h-60.3zM353 598h9.3v3.3h-9.3zM545 598h84.3v3.3h-84.3zM362 601h9.3v3.3h-9.3zM542 601h90.3v3.3h-90.3zM371 604h6.3v3.3h-6.3zM539 604h96.3v3.3h-96.3zM374 607h6.3v3.3h-6.3zM533 607h48.3v3.3h-48.3zM608 607h30.3v3.3h-30.3zM377 610h6.3v3.3h-6.3zM527 610h15.3v3.3h-15.3zM626 610h15.3v3.3h-15.3zM380 613h6.3v3.3h-6.3zM518 613h18.3v3.3h-18.3zM635 613h9.3v3.3h-9.3zM383 616h6.3v3.3h-6.3zM509 616h18.3v3.3h-18.3zM638 616h9.3v3.3h-9.3zM383 619h15.3v3.3h-15.3zM497 619h21.3v3.3h-21.3zM641 619h12.3v3.3h-12.3zM386 622h24.3v3.3h-24.3zM491 622h21.3v3.3h-21.3zM647 622h12.3v3.3h-12.3zM389 625h39.3v3.3h-39.3zM488 625h15.3v3.3h-15.3zM650 625h15.3v3.3h-15.3zM392 628h45.3v3.3h-45.3zM482 628h12.3v3.3h-12.3zM656 628h15.3v3.3h-15.3zM398 631h51.3v3.3h-51.3zM467 631h21.3v3.3h-21.3zM662 631h15.3v3.3h-15.3zM407 634h72.3v3.3h-72.3zM665 634h15.3v3.3h-15.3zM668 637h15.3v3.3h-15.3zM668 640h18.3v3.3h-18.3zM668 643h24.3v3.3h-24.3zM668 646h30.3v3.3h-30.3zM668 649h33.3v3.3h-33.3zM668 652h39.3v3.3h-39.3zM668 655h42.3v3.3h-42.3zM671 658h42.3v3.3h-42.3zM674 661h42.3v3.3h-42.3zM677 664h15.3v3.3h-15.3zM701 664h18.3v3.3h-18.3zM704 667h18.3v3.3h-18.3zM707 670h24.3v3.3h-24.3zM713 673h24.3v3.3h-24.3zM734 676h9.3v3.3h-9.3zM737 679h21.3v3.3h-21.3zM749 682h15.3v3.3h-15.3zM758 685h9.3v3.3h-9.3zM764 688h9.3v3.3h-9.3zM770 691h9.3v3.3h-9.3zM776 694h12.3v3.3h-12.3zM782 697h12.3v3.3h-12.3zM878 697h3.3v3.3h-3.3zM788 700h15.3v3.3h-15.3zM821 700h30.3v3.3h-30.3zM872 700h15.3v3.3h-15.3zM908 700h3.3v3.3h-3.3zM797 703h60.3v3.3h-60.3zM869 703h27.3v3.3h-27.3zM899 703h12.3v3.3h-12.3zM803 706h27.3v3.3h-27.3zM851 706h12.3v3.3h-12.3zM866 706h45.3v3.3h-45.3zM812 709h15.3v3.3h-15.3zM857 709h54.3v3.3h-54.3zM860 712h48.3v3.3h-48.3zM863 715h42.3v3.3h-42.3zM863 718h39.3v3.3h-39.3zM866 721h33.3v3.3h-33.3zM869 724h27.3v3.3h-27.3zM872 727h21.3v3.3h-21.3zM872 730h18.3v3.3h-18.3zM875 733h12.3v3.3h-12.3z"/>
<path fill="#1a50bc" d="M146 292h3.3v3.3h-3.3zM146 295h3.3v3.3h-3.3zM146 298h3.3v3.3h-3.3zM146 301h3.3v3.3h-3.3zM146 304h3.3v3.3h-3.3zM146 307h3.3v3.3h-3.3zM146 310h3.3v3.3h-3.3zM146 313h3.3v3.3h-3.3zM143 319h3.3v3.3h-3.3zM143 322h3.3v3.3h-3.3zM143 325h3.3v3.3h-3.3zM140 331h3.3v3.3h-3.3zM140 334h3.3v3.3h-3.3zM137 340h3.3v3.3h-3.3zM137 343h3.3v3.3h-3.3zM137 346h3.3v3.3h-3.3zM134 355h3.3v3.3h-3.3zM134 358h3.3v3.3h-3.3zM134 361h3.3v3.3h-3.3zM134 364h3.3v3.3h-3.3zM134 367h3.3v3.3h-3.3zM134 370h3.3v3.3h-3.3zM134 373h3.3v3.3h-3.3zM134 376h3.3v3.3h-3.3zM134 379h3.3v3.3h-3.3zM134 382h3.3v3.3h-3.3zM134 385h3.3v3.3h-3.3zM134 388h3.3v3.3h-3.3zM134 391h3.3v3.3h-3.3zM134 394h3.3v3.3h-3.3zM134 397h3.3v3.3h-3.3zM131 412h3.3v3.3h-3.3zM131 415h3.3v3.3h-3.3zM131 418h3.3v3.3h-3.3zM131 421h3.3v3.3h-3.3zM131 424h6.3v3.3h-6.3zM134 427h3.3v3.3h-3.3zM134 430h6.3v3.3h-6.3zM137 433h3.3v3.3h-3.3zM140 436h3.3v3.3h-3.3zM143 439h3.3v3.3h-3.3zM146 442h3.3v3.3h-3.3zM146 445h3.3v3.3h-3.3zM149 448h3.3v3.3h-3.3zM149 451h6.3v3.3h-6.3zM152 454h3.3v3.3h-3.3zM152 457h6.3v3.3h-6.3zM155 460h3.3v3.3h-3.3zM155 463h6.3v3.3h-6.3zM158 466h3.3v3.3h-3.3zM161 469h3.3v3.3h-3.3zM161 472h6.3v3.3h-6.3zM164 475h3.3v3.3h-3.3zM167 478h3.3v3.3h-3.3zM170 481h3.3v3.3h-3.3zM173 484h3.3v3.3h-3.3zM176 487h3.3v3.3h-3.3zM179 490h3.3v3.3h-3.3zM182 493h3.3v3.3h-3.3zM185 496h3.3v3.3h-3.3zM188 499h3.3v3.3h-3.3zM188 502h3.3v3.3h-3.3zM188 505h6.3v3.3h-6.3zM191 508h3.3v3.3h-3.3zM191 511h3.3v3.3h-3.3zM194 514h3.3v3.3h-3.3zM194 517h12.3v3.3h-12.3zM239 517h30.3v3.3h-30.3zM272 520h6.3v3.3h-6.3zM281 523h6.3v3.3h-6.3zM287 526h6.3v3.3h-6.3zM293 529h3.3v3.3h-3.3zM293 532h3.3v3.3h-3.3zM296 535h3.3v3.3h-3.3zM296 538h3.3v3.3h-3.3zM293 541h3.3v3.3h-3.3zM293 544h3.3v3.3h-3.3zM293 547h3.3v3.3h-3.3zM293 550h3.3v3.3h-3.3zM293 553h3.3v3.3h-3.3zM293 556h3.3v3.3h-3.3zM293 559h3.3v3.3h-3.3zM296 565h3.3v3.3h-3.3zM296 568h3.3v3.3h-3.3zM299 571h3.3v3.3h-3.3zM302 574h3.3v3.3h-3.3zM305 577h3.3v3.3h-3.3zM311 580h3.3v3.3h-3.3zM314 583h3.3v3.3h-3.3zM317 586h6.3v3.3h-6.3zM326 589h3.3v3.3h-3.3zM332 592h3.3v3.3h-3.3zM338 595h6.3v3.3h-6.3zM347 598h6.3v3.3h-6.3zM356 601h6.3v3.3h-6.3zM365 604h6.3v3.3h-6.3zM371 607h3.3v3.3h-3.3zM581 607h27.3v3.3h-27.3zM374 610h3.3v3.3h-3.3zM542 610h84.3v3.3h-84.3zM377 613h3.3v3.3h-3.3zM536 613h45.3v3.3h-45.3zM617 613h18.3v3.3h-18.3zM377 616h6.3v3.3h-6.3zM527 616h15.3v3.3h-15.3zM551 616h21.3v3.3h-21.3zM626 616h12.3v3.3h-12.3zM380 619h3.3v3.3h-3.3zM518 619h15.3v3.3h-15.3zM557 619h9.3v3.3h-9.3zM632 619h9.3v3.3h-9.3zM380 622h6.3v3.3h-6.3zM512 622h15.3v3.3h-15.3zM638 622h9.3v3.3h-9.3zM383 625h6.3v3.3h-6.3zM503 625h18.3v3.3h-18.3zM641 625h9.3v3.3h-9.3zM383 628h9.3v3.3h-9.3zM494 628h24.3v3.3h-24.3zM641 628h15.3v3.3h-15.3zM386 631h12.3v3.3h-12.3zM488 631h24.3v3.3h-24.3zM644 631h18.3v3.3h-18.3zM386 634h21.3v3.3h-21.3zM479 634h18.3v3.3h-18.3zM647 634h18.3v3.3h-18.3zM389 637h99.3v3.3h-99.3zM650 637h18.3v3.3h-18.3zM395 640h81.3v3.3h-81.3zM650 640h18.3v3.3h-18.3zM404 643h45.3v3.3h-45.3zM650 643h18.3v3.3h-18.3zM413 646h27.3v3.3h-27.3zM650 646h18.3v3.3h-18.3zM422 649h15.3v3.3h-15.3zM650 649h18.3v3.3h-18.3zM650 652h18.3v3.3h-18.3zM650 655h18.3v3.3h-18.3zM650 658h21.3v3.3h-21.3zM653 661h21.3v3.3h-21.3zM653 664h24.3v3.3h-24.3zM692 664h9.3v3.3h-9.3zM659 667h45.3v3.3h-45.3zM668 670h39.3v3.3h-39.3zM674 673h39.3v3.3h-39.3zM674 676h60.3v3.3h-60.3zM677 679h39.3v3.3h-39.3zM731 679h6.3v3.3h-6.3zM680 682h27.3v3.3h-27.3zM734 682h15.3v3.3h-15.3zM683 685h15.3v3.3h-15.3zM740 685h18.3v3.3h-18.3zM752 688h12.3v3.3h-12.3zM758 691h12.3v3.3h-12.3zM764 694h12.3v3.3h-12.3zM770 697h12.3v3.3h-12.3zM779 700h9.3v3.3h-9.3zM785 703h12.3v3.3h-12.3zM791 706h12.3v3.3h-12.3zM830 706h21.3v3.3h-21.3zM911 706h3.3v3.3h-3.3zM797 709h15.3v3.3h-15.3zM827 709h30.3v3.3h-30.3zM911 709h3.3v3.3h-3.3zM806 712h33.3v3.3h-33.3zM851 712h9.3v3.3h-9.3zM908 712h3.3v3.3h-3.3zM812 715h24.3v3.3h-24.3zM857 715h6.3v3.3h-6.3zM905 715h6.3v3.3h-6.3zM821 718h12.3v3.3h-12.3zM860 718h3.3v3.3h-3.3zM902 718h6.3v3.3h-6.3zM860 721h6.3v3.3h-6.3zM899 721h9.3v3.3h-9.3zM863 724h6.3v3.3h-6.3zM896 724h9.3v3.3h-9.3zM866 727h6.3v3.3h-6.3zM893 727h9.3v3.3h-9.3zM866 730h6.3v3.3h-6.3zM890 730h12.3v3.3h-12.3zM869 733h6.3v3.3h-6.3zM887 733h12.3v3.3h-12.3zM869 736h27.3v3.3h-27.3zM872 739h24.3v3.3h-24.3zM872 742h21.3v3.3h-21.3zM878 745h12.3v3.3h-12.3z"/>
<path fill="#0f4a55" d="M146 268h3.3v3.3h-3.3zM146 271h3.3v3.3h-3.3zM146 274h3.3v3.3h-3.3zM146 277h3.3v3.3h-3.3zM146 280h3.3v3.3h-3.3zM146 283h3.3v3.3h-3.3zM146 286h3.3v3.3h-3.3zM146 289h3.3v3.3h-3.3zM143 307h3.3v3.3h-3.3zM143 310h3.3v3.3h-3.3zM143 313h3.3v3.3h-3.3zM143 316h3.3v3.3h-3.3zM140 325h3.3v3.3h-3.3zM140 328h3.3v3.3h-3.3zM137 334h3.3v3.3h-3.3zM137 337h3.3v3.3h-3.3zM134 343h3.3v3.3h-3.3zM134 346h3.3v3.3h-3.3zM134 349h3.3v3.3h-3.3zM134 352h3.3v3.3h-3.3zM131 370h3.3v3.3h-3.3zM131 373h3.3v3.3h-3.3zM131 376h3.3v3.3h-3.3zM131 379h3.3v3.3h-3.3zM131 382h3.3v3.3h-3.3zM131 385h3.3v3.3h-3.3zM131 388h3.3v3.3h-3.3zM131 391h3.3v3.3h-3.3zM131 394h3.3v3.3h-3.3zM131 397h3.3v3.3h-3.3zM131 400h3.3v3.3h-3.3zM131 403h3.3v3.3h-3.3zM131 406h3.3v3.3h-3.3zM131 409h3.3v3.3h-3.3zM128 415h3.3v3.3h-3.3zM119 418h3.3v3.3h-3.3zM125 418h6.3v3.3h-6.3zM116 421h15.3v3.3h-15.3zM119 424h12.3v3.3h-12.3zM122 427h12.3v3.3h-12.3zM128 430h6.3v3.3h-6.3zM134 433h3.3v3.3h-3.3zM137 436h3.3v3.3h-3.3zM140 439h3.3v3.3h-3.3zM140 442h6.3v3.3h-6.3zM143 445h3.3v3.3h-3.3zM146 448h3.3v3.3h-3.3zM146 451h3.3v3.3h-3.3zM146 454h6.3v3.3h-6.3zM149 457h3.3v3.3h-3.3zM149 460h6.3v3.3h-6.3zM152 463h3.3v3.3h-3.3zM152 466h6.3v3.3h-6.3zM155 469h6.3v3.3h-6.3zM158 472h3.3v3.3h-3.3zM161 475h3.3v3.3h-3.3zM164 478h3.3v3.3h-3.3zM167 481h3.3v3.3h-3.3zM170 484h3.3v3.3h-3.3zM173 487h3.3v3.3h-3.3zM176 490h3.3v3.3h-3.3zM179 493h3.3v3.3h-3.3zM182 496h3.3v3.3h-3.3zM185 499h3.3v3.3h-3.3zM185 502h3.3v3.3h-3.3zM188 508h3.3v3.3h-3.3zM188 511h3.3v3.3h-3.3zM191 514h3.3v3.3h-3.3zM191 517h3.3v3.3h-3.3zM206 517h33.3v3.3h-33.3zM194 520h12.3v3.3h-12.3zM263 520h9.3v3.3h-9.3zM197 523h6.3v3.3h-6.3zM275 523h6.3v3.3h-6.3zM281 526h6.3v3.3h-6.3zM287 529h6.3v3.3h-6.3zM290 532h3.3v3.3h-3.3zM293 535h3.3v3.3h-3.3zM293 538h3.3v3.3h-3.3zM290 541h3.3v3.3h-3.3zM290 544h3.3v3.3h-3.3zM290 547h3.3v3.3h-3.3zM290 550h3.3v3.3h-3.3zM290 553h3.3v3.3h-3.3zM293 562h3.3v3.3h-3.3zM293 565h3.3v3.3h-3.3zM296 571h3.3v3.3h-3.3zM299 574h3.3v3.3h-3.3zM302 577h3.3v3.3h-3.3zM305 580h6.3v3.3h-6.3zM311 583h3.3v3.3h-3.3zM314 586h3.3v3.3h-3.3zM320 589h6.3v3.3h-6.3zM329 592h3.3v3.3h-3.3zM335 595h3.3v3.3h-3.3zM341 598h6.3v3.3h-6.3zM350 601h6.3v3.3h-6.3zM356 604h9.3v3.3h-9.3zM365 607h6.3v3.3h-6.3zM371 610h3.3v3.3h-3.3zM374 613h3.3v3.3h-3.3zM581 613h36.3v3.3h-36.3zM374 616h3.3v3.3h-3.3zM542 616h9.3v3.3h-9.3zM572 616h12.3v3.3h-12.3zM614 616h12.3v3.3h-12.3zM377 619h3.3v3.3h-3.3zM533 619h24.3v3.3h-24.3zM566 619h12.3v3.3h-12.3zM623 619h9.3v3.3h-9.3zM377 622h3.3v3.3h-3.3zM527 622h12.3v3.3h-12.3zM548 622h27.3v3.3h-27.3zM629 622h9.3v3.3h-9.3zM380 625h3.3v3.3h-3.3zM521 625h12.3v3.3h-12.3zM551 625h21.3v3.3h-21.3zM632 625h9.3v3.3h-9.3zM380 628h3.3v3.3h-3.3zM518 628h12.3v3.3h-12.3zM554 628h15.3v3.3h-15.3zM635 628h6.3v3.3h-6.3zM380 631h6.3v3.3h-6.3zM512 631h15.3v3.3h-15.3zM557 631h9.3v3.3h-9.3zM638 631h6.3v3.3h-6.3zM383 634h3.3v3.3h-3.3zM497 634h27.3v3.3h-27.3zM638 634h9.3v3.3h-9.3zM383 637h6.3v3.3h-6.3zM488 637h33.3v3.3h-33.3zM641 637h9.3v3.3h-9.3zM386 640h9.3v3.3h-9.3zM476 640h21.3v3.3h-21.3zM641 640h9.3v3.3h-9.3zM392 643h12.3v3.3h-12.3zM449 643h36.3v3.3h-36.3zM644 643h6.3v3.3h-6.3zM401 646h12.3v3.3h-12.3zM440 646h27.3v3.3h-27.3zM644 646h6.3v3.3h-6.3zM407 649h15.3v3.3h-15.3zM437 649h15.3v3.3h-15.3zM644 649h6.3v3.3h-6.3zM416 652h30.3v3.3h-30.3zM644 652h6.3v3.3h-6.3zM422 655h21.3v3.3h-21.3zM644 655h6.3v3.3h-6.3zM644 658h6.3v3.3h-6.3zM647 661h6.3v3.3h-6.3zM647 664h6.3v3.3h-6.3zM650 667h9.3v3.3h-9.3zM653 670h15.3v3.3h-15.3zM662 673h12.3v3.3h-12.3zM668 676h6.3v3.3h-6.3zM671 679h6.3v3.3h-6.3zM716 679h15.3v3.3h-15.3zM671 682h9.3v3.3h-9.3zM707 682h12.3v3.3h-12.3zM728 682h6.3v3.3h-6.3zM674 685h9.3v3.3h-9.3zM698 685h15.3v3.3h-15.3zM731 685h9.3v3.3h-9.3zM674 688h33.3v3.3h-33.3zM737 688h15.3v3.3h-15.3zM677 691h24.3v3.3h-24.3zM746 691h12.3v3.3h-12.3zM683 694h6.3v3.3h-6.3zM755 694h9.3v3.3h-9.3zM761 697h9.3v3.3h-9.3zM767 700h12.3v3.3h-12.3zM773 703h12.3v3.3h-12.3zM779 706h12.3v3.3h-12.3zM788 709h9.3v3.3h-9.3zM914 709h3.3v3.3h-3.3zM794 712h12.3v3.3h-12.3zM839 712h12.3v3.3h-12.3zM911 712h3.3v3.3h-3.3zM800 715h12.3v3.3h-12.3zM836 715h21.3v3.3h-21.3zM911 715h3.3v3.3h-3.3zM806 718h15.3v3.3h-15.3zM833 718h12.3v3.3h-12.3zM851 718h9.3v3.3h-9.3zM908 718h3.3v3.3h-3.3zM815 721h12.3v3.3h-12.3zM830 721h12.3v3.3h-12.3zM857 721h3.3v3.3h-3.3zM908 721h3.3v3.3h-3.3zM833 724h9.3v3.3h-9.3zM860 724h3.3v3.3h-3.3zM905 724h3.3v3.3h-3.3zM833 727h6.3v3.3h-6.3zM860 727h6.3v3.3h-6.3zM902 727h6.3v3.3h-6.3zM863 730h3.3v3.3h-3.3zM902 730h3.3v3.3h-3.3zM863 733h6.3v3.3h-6.3zM899 733h3.3v3.3h-3.3zM866 736h3.3v3.3h-3.3zM896 736h6.3v3.3h-6.3zM866 739h6.3v3.3h-6.3zM896 739h3.3v3.3h-3.3zM866 742h6.3v3.3h-6.3zM893 742h6.3v3.3h-6.3zM869 745h9.3v3.3h-9.3zM890 745h6.3v3.3h-6.3zM872 748h21.3v3.3h-21.3zM881 751h9.3v3.3h-9.3z"/>
<path fill="#1a5058" d="M143 268h3.3v3.3h-3.3zM143 271h3.3v3.3h-3.3zM143 274h3.3v3.3h-3.3zM143 277h3.3v3.3h-3.3zM143 280h3.3v3.3h-3.3zM143 283h3.3v3.3h-3.3zM143 286h3.3v3.3h-3.3zM143 289h3.3v3.3h-3.3zM143 292h3.3v3.3h-3.3zM143 295h3.3v3.3h-3.3zM143 298h3.3v3.3h-3.3zM143 301h3.3v3.3h-3.3zM143 304h3.3v3.3h-3.3zM140 316h3.3v3.3h-3.3zM140 319h3.3v3.3h-3.3zM140 322h3.3v3.3h-3.3zM137 328h3.3v3.3h-3.3zM137 331h3.3v3.3h-3.3zM134 337h3.3v3.3h-3.3zM134 340h3.3v3.3h-3.3zM131 349h3.3v3.3h-3.3zM131 352h3.3v3.3h-3.3zM131 355h3.3v3.3h-3.3zM131 358h3.3v3.3h-3.3zM131 361h3.3v3.3h-3.3zM110 364h3.3v3.3h-3.3zM131 364h3.3v3.3h-3.3zM110 367h6.3v3.3h-6.3zM131 367h3.3v3.3h-3.3zM110 370h6.3v3.3h-6.3zM110 373h6.3v3.3h-6.3zM128 376h3.3v3.3h-3.3zM128 379h3.3v3.3h-3.3zM128 382h3.3v3.3h-3.3zM128 403h3.3v3.3h-3.3zM128 406h3.3v3.3h-3.3zM128 409h3.3v3.3h-3.3zM128 412h3.3v3.3h-3.3zM116 415h12.3v3.3h-12.3zM113 418h6.3v3.3h-6.3zM122 418h3.3v3.3h-3.3zM113 421h3.3v3.3h-3.3zM113 424h6.3v3.3h-6.3zM116 427h6.3v3.3h-6.3zM122 430h6.3v3.3h-6.3zM125 433h9.3v3.3h-9.3zM131 436h6.3v3.3h-6.3zM137 439h3.3v3.3h-3.3zM137 442h3.3v3.3h-3.3zM140 445h3.3v3.3h-3.3zM143 448h3.3v3.3h-3.3zM143 451h3.3v3.3h-3.3zM146 457h3.3v3.3h-3.3zM146 460h3.3v3.3h-3.3zM149 463h3.3v3.3h-3.3zM149 466h3.3v3.3h-3.3zM152 469h3.3v3.3h-3.3zM155 472h3.3v3.3h-3.3zM158 475h3.3v3.3h-3.3zM161 478h3.3v3.3h-3.3zM164 481h3.3v3.3h-3.3zM167 484h3.3v3.3h-3.3zM170 487h3.3v3.3h-3.3zM173 490h3.3v3.3h-3.3zM176 493h3.3v3.3h-3.3zM179 496h3.3v3.3h-3.3zM182 499h3.3v3.3h-3.3zM182 502h3.3v3.3h-3.3zM185 505h3.3v3.3h-3.3zM185 508h3.3v3.3h-3.3zM188 514h3.3v3.3h-3.3zM188 517h3.3v3.3h-3.3zM191 520h3.3v3.3h-3.3zM206 520h9.3v3.3h-9.3zM239 520h24.3v3.3h-24.3zM191 523h6.3v3.3h-6.3zM203 523h3.3v3.3h-3.3zM269 523h6.3v3.3h-6.3zM194 526h12.3v3.3h-12.3zM275 526h6.3v3.3h-6.3zM194 529h12.3v3.3h-12.3zM284 529h3.3v3.3h-3.3zM197 532h9.3v3.3h-9.3zM287 532h3.3v3.3h-3.3zM200 535h6.3v3.3h-6.3zM290 535h3.3v3.3h-3.3zM287 538h6.3v3.3h-6.3zM287 541h3.3v3.3h-3.3zM287 544h3.3v3.3h-3.3zM287 547h3.3v3.3h-3.3zM287 550h3.3v3.3h-3.3zM290 556h3.3v3.3h-3.3zM290 559h3.3v3.3h-3.3zM290 562h3.3v3.3h-3.3zM293 568h3.3v3.3h-3.3zM293 571h3.3v3.3h-3.3zM296 574h3.3v3.3h-3.3zM299 577h3.3v3.3h-3.3zM302 580h3.3v3.3h-3.3zM308 583h3.3v3.3h-3.3zM311 586h3.3v3.3h-3.3zM317 589h3.3v3.3h-3.3zM323 592h6.3v3.3h-6.3zM332 595h3.3v3.3h-3.3zM338 598h3.3v3.3h-3.3zM344 601h6.3v3.3h-6.3zM350 604h6.3v3.3h-6.3zM359 607h6.3v3.3h-6.3zM365 610h6.3v3.3h-6.3zM371 613h3.3v3.3h-3.3zM584 616h30.3v3.3h-30.3zM374 619h3.3v3.3h-3.3zM578 619h9.3v3.3h-9.3zM611 619h12.3v3.3h-12.3zM539 622h9.3v3.3h-9.3zM575 622h6.3v3.3h-6.3zM617 622h12.3v3.3h-12.3zM377 625h3.3v3.3h-3.3zM533 625h18.3v3.3h-18.3zM572 625h6.3v3.3h-6.3zM623 625h9.3v3.3h-9.3zM377 628h3.3v3.3h-3.3zM530 628h12.3v3.3h-12.3zM545 628h9.3v3.3h-9.3zM569 628h9.3v3.3h-9.3zM626 628h9.3v3.3h-9.3zM377 631h3.3v3.3h-3.3zM527 631h9.3v3.3h-9.3zM548 631h9.3v3.3h-9.3zM566 631h9.3v3.3h-9.3zM629 631h9.3v3.3h-9.3zM380 634h3.3v3.3h-3.3zM524 634h9.3v3.3h-9.3zM551 634h21.3v3.3h-21.3zM632 634h6.3v3.3h-6.3zM380 637h3.3v3.3h-3.3zM521 637h9.3v3.3h-9.3zM554 637h15.3v3.3h-15.3zM635 637h6.3v3.3h-6.3zM380 640h6.3v3.3h-6.3zM497 640h33.3v3.3h-33.3zM557 640h6.3v3.3h-6.3zM635 640h6.3v3.3h-6.3zM383 643h9.3v3.3h-9.3zM485 643h42.3v3.3h-42.3zM638 643h6.3v3.3h-6.3zM389 646h12.3v3.3h-12.3zM467 646h54.3v3.3h-54.3zM638 646h6.3v3.3h-6.3zM398 649h9.3v3.3h-9.3zM452 649h30.3v3.3h-30.3zM638 649h6.3v3.3h-6.3zM407 652h9.3v3.3h-9.3zM446 652h18.3v3.3h-18.3zM638 652h6.3v3.3h-6.3zM419 655h3.3v3.3h-3.3zM443 655h12.3v3.3h-12.3zM638 655h6.3v3.3h-6.3zM422 658h30.3v3.3h-30.3zM611 658h21.3v3.3h-21.3zM635 658h9.3v3.3h-9.3zM431 661h15.3v3.3h-15.3zM611 661h21.3v3.3h-21.3zM635 661h12.3v3.3h-12.3zM641 664h6.3v3.3h-6.3zM644 667h6.3v3.3h-6.3zM647 670h6.3v3.3h-6.3zM650 673h12.3v3.3h-12.3zM659 676h9.3v3.3h-9.3zM665 679h6.3v3.3h-6.3zM668 682h3.3v3.3h-3.3zM719 682h9.3v3.3h-9.3zM668 685h6.3v3.3h-6.3zM713 685h18.3v3.3h-18.3zM668 688h6.3v3.3h-6.3zM707 688h9.3v3.3h-9.3zM728 688h9.3v3.3h-9.3zM668 691h9.3v3.3h-9.3zM701 691h12.3v3.3h-12.3zM731 691h15.3v3.3h-15.3zM668 694h15.3v3.3h-15.3zM689 694h21.3v3.3h-21.3zM740 694h15.3v3.3h-15.3zM671 697h30.3v3.3h-30.3zM749 697h12.3v3.3h-12.3zM755 700h12.3v3.3h-12.3zM761 703h12.3v3.3h-12.3zM770 706h9.3v3.3h-9.3zM776 709h12.3v3.3h-12.3zM791 712h3.3v3.3h-3.3zM914 712h3.3v3.3h-3.3zM794 715h6.3v3.3h-6.3zM914 715h3.3v3.3h-3.3zM797 718h9.3v3.3h-9.3zM845 718h6.3v3.3h-6.3zM911 718h3.3v3.3h-3.3zM803 721h12.3v3.3h-12.3zM842 721h15.3v3.3h-15.3zM911 721h3.3v3.3h-3.3zM812 724h6.3v3.3h-6.3zM842 724h18.3v3.3h-18.3zM908 724h3.3v3.3h-3.3zM839 727h21.3v3.3h-21.3zM908 727h3.3v3.3h-3.3zM833 730h18.3v3.3h-18.3zM857 730h6.3v3.3h-6.3zM905 730h3.3v3.3h-3.3zM833 733h18.3v3.3h-18.3zM860 733h3.3v3.3h-3.3zM902 733h3.3v3.3h-3.3zM842 736h6.3v3.3h-6.3zM860 736h6.3v3.3h-6.3zM902 736h3.3v3.3h-3.3zM863 739h3.3v3.3h-3.3zM899 739h3.3v3.3h-3.3zM863 742h3.3v3.3h-3.3zM899 742h3.3v3.3h-3.3zM923 742h3.3v3.3h-3.3zM863 745h6.3v3.3h-6.3zM896 745h3.3v3.3h-3.3zM923 745h3.3v3.3h-3.3zM866 748h6.3v3.3h-6.3zM893 748h6.3v3.3h-6.3zM923 748h3.3v3.3h-3.3zM872 751h9.3v3.3h-9.3zM890 751h6.3v3.3h-6.3zM920 751h6.3v3.3h-6.3zM878 754h15.3v3.3h-15.3zM920 754h9.3v3.3h-9.3zM920 757h9.3v3.3h-9.3zM920 760h9.3v3.3h-9.3zM926 763h3.3v3.3h-3.3z"/>
<path fill="#245a60" d="M140 298h3.3v3.3h-3.3zM140 301h3.3v3.3h-3.3zM140 304h3.3v3.3h-3.3zM140 307h3.3v3.3h-3.3zM140 310h3.3v3.3h-3.3zM140 313h3.3v3.3h-3.3zM137 319h3.3v3.3h-3.3zM137 322h3.3v3.3h-3.3zM137 325h3.3v3.3h-3.3zM134 331h3.3v3.3h-3.3zM134 334h3.3v3.3h-3.3zM131 340h3.3v3.3h-3.3zM131 343h3.3v3.3h-3.3zM131 346h3.3v3.3h-3.3zM128 352h3.3v3.3h-3.3zM107 355h9.3v3.3h-9.3zM128 355h3.3v3.3h-3.3zM107 358h12.3v3.3h-12.3zM128 358h3.3v3.3h-3.3zM104 361h15.3v3.3h-15.3zM128 361h3.3v3.3h-3.3zM104 364h6.3v3.3h-6.3zM113 364h9.3v3.3h-9.3zM128 364h3.3v3.3h-3.3zM107 367h3.3v3.3h-3.3zM116 367h6.3v3.3h-6.3zM128 367h3.3v3.3h-3.3zM107 370h3.3v3.3h-3.3zM116 370h6.3v3.3h-6.3zM125 370h6.3v3.3h-6.3zM107 373h3.3v3.3h-3.3zM116 373h6.3v3.3h-6.3zM125 373h6.3v3.3h-6.3zM107 376h15.3v3.3h-15.3zM125 376h3.3v3.3h-3.3zM107 379h12.3v3.3h-12.3zM125 379h3.3v3.3h-3.3zM110 382h6.3v3.3h-6.3zM128 385h3.3v3.3h-3.3zM128 388h3.3v3.3h-3.3zM128 391h3.3v3.3h-3.3zM128 394h3.3v3.3h-3.3zM128 397h3.3v3.3h-3.3zM128 400h3.3v3.3h-3.3zM125 409h3.3v3.3h-3.3zM113 412h15.3v3.3h-15.3zM110 415h6.3v3.3h-6.3zM110 418h3.3v3.3h-3.3zM110 421h3.3v3.3h-3.3zM110 424h3.3v3.3h-3.3zM113 427h3.3v3.3h-3.3zM116 430h6.3v3.3h-6.3zM122 433h3.3v3.3h-3.3zM128 436h3.3v3.3h-3.3zM131 439h6.3v3.3h-6.3zM137 445h3.3v3.3h-3.3zM140 448h3.3v3.3h-3.3zM140 451h3.3v3.3h-3.3zM143 454h3.3v3.3h-3.3zM143 457h3.3v3.3h-3.3zM143 460h3.3v3.3h-3.3zM146 463h3.3v3.3h-3.3zM146 466h3.3v3.3h-3.3zM149 469h3.3v3.3h-3.3zM152 472h3.3v3.3h-3.3zM155 475h3.3v3.3h-3.3zM158 478h3.3v3.3h-3.3zM161 481h3.3v3.3h-3.3zM164 484h3.3v3.3h-3.3zM167 487h3.3v3.3h-3.3zM176 496h3.3v3.3h-3.3zM179 499h3.3v3.3h-3.3zM182 505h3.3v3.3h-3.3zM185 511h3.3v3.3h-3.3zM185 514h3.3v3.3h-3.3zM188 520h3.3v3.3h-3.3zM215 520h24.3v3.3h-24.3zM206 523h6.3v3.3h-6.3zM257 523h12.3v3.3h-12.3zM191 526h3.3v3.3h-3.3zM206 526h3.3v3.3h-3.3zM269 526h6.3v3.3h-6.3zM206 529h3.3v3.3h-3.3zM275 529h9.3v3.3h-9.3zM194 532h3.3v3.3h-3.3zM206 532h3.3v3.3h-3.3zM281 532h6.3v3.3h-6.3zM197 535h3.3v3.3h-3.3zM206 535h3.3v3.3h-3.3zM284 535h6.3v3.3h-6.3zM197 538h12.3v3.3h-12.3zM284 538h3.3v3.3h-3.3zM203 541h6.3v3.3h-6.3zM284 541h3.3v3.3h-3.3zM284 544h3.3v3.3h-3.3zM287 553h3.3v3.3h-3.3zM287 556h3.3v3.3h-3.3zM290 565h3.3v3.3h-3.3zM290 568h3.3v3.3h-3.3zM293 574h3.3v3.3h-3.3zM296 577h3.3v3.3h-3.3zM299 580h3.3v3.3h-3.3zM302 583h6.3v3.3h-6.3zM308 586h3.3v3.3h-3.3zM314 589h3.3v3.3h-3.3zM320 592h3.3v3.3h-3.3zM326 595h6.3v3.3h-6.3zM335 598h3.3v3.3h-3.3zM341 601h3.3v3.3h-3.3zM347 604h3.3v3.3h-3.3zM353 607h6.3v3.3h-6.3zM362 610h3.3v3.3h-3.3zM368 613h3.3v3.3h-3.3zM371 616h3.3v3.3h-3.3zM371 619h3.3v3.3h-3.3zM587 619h24.3v3.3h-24.3zM374 622h3.3v3.3h-3.3zM581 622h9.3v3.3h-9.3zM608 622h9.3v3.3h-9.3zM374 625h3.3v3.3h-3.3zM578 625h6.3v3.3h-6.3zM611 625h12.3v3.3h-12.3zM542 628h3.3v3.3h-3.3zM578 628h6.3v3.3h-6.3zM617 628h9.3v3.3h-9.3zM536 631h12.3v3.3h-12.3zM575 631h6.3v3.3h-6.3zM620 631h9.3v3.3h-9.3zM377 634h3.3v3.3h-3.3zM533 634h18.3v3.3h-18.3zM572 634h6.3v3.3h-6.3zM623 634h9.3v3.3h-9.3zM377 637h3.3v3.3h-3.3zM530 637h24.3v3.3h-24.3zM569 637h9.3v3.3h-9.3zM626 637h9.3v3.3h-9.3zM377 640h3.3v3.3h-3.3zM530 640h27.3v3.3h-27.3zM563 640h12.3v3.3h-12.3zM629 640h6.3v3.3h-6.3zM380 643h3.3v3.3h-3.3zM527 643h12.3v3.3h-12.3zM548 643h24.3v3.3h-24.3zM629 643h9.3v3.3h-9.3zM383 646h6.3v3.3h-6.3zM521 646h15.3v3.3h-15.3zM551 646h18.3v3.3h-18.3zM629 646h9.3v3.3h-9.3zM392 649h6.3v3.3h-6.3zM482 649h51.3v3.3h-51.3zM557 649h3.3v3.3h-3.3zM629 649h9.3v3.3h-9.3zM398 652h9.3v3.3h-9.3zM464 652h66.3v3.3h-66.3zM608 652h30.3v3.3h-30.3zM455 655h27.3v3.3h-27.3zM485 655h27.3v3.3h-27.3zM605 655h33.3v3.3h-33.3zM452 658h15.3v3.3h-15.3zM602 658h9.3v3.3h-9.3zM632 658h3.3v3.3h-3.3zM425 661h6.3v3.3h-6.3zM446 661h18.3v3.3h-18.3zM605 661h6.3v3.3h-6.3zM632 661h3.3v3.3h-3.3zM431 664h30.3v3.3h-30.3zM605 664h36.3v3.3h-36.3zM440 667h21.3v3.3h-21.3zM614 667h30.3v3.3h-30.3zM458 670h6.3v3.3h-6.3zM638 670h9.3v3.3h-9.3zM644 673h6.3v3.3h-6.3zM647 676h12.3v3.3h-12.3zM653 679h12.3v3.3h-12.3zM659 682h9.3v3.3h-9.3zM662 685h6.3v3.3h-6.3zM662 688h6.3v3.3h-6.3zM716 688h12.3v3.3h-12.3zM659 691h9.3v3.3h-9.3zM713 691h18.3v3.3h-18.3zM659 694h9.3v3.3h-9.3zM710 694h30.3v3.3h-30.3zM659 697h12.3v3.3h-12.3zM701 697h15.3v3.3h-15.3zM731 697h18.3v3.3h-18.3zM662 700h45.3v3.3h-45.3zM743 700h12.3v3.3h-12.3zM665 703h27.3v3.3h-27.3zM749 703h12.3v3.3h-12.3zM758 706h12.3v3.3h-12.3zM764 709h12.3v3.3h-12.3zM914 718h3.3v3.3h-3.3zM800 721h3.3v3.3h-3.3zM914 721h3.3v3.3h-3.3zM806 724h6.3v3.3h-6.3zM911 724h3.3v3.3h-3.3zM851 730h6.3v3.3h-6.3zM908 730h3.3v3.3h-3.3zM851 733h9.3v3.3h-9.3zM905 733h3.3v3.3h-3.3zM833 736h9.3v3.3h-9.3zM848 736h12.3v3.3h-12.3zM905 736h3.3v3.3h-3.3zM839 739h24.3v3.3h-24.3zM902 739h3.3v3.3h-3.3zM848 742h15.3v3.3h-15.3zM902 742h3.3v3.3h-3.3zM920 742h3.3v3.3h-3.3zM857 745h6.3v3.3h-6.3zM899 745h3.3v3.3h-3.3zM920 745h3.3v3.3h-3.3zM863 748h3.3v3.3h-3.3zM899 748h3.3v3.3h-3.3zM920 748h3.3v3.3h-3.3zM866 751h6.3v3.3h-6.3zM896 751h3.3v3.3h-3.3zM917 751h3.3v3.3h-3.3zM872 754h6.3v3.3h-6.3zM893 754h3.3v3.3h-3.3zM917 754h3.3v3.3h-3.3zM878 757h15.3v3.3h-15.3zM917 757h3.3v3.3h-3.3zM914 760h6.3v3.3h-6.3zM917 763h9.3v3.3h-9.3zM920 766h9.3v3.3h-9.3z"/>
<path fill="#2d6062" d="M140 268h3.3v3.3h-3.3zM140 271h3.3v3.3h-3.3zM140 274h3.3v3.3h-3.3zM140 277h3.3v3.3h-3.3zM140 280h3.3v3.3h-3.3zM140 283h3.3v3.3h-3.3zM140 286h3.3v3.3h-3.3zM140 289h3.3v3.3h-3.3zM140 292h3.3v3.3h-3.3zM140 295h3.3v3.3h-3.3zM137 304h3.3v3.3h-3.3zM110 307h6.3v3.3h-6.3zM137 307h3.3v3.3h-3.3zM107 310h12.3v3.3h-12.3zM137 310h3.3v3.3h-3.3zM107 313h12.3v3.3h-12.3zM137 313h3.3v3.3h-3.3zM107 316h12.3v3.3h-12.3zM137 316h3.3v3.3h-3.3zM107 319h12.3v3.3h-12.3zM110 322h9.3v3.3h-9.3zM134 322h3.3v3.3h-3.3zM134 325h3.3v3.3h-3.3zM134 328h3.3v3.3h-3.3zM131 331h3.3v3.3h-3.3zM131 334h3.3v3.3h-3.3zM131 337h3.3v3.3h-3.3zM128 340h3.3v3.3h-3.3zM128 343h3.3v3.3h-3.3zM128 346h3.3v3.3h-3.3zM107 349h12.3v3.3h-12.3zM125 349h6.3v3.3h-6.3zM104 352h24.3v3.3h-24.3zM104 355h3.3v3.3h-3.3zM116 355h12.3v3.3h-12.3zM101 358h6.3v3.3h-6.3zM119 358h9.3v3.3h-9.3zM101 361h3.3v3.3h-3.3zM119 361h9.3v3.3h-9.3zM101 364h3.3v3.3h-3.3zM122 364h6.3v3.3h-6.3zM101 367h6.3v3.3h-6.3zM122 367h6.3v3.3h-6.3zM104 370h3.3v3.3h-3.3zM122 370h3.3v3.3h-3.3zM104 373h3.3v3.3h-3.3zM122 373h3.3v3.3h-3.3zM104 376h3.3v3.3h-3.3zM122 376h3.3v3.3h-3.3zM104 379h3.3v3.3h-3.3zM119 379h6.3v3.3h-6.3zM104 382h6.3v3.3h-6.3zM116 382h12.3v3.3h-12.3zM107 385h21.3v3.3h-21.3zM110 388h6.3v3.3h-6.3zM125 388h3.3v3.3h-3.3zM125 391h3.3v3.3h-3.3zM125 394h3.3v3.3h-3.3zM125 397h3.3v3.3h-3.3zM125 400h3.3v3.3h-3.3zM125 403h3.3v3.3h-3.3zM122 406h6.3v3.3h-6.3zM113 409h12.3v3.3h-12.3zM107 412h6.3v3.3h-6.3zM107 415h3.3v3.3h-3.3zM107 418h3.3v3.3h-3.3zM107 421h3.3v3.3h-3.3zM110 427h3.3v3.3h-3.3zM113 430h3.3v3.3h-3.3zM116 433h6.3v3.3h-6.3zM122 436h6.3v3.3h-6.3zM128 439h3.3v3.3h-3.3zM131 442h6.3v3.3h-6.3zM137 448h3.3v3.3h-3.3zM140 454h3.3v3.3h-3.3zM140 457h3.3v3.3h-3.3zM143 463h3.3v3.3h-3.3zM143 466h3.3v3.3h-3.3zM146 469h3.3v3.3h-3.3zM149 472h3.3v3.3h-3.3zM152 475h3.3v3.3h-3.3zM155 478h3.3v3.3h-3.3zM158 481h3.3v3.3h-3.3zM161 484h3.3v3.3h-3.3zM170 490h3.3v3.3h-3.3zM173 493h3.3v3.3h-3.3zM176 499h3.3v3.3h-3.3zM179 502h3.3v3.3h-3.3zM182 508h3.3v3.3h-3.3zM182 511h3.3v3.3h-3.3zM185 517h3.3v3.3h-3.3zM185 520h3.3v3.3h-3.3zM188 523h3.3v3.3h-3.3zM212 523h6.3v3.3h-6.3zM242 523h15.3v3.3h-15.3zM188 526h3.3v3.3h-3.3zM209 526h3.3v3.3h-3.3zM263 526h6.3v3.3h-6.3zM191 529h3.3v3.3h-3.3zM209 529h3.3v3.3h-3.3zM269 529h6.3v3.3h-6.3zM191 532h3.3v3.3h-3.3zM209 532h3.3v3.3h-3.3zM275 532h6.3v3.3h-6.3zM194 535h3.3v3.3h-3.3zM209 535h3.3v3.3h-3.3zM281 535h3.3v3.3h-3.3zM209 538h3.3v3.3h-3.3zM281 538h3.3v3.3h-3.3zM197 541h6.3v3.3h-6.3zM209 541h3.3v3.3h-3.3zM281 541h3.3v3.3h-3.3zM203 544h6.3v3.3h-6.3zM284 547h3.3v3.3h-3.3zM284 550h3.3v3.3h-3.3zM287 559h3.3v3.3h-3.3zM287 562h3.3v3.3h-3.3zM287 565h3.3v3.3h-3.3zM290 571h3.3v3.3h-3.3zM290 574h3.3v3.3h-3.3zM293 577h3.3v3.3h-3.3zM296 580h3.3v3.3h-3.3zM299 583h3.3v3.3h-3.3zM305 586h3.3v3.3h-3.3zM308 589h6.3v3.3h-6.3zM317 592h3.3v3.3h-3.3zM323 595h3.3v3.3h-3.3zM329 598h6.3v3.3h-6.3zM335 601h6.3v3.3h-6.3zM344 604h3.3v3.3h-3.3zM350 607h3.3v3.3h-3.3zM356 610h6.3v3.3h-6.3zM362 613h6.3v3.3h-6.3zM368 616h3.3v3.3h-3.3zM371 622h3.3v3.3h-3.3zM590 622h18.3v3.3h-18.3zM584 625h12.3v3.3h-12.3zM599 625h12.3v3.3h-12.3zM374 628h3.3v3.3h-3.3zM584 628h6.3v3.3h-6.3zM605 628h12.3v3.3h-12.3zM374 631h3.3v3.3h-3.3zM581 631h6.3v3.3h-6.3zM605 631h15.3v3.3h-15.3zM374 634h3.3v3.3h-3.3zM578 634h9.3v3.3h-9.3zM608 634h15.3v3.3h-15.3zM374 637h3.3v3.3h-3.3zM578 637h6.3v3.3h-6.3zM608 637h18.3v3.3h-18.3zM575 640h9.3v3.3h-9.3zM608 640h21.3v3.3h-21.3zM377 643h3.3v3.3h-3.3zM539 643h9.3v3.3h-9.3zM572 643h9.3v3.3h-9.3zM608 643h21.3v3.3h-21.3zM377 646h6.3v3.3h-6.3zM536 646h15.3v3.3h-15.3zM569 646h9.3v3.3h-9.3zM605 646h24.3v3.3h-24.3zM383 649h9.3v3.3h-9.3zM533 649h24.3v3.3h-24.3zM560 649h15.3v3.3h-15.3zM602 649h27.3v3.3h-27.3zM392 652h6.3v3.3h-6.3zM530 652h42.3v3.3h-42.3zM599 652h9.3v3.3h-9.3zM482 655h3.3v3.3h-3.3zM512 655h57.3v3.3h-57.3zM599 655h6.3v3.3h-6.3zM467 658h69.3v3.3h-69.3zM596 658h6.3v3.3h-6.3zM464 661h39.3v3.3h-39.3zM521 661h9.3v3.3h-9.3zM599 661h6.3v3.3h-6.3zM428 664h3.3v3.3h-3.3zM461 664h12.3v3.3h-12.3zM599 664h6.3v3.3h-6.3zM431 667h9.3v3.3h-9.3zM461 667h12.3v3.3h-12.3zM602 667h12.3v3.3h-12.3zM437 670h21.3v3.3h-21.3zM464 670h6.3v3.3h-6.3zM611 670h27.3v3.3h-27.3zM449 673h21.3v3.3h-21.3zM629 673h15.3v3.3h-15.3zM455 676h15.3v3.3h-15.3zM638 676h9.3v3.3h-9.3zM461 679h9.3v3.3h-9.3zM644 679h9.3v3.3h-9.3zM650 682h9.3v3.3h-9.3zM653 685h9.3v3.3h-9.3zM653 688h9.3v3.3h-9.3zM653 691h6.3v3.3h-6.3zM653 694h6.3v3.3h-6.3zM653 697h6.3v3.3h-6.3zM716 697h15.3v3.3h-15.3zM653 700h9.3v3.3h-9.3zM707 700h36.3v3.3h-36.3zM653 703h12.3v3.3h-12.3zM692 703h57.3v3.3h-57.3zM653 706h48.3v3.3h-48.3zM740 706h18.3v3.3h-18.3zM659 709h21.3v3.3h-21.3zM749 709h15.3v3.3h-15.3zM758 712h6.3v3.3h-6.3zM917 721h3.3v3.3h-3.3zM914 724h3.3v3.3h-3.3zM911 727h6.3v3.3h-6.3zM911 730h3.3v3.3h-3.3zM908 733h3.3v3.3h-3.3zM920 733h3.3v3.3h-3.3zM908 736h3.3v3.3h-3.3zM920 736h3.3v3.3h-3.3zM836 739h3.3v3.3h-3.3zM905 739h3.3v3.3h-3.3zM920 739h3.3v3.3h-3.3zM839 742h9.3v3.3h-9.3zM905 742h3.3v3.3h-3.3zM917 742h3.3v3.3h-3.3zM848 745h9.3v3.3h-9.3zM902 745h3.3v3.3h-3.3zM917 745h3.3v3.3h-3.3zM854 748h9.3v3.3h-9.3zM902 748h3.3v3.3h-3.3zM914 748h6.3v3.3h-6.3zM860 751h6.3v3.3h-6.3zM899 751h3.3v3.3h-3.3zM914 751h3.3v3.3h-3.3zM866 754h6.3v3.3h-6.3zM896 754h3.3v3.3h-3.3zM914 754h3.3v3.3h-3.3zM872 757h6.3v3.3h-6.3zM893 757h6.3v3.3h-6.3zM911 757h6.3v3.3h-6.3zM878 760h18.3v3.3h-18.3zM911 760h3.3v3.3h-3.3zM911 763h6.3v3.3h-6.3zM914 766h6.3v3.3h-6.3zM920 769h6.3v3.3h-6.3z"/>
<path fill="#386866" d="M137 268h3.3v3.3h-3.3zM137 271h3.3v3.3h-3.3zM137 274h3.3v3.3h-3.3zM137 277h3.3v3.3h-3.3zM137 280h3.3v3.3h-3.3zM137 283h3.3v3.3h-3.3zM137 286h3.3v3.3h-3.3zM137 289h3.3v3.3h-3.3zM137 292h3.3v3.3h-3.3zM137 295h3.3v3.3h-3.3zM137 298h3.3v3.3h-3.3zM110 301h6.3v3.3h-6.3zM134 301h6.3v3.3h-6.3zM107 304h15.3v3.3h-15.3zM134 304h3.3v3.3h-3.3zM104 307h6.3v3.3h-6.3zM116 307h9.3v3.3h-9.3zM134 307h3.3v3.3h-3.3zM101 310h6.3v3.3h-6.3zM119 310h6.3v3.3h-6.3zM134 310h3.3v3.3h-3.3zM101 313h6.3v3.3h-6.3zM119 313h6.3v3.3h-6.3zM134 313h3.3v3.3h-3.3zM101 316h6.3v3.3h-6.3zM119 316h6.3v3.3h-6.3zM134 316h3.3v3.3h-3.3zM104 319h3.3v3.3h-3.3zM119 319h6.3v3.3h-6.3zM131 319h6.3v3.3h-6.3zM104 322h6.3v3.3h-6.3zM119 322h6.3v3.3h-6.3zM131 322h3.3v3.3h-3.3zM107 325h18.3v3.3h-18.3zM131 325h3.3v3.3h-3.3zM107 328h15.3v3.3h-15.3zM128 328h6.3v3.3h-6.3zM110 331h9.3v3.3h-9.3zM128 331h3.3v3.3h-3.3zM125 334h6.3v3.3h-6.3zM125 337h6.3v3.3h-6.3zM113 340h15.3v3.3h-15.3zM107 343h21.3v3.3h-21.3zM104 346h24.3v3.3h-24.3zM101 349h6.3v3.3h-6.3zM119 349h6.3v3.3h-6.3zM101 352h3.3v3.3h-3.3zM98 355h6.3v3.3h-6.3zM98 358h3.3v3.3h-3.3zM95 361h6.3v3.3h-6.3zM98 364h3.3v3.3h-3.3zM98 367h3.3v3.3h-3.3zM98 370h6.3v3.3h-6.3zM101 373h3.3v3.3h-3.3zM101 376h3.3v3.3h-3.3zM101 379h3.3v3.3h-3.3zM101 382h3.3v3.3h-3.3zM101 385h6.3v3.3h-6.3zM104 388h6.3v3.3h-6.3zM116 388h9.3v3.3h-9.3zM107 391h18.3v3.3h-18.3zM110 394h15.3v3.3h-15.3zM119 397h6.3v3.3h-6.3zM119 400h6.3v3.3h-6.3zM113 403h12.3v3.3h-12.3zM107 406h15.3v3.3h-15.3zM107 409h6.3v3.3h-6.3zM104 412h3.3v3.3h-3.3zM104 415h3.3v3.3h-3.3zM104 418h3.3v3.3h-3.3zM104 421h3.3v3.3h-3.3zM107 424h3.3v3.3h-3.3zM107 427h3.3v3.3h-3.3zM110 430h3.3v3.3h-3.3zM113 433h3.3v3.3h-3.3zM119 436h3.3v3.3h-3.3zM122 439h6.3v3.3h-6.3zM128 442h3.3v3.3h-3.3zM134 445h3.3v3.3h-3.3zM134 448h3.3v3.3h-3.3zM137 451h3.3v3.3h-3.3zM137 454h3.3v3.3h-3.3zM140 460h3.3v3.3h-3.3zM140 463h3.3v3.3h-3.3zM140 466h3.3v3.3h-3.3zM143 469h3.3v3.3h-3.3zM146 472h3.3v3.3h-3.3zM149 475h3.3v3.3h-3.3zM152 478h3.3v3.3h-3.3zM155 481h3.3v3.3h-3.3zM164 487h3.3v3.3h-3.3zM167 490h3.3v3.3h-3.3zM170 493h3.3v3.3h-3.3zM173 496h3.3v3.3h-3.3zM176 502h3.3v3.3h-3.3zM179 505h3.3v3.3h-3.3zM179 508h3.3v3.3h-3.3zM182 514h3.3v3.3h-3.3zM182 517h3.3v3.3h-3.3zM185 523h3.3v3.3h-3.3zM218 523h24.3v3.3h-24.3zM212 526h6.3v3.3h-6.3zM254 526h9.3v3.3h-9.3zM188 529h3.3v3.3h-3.3zM212 529h3.3v3.3h-3.3zM263 529h6.3v3.3h-6.3zM212 532h3.3v3.3h-3.3zM269 532h6.3v3.3h-6.3zM191 535h3.3v3.3h-3.3zM212 535h3.3v3.3h-3.3zM275 535h6.3v3.3h-6.3zM194 538h3.3v3.3h-3.3zM212 538h3.3v3.3h-3.3zM278 538h3.3v3.3h-3.3zM212 541h3.3v3.3h-3.3zM278 541h3.3v3.3h-3.3zM197 544h6.3v3.3h-6.3zM209 544h6.3v3.3h-6.3zM281 544h3.3v3.3h-3.3zM203 547h9.3v3.3h-9.3zM281 547h3.3v3.3h-3.3zM281 550h3.3v3.3h-3.3zM284 553h3.3v3.3h-3.3zM284 556h3.3v3.3h-3.3zM284 559h3.3v3.3h-3.3zM284 562h3.3v3.3h-3.3zM287 568h3.3v3.3h-3.3zM287 571h3.3v3.3h-3.3zM287 574h3.3v3.3h-3.3zM290 577h3.3v3.3h-3.3zM293 580h3.3v3.3h-3.3zM296 583h3.3v3.3h-3.3zM299 586h6.3v3.3h-6.3zM305 589h3.3v3.3h-3.3zM311 592h6.3v3.3h-6.3zM320 595h3.3v3.3h-3.3zM326 598h3.3v3.3h-3.3zM332 601h3.3v3.3h-3.3zM338 604h6.3v3.3h-6.3zM344 607h6.3v3.3h-6.3zM353 610h3.3v3.3h-3.3zM359 613h3.3v3.3h-3.3zM365 616h3.3v3.3h-3.3zM368 619h3.3v3.3h-3.3zM368 622h3.3v3.3h-3.3zM371 625h3.3v3.3h-3.3zM596 625h3.3v3.3h-3.3zM371 628h3.3v3.3h-3.3zM590 628h15.3v3.3h-15.3zM371 631h3.3v3.3h-3.3zM587 631h18.3v3.3h-18.3zM587 634h21.3v3.3h-21.3zM584 637h24.3v3.3h-24.3zM374 640h3.3v3.3h-3.3zM584 640h24.3v3.3h-24.3zM374 643h3.3v3.3h-3.3zM581 643h27.3v3.3h-27.3zM374 646h3.3v3.3h-3.3zM578 646h27.3v3.3h-27.3zM377 649h6.3v3.3h-6.3zM575 649h27.3v3.3h-27.3zM386 652h6.3v3.3h-6.3zM572 652h27.3v3.3h-27.3zM395 655h6.3v3.3h-6.3zM569 655h30.3v3.3h-30.3zM536 658h60.3v3.3h-60.3zM503 661h18.3v3.3h-18.3zM530 661h45.3v3.3h-45.3zM587 661h12.3v3.3h-12.3zM473 664h96.3v3.3h-96.3zM590 664h9.3v3.3h-9.3zM473 667h24.3v3.3h-24.3zM518 667h33.3v3.3h-33.3zM593 667h9.3v3.3h-9.3zM434 670h3.3v3.3h-3.3zM470 670h12.3v3.3h-12.3zM524 670h21.3v3.3h-21.3zM599 670h12.3v3.3h-12.3zM437 673h12.3v3.3h-12.3zM470 673h9.3v3.3h-9.3zM527 673h18.3v3.3h-18.3zM608 673h21.3v3.3h-21.3zM446 676h9.3v3.3h-9.3zM470 676h6.3v3.3h-6.3zM530 676h15.3v3.3h-15.3zM623 676h15.3v3.3h-15.3zM452 679h9.3v3.3h-9.3zM470 679h6.3v3.3h-6.3zM533 679h12.3v3.3h-12.3zM635 679h9.3v3.3h-9.3zM458 682h15.3v3.3h-15.3zM533 682h12.3v3.3h-12.3zM641 682h9.3v3.3h-9.3zM464 685h6.3v3.3h-6.3zM536 685h9.3v3.3h-9.3zM644 685h9.3v3.3h-9.3zM539 688h3.3v3.3h-3.3zM647 688h6.3v3.3h-6.3zM647 691h6.3v3.3h-6.3zM647 694h6.3v3.3h-6.3zM647 697h6.3v3.3h-6.3zM644 700h9.3v3.3h-9.3zM644 703h9.3v3.3h-9.3zM647 706h6.3v3.3h-6.3zM701 706h39.3v3.3h-39.3zM647 709h12.3v3.3h-12.3zM680 709h69.3v3.3h-69.3zM647 712h42.3v3.3h-42.3zM731 712h27.3v3.3h-27.3zM653 715h15.3v3.3h-15.3zM743 715h21.3v3.3h-21.3zM755 718h9.3v3.3h-9.3zM917 724h3.3v3.3h-3.3zM917 727h3.3v3.3h-3.3zM914 730h6.3v3.3h-6.3zM911 733h9.3v3.3h-9.3zM911 736h9.3v3.3h-9.3zM908 739h12.3v3.3h-12.3zM836 742h3.3v3.3h-3.3zM908 742h9.3v3.3h-9.3zM839 745h9.3v3.3h-9.3zM905 745h12.3v3.3h-12.3zM848 748h6.3v3.3h-6.3zM905 748h3.3v3.3h-3.3zM911 748h3.3v3.3h-3.3zM854 751h6.3v3.3h-6.3zM902 751h3.3v3.3h-3.3zM911 751h3.3v3.3h-3.3zM860 754h6.3v3.3h-6.3zM899 754h6.3v3.3h-6.3zM908 754h6.3v3.3h-6.3zM866 757h6.3v3.3h-6.3zM899 757h3.3v3.3h-3.3zM908 757h3.3v3.3h-3.3zM872 760h6.3v3.3h-6.3zM896 760h3.3v3.3h-3.3zM908 760h3.3v3.3h-3.3zM878 763h18.3v3.3h-18.3zM908 763h3.3v3.3h-3.3zM884 766h6.3v3.3h-6.3zM911 766h3.3v3.3h-3.3zM914 769h6.3v3.3h-6.3z"/>
<path fill="#457068" d="M134 268h3.3v3.3h-3.3zM134 271h3.3v3.3h-3.3zM113 274h3.3v3.3h-3.3zM134 274h3.3v3.3h-3.3zM113 277h3.3v3.3h-3.3zM134 277h3.3v3.3h-3.3zM110 280h6.3v3.3h-6.3zM134 280h3.3v3.3h-3.3zM104 283h3.3v3.3h-3.3zM110 283h6.3v3.3h-6.3zM134 283h3.3v3.3h-3.3zM104 286h12.3v3.3h-12.3zM134 286h3.3v3.3h-3.3zM104 289h12.3v3.3h-12.3zM134 289h3.3v3.3h-3.3zM104 292h15.3v3.3h-15.3zM131 292h6.3v3.3h-6.3zM104 295h18.3v3.3h-18.3zM131 295h6.3v3.3h-6.3zM101 298h36.3v3.3h-36.3zM98 301h12.3v3.3h-12.3zM116 301h18.3v3.3h-18.3zM98 304h9.3v3.3h-9.3zM122 304h12.3v3.3h-12.3zM95 307h9.3v3.3h-9.3zM125 307h9.3v3.3h-9.3zM95 310h6.3v3.3h-6.3zM125 310h9.3v3.3h-9.3zM95 313h6.3v3.3h-6.3zM125 313h9.3v3.3h-9.3zM95 316h6.3v3.3h-6.3zM125 316h9.3v3.3h-9.3zM95 319h9.3v3.3h-9.3zM125 319h6.3v3.3h-6.3zM98 322h6.3v3.3h-6.3zM125 322h6.3v3.3h-6.3zM98 325h9.3v3.3h-9.3zM125 325h6.3v3.3h-6.3zM101 328h6.3v3.3h-6.3zM122 328h6.3v3.3h-6.3zM101 331h9.3v3.3h-9.3zM119 331h9.3v3.3h-9.3zM104 334h21.3v3.3h-21.3zM104 337h21.3v3.3h-21.3zM101 340h12.3v3.3h-12.3zM101 343h6.3v3.3h-6.3zM98 346h6.3v3.3h-6.3zM95 349h6.3v3.3h-6.3zM95 352h6.3v3.3h-6.3zM92 355h6.3v3.3h-6.3zM92 358h6.3v3.3h-6.3zM92 361h3.3v3.3h-3.3zM92 364h6.3v3.3h-6.3zM92 367h6.3v3.3h-6.3zM92 370h6.3v3.3h-6.3zM95 373h6.3v3.3h-6.3zM95 376h6.3v3.3h-6.3zM95 379h6.3v3.3h-6.3zM95 382h6.3v3.3h-6.3zM98 385h3.3v3.3h-3.3zM98 388h6.3v3.3h-6.3zM98 391h9.3v3.3h-9.3zM101 394h9.3v3.3h-9.3zM101 397h18.3v3.3h-18.3zM101 400h18.3v3.3h-18.3zM101 403h12.3v3.3h-12.3zM101 406h6.3v3.3h-6.3zM98 409h9.3v3.3h-9.3zM98 412h6.3v3.3h-6.3zM101 415h3.3v3.3h-3.3zM101 418h3.3v3.3h-3.3zM104 424h3.3v3.3h-3.3zM104 427h3.3v3.3h-3.3zM107 430h3.3v3.3h-3.3zM110 433h3.3v3.3h-3.3zM113 436h6.3v3.3h-6.3zM119 439h3.3v3.3h-3.3zM125 442h3.3v3.3h-3.3zM131 445h3.3v3.3h-3.3zM134 451h3.3v3.3h-3.3zM137 457h3.3v3.3h-3.3zM137 460h3.3v3.3h-3.3zM140 469h3.3v3.3h-3.3zM140 472h6.3v3.3h-6.3zM143 475h6.3v3.3h-6.3zM146 478h6.3v3.3h-6.3zM152 481h3.3v3.3h-3.3zM158 484h3.3v3.3h-3.3zM161 487h3.3v3.3h-3.3zM164 490h3.3v3.3h-3.3zM167 493h3.3v3.3h-3.3zM170 496h3.3v3.3h-3.3zM173 499h3.3v3.3h-3.3zM176 505h3.3v3.3h-3.3zM179 511h3.3v3.3h-3.3zM179 514h3.3v3.3h-3.3zM182 520h3.3v3.3h-3.3zM182 523h3.3v3.3h-3.3zM185 526h3.3v3.3h-3.3zM218 526h6.3v3.3h-6.3zM239 526h15.3v3.3h-15.3zM185 529h3.3v3.3h-3.3zM215 529h3.3v3.3h-3.3zM257 529h6.3v3.3h-6.3zM188 532h3.3v3.3h-3.3zM215 532h3.3v3.3h-3.3zM263 532h6.3v3.3h-6.3zM188 535h3.3v3.3h-3.3zM215 535h3.3v3.3h-3.3zM269 535h6.3v3.3h-6.3zM191 538h3.3v3.3h-3.3zM215 538h3.3v3.3h-3.3zM272 538h6.3v3.3h-6.3zM194 541h3.3v3.3h-3.3zM215 541h3.3v3.3h-3.3zM275 541h3.3v3.3h-3.3zM215 544h3.3v3.3h-3.3zM278 544h3.3v3.3h-3.3zM200 547h3.3v3.3h-3.3zM212 547h3.3v3.3h-3.3zM278 547h3.3v3.3h-3.3zM203 550h9.3v3.3h-9.3zM281 553h3.3v3.3h-3.3zM281 556h3.3v3.3h-3.3zM284 565h3.3v3.3h-3.3zM284 568h3.3v3.3h-3.3zM284 571h3.3v3.3h-3.3zM287 577h3.3v3.3h-3.3zM290 580h3.3v3.3h-3.3zM293 583h3.3v3.3h-3.3zM296 586h3.3v3.3h-3.3zM302 589h3.3v3.3h-3.3zM308 592h3.3v3.3h-3.3zM314 595h6.3v3.3h-6.3zM323 598h3.3v3.3h-3.3zM329 601h3.3v3.3h-3.3zM335 604h3.3v3.3h-3.3zM341 607h3.3v3.3h-3.3zM347 610h6.3v3.3h-6.3zM353 613h6.3v3.3h-6.3zM359 616h6.3v3.3h-6.3zM365 619h3.3v3.3h-3.3zM368 625h3.3v3.3h-3.3zM371 634h3.3v3.3h-3.3zM371 637h3.3v3.3h-3.3zM371 640h3.3v3.3h-3.3zM371 643h3.3v3.3h-3.3zM371 646h3.3v3.3h-3.3zM374 649h3.3v3.3h-3.3zM380 652h6.3v3.3h-6.3zM386 655h9.3v3.3h-9.3zM575 661h12.3v3.3h-12.3zM569 664h21.3v3.3h-21.3zM497 667h21.3v3.3h-21.3zM551 667h42.3v3.3h-42.3zM482 670h42.3v3.3h-42.3zM545 670h54.3v3.3h-54.3zM479 673h24.3v3.3h-24.3zM512 673h15.3v3.3h-15.3zM545 673h63.3v3.3h-63.3zM440 676h6.3v3.3h-6.3zM476 676h21.3v3.3h-21.3zM518 676h12.3v3.3h-12.3zM545 676h42.3v3.3h-42.3zM593 676h30.3v3.3h-30.3zM443 679h9.3v3.3h-9.3zM476 679h12.3v3.3h-12.3zM518 679h15.3v3.3h-15.3zM545 679h33.3v3.3h-33.3zM614 679h21.3v3.3h-21.3zM452 682h6.3v3.3h-6.3zM473 682h12.3v3.3h-12.3zM521 682h12.3v3.3h-12.3zM545 682h27.3v3.3h-27.3zM629 682h12.3v3.3h-12.3zM458 685h6.3v3.3h-6.3zM470 685h9.3v3.3h-9.3zM521 685h15.3v3.3h-15.3zM545 685h24.3v3.3h-24.3zM635 685h9.3v3.3h-9.3zM464 688h12.3v3.3h-12.3zM524 688h15.3v3.3h-15.3zM542 688h21.3v3.3h-21.3zM638 688h9.3v3.3h-9.3zM527 691h33.3v3.3h-33.3zM641 691h6.3v3.3h-6.3zM527 694h30.3v3.3h-30.3zM641 694h6.3v3.3h-6.3zM530 697h24.3v3.3h-24.3zM641 697h6.3v3.3h-6.3zM533 700h18.3v3.3h-18.3zM641 700h3.3v3.3h-3.3zM638 703h6.3v3.3h-6.3zM638 706h9.3v3.3h-9.3zM638 709h9.3v3.3h-9.3zM641 712h6.3v3.3h-6.3zM689 712h42.3v3.3h-42.3zM641 715h12.3v3.3h-12.3zM668 715h75.3v3.3h-75.3zM644 718h36.3v3.3h-36.3zM716 718h39.3v3.3h-39.3zM731 721h33.3v3.3h-33.3zM743 724h18.3v3.3h-18.3zM752 727h6.3v3.3h-6.3zM839 748h9.3v3.3h-9.3zM908 748h3.3v3.3h-3.3zM845 751h9.3v3.3h-9.3zM905 751h6.3v3.3h-6.3zM854 754h6.3v3.3h-6.3zM905 754h3.3v3.3h-3.3zM860 757h6.3v3.3h-6.3zM902 757h6.3v3.3h-6.3zM866 760h6.3v3.3h-6.3zM899 760h9.3v3.3h-9.3zM872 763h6.3v3.3h-6.3zM896 763h12.3v3.3h-12.3zM878 766h6.3v3.3h-6.3zM890 766h9.3v3.3h-9.3zM905 766h6.3v3.3h-6.3zM884 769h9.3v3.3h-9.3zM908 769h6.3v3.3h-6.3zM914 772h12.3v3.3h-12.3z"/>
<path fill="#52786c" d="M119 268h15.3v3.3h-15.3zM116 271h18.3v3.3h-18.3zM116 274h18.3v3.3h-18.3zM116 277h18.3v3.3h-18.3zM74 280h21.3v3.3h-21.3zM116 280h18.3v3.3h-18.3zM65 283h39.3v3.3h-39.3zM116 283h18.3v3.3h-18.3zM56 286h48.3v3.3h-48.3zM116 286h18.3v3.3h-18.3zM53 289h51.3v3.3h-51.3zM116 289h18.3v3.3h-18.3zM50 292h54.3v3.3h-54.3zM119 292h12.3v3.3h-12.3zM50 295h54.3v3.3h-54.3zM122 295h9.3v3.3h-9.3zM50 298h51.3v3.3h-51.3zM50 301h48.3v3.3h-48.3zM53 304h45.3v3.3h-45.3zM53 307h42.3v3.3h-42.3zM53 310h42.3v3.3h-42.3zM53 313h42.3v3.3h-42.3zM53 316h42.3v3.3h-42.3zM53 319h42.3v3.3h-42.3zM56 322h42.3v3.3h-42.3zM56 325h42.3v3.3h-42.3zM56 328h45.3v3.3h-45.3zM59 331h42.3v3.3h-42.3zM62 334h42.3v3.3h-42.3zM62 337h42.3v3.3h-42.3zM62 340h39.3v3.3h-39.3zM62 343h39.3v3.3h-39.3zM62 346h36.3v3.3h-36.3zM62 349h33.3v3.3h-33.3zM62 352h33.3v3.3h-33.3zM65 355h27.3v3.3h-27.3zM65 358h27.3v3.3h-27.3zM65 361h27.3v3.3h-27.3zM65 364h27.3v3.3h-27.3zM62 367h30.3v3.3h-30.3zM62 370h30.3v3.3h-30.3zM62 373h33.3v3.3h-33.3zM62 376h33.3v3.3h-33.3zM62 379h33.3v3.3h-33.3zM62 382h33.3v3.3h-33.3zM59 385h39.3v3.3h-39.3zM59 388h39.3v3.3h-39.3zM59 391h39.3v3.3h-39.3zM56 394h45.3v3.3h-45.3zM56 397h45.3v3.3h-45.3zM56 400h45.3v3.3h-45.3zM56 403h45.3v3.3h-45.3zM56 406h45.3v3.3h-45.3zM56 409h42.3v3.3h-42.3zM56 412h42.3v3.3h-42.3zM56 415h45.3v3.3h-45.3zM95 418h6.3v3.3h-6.3zM98 421h6.3v3.3h-6.3zM101 424h3.3v3.3h-3.3zM104 430h3.3v3.3h-3.3zM107 433h3.3v3.3h-3.3zM110 436h3.3v3.3h-3.3zM116 439h3.3v3.3h-3.3zM122 442h3.3v3.3h-3.3zM125 445h6.3v3.3h-6.3zM131 448h3.3v3.3h-3.3zM134 454h3.3v3.3h-3.3zM137 463h3.3v3.3h-3.3zM137 466h3.3v3.3h-3.3zM137 469h3.3v3.3h-3.3zM140 475h3.3v3.3h-3.3zM143 478h3.3v3.3h-3.3zM146 481h6.3v3.3h-6.3zM152 484h6.3v3.3h-6.3zM158 487h3.3v3.3h-3.3zM161 490h3.3v3.3h-3.3zM164 493h3.3v3.3h-3.3zM167 496h3.3v3.3h-3.3zM170 499h3.3v3.3h-3.3zM173 502h3.3v3.3h-3.3zM173 505h3.3v3.3h-3.3zM176 508h3.3v3.3h-3.3zM176 511h3.3v3.3h-3.3zM179 517h3.3v3.3h-3.3zM179 520h3.3v3.3h-3.3zM182 526h3.3v3.3h-3.3zM224 526h15.3v3.3h-15.3zM218 529h3.3v3.3h-3.3zM248 529h9.3v3.3h-9.3zM185 532h3.3v3.3h-3.3zM218 532h3.3v3.3h-3.3zM257 532h6.3v3.3h-6.3zM218 535h3.3v3.3h-3.3zM263 535h6.3v3.3h-6.3zM188 538h3.3v3.3h-3.3zM218 538h3.3v3.3h-3.3zM266 538h6.3v3.3h-6.3zM191 541h3.3v3.3h-3.3zM218 541h3.3v3.3h-3.3zM269 541h6.3v3.3h-6.3zM194 544h3.3v3.3h-3.3zM218 544h3.3v3.3h-3.3zM272 544h6.3v3.3h-6.3zM197 547h3.3v3.3h-3.3zM215 547h6.3v3.3h-6.3zM275 547h3.3v3.3h-3.3zM200 550h3.3v3.3h-3.3zM212 550h6.3v3.3h-6.3zM278 550h3.3v3.3h-3.3zM206 553h6.3v3.3h-6.3zM278 553h3.3v3.3h-3.3zM278 556h3.3v3.3h-3.3zM281 559h3.3v3.3h-3.3zM281 562h3.3v3.3h-3.3zM281 565h3.3v3.3h-3.3zM281 568h3.3v3.3h-3.3zM281 571h3.3v3.3h-3.3zM284 574h3.3v3.3h-3.3zM284 577h3.3v3.3h-3.3zM287 580h3.3v3.3h-3.3zM290 583h3.3v3.3h-3.3zM293 586h3.3v3.3h-3.3zM299 589h3.3v3.3h-3.3zM302 592h6.3v3.3h-6.3zM311 595h3.3v3.3h-3.3zM317 598h6.3v3.3h-6.3zM326 601h3.3v3.3h-3.3zM332 604h3.3v3.3h-3.3zM338 607h3.3v3.3h-3.3zM344 610h3.3v3.3h-3.3zM350 613h3.3v3.3h-3.3zM356 616h3.3v3.3h-3.3zM359 619h6.3v3.3h-6.3zM365 622h3.3v3.3h-3.3zM365 625h3.3v3.3h-3.3zM368 628h3.3v3.3h-3.3zM368 631h3.3v3.3h-3.3zM368 634h3.3v3.3h-3.3zM368 637h3.3v3.3h-3.3zM371 649h3.3v3.3h-3.3zM374 652h6.3v3.3h-6.3zM380 655h6.3v3.3h-6.3zM389 658h6.3v3.3h-6.3zM503 673h9.3v3.3h-9.3zM497 676h21.3v3.3h-21.3zM587 676h6.3v3.3h-6.3zM488 679h30.3v3.3h-30.3zM578 679h36.3v3.3h-36.3zM446 682h6.3v3.3h-6.3zM485 682h36.3v3.3h-36.3zM572 682h57.3v3.3h-57.3zM449 685h9.3v3.3h-9.3zM479 685h42.3v3.3h-42.3zM569 685h27.3v3.3h-27.3zM617 685h18.3v3.3h-18.3zM455 688h9.3v3.3h-9.3zM476 688h48.3v3.3h-48.3zM563 688h24.3v3.3h-24.3zM629 688h9.3v3.3h-9.3zM461 691h66.3v3.3h-66.3zM560 691h21.3v3.3h-21.3zM632 691h9.3v3.3h-9.3zM470 694h12.3v3.3h-12.3zM512 694h15.3v3.3h-15.3zM557 694h12.3v3.3h-12.3zM635 694h6.3v3.3h-6.3zM515 697h15.3v3.3h-15.3zM554 697h12.3v3.3h-12.3zM635 697h6.3v3.3h-6.3zM518 700h15.3v3.3h-15.3zM551 700h9.3v3.3h-9.3zM635 700h6.3v3.3h-6.3zM521 703h36.3v3.3h-36.3zM635 703h3.3v3.3h-3.3zM527 706h27.3v3.3h-27.3zM635 706h3.3v3.3h-3.3zM536 709h9.3v3.3h-9.3zM632 709h6.3v3.3h-6.3zM632 712h9.3v3.3h-9.3zM632 715h9.3v3.3h-9.3zM635 718h9.3v3.3h-9.3zM680 718h36.3v3.3h-36.3zM635 721h96.3v3.3h-96.3zM638 724h15.3v3.3h-15.3zM704 724h39.3v3.3h-39.3zM716 727h36.3v3.3h-36.3zM728 730h27.3v3.3h-27.3zM740 733h12.3v3.3h-12.3zM839 751h6.3v3.3h-6.3zM842 754h12.3v3.3h-12.3zM854 757h6.3v3.3h-6.3zM860 760h6.3v3.3h-6.3zM866 763h6.3v3.3h-6.3zM872 766h6.3v3.3h-6.3zM899 766h6.3v3.3h-6.3zM875 769h9.3v3.3h-9.3zM893 769h15.3v3.3h-15.3zM881 772h15.3v3.3h-15.3zM905 772h9.3v3.3h-9.3zM917 775h9.3v3.3h-9.3z"/>
<path fill="#5e8270" d="M59 418h36.3v3.3h-36.3zM92 421h6.3v3.3h-6.3zM98 424h3.3v3.3h-3.3zM101 427h3.3v3.3h-3.3zM101 430h3.3v3.3h-3.3zM104 433h3.3v3.3h-3.3zM107 436h3.3v3.3h-3.3zM110 439h6.3v3.3h-6.3zM116 442h6.3v3.3h-6.3zM122 445h3.3v3.3h-3.3zM128 448h3.3v3.3h-3.3zM131 451h3.3v3.3h-3.3zM134 457h3.3v3.3h-3.3zM134 460h3.3v3.3h-3.3zM134 463h3.3v3.3h-3.3zM134 466h3.3v3.3h-3.3zM134 469h3.3v3.3h-3.3zM137 472h3.3v3.3h-3.3zM137 475h3.3v3.3h-3.3zM137 478h6.3v3.3h-6.3zM140 481h6.3v3.3h-6.3zM146 484h6.3v3.3h-6.3zM152 487h6.3v3.3h-6.3zM158 490h3.3v3.3h-3.3zM161 493h3.3v3.3h-3.3zM164 496h3.3v3.3h-3.3zM167 499h3.3v3.3h-3.3zM170 502h3.3v3.3h-3.3zM170 505h3.3v3.3h-3.3zM173 508h3.3v3.3h-3.3zM173 511h3.3v3.3h-3.3zM176 514h3.3v3.3h-3.3zM176 517h3.3v3.3h-3.3zM176 520h3.3v3.3h-3.3zM179 523h3.3v3.3h-3.3zM179 526h3.3v3.3h-3.3zM182 529h3.3v3.3h-3.3zM221 529h27.3v3.3h-27.3zM182 532h3.3v3.3h-3.3zM221 532h3.3v3.3h-3.3zM248 532h9.3v3.3h-9.3zM185 535h3.3v3.3h-3.3zM221 535h3.3v3.3h-3.3zM257 535h6.3v3.3h-6.3zM185 538h3.3v3.3h-3.3zM221 538h3.3v3.3h-3.3zM260 538h6.3v3.3h-6.3zM188 541h3.3v3.3h-3.3zM221 541h3.3v3.3h-3.3zM263 541h6.3v3.3h-6.3zM191 544h3.3v3.3h-3.3zM221 544h3.3v3.3h-3.3zM266 544h6.3v3.3h-6.3zM194 547h3.3v3.3h-3.3zM221 547h3.3v3.3h-3.3zM269 547h6.3v3.3h-6.3zM197 550h3.3v3.3h-3.3zM218 550h6.3v3.3h-6.3zM272 550h6.3v3.3h-6.3zM200 553h6.3v3.3h-6.3zM212 553h9.3v3.3h-9.3zM275 553h3.3v3.3h-3.3zM206 556h9.3v3.3h-9.3zM275 556h3.3v3.3h-3.3zM275 559h6.3v3.3h-6.3zM275 562h6.3v3.3h-6.3zM275 565h6.3v3.3h-6.3zM275 568h6.3v3.3h-6.3zM278 571h3.3v3.3h-3.3zM281 574h3.3v3.3h-3.3zM281 577h3.3v3.3h-3.3zM284 580h3.3v3.3h-3.3zM287 583h3.3v3.3h-3.3zM290 586h3.3v3.3h-3.3zM293 589h6.3v3.3h-6.3zM299 592h3.3v3.3h-3.3zM305 595h6.3v3.3h-6.3zM314 598h3.3v3.3h-3.3zM320 601h6.3v3.3h-6.3zM326 604h6.3v3.3h-6.3zM332 607h6.3v3.3h-6.3zM341 610h3.3v3.3h-3.3zM344 613h6.3v3.3h-6.3zM350 616h6.3v3.3h-6.3zM356 619h3.3v3.3h-3.3zM359 622h6.3v3.3h-6.3zM362 625h3.3v3.3h-3.3zM365 628h3.3v3.3h-3.3zM365 631h3.3v3.3h-3.3zM368 640h3.3v3.3h-3.3zM368 643h3.3v3.3h-3.3zM368 646h3.3v3.3h-3.3zM368 649h3.3v3.3h-3.3zM371 652h3.3v3.3h-3.3zM374 655h6.3v3.3h-6.3zM380 658h9.3v3.3h-9.3zM389 661h3.3v3.3h-3.3zM446 685h3.3v3.3h-3.3zM596 685h21.3v3.3h-21.3zM449 688h6.3v3.3h-6.3zM587 688h42.3v3.3h-42.3zM455 691h6.3v3.3h-6.3zM581 691h27.3v3.3h-27.3zM620 691h12.3v3.3h-12.3zM461 694h9.3v3.3h-9.3zM482 694h30.3v3.3h-30.3zM569 694h27.3v3.3h-27.3zM626 694h9.3v3.3h-9.3zM467 697h48.3v3.3h-48.3zM566 697h21.3v3.3h-21.3zM629 697h6.3v3.3h-6.3zM476 700h18.3v3.3h-18.3zM500 700h18.3v3.3h-18.3zM560 700h12.3v3.3h-12.3zM629 700h6.3v3.3h-6.3zM512 703h9.3v3.3h-9.3zM557 703h9.3v3.3h-9.3zM629 703h6.3v3.3h-6.3zM515 706h12.3v3.3h-12.3zM554 706h9.3v3.3h-9.3zM629 706h6.3v3.3h-6.3zM515 709h21.3v3.3h-21.3zM545 709h15.3v3.3h-15.3zM629 709h3.3v3.3h-3.3zM524 712h30.3v3.3h-30.3zM626 712h6.3v3.3h-6.3zM539 715h3.3v3.3h-3.3zM626 715h6.3v3.3h-6.3zM626 718h9.3v3.3h-9.3zM626 721h9.3v3.3h-9.3zM629 724h9.3v3.3h-9.3zM668 724h36.3v3.3h-36.3zM629 727h21.3v3.3h-21.3zM674 727h42.3v3.3h-42.3zM632 730h15.3v3.3h-15.3zM689 730h39.3v3.3h-39.3zM701 733h39.3v3.3h-39.3zM713 736h30.3v3.3h-30.3zM725 739h6.3v3.3h-6.3zM842 757h12.3v3.3h-12.3zM845 760h15.3v3.3h-15.3zM845 763h21.3v3.3h-21.3zM845 766h9.3v3.3h-9.3zM860 766h12.3v3.3h-12.3zM869 769h6.3v3.3h-6.3zM872 772h9.3v3.3h-9.3zM896 772h9.3v3.3h-9.3zM875 775h42.3v3.3h-42.3zM881 778h9.3v3.3h-9.3z"/>
<path fill="#6a8a74" d="M59 421h33.3v3.3h-33.3zM59 424h39.3v3.3h-39.3zM95 427h6.3v3.3h-6.3zM98 430h3.3v3.3h-3.3zM101 433h3.3v3.3h-3.3zM101 436h6.3v3.3h-6.3zM107 439h3.3v3.3h-3.3zM110 442h6.3v3.3h-6.3zM116 445h6.3v3.3h-6.3zM125 448h3.3v3.3h-3.3zM128 451h3.3v3.3h-3.3zM131 454h3.3v3.3h-3.3zM131 457h3.3v3.3h-3.3zM134 472h3.3v3.3h-3.3zM134 475h3.3v3.3h-3.3zM134 478h3.3v3.3h-3.3zM137 481h3.3v3.3h-3.3zM140 484h6.3v3.3h-6.3zM143 487h9.3v3.3h-9.3zM152 490h6.3v3.3h-6.3zM158 493h3.3v3.3h-3.3zM161 496h3.3v3.3h-3.3zM164 499h3.3v3.3h-3.3zM167 502h3.3v3.3h-3.3zM167 505h3.3v3.3h-3.3zM170 508h3.3v3.3h-3.3zM170 511h3.3v3.3h-3.3zM173 514h3.3v3.3h-3.3zM173 517h3.3v3.3h-3.3zM176 523h3.3v3.3h-3.3zM176 526h3.3v3.3h-3.3zM179 529h3.3v3.3h-3.3zM179 532h3.3v3.3h-3.3zM224 532h24.3v3.3h-24.3zM182 535h3.3v3.3h-3.3zM224 535h3.3v3.3h-3.3zM248 535h9.3v3.3h-9.3zM224 538h3.3v3.3h-3.3zM254 538h6.3v3.3h-6.3zM185 541h3.3v3.3h-3.3zM224 541h3.3v3.3h-3.3zM257 541h6.3v3.3h-6.3zM188 544h3.3v3.3h-3.3zM224 544h3.3v3.3h-3.3zM260 544h6.3v3.3h-6.3zM191 547h3.3v3.3h-3.3zM224 547h3.3v3.3h-3.3zM263 547h6.3v3.3h-6.3zM191 550h6.3v3.3h-6.3zM224 550h3.3v3.3h-3.3zM266 550h6.3v3.3h-6.3zM194 553h6.3v3.3h-6.3zM221 553h6.3v3.3h-6.3zM269 553h6.3v3.3h-6.3zM200 556h6.3v3.3h-6.3zM215 556h12.3v3.3h-12.3zM269 556h6.3v3.3h-6.3zM206 559h15.3v3.3h-15.3zM269 559h6.3v3.3h-6.3zM269 562h6.3v3.3h-6.3zM269 565h6.3v3.3h-6.3zM272 568h3.3v3.3h-3.3zM275 571h3.3v3.3h-3.3zM278 574h3.3v3.3h-3.3zM281 580h3.3v3.3h-3.3zM284 583h3.3v3.3h-3.3zM287 586h3.3v3.3h-3.3zM290 589h3.3v3.3h-3.3zM296 592h3.3v3.3h-3.3zM302 595h3.3v3.3h-3.3zM308 598h6.3v3.3h-6.3zM317 601h3.3v3.3h-3.3zM323 604h3.3v3.3h-3.3zM329 607h3.3v3.3h-3.3zM335 610h6.3v3.3h-6.3zM341 613h3.3v3.3h-3.3zM347 616h3.3v3.3h-3.3zM353 619h3.3v3.3h-3.3zM356 622h3.3v3.3h-3.3zM359 625h3.3v3.3h-3.3zM362 628h3.3v3.3h-3.3zM365 634h3.3v3.3h-3.3zM365 637h3.3v3.3h-3.3zM365 640h3.3v3.3h-3.3zM365 643h3.3v3.3h-3.3zM365 646h3.3v3.3h-3.3zM365 649h3.3v3.3h-3.3zM365 652h6.3v3.3h-6.3zM368 655h6.3v3.3h-6.3zM374 658h6.3v3.3h-6.3zM383 661h6.3v3.3h-6.3zM449 691h6.3v3.3h-6.3zM608 691h12.3v3.3h-12.3zM452 694h9.3v3.3h-9.3zM596 694h30.3v3.3h-30.3zM458 697h9.3v3.3h-9.3zM587 697h21.3v3.3h-21.3zM617 697h12.3v3.3h-12.3zM464 700h12.3v3.3h-12.3zM572 700h24.3v3.3h-24.3zM620 700h9.3v3.3h-9.3zM473 703h18.3v3.3h-18.3zM566 703h21.3v3.3h-21.3zM623 703h6.3v3.3h-6.3zM479 706h9.3v3.3h-9.3zM563 706h9.3v3.3h-9.3zM623 706h6.3v3.3h-6.3zM560 709h6.3v3.3h-6.3zM623 709h6.3v3.3h-6.3zM518 712h6.3v3.3h-6.3zM554 712h9.3v3.3h-9.3zM623 712h3.3v3.3h-3.3zM521 715h18.3v3.3h-18.3zM542 715h18.3v3.3h-18.3zM623 715h3.3v3.3h-3.3zM524 718h30.3v3.3h-30.3zM620 718h6.3v3.3h-6.3zM539 721h3.3v3.3h-3.3zM620 721h6.3v3.3h-6.3zM620 724h9.3v3.3h-9.3zM620 727h9.3v3.3h-9.3zM623 730h9.3v3.3h-9.3zM683 730h6.3v3.3h-6.3zM623 733h21.3v3.3h-21.3zM692 733h9.3v3.3h-9.3zM626 736h15.3v3.3h-15.3zM707 736h6.3v3.3h-6.3zM722 739h3.3v3.3h-3.3zM854 766h6.3v3.3h-6.3zM848 769h21.3v3.3h-21.3zM848 772h24.3v3.3h-24.3zM851 775h24.3v3.3h-24.3zM851 778h30.3v3.3h-30.3zM890 778h36.3v3.3h-36.3zM851 781h45.3v3.3h-45.3zM857 784h30.3v3.3h-30.3zM854 787h24.3v3.3h-24.3zM854 790h24.3v3.3h-24.3zM854 793h24.3v3.3h-24.3zM848 796h30.3v3.3h-30.3zM845 799h33.3v3.3h-33.3zM842 802h33.3v3.3h-33.3zM842 805h33.3v3.3h-33.3zM842 808h30.3v3.3h-30.3zM842 811h30.3v3.3h-30.3zM842 814h27.3v3.3h-27.3zM839 817h30.3v3.3h-30.3zM842 820h27.3v3.3h-27.3zM842 823h24.3v3.3h-24.3zM842 826h24.3v3.3h-24.3zM845 829h18.3v3.3h-18.3zM848 832h15.3v3.3h-15.3zM860 835h3.3v3.3h-3.3z"/>
<path fill="#789478" d="M59 427h36.3v3.3h-36.3zM89 430h9.3v3.3h-9.3zM95 433h6.3v3.3h-6.3zM98 436h3.3v3.3h-3.3zM98 439h9.3v3.3h-9.3zM104 442h6.3v3.3h-6.3zM110 445h6.3v3.3h-6.3zM119 448h6.3v3.3h-6.3zM125 451h3.3v3.3h-3.3zM128 454h3.3v3.3h-3.3zM131 460h3.3v3.3h-3.3zM131 463h3.3v3.3h-3.3zM131 466h3.3v3.3h-3.3zM131 469h3.3v3.3h-3.3zM131 472h3.3v3.3h-3.3zM131 475h3.3v3.3h-3.3zM131 478h3.3v3.3h-3.3zM131 481h6.3v3.3h-6.3zM134 484h6.3v3.3h-6.3zM134 487h9.3v3.3h-9.3zM137 490h15.3v3.3h-15.3zM140 493h18.3v3.3h-18.3zM155 496h6.3v3.3h-6.3zM161 499h3.3v3.3h-3.3zM164 502h3.3v3.3h-3.3zM164 505h3.3v3.3h-3.3zM167 508h3.3v3.3h-3.3zM167 511h3.3v3.3h-3.3zM170 514h3.3v3.3h-3.3zM170 517h3.3v3.3h-3.3zM173 520h3.3v3.3h-3.3zM173 523h3.3v3.3h-3.3zM173 526h3.3v3.3h-3.3zM176 529h3.3v3.3h-3.3zM176 532h3.3v3.3h-3.3zM179 535h3.3v3.3h-3.3zM227 535h21.3v3.3h-21.3zM179 538h6.3v3.3h-6.3zM227 538h6.3v3.3h-6.3zM242 538h12.3v3.3h-12.3zM182 541h3.3v3.3h-3.3zM227 541h6.3v3.3h-6.3zM248 541h9.3v3.3h-9.3zM185 544h3.3v3.3h-3.3zM227 544h6.3v3.3h-6.3zM251 544h9.3v3.3h-9.3zM185 547h6.3v3.3h-6.3zM227 547h6.3v3.3h-6.3zM254 547h9.3v3.3h-9.3zM188 550h3.3v3.3h-3.3zM227 550h9.3v3.3h-9.3zM257 550h9.3v3.3h-9.3zM191 553h3.3v3.3h-3.3zM227 553h12.3v3.3h-12.3zM257 553h12.3v3.3h-12.3zM194 556h6.3v3.3h-6.3zM227 556h12.3v3.3h-12.3zM260 556h9.3v3.3h-9.3zM197 559h9.3v3.3h-9.3zM221 559h15.3v3.3h-15.3zM260 559h9.3v3.3h-9.3zM203 562h27.3v3.3h-27.3zM260 562h9.3v3.3h-9.3zM209 565h15.3v3.3h-15.3zM260 565h9.3v3.3h-9.3zM212 568h9.3v3.3h-9.3zM263 568h9.3v3.3h-9.3zM212 571h9.3v3.3h-9.3zM266 571h9.3v3.3h-9.3zM212 574h9.3v3.3h-9.3zM272 574h6.3v3.3h-6.3zM212 577h9.3v3.3h-9.3zM275 577h6.3v3.3h-6.3zM215 580h3.3v3.3h-3.3zM284 586h3.3v3.3h-3.3zM287 589h3.3v3.3h-3.3zM293 592h3.3v3.3h-3.3zM296 595h6.3v3.3h-6.3zM302 598h6.3v3.3h-6.3zM311 601h6.3v3.3h-6.3zM320 604h3.3v3.3h-3.3zM326 607h3.3v3.3h-3.3zM332 610h3.3v3.3h-3.3zM338 613h3.3v3.3h-3.3zM344 616h3.3v3.3h-3.3zM347 619h6.3v3.3h-6.3zM353 622h3.3v3.3h-3.3zM356 625h3.3v3.3h-3.3zM359 628h3.3v3.3h-3.3zM359 631h6.3v3.3h-6.3zM362 634h3.3v3.3h-3.3zM362 637h3.3v3.3h-3.3zM362 640h3.3v3.3h-3.3zM362 643h3.3v3.3h-3.3zM362 646h3.3v3.3h-3.3zM362 649h3.3v3.3h-3.3zM362 652h3.3v3.3h-3.3zM365 655h3.3v3.3h-3.3zM368 658h6.3v3.3h-6.3zM377 661h6.3v3.3h-6.3zM383 664h6.3v3.3h-6.3zM455 697h3.3v3.3h-3.3zM608 697h9.3v3.3h-9.3zM458 700h6.3v3.3h-6.3zM596 700h24.3v3.3h-24.3zM464 703h9.3v3.3h-9.3zM587 703h36.3v3.3h-36.3zM470 706h9.3v3.3h-9.3zM572 706h24.3v3.3h-24.3zM614 706h9.3v3.3h-9.3zM479 709h9.3v3.3h-9.3zM566 709h18.3v3.3h-18.3zM614 709h9.3v3.3h-9.3zM563 712h9.3v3.3h-9.3zM617 712h6.3v3.3h-6.3zM560 715h9.3v3.3h-9.3zM617 715h6.3v3.3h-6.3zM521 718h3.3v3.3h-3.3zM554 718h12.3v3.3h-12.3zM617 718h3.3v3.3h-3.3zM524 721h15.3v3.3h-15.3zM542 721h18.3v3.3h-18.3zM614 721h6.3v3.3h-6.3zM524 724h33.3v3.3h-33.3zM614 724h6.3v3.3h-6.3zM536 727h12.3v3.3h-12.3zM614 727h6.3v3.3h-6.3zM614 730h9.3v3.3h-9.3zM614 733h9.3v3.3h-9.3zM617 736h9.3v3.3h-9.3zM617 739h18.3v3.3h-18.3zM623 742h6.3v3.3h-6.3zM896 781h30.3v3.3h-30.3zM854 784h3.3v3.3h-3.3zM887 784h39.3v3.3h-39.3zM878 787h18.3v3.3h-18.3zM878 790h15.3v3.3h-15.3zM878 793h12.3v3.3h-12.3zM878 796h9.3v3.3h-9.3zM878 799h9.3v3.3h-9.3zM875 802h9.3v3.3h-9.3zM875 805h9.3v3.3h-9.3zM872 808h9.3v3.3h-9.3zM872 811h9.3v3.3h-9.3zM869 814h9.3v3.3h-9.3zM869 817h9.3v3.3h-9.3zM869 820h6.3v3.3h-6.3zM866 823h9.3v3.3h-9.3zM866 826h9.3v3.3h-9.3zM863 829h9.3v3.3h-9.3zM863 832h9.3v3.3h-9.3zM863 835h9.3v3.3h-9.3z"/>
<path fill="#88a07e" d="M59 430h30.3v3.3h-30.3zM59 433h36.3v3.3h-36.3zM62 436h36.3v3.3h-36.3zM62 439h36.3v3.3h-36.3zM62 442h42.3v3.3h-42.3zM62 445h48.3v3.3h-48.3zM62 448h36.3v3.3h-36.3zM107 448h12.3v3.3h-12.3zM62 451h30.3v3.3h-30.3zM119 451h6.3v3.3h-6.3zM62 454h27.3v3.3h-27.3zM125 454h3.3v3.3h-3.3zM62 457h24.3v3.3h-24.3zM128 457h3.3v3.3h-3.3zM65 460h12.3v3.3h-12.3zM128 460h3.3v3.3h-3.3zM128 463h3.3v3.3h-3.3zM128 466h3.3v3.3h-3.3zM128 469h3.3v3.3h-3.3zM128 472h3.3v3.3h-3.3zM128 475h3.3v3.3h-3.3zM125 478h6.3v3.3h-6.3zM125 481h6.3v3.3h-6.3zM125 484h9.3v3.3h-9.3zM128 487h6.3v3.3h-6.3zM128 490h9.3v3.3h-9.3zM131 493h9.3v3.3h-9.3zM131 496h24.3v3.3h-24.3zM134 499h27.3v3.3h-27.3zM137 502h12.3v3.3h-12.3zM155 502h9.3v3.3h-9.3zM161 505h3.3v3.3h-3.3zM161 508h6.3v3.3h-6.3zM164 511h3.3v3.3h-3.3zM167 514h3.3v3.3h-3.3zM167 517h3.3v3.3h-3.3zM167 520h6.3v3.3h-6.3zM170 523h3.3v3.3h-3.3zM170 526h3.3v3.3h-3.3zM173 529h3.3v3.3h-3.3zM173 532h3.3v3.3h-3.3zM176 535h3.3v3.3h-3.3zM176 538h3.3v3.3h-3.3zM233 538h9.3v3.3h-9.3zM179 541h3.3v3.3h-3.3zM233 541h15.3v3.3h-15.3zM179 544h6.3v3.3h-6.3zM233 544h18.3v3.3h-18.3zM182 547h3.3v3.3h-3.3zM233 547h21.3v3.3h-21.3zM182 550h6.3v3.3h-6.3zM236 550h21.3v3.3h-21.3zM185 553h6.3v3.3h-6.3zM239 553h18.3v3.3h-18.3zM188 556h6.3v3.3h-6.3zM239 556h21.3v3.3h-21.3zM191 559h6.3v3.3h-6.3zM236 559h24.3v3.3h-24.3zM194 562h9.3v3.3h-9.3zM230 562h30.3v3.3h-30.3zM200 565h9.3v3.3h-9.3zM224 565h36.3v3.3h-36.3zM203 568h9.3v3.3h-9.3zM221 568h18.3v3.3h-18.3zM251 568h12.3v3.3h-12.3zM206 571h6.3v3.3h-6.3zM221 571h9.3v3.3h-9.3zM257 571h9.3v3.3h-9.3zM206 574h6.3v3.3h-6.3zM221 574h9.3v3.3h-9.3zM263 574h9.3v3.3h-9.3zM206 577h6.3v3.3h-6.3zM221 577h6.3v3.3h-6.3zM272 577h3.3v3.3h-3.3zM209 580h6.3v3.3h-6.3zM218 580h9.3v3.3h-9.3zM278 580h3.3v3.3h-3.3zM212 583h12.3v3.3h-12.3zM281 583h3.3v3.3h-3.3zM284 589h3.3v3.3h-3.3zM287 592h6.3v3.3h-6.3zM293 595h3.3v3.3h-3.3zM299 598h3.3v3.3h-3.3zM305 601h6.3v3.3h-6.3zM314 604h6.3v3.3h-6.3zM320 607h6.3v3.3h-6.3zM326 610h6.3v3.3h-6.3zM332 613h6.3v3.3h-6.3zM338 616h6.3v3.3h-6.3zM344 619h3.3v3.3h-3.3zM347 622h6.3v3.3h-6.3zM350 625h6.3v3.3h-6.3zM353 628h6.3v3.3h-6.3zM356 631h3.3v3.3h-3.3zM356 634h6.3v3.3h-6.3zM359 637h3.3v3.3h-3.3zM359 640h3.3v3.3h-3.3zM359 643h3.3v3.3h-3.3zM359 646h3.3v3.3h-3.3zM359 649h3.3v3.3h-3.3zM359 652h3.3v3.3h-3.3zM362 655h3.3v3.3h-3.3zM365 658h3.3v3.3h-3.3zM368 661h9.3v3.3h-9.3zM377 664h6.3v3.3h-6.3zM461 703h3.3v3.3h-3.3zM464 706h6.3v3.3h-6.3zM596 706h18.3v3.3h-18.3zM470 709h9.3v3.3h-9.3zM584 709h30.3v3.3h-30.3zM476 712h9.3v3.3h-9.3zM572 712h24.3v3.3h-24.3zM605 712h12.3v3.3h-12.3zM569 715h12.3v3.3h-12.3zM608 715h9.3v3.3h-9.3zM566 718h9.3v3.3h-9.3zM608 718h9.3v3.3h-9.3zM560 721h12.3v3.3h-12.3zM608 721h6.3v3.3h-6.3zM557 724h12.3v3.3h-12.3zM608 724h6.3v3.3h-6.3zM527 727h9.3v3.3h-9.3zM548 727h18.3v3.3h-18.3zM608 727h6.3v3.3h-6.3zM527 730h33.3v3.3h-33.3zM608 730h6.3v3.3h-6.3zM530 733h27.3v3.3h-27.3zM608 733h6.3v3.3h-6.3zM608 736h9.3v3.3h-9.3zM608 739h9.3v3.3h-9.3zM611 742h12.3v3.3h-12.3zM611 745h9.3v3.3h-9.3zM896 787h30.3v3.3h-30.3zM893 790h33.3v3.3h-33.3zM890 793h36.3v3.3h-36.3zM887 796h36.3v3.3h-36.3zM887 799h36.3v3.3h-36.3zM884 802h39.3v3.3h-39.3zM884 805h36.3v3.3h-36.3zM881 808h39.3v3.3h-39.3zM881 811h36.3v3.3h-36.3zM878 814h39.3v3.3h-39.3zM878 817h36.3v3.3h-36.3zM875 820h36.3v3.3h-36.3zM875 823h33.3v3.3h-33.3zM875 826h30.3v3.3h-30.3zM872 829h27.3v3.3h-27.3zM872 832h21.3v3.3h-21.3zM872 835h9.3v3.3h-9.3z"/>
<path fill="#98ac84" d="M98 448h9.3v3.3h-9.3zM92 451h27.3v3.3h-27.3zM89 454h36.3v3.3h-36.3zM86 457h18.3v3.3h-18.3zM122 457h6.3v3.3h-6.3zM77 460h18.3v3.3h-18.3zM125 460h3.3v3.3h-3.3zM65 463h24.3v3.3h-24.3zM125 463h3.3v3.3h-3.3zM65 466h12.3v3.3h-12.3zM125 466h3.3v3.3h-3.3zM122 469h6.3v3.3h-6.3zM119 472h9.3v3.3h-9.3zM119 475h9.3v3.3h-9.3zM119 478h6.3v3.3h-6.3zM119 481h6.3v3.3h-6.3zM119 484h6.3v3.3h-6.3zM119 487h9.3v3.3h-9.3zM119 490h9.3v3.3h-9.3zM122 493h9.3v3.3h-9.3zM122 496h9.3v3.3h-9.3zM125 499h9.3v3.3h-9.3zM128 502h9.3v3.3h-9.3zM149 502h6.3v3.3h-6.3zM131 505h30.3v3.3h-30.3zM134 508h27.3v3.3h-27.3zM158 511h6.3v3.3h-6.3zM161 514h6.3v3.3h-6.3zM164 517h3.3v3.3h-3.3zM164 520h3.3v3.3h-3.3zM164 523h6.3v3.3h-6.3zM167 526h3.3v3.3h-3.3zM167 529h6.3v3.3h-6.3zM170 532h3.3v3.3h-3.3zM170 535h6.3v3.3h-6.3zM170 538h6.3v3.3h-6.3zM173 541h6.3v3.3h-6.3zM173 544h6.3v3.3h-6.3zM176 547h6.3v3.3h-6.3zM176 550h6.3v3.3h-6.3zM179 553h6.3v3.3h-6.3zM182 556h6.3v3.3h-6.3zM185 559h6.3v3.3h-6.3zM188 562h6.3v3.3h-6.3zM191 565h9.3v3.3h-9.3zM194 568h9.3v3.3h-9.3zM239 568h12.3v3.3h-12.3zM200 571h6.3v3.3h-6.3zM230 571h27.3v3.3h-27.3zM200 574h6.3v3.3h-6.3zM230 574h9.3v3.3h-9.3zM251 574h12.3v3.3h-12.3zM203 577h3.3v3.3h-3.3zM227 577h6.3v3.3h-6.3zM257 577h15.3v3.3h-15.3zM206 580h3.3v3.3h-3.3zM227 580h3.3v3.3h-3.3zM272 580h6.3v3.3h-6.3zM209 583h3.3v3.3h-3.3zM224 583h3.3v3.3h-3.3zM278 583h3.3v3.3h-3.3zM212 586h12.3v3.3h-12.3zM281 586h3.3v3.3h-3.3zM284 592h3.3v3.3h-3.3zM287 595h6.3v3.3h-6.3zM293 598h6.3v3.3h-6.3zM299 601h6.3v3.3h-6.3zM308 604h6.3v3.3h-6.3zM317 607h3.3v3.3h-3.3zM323 610h3.3v3.3h-3.3zM329 613h3.3v3.3h-3.3zM332 616h6.3v3.3h-6.3zM338 619h6.3v3.3h-6.3zM341 622h6.3v3.3h-6.3zM347 625h3.3v3.3h-3.3zM347 628h6.3v3.3h-6.3zM350 631h6.3v3.3h-6.3zM353 634h3.3v3.3h-3.3zM353 637h6.3v3.3h-6.3zM353 640h6.3v3.3h-6.3zM353 643h6.3v3.3h-6.3zM356 646h3.3v3.3h-3.3zM356 649h3.3v3.3h-3.3zM356 652h3.3v3.3h-3.3zM356 655h6.3v3.3h-6.3zM359 658h6.3v3.3h-6.3zM362 661h6.3v3.3h-6.3zM368 664h9.3v3.3h-9.3zM467 709h3.3v3.3h-3.3zM473 712h3.3v3.3h-3.3zM596 712h9.3v3.3h-9.3zM476 715h6.3v3.3h-6.3zM581 715h27.3v3.3h-27.3zM575 718h33.3v3.3h-33.3zM572 721h12.3v3.3h-12.3zM596 721h12.3v3.3h-12.3zM569 724h9.3v3.3h-9.3zM599 724h9.3v3.3h-9.3zM566 727h9.3v3.3h-9.3zM602 727h6.3v3.3h-6.3zM560 730h12.3v3.3h-12.3zM602 730h6.3v3.3h-6.3zM557 733h12.3v3.3h-12.3zM602 733h6.3v3.3h-6.3zM533 736h33.3v3.3h-33.3zM602 736h6.3v3.3h-6.3zM536 739h27.3v3.3h-27.3zM602 739h6.3v3.3h-6.3zM545 742h12.3v3.3h-12.3zM602 742h9.3v3.3h-9.3zM602 745h9.3v3.3h-9.3zM605 748h9.3v3.3h-9.3zM605 751h9.3v3.3h-9.3z"/>
<path fill="#a6b688" d="M104 457h18.3v3.3h-18.3zM95 460h30.3v3.3h-30.3zM89 463h36.3v3.3h-36.3zM77 466h48.3v3.3h-48.3zM68 469h54.3v3.3h-54.3zM68 472h51.3v3.3h-51.3zM98 475h21.3v3.3h-21.3zM104 478h15.3v3.3h-15.3zM107 481h12.3v3.3h-12.3zM107 484h12.3v3.3h-12.3zM110 487h9.3v3.3h-9.3zM110 490h9.3v3.3h-9.3zM110 493h12.3v3.3h-12.3zM113 496h9.3v3.3h-9.3zM113 499h12.3v3.3h-12.3zM110 502h18.3v3.3h-18.3zM107 505h24.3v3.3h-24.3zM104 508h30.3v3.3h-30.3zM101 511h15.3v3.3h-15.3zM125 511h33.3v3.3h-33.3zM98 514h18.3v3.3h-18.3zM131 514h30.3v3.3h-30.3zM98 517h15.3v3.3h-15.3zM155 517h9.3v3.3h-9.3zM95 520h15.3v3.3h-15.3zM158 520h6.3v3.3h-6.3zM95 523h12.3v3.3h-12.3zM158 523h6.3v3.3h-6.3zM98 526h3.3v3.3h-3.3zM161 526h6.3v3.3h-6.3zM161 529h6.3v3.3h-6.3zM164 532h6.3v3.3h-6.3zM164 535h6.3v3.3h-6.3zM164 538h6.3v3.3h-6.3zM167 541h6.3v3.3h-6.3zM167 544h6.3v3.3h-6.3zM167 547h9.3v3.3h-9.3zM170 550h6.3v3.3h-6.3zM170 553h9.3v3.3h-9.3zM173 556h9.3v3.3h-9.3zM173 559h12.3v3.3h-12.3zM176 562h12.3v3.3h-12.3zM179 565h12.3v3.3h-12.3zM182 568h12.3v3.3h-12.3zM185 571h15.3v3.3h-15.3zM194 574h6.3v3.3h-6.3zM239 574h12.3v3.3h-12.3zM200 577h3.3v3.3h-3.3zM233 577h24.3v3.3h-24.3zM203 580h3.3v3.3h-3.3zM230 580h9.3v3.3h-9.3zM254 580h18.3v3.3h-18.3zM206 583h3.3v3.3h-3.3zM227 583h6.3v3.3h-6.3zM272 583h6.3v3.3h-6.3zM209 586h3.3v3.3h-3.3zM224 586h6.3v3.3h-6.3zM278 586h3.3v3.3h-3.3zM215 589h9.3v3.3h-9.3zM281 589h3.3v3.3h-3.3zM281 592h3.3v3.3h-3.3zM284 595h3.3v3.3h-3.3zM287 598h6.3v3.3h-6.3zM293 601h6.3v3.3h-6.3zM302 604h6.3v3.3h-6.3zM311 607h6.3v3.3h-6.3zM320 610h3.3v3.3h-3.3zM323 613h6.3v3.3h-6.3zM329 616h3.3v3.3h-3.3zM332 619h6.3v3.3h-6.3zM338 622h3.3v3.3h-3.3zM341 625h6.3v3.3h-6.3zM344 628h3.3v3.3h-3.3zM344 631h6.3v3.3h-6.3zM347 634h6.3v3.3h-6.3zM347 637h6.3v3.3h-6.3zM347 640h6.3v3.3h-6.3zM350 643h3.3v3.3h-3.3zM350 646h6.3v3.3h-6.3zM350 649h6.3v3.3h-6.3zM350 652h6.3v3.3h-6.3zM353 655h3.3v3.3h-3.3zM353 658h6.3v3.3h-6.3zM359 661h3.3v3.3h-3.3zM362 664h6.3v3.3h-6.3zM584 721h12.3v3.3h-12.3zM578 724h21.3v3.3h-21.3zM575 727h27.3v3.3h-27.3zM572 730h30.3v3.3h-30.3zM569 733h33.3v3.3h-33.3zM566 736h12.3v3.3h-12.3zM590 736h12.3v3.3h-12.3zM563 739h12.3v3.3h-12.3zM593 739h9.3v3.3h-9.3zM536 742h9.3v3.3h-9.3zM557 742h15.3v3.3h-15.3zM593 742h9.3v3.3h-9.3zM539 745h30.3v3.3h-30.3zM596 745h6.3v3.3h-6.3zM542 748h24.3v3.3h-24.3zM596 748h9.3v3.3h-9.3zM596 751h9.3v3.3h-9.3zM596 754h21.3v3.3h-21.3zM599 757h18.3v3.3h-18.3zM614 760h3.3v3.3h-3.3z"/>
<path fill="#b2be8c" d="M71 475h27.3v3.3h-27.3zM71 478h33.3v3.3h-33.3zM71 481h36.3v3.3h-36.3zM71 484h36.3v3.3h-36.3zM71 487h39.3v3.3h-39.3zM74 490h36.3v3.3h-36.3zM74 493h36.3v3.3h-36.3zM74 496h39.3v3.3h-39.3zM74 499h39.3v3.3h-39.3zM77 502h33.3v3.3h-33.3zM77 505h30.3v3.3h-30.3zM80 508h24.3v3.3h-24.3zM80 511h21.3v3.3h-21.3zM116 511h9.3v3.3h-9.3zM83 514h15.3v3.3h-15.3zM116 514h15.3v3.3h-15.3zM86 517h12.3v3.3h-12.3zM113 517h42.3v3.3h-42.3zM86 520h9.3v3.3h-9.3zM110 520h48.3v3.3h-48.3zM89 523h6.3v3.3h-6.3zM107 523h51.3v3.3h-51.3zM92 526h6.3v3.3h-6.3zM101 526h60.3v3.3h-60.3zM92 529h69.3v3.3h-69.3zM95 532h39.3v3.3h-39.3zM143 532h21.3v3.3h-21.3zM98 535h30.3v3.3h-30.3zM149 535h15.3v3.3h-15.3zM101 538h24.3v3.3h-24.3zM152 538h12.3v3.3h-12.3zM104 541h15.3v3.3h-15.3zM152 541h15.3v3.3h-15.3zM104 544h9.3v3.3h-9.3zM155 544h12.3v3.3h-12.3zM155 547h12.3v3.3h-12.3zM155 550h15.3v3.3h-15.3zM158 553h12.3v3.3h-12.3zM158 556h15.3v3.3h-15.3zM161 559h12.3v3.3h-12.3zM164 562h12.3v3.3h-12.3zM167 565h12.3v3.3h-12.3zM170 568h12.3v3.3h-12.3zM173 571h12.3v3.3h-12.3zM176 574h18.3v3.3h-18.3zM179 577h21.3v3.3h-21.3zM197 580h6.3v3.3h-6.3zM239 580h15.3v3.3h-15.3zM203 583h3.3v3.3h-3.3zM233 583h39.3v3.3h-39.3zM206 586h3.3v3.3h-3.3zM230 586h6.3v3.3h-6.3zM272 586h6.3v3.3h-6.3zM209 589h6.3v3.3h-6.3zM224 589h6.3v3.3h-6.3zM278 589h3.3v3.3h-3.3zM218 592h6.3v3.3h-6.3zM278 592h3.3v3.3h-3.3zM281 595h3.3v3.3h-3.3zM284 598h3.3v3.3h-3.3zM287 601h6.3v3.3h-6.3zM293 604h9.3v3.3h-9.3zM302 607h9.3v3.3h-9.3zM314 610h6.3v3.3h-6.3zM320 613h3.3v3.3h-3.3zM323 616h6.3v3.3h-6.3zM329 619h3.3v3.3h-3.3zM332 622h6.3v3.3h-6.3zM335 625h6.3v3.3h-6.3zM338 628h6.3v3.3h-6.3zM338 631h6.3v3.3h-6.3zM341 634h6.3v3.3h-6.3zM341 637h6.3v3.3h-6.3zM344 640h3.3v3.3h-3.3zM344 643h6.3v3.3h-6.3zM344 646h6.3v3.3h-6.3zM344 649h6.3v3.3h-6.3zM344 652h6.3v3.3h-6.3zM344 655h9.3v3.3h-9.3zM347 658h6.3v3.3h-6.3zM350 661h9.3v3.3h-9.3zM356 664h6.3v3.3h-6.3zM578 736h12.3v3.3h-12.3zM575 739h18.3v3.3h-18.3zM572 742h21.3v3.3h-21.3zM569 745h27.3v3.3h-27.3zM566 748h30.3v3.3h-30.3zM542 751h54.3v3.3h-54.3zM542 754h33.3v3.3h-33.3zM587 754h9.3v3.3h-9.3zM545 757h24.3v3.3h-24.3zM587 757h12.3v3.3h-12.3zM545 760h3.3v3.3h-3.3zM554 760h9.3v3.3h-9.3zM590 760h24.3v3.3h-24.3zM548 763h3.3v3.3h-3.3zM593 763h24.3v3.3h-24.3zM551 766h6.3v3.3h-6.3zM605 766h12.3v3.3h-12.3zM554 769h3.3v3.3h-3.3z"/>
<path fill="#c0c890" d="M134 532h9.3v3.3h-9.3zM128 535h21.3v3.3h-21.3zM125 538h27.3v3.3h-27.3zM119 541h33.3v3.3h-33.3zM113 544h42.3v3.3h-42.3zM107 547h48.3v3.3h-48.3zM110 550h45.3v3.3h-45.3zM110 553h48.3v3.3h-48.3zM113 556h45.3v3.3h-45.3zM113 559h48.3v3.3h-48.3zM116 562h48.3v3.3h-48.3zM119 565h48.3v3.3h-48.3zM119 568h30.3v3.3h-30.3zM155 568h15.3v3.3h-15.3zM122 571h21.3v3.3h-21.3zM158 571h15.3v3.3h-15.3zM125 574h15.3v3.3h-15.3zM161 574h15.3v3.3h-15.3zM128 577h6.3v3.3h-6.3zM164 577h15.3v3.3h-15.3zM164 580h33.3v3.3h-33.3zM167 583h15.3v3.3h-15.3zM197 583h6.3v3.3h-6.3zM203 586h3.3v3.3h-3.3zM236 586h36.3v3.3h-36.3zM206 589h3.3v3.3h-3.3zM230 589h9.3v3.3h-9.3zM272 589h6.3v3.3h-6.3zM212 592h6.3v3.3h-6.3zM224 592h6.3v3.3h-6.3zM275 592h3.3v3.3h-3.3zM278 595h3.3v3.3h-3.3zM278 598h6.3v3.3h-6.3zM281 601h6.3v3.3h-6.3zM284 604h9.3v3.3h-9.3zM290 607h12.3v3.3h-12.3zM299 610h15.3v3.3h-15.3zM314 613h6.3v3.3h-6.3zM320 616h3.3v3.3h-3.3zM323 619h6.3v3.3h-6.3zM326 622h6.3v3.3h-6.3zM329 625h6.3v3.3h-6.3zM332 628h6.3v3.3h-6.3zM332 631h6.3v3.3h-6.3zM335 634h6.3v3.3h-6.3zM335 637h6.3v3.3h-6.3zM338 640h6.3v3.3h-6.3zM338 643h6.3v3.3h-6.3zM338 646h6.3v3.3h-6.3zM335 649h9.3v3.3h-9.3zM335 652h9.3v3.3h-9.3zM338 655h6.3v3.3h-6.3zM338 658h9.3v3.3h-9.3zM344 661h6.3v3.3h-6.3zM350 664h6.3v3.3h-6.3zM575 754h12.3v3.3h-12.3zM569 757h18.3v3.3h-18.3zM548 760h6.3v3.3h-6.3zM563 760h27.3v3.3h-27.3zM551 763h42.3v3.3h-42.3zM557 766h48.3v3.3h-48.3zM557 769h18.3v3.3h-18.3zM581 769h36.3v3.3h-36.3zM557 772h15.3v3.3h-15.3zM590 772h27.3v3.3h-27.3zM563 775h6.3v3.3h-6.3zM608 775h9.3v3.3h-9.3z"/>
<path fill="#ccd094" d="M149 568h6.3v3.3h-6.3zM143 571h15.3v3.3h-15.3zM140 574h21.3v3.3h-21.3zM134 577h30.3v3.3h-30.3zM128 580h36.3v3.3h-36.3zM128 583h39.3v3.3h-39.3zM182 583h15.3v3.3h-15.3zM131 586h9.3v3.3h-9.3zM155 586h30.3v3.3h-30.3zM197 586h6.3v3.3h-6.3zM131 589h3.3v3.3h-3.3zM158 589h18.3v3.3h-18.3zM203 589h3.3v3.3h-3.3zM239 589h33.3v3.3h-33.3zM158 592h12.3v3.3h-12.3zM209 592h3.3v3.3h-3.3zM230 592h45.3v3.3h-45.3zM158 595h9.3v3.3h-9.3zM212 595h18.3v3.3h-18.3zM272 595h6.3v3.3h-6.3zM275 598h3.3v3.3h-3.3zM275 601h6.3v3.3h-6.3zM278 604h6.3v3.3h-6.3zM281 607h9.3v3.3h-9.3zM287 610h12.3v3.3h-12.3zM293 613h21.3v3.3h-21.3zM314 616h6.3v3.3h-6.3zM317 619h6.3v3.3h-6.3zM320 622h6.3v3.3h-6.3zM323 625h6.3v3.3h-6.3zM326 628h6.3v3.3h-6.3zM326 631h6.3v3.3h-6.3zM329 634h6.3v3.3h-6.3zM329 637h6.3v3.3h-6.3zM329 640h9.3v3.3h-9.3zM329 643h9.3v3.3h-9.3zM326 646h12.3v3.3h-12.3zM326 649h9.3v3.3h-9.3zM326 652h9.3v3.3h-9.3zM326 655h12.3v3.3h-12.3zM329 658h9.3v3.3h-9.3zM335 661h9.3v3.3h-9.3zM341 664h9.3v3.3h-9.3zM575 769h6.3v3.3h-6.3zM572 772h18.3v3.3h-18.3zM569 775h39.3v3.3h-39.3zM566 778h48.3v3.3h-48.3zM575 781h36.3v3.3h-36.3zM584 784h18.3v3.3h-18.3z"/>
<path fill="#dcdc9a" d="M140 586h15.3v3.3h-15.3zM185 586h12.3v3.3h-12.3zM134 589h24.3v3.3h-24.3zM176 589h12.3v3.3h-12.3zM197 589h6.3v3.3h-6.3zM134 592h24.3v3.3h-24.3zM170 592h9.3v3.3h-9.3zM203 592h6.3v3.3h-6.3zM134 595h24.3v3.3h-24.3zM167 595h9.3v3.3h-9.3zM209 595h3.3v3.3h-3.3zM230 595h42.3v3.3h-42.3zM137 598h36.3v3.3h-36.3zM215 598h18.3v3.3h-18.3zM260 598h15.3v3.3h-15.3zM140 601h33.3v3.3h-33.3zM269 601h6.3v3.3h-6.3zM140 604h30.3v3.3h-30.3zM269 604h9.3v3.3h-9.3zM143 607h27.3v3.3h-27.3zM272 607h9.3v3.3h-9.3zM146 610h21.3v3.3h-21.3zM278 610h9.3v3.3h-9.3zM149 613h18.3v3.3h-18.3zM281 613h12.3v3.3h-12.3zM155 616h12.3v3.3h-12.3zM287 616h27.3v3.3h-27.3zM161 619h6.3v3.3h-6.3zM296 619h21.3v3.3h-21.3zM311 622h9.3v3.3h-9.3zM314 625h9.3v3.3h-9.3zM317 628h9.3v3.3h-9.3zM317 631h9.3v3.3h-9.3zM320 634h9.3v3.3h-9.3zM320 637h9.3v3.3h-9.3zM317 640h12.3v3.3h-12.3zM314 643h15.3v3.3h-15.3zM311 646h15.3v3.3h-15.3zM311 649h15.3v3.3h-15.3zM311 652h15.3v3.3h-15.3zM317 655h9.3v3.3h-9.3zM320 658h9.3v3.3h-9.3zM326 661h9.3v3.3h-9.3zM332 664h9.3v3.3h-9.3z"/>
<path fill="#ece89e" d="M188 589h9.3v3.3h-9.3zM179 592h12.3v3.3h-12.3zM197 592h6.3v3.3h-6.3zM176 595h6.3v3.3h-6.3zM203 595h6.3v3.3h-6.3zM173 598h6.3v3.3h-6.3zM209 598h6.3v3.3h-6.3zM233 598h27.3v3.3h-27.3zM173 601h6.3v3.3h-6.3zM215 601h21.3v3.3h-21.3zM245 601h24.3v3.3h-24.3zM170 604h6.3v3.3h-6.3zM254 604h15.3v3.3h-15.3zM170 607h6.3v3.3h-6.3zM260 607h12.3v3.3h-12.3zM167 610h6.3v3.3h-6.3zM263 610h15.3v3.3h-15.3zM167 613h6.3v3.3h-6.3zM266 613h15.3v3.3h-15.3zM167 616h6.3v3.3h-6.3zM272 616h15.3v3.3h-15.3zM167 619h6.3v3.3h-6.3zM278 619h18.3v3.3h-18.3zM284 622h27.3v3.3h-27.3zM290 625h24.3v3.3h-24.3zM296 628h21.3v3.3h-21.3zM299 631h18.3v3.3h-18.3zM299 634h21.3v3.3h-21.3zM296 637h24.3v3.3h-24.3zM293 640h24.3v3.3h-24.3zM293 643h21.3v3.3h-21.3zM293 646h18.3v3.3h-18.3zM296 649h15.3v3.3h-15.3zM302 652h9.3v3.3h-9.3zM305 655h12.3v3.3h-12.3zM314 658h6.3v3.3h-6.3zM323 661h3.3v3.3h-3.3z"/>
<path fill="#f2eca2" d="M191 592h6.3v3.3h-6.3zM182 595h21.3v3.3h-21.3zM179 598h9.3v3.3h-9.3zM203 598h6.3v3.3h-6.3zM179 601h6.3v3.3h-6.3zM209 601h6.3v3.3h-6.3zM236 601h9.3v3.3h-9.3zM176 604h6.3v3.3h-6.3zM212 604h42.3v3.3h-42.3zM176 607h6.3v3.3h-6.3zM218 607h12.3v3.3h-12.3zM245 607h15.3v3.3h-15.3zM173 610h6.3v3.3h-6.3zM248 610h15.3v3.3h-15.3zM173 613h6.3v3.3h-6.3zM251 613h15.3v3.3h-15.3zM173 616h3.3v3.3h-3.3zM254 616h18.3v3.3h-18.3zM173 619h3.3v3.3h-3.3zM257 619h21.3v3.3h-21.3zM257 622h27.3v3.3h-27.3zM260 625h30.3v3.3h-30.3zM266 628h30.3v3.3h-30.3zM269 631h30.3v3.3h-30.3zM269 634h30.3v3.3h-30.3zM272 637h24.3v3.3h-24.3zM272 640h21.3v3.3h-21.3zM278 643h15.3v3.3h-15.3zM284 646h9.3v3.3h-9.3zM290 649h6.3v3.3h-6.3zM296 652h6.3v3.3h-6.3z"/>
<path fill="#f0e09c" d="M188 598h15.3v3.3h-15.3zM185 601h24.3v3.3h-24.3zM182 604h12.3v3.3h-12.3zM206 604h6.3v3.3h-6.3zM182 607h9.3v3.3h-9.3zM209 607h9.3v3.3h-9.3zM230 607h15.3v3.3h-15.3zM179 610h9.3v3.3h-9.3zM215 610h33.3v3.3h-33.3zM179 613h6.3v3.3h-6.3zM221 613h30.3v3.3h-30.3zM176 616h9.3v3.3h-9.3zM239 616h15.3v3.3h-15.3zM176 619h6.3v3.3h-6.3zM242 619h15.3v3.3h-15.3zM176 622h3.3v3.3h-3.3zM245 622h12.3v3.3h-12.3zM245 625h15.3v3.3h-15.3zM248 628h18.3v3.3h-18.3zM251 631h18.3v3.3h-18.3zM254 634h15.3v3.3h-15.3zM254 637h18.3v3.3h-18.3z"/>
<path fill="#ecd896" d="M194 604h12.3v3.3h-12.3zM191 607h18.3v3.3h-18.3zM188 610h27.3v3.3h-27.3zM185 613h15.3v3.3h-15.3zM206 613h15.3v3.3h-15.3zM185 616h9.3v3.3h-9.3zM212 616h27.3v3.3h-27.3zM182 619h9.3v3.3h-9.3zM221 619h21.3v3.3h-21.3zM179 622h6.3v3.3h-6.3zM224 622h21.3v3.3h-21.3zM227 625h18.3v3.3h-18.3zM230 628h18.3v3.3h-18.3zM230 631h21.3v3.3h-21.3zM230 634h24.3v3.3h-24.3zM230 637h24.3v3.3h-24.3z"/>
<path fill="#e6cc8c" d="M200 613h6.3v3.3h-6.3zM194 616h18.3v3.3h-18.3zM191 619h30.3v3.3h-30.3zM185 622h39.3v3.3h-39.3zM182 625h12.3v3.3h-12.3zM212 625h15.3v3.3h-15.3zM218 628h12.3v3.3h-12.3zM218 631h12.3v3.3h-12.3zM221 634h9.3v3.3h-9.3zM221 637h9.3v3.3h-9.3z"/>
<path fill="#e0c484" d="M194 625h18.3v3.3h-18.3zM188 628h30.3v3.3h-30.3zM194 631h24.3v3.3h-24.3zM200 634h21.3v3.3h-21.3zM203 637h18.3v3.3h-18.3zM206 640h9.3v3.3h-9.3z"/>
</g>
<g clip-path="url(#sea)" shape-rendering="crispEdges">
<path fill="#c0c890" d="M74 280h12.3v3.3h-12.3zM74 283h15.3v3.3h-15.3zM74 286h18.3v3.3h-18.3zM77 289h15.3v3.3h-15.3zM77 292h15.3v3.3h-15.3zM80 295h15.3v3.3h-15.3zM80 298h15.3v3.3h-15.3zM80 301h15.3v3.3h-15.3zM80 304h15.3v3.3h-15.3zM80 307h18.3v3.3h-18.3zM83 310h15.3v3.3h-15.3zM83 313h18.3v3.3h-18.3zM83 316h18.3v3.3h-18.3zM86 319h15.3v3.3h-15.3zM86 322h18.3v3.3h-18.3zM89 325h15.3v3.3h-15.3zM95 328h9.3v3.3h-9.3zM98 331h6.3v3.3h-6.3zM101 334h3.3v3.3h-3.3zM104 337h3.3v3.3h-3.3z"/>
<path fill="#ccd094" d="M65 283h9.3v3.3h-9.3zM65 286h9.3v3.3h-9.3zM65 289h12.3v3.3h-12.3zM65 292h12.3v3.3h-12.3zM65 295h15.3v3.3h-15.3zM65 298h15.3v3.3h-15.3zM65 301h15.3v3.3h-15.3zM65 304h15.3v3.3h-15.3zM65 307h15.3v3.3h-15.3zM65 310h18.3v3.3h-18.3zM68 313h15.3v3.3h-15.3zM68 316h15.3v3.3h-15.3zM68 319h18.3v3.3h-18.3zM71 322h15.3v3.3h-15.3zM71 325h18.3v3.3h-18.3zM74 328h21.3v3.3h-21.3zM77 331h21.3v3.3h-21.3zM77 334h24.3v3.3h-24.3zM80 337h24.3v3.3h-24.3zM80 340h27.3v3.3h-27.3zM80 343h27.3v3.3h-27.3zM83 346h21.3v3.3h-21.3zM83 349h21.3v3.3h-21.3zM83 352h21.3v3.3h-21.3zM83 355h21.3v3.3h-21.3zM83 358h21.3v3.3h-21.3zM86 361h18.3v3.3h-18.3zM86 364h18.3v3.3h-18.3zM86 367h18.3v3.3h-18.3zM86 370h15.3v3.3h-15.3zM89 373h12.3v3.3h-12.3zM89 376h9.3v3.3h-9.3zM89 379h9.3v3.3h-9.3zM89 382h6.3v3.3h-6.3zM92 385h3.3v3.3h-3.3z"/>
<path fill="#dcdc9a" d="M56 286h9.3v3.3h-9.3zM53 289h12.3v3.3h-12.3zM50 292h15.3v3.3h-15.3zM50 295h15.3v3.3h-15.3zM50 298h15.3v3.3h-15.3zM50 301h15.3v3.3h-15.3zM53 304h12.3v3.3h-12.3zM53 307h12.3v3.3h-12.3zM53 310h12.3v3.3h-12.3zM53 313h15.3v3.3h-15.3zM53 316h15.3v3.3h-15.3zM53 319h15.3v3.3h-15.3zM56 322h15.3v3.3h-15.3zM56 325h15.3v3.3h-15.3zM56 328h18.3v3.3h-18.3zM59 331h18.3v3.3h-18.3zM62 334h15.3v3.3h-15.3zM62 337h18.3v3.3h-18.3zM65 340h15.3v3.3h-15.3zM68 343h12.3v3.3h-12.3zM71 346h12.3v3.3h-12.3zM71 349h12.3v3.3h-12.3zM74 352h9.3v3.3h-9.3zM74 355h9.3v3.3h-9.3zM74 358h9.3v3.3h-9.3zM74 361h12.3v3.3h-12.3zM77 364h9.3v3.3h-9.3zM77 367h9.3v3.3h-9.3zM77 370h9.3v3.3h-9.3zM101 370h3.3v3.3h-3.3zM77 373h12.3v3.3h-12.3zM101 373h3.3v3.3h-3.3zM77 376h12.3v3.3h-12.3zM98 376h3.3v3.3h-3.3zM77 379h12.3v3.3h-12.3zM98 379h3.3v3.3h-3.3zM80 382h9.3v3.3h-9.3zM95 382h6.3v3.3h-6.3zM80 385h12.3v3.3h-12.3zM95 385h6.3v3.3h-6.3zM80 388h21.3v3.3h-21.3zM80 391h21.3v3.3h-21.3zM80 394h18.3v3.3h-18.3zM80 397h18.3v3.3h-18.3zM80 400h18.3v3.3h-18.3zM80 403h18.3v3.3h-18.3zM80 406h18.3v3.3h-18.3zM80 409h18.3v3.3h-18.3zM80 412h18.3v3.3h-18.3zM80 415h18.3v3.3h-18.3zM80 418h18.3v3.3h-18.3zM80 421h21.3v3.3h-21.3zM80 424h21.3v3.3h-21.3zM80 427h21.3v3.3h-21.3zM83 430h18.3v3.3h-18.3zM83 433h15.3v3.3h-15.3zM83 436h15.3v3.3h-15.3zM86 439h12.3v3.3h-12.3zM86 442h12.3v3.3h-12.3zM89 445h6.3v3.3h-6.3z"/>
<path fill="#ece89e" d="M62 340h3.3v3.3h-3.3zM62 343h6.3v3.3h-6.3zM62 346h9.3v3.3h-9.3zM62 349h9.3v3.3h-9.3zM62 352h12.3v3.3h-12.3zM65 355h9.3v3.3h-9.3zM65 358h9.3v3.3h-9.3zM65 361h9.3v3.3h-9.3zM65 364h12.3v3.3h-12.3zM65 367h12.3v3.3h-12.3zM68 370h9.3v3.3h-9.3zM68 373h9.3v3.3h-9.3zM68 376h9.3v3.3h-9.3zM68 379h9.3v3.3h-9.3zM68 382h12.3v3.3h-12.3zM68 385h12.3v3.3h-12.3zM68 388h12.3v3.3h-12.3zM71 391h9.3v3.3h-9.3zM71 394h9.3v3.3h-9.3zM71 397h9.3v3.3h-9.3zM71 400h9.3v3.3h-9.3zM71 403h9.3v3.3h-9.3zM71 406h9.3v3.3h-9.3zM71 409h9.3v3.3h-9.3zM71 412h9.3v3.3h-9.3zM71 415h9.3v3.3h-9.3zM71 418h9.3v3.3h-9.3zM71 421h9.3v3.3h-9.3zM71 424h9.3v3.3h-9.3zM71 427h9.3v3.3h-9.3zM71 430h12.3v3.3h-12.3zM71 433h12.3v3.3h-12.3zM98 433h3.3v3.3h-3.3zM71 436h12.3v3.3h-12.3zM98 436h3.3v3.3h-3.3zM74 439h12.3v3.3h-12.3zM98 439h3.3v3.3h-3.3zM74 442h12.3v3.3h-12.3zM98 442h3.3v3.3h-3.3zM77 445h12.3v3.3h-12.3zM95 445h6.3v3.3h-6.3zM77 448h21.3v3.3h-21.3zM80 451h18.3v3.3h-18.3zM83 454h15.3v3.3h-15.3zM83 457h15.3v3.3h-15.3zM86 460h15.3v3.3h-15.3zM89 463h12.3v3.3h-12.3zM92 466h9.3v3.3h-9.3z"/>
<path fill="#f2eca2" d="M62 367h3.3v3.3h-3.3zM62 370h6.3v3.3h-6.3zM62 373h6.3v3.3h-6.3zM62 376h6.3v3.3h-6.3zM62 379h6.3v3.3h-6.3zM62 382h6.3v3.3h-6.3zM59 385h9.3v3.3h-9.3zM59 388h9.3v3.3h-9.3zM59 391h12.3v3.3h-12.3zM56 394h15.3v3.3h-15.3zM56 397h15.3v3.3h-15.3zM56 400h15.3v3.3h-15.3zM56 403h15.3v3.3h-15.3zM56 406h15.3v3.3h-15.3zM56 409h15.3v3.3h-15.3zM56 412h15.3v3.3h-15.3zM56 415h15.3v3.3h-15.3zM59 418h12.3v3.3h-12.3zM59 421h12.3v3.3h-12.3zM59 424h12.3v3.3h-12.3zM59 427h12.3v3.3h-12.3zM59 430h12.3v3.3h-12.3zM59 433h12.3v3.3h-12.3zM62 436h9.3v3.3h-9.3zM62 439h12.3v3.3h-12.3zM62 442h12.3v3.3h-12.3zM62 445h15.3v3.3h-15.3zM62 448h15.3v3.3h-15.3zM62 451h18.3v3.3h-18.3zM62 454h21.3v3.3h-21.3zM71 457h12.3v3.3h-12.3zM74 460h12.3v3.3h-12.3zM77 463h12.3v3.3h-12.3zM80 466h12.3v3.3h-12.3zM83 469h18.3v3.3h-18.3zM86 472h18.3v3.3h-18.3zM89 475h15.3v3.3h-15.3zM92 478h15.3v3.3h-15.3zM92 481h15.3v3.3h-15.3zM95 484h12.3v3.3h-12.3zM101 487h6.3v3.3h-6.3z"/>
<path fill="#f0e09c" d="M62 457h9.3v3.3h-9.3zM65 460h9.3v3.3h-9.3zM65 463h12.3v3.3h-12.3zM65 466h15.3v3.3h-15.3zM68 469h15.3v3.3h-15.3zM74 472h12.3v3.3h-12.3zM80 475h9.3v3.3h-9.3zM83 478h9.3v3.3h-9.3zM86 481h6.3v3.3h-6.3zM86 484h9.3v3.3h-9.3zM89 487h12.3v3.3h-12.3zM107 487h3.3v3.3h-3.3zM92 490h18.3v3.3h-18.3zM95 493h18.3v3.3h-18.3zM98 496h15.3v3.3h-15.3zM101 499h15.3v3.3h-15.3zM107 502h12.3v3.3h-12.3z"/>
<path fill="#ecd896" d="M68 472h6.3v3.3h-6.3zM71 475h9.3v3.3h-9.3zM71 478h12.3v3.3h-12.3zM74 481h12.3v3.3h-12.3zM77 484h9.3v3.3h-9.3zM80 487h9.3v3.3h-9.3zM83 490h9.3v3.3h-9.3zM86 493h9.3v3.3h-9.3zM89 496h9.3v3.3h-9.3zM92 499h9.3v3.3h-9.3zM95 502h12.3v3.3h-12.3zM98 505h21.3v3.3h-21.3zM101 508h24.3v3.3h-24.3zM104 511h24.3v3.3h-24.3zM107 514h21.3v3.3h-21.3zM110 517h18.3v3.3h-18.3zM116 520h9.3v3.3h-9.3z"/>
<path fill="#e6cc8c" d="M71 481h3.3v3.3h-3.3zM71 484h6.3v3.3h-6.3zM71 487h9.3v3.3h-9.3zM74 490h9.3v3.3h-9.3zM74 493h12.3v3.3h-12.3zM80 496h9.3v3.3h-9.3zM83 499h9.3v3.3h-9.3zM86 502h9.3v3.3h-9.3zM89 505h9.3v3.3h-9.3zM92 508h9.3v3.3h-9.3zM95 511h9.3v3.3h-9.3zM98 514h9.3v3.3h-9.3zM128 514h3.3v3.3h-3.3zM101 517h9.3v3.3h-9.3zM128 517h6.3v3.3h-6.3zM104 520h12.3v3.3h-12.3zM125 520h9.3v3.3h-9.3zM107 523h27.3v3.3h-27.3zM107 526h30.3v3.3h-30.3zM110 529h27.3v3.3h-27.3zM113 532h24.3v3.3h-24.3zM119 535h18.3v3.3h-18.3zM122 538h12.3v3.3h-12.3zM128 541h3.3v3.3h-3.3z"/>
<path fill="#e0c484" d="M74 496h6.3v3.3h-6.3zM74 499h9.3v3.3h-9.3zM77 502h9.3v3.3h-9.3zM77 505h12.3v3.3h-12.3zM80 508h12.3v3.3h-12.3zM80 511h15.3v3.3h-15.3zM83 514h15.3v3.3h-15.3zM89 517h12.3v3.3h-12.3zM92 520h12.3v3.3h-12.3zM95 523h12.3v3.3h-12.3zM98 526h9.3v3.3h-9.3zM101 529h9.3v3.3h-9.3zM101 532h12.3v3.3h-12.3zM137 532h3.3v3.3h-3.3zM104 535h15.3v3.3h-15.3zM137 535h3.3v3.3h-3.3zM107 538h15.3v3.3h-15.3zM134 538h6.3v3.3h-6.3zM110 541h18.3v3.3h-18.3zM131 541h12.3v3.3h-12.3zM113 544h30.3v3.3h-30.3zM116 547h27.3v3.3h-27.3zM122 550h21.3v3.3h-21.3zM125 553h15.3v3.3h-15.3zM131 556h6.3v3.3h-6.3z"/>
<path fill="#d8b47a" d="M86 517h3.3v3.3h-3.3zM86 520h6.3v3.3h-6.3zM89 523h6.3v3.3h-6.3zM92 526h6.3v3.3h-6.3zM92 529h9.3v3.3h-9.3zM95 532h6.3v3.3h-6.3zM98 535h6.3v3.3h-6.3zM101 538h6.3v3.3h-6.3zM104 541h6.3v3.3h-6.3zM104 544h9.3v3.3h-9.3zM107 547h9.3v3.3h-9.3zM110 550h12.3v3.3h-12.3zM143 550h3.3v3.3h-3.3zM110 553h15.3v3.3h-15.3zM140 553h6.3v3.3h-6.3zM113 556h18.3v3.3h-18.3zM137 556h12.3v3.3h-12.3zM113 559h39.3v3.3h-39.3zM122 562h27.3v3.3h-27.3zM128 565h18.3v3.3h-18.3zM134 568h9.3v3.3h-9.3z"/>
<path fill="#d0a870" d="M116 562h6.3v3.3h-6.3zM149 562h3.3v3.3h-3.3zM119 565h9.3v3.3h-9.3zM146 565h9.3v3.3h-9.3zM119 568h15.3v3.3h-15.3zM143 568h15.3v3.3h-15.3zM122 571h33.3v3.3h-33.3zM125 574h24.3v3.3h-24.3zM128 577h18.3v3.3h-18.3zM128 580h9.3v3.3h-9.3z"/>
<path fill="#c89c68" d="M155 571h3.3v3.3h-3.3zM149 574h12.3v3.3h-12.3zM146 577h15.3v3.3h-15.3zM137 580h18.3v3.3h-18.3zM128 583h21.3v3.3h-21.3zM131 586h18.3v3.3h-18.3zM131 589h15.3v3.3h-15.3zM134 592h12.3v3.3h-12.3zM134 595h9.3v3.3h-9.3zM137 598h6.3v3.3h-6.3z"/>
<path fill="#c08c60" d="M155 580h9.3v3.3h-9.3zM149 583h15.3v3.3h-15.3zM149 586h21.3v3.3h-21.3zM146 589h12.3v3.3h-12.3zM176 589h6.3v3.3h-6.3zM146 592h12.3v3.3h-12.3zM143 595h15.3v3.3h-15.3zM143 598h15.3v3.3h-15.3zM140 601h18.3v3.3h-18.3zM140 604h21.3v3.3h-21.3zM143 607h18.3v3.3h-18.3zM146 610h15.3v3.3h-15.3zM149 613h15.3v3.3h-15.3zM155 616h9.3v3.3h-9.3zM173 616h9.3v3.3h-9.3zM161 619h3.3v3.3h-3.3zM170 619h15.3v3.3h-15.3zM176 622h9.3v3.3h-9.3zM182 625h3.3v3.3h-3.3z"/>
<path fill="#b87c58" d="M158 589h18.3v3.3h-18.3zM158 592h30.3v3.3h-30.3zM158 595h36.3v3.3h-36.3zM158 598h42.3v3.3h-42.3zM158 601h48.3v3.3h-48.3zM161 604h48.3v3.3h-48.3zM161 607h36.3v3.3h-36.3zM161 610h33.3v3.3h-33.3zM164 613h33.3v3.3h-33.3zM164 616h9.3v3.3h-9.3zM182 616h15.3v3.3h-15.3zM164 619h6.3v3.3h-6.3zM185 619h12.3v3.3h-12.3zM185 622h12.3v3.3h-12.3zM185 625h12.3v3.3h-12.3zM188 628h6.3v3.3h-6.3z"/>
<path fill="#b07050" d="M197 607h15.3v3.3h-15.3zM194 610h21.3v3.3h-21.3zM197 613h18.3v3.3h-18.3zM197 616h18.3v3.3h-18.3zM197 619h15.3v3.3h-15.3zM197 622h12.3v3.3h-12.3zM197 625h12.3v3.3h-12.3zM194 628h12.3v3.3h-12.3zM194 631h12.3v3.3h-12.3zM200 634h6.3v3.3h-6.3z"/>
<path fill="#a86048" d="M215 613h3.3v3.3h-3.3zM215 616h6.3v3.3h-6.3zM212 619h12.3v3.3h-12.3zM209 622h15.3v3.3h-15.3zM209 625h18.3v3.3h-18.3zM206 628h21.3v3.3h-21.3zM206 631h21.3v3.3h-21.3zM206 634h18.3v3.3h-18.3zM203 637h18.3v3.3h-18.3zM206 640h9.3v3.3h-9.3z"/>
<path fill="#285cc0" d="M1142 355h3.3v3.3h-3.3zM1136 358h12.3v3.3h-12.3zM1130 361h21.3v3.3h-21.3zM1121 364h27.3v3.3h-27.3zM1115 367h33.3v3.3h-33.3zM1106 370h39.3v3.3h-39.3zM1100 373h45.3v3.3h-45.3zM1094 376h51.3v3.3h-51.3zM1088 379h54.3v3.3h-54.3zM1085 382h54.3v3.3h-54.3zM1082 385h48.3v3.3h-48.3zM1079 388h45.3v3.3h-45.3zM1076 391h42.3v3.3h-42.3zM1073 394h39.3v3.3h-39.3zM1073 397h33.3v3.3h-33.3zM1073 400h24.3v3.3h-24.3zM1073 403h21.3v3.3h-21.3zM1073 406h21.3v3.3h-21.3zM1070 409h24.3v3.3h-24.3zM1070 412h27.3v3.3h-27.3zM1070 415h27.3v3.3h-27.3zM1070 418h30.3v3.3h-30.3zM1070 421h30.3v3.3h-30.3zM1073 424h27.3v3.3h-27.3zM1076 427h21.3v3.3h-21.3zM1079 430h18.3v3.3h-18.3zM1067 433h27.3v3.3h-27.3zM1064 436h27.3v3.3h-27.3zM1055 439h33.3v3.3h-33.3zM1043 442h45.3v3.3h-45.3zM1040 445h45.3v3.3h-45.3zM1037 448h45.3v3.3h-45.3zM1034 451h45.3v3.3h-45.3zM1031 454h45.3v3.3h-45.3zM1028 457h21.3v3.3h-21.3zM1025 460h12.3v3.3h-12.3zM1022 463h6.3v3.3h-6.3zM1019 466h6.3v3.3h-6.3zM1016 469h9.3v3.3h-9.3zM1013 472h12.3v3.3h-12.3zM1013 475h12.3v3.3h-12.3zM1010 478h15.3v3.3h-15.3zM1007 481h18.3v3.3h-18.3zM1007 484h15.3v3.3h-15.3zM1004 487h15.3v3.3h-15.3zM1004 490h12.3v3.3h-12.3zM1001 493h15.3v3.3h-15.3zM1001 496h12.3v3.3h-12.3zM998 499h12.3v3.3h-12.3zM998 502h12.3v3.3h-12.3zM995 505h12.3v3.3h-12.3zM995 508h12.3v3.3h-12.3zM992 511h15.3v3.3h-15.3zM992 514h15.3v3.3h-15.3zM989 517h15.3v3.3h-15.3zM989 520h12.3v3.3h-12.3zM986 523h12.3v3.3h-12.3zM986 526h12.3v3.3h-12.3zM986 529h9.3v3.3h-9.3zM986 532h6.3v3.3h-6.3zM986 535h6.3v3.3h-6.3zM986 538h6.3v3.3h-6.3zM986 541h6.3v3.3h-6.3zM986 544h6.3v3.3h-6.3zM986 547h3.3v3.3h-3.3z"/>
<path fill="#1a50bc" d="M1100 424h3.3v3.3h-3.3zM1097 427h6.3v3.3h-6.3zM1097 430h6.3v3.3h-6.3zM1094 433h9.3v3.3h-9.3zM1091 436h12.3v3.3h-12.3zM1088 439h15.3v3.3h-15.3zM1016 442h3.3v3.3h-3.3zM1088 442h15.3v3.3h-15.3zM1013 445h6.3v3.3h-6.3zM1025 445h15.3v3.3h-15.3zM1085 445h9.3v3.3h-9.3zM1097 445h3.3v3.3h-3.3zM1010 448h3.3v3.3h-3.3zM1022 448h15.3v3.3h-15.3zM1082 448h9.3v3.3h-9.3zM1022 451h12.3v3.3h-12.3zM1079 451h9.3v3.3h-9.3zM1019 454h12.3v3.3h-12.3zM1076 454h3.3v3.3h-3.3zM1016 457h12.3v3.3h-12.3zM1013 460h12.3v3.3h-12.3zM1010 463h12.3v3.3h-12.3zM1010 466h9.3v3.3h-9.3zM1007 469h9.3v3.3h-9.3zM1007 472h6.3v3.3h-6.3zM1007 475h6.3v3.3h-6.3zM1004 478h6.3v3.3h-6.3zM1004 481h3.3v3.3h-3.3zM1001 484h6.3v3.3h-6.3zM998 487h6.3v3.3h-6.3zM995 490h9.3v3.3h-9.3zM992 493h9.3v3.3h-9.3zM989 496h12.3v3.3h-12.3zM989 499h9.3v3.3h-9.3zM989 502h9.3v3.3h-9.3zM989 505h6.3v3.3h-6.3zM986 508h9.3v3.3h-9.3zM986 511h6.3v3.3h-6.3zM986 514h6.3v3.3h-6.3zM983 517h6.3v3.3h-6.3zM983 520h6.3v3.3h-6.3zM980 523h6.3v3.3h-6.3zM980 526h6.3v3.3h-6.3zM980 529h6.3v3.3h-6.3zM977 532h9.3v3.3h-9.3zM977 535h9.3v3.3h-9.3zM977 538h9.3v3.3h-9.3zM977 541h9.3v3.3h-9.3zM977 544h9.3v3.3h-9.3zM977 547h9.3v3.3h-9.3zM989 547h6.3v3.3h-6.3zM977 550h18.3v3.3h-18.3zM980 553h18.3v3.3h-18.3zM980 556h18.3v3.3h-18.3zM980 559h18.3v3.3h-18.3zM980 562h15.3v3.3h-15.3zM980 565h12.3v3.3h-12.3zM983 568h6.3v3.3h-6.3z"/>
<path fill="#0f4a55" d="M1019 445h6.3v3.3h-6.3zM1094 445h3.3v3.3h-3.3zM1013 448h9.3v3.3h-9.3zM1091 448h6.3v3.3h-6.3zM1010 451h12.3v3.3h-12.3zM1088 451h6.3v3.3h-6.3zM1010 454h9.3v3.3h-9.3zM1010 457h6.3v3.3h-6.3zM1010 460h3.3v3.3h-3.3zM998 559h3.3v3.3h-3.3zM995 562h6.3v3.3h-6.3zM992 565h6.3v3.3h-6.3zM989 568h6.3v3.3h-6.3zM983 571h9.3v3.3h-9.3zM971 574h18.3v3.3h-18.3zM968 577h18.3v3.3h-18.3z"/>
<path fill="#1a5058" d="M998 565h3.3v3.3h-3.3zM995 568h6.3v3.3h-6.3zM992 571h6.3v3.3h-6.3zM989 574h6.3v3.3h-6.3zM986 577h6.3v3.3h-6.3zM965 580h24.3v3.3h-24.3zM962 583h21.3v3.3h-21.3zM953 586h15.3v3.3h-15.3z"/>
<path fill="#245a60" d="M998 571h3.3v3.3h-3.3zM995 574h3.3v3.3h-3.3zM992 577h6.3v3.3h-6.3zM989 580h6.3v3.3h-6.3zM983 583h9.3v3.3h-9.3zM968 586h21.3v3.3h-21.3zM950 589h33.3v3.3h-33.3zM947 592h15.3v3.3h-15.3zM944 595h9.3v3.3h-9.3z"/>
<path fill="#2d6062" d="M998 574h3.3v3.3h-3.3zM962 592h18.3v3.3h-18.3zM953 595h21.3v3.3h-21.3zM935 598h21.3v3.3h-21.3zM929 601h18.3v3.3h-18.3zM926 604h9.3v3.3h-9.3zM923 607h6.3v3.3h-6.3zM920 610h3.3v3.3h-3.3z"/>
<path fill="#386866" d="M956 598h15.3v3.3h-15.3zM947 601h18.3v3.3h-18.3zM935 604h15.3v3.3h-15.3zM929 607h9.3v3.3h-9.3zM923 610h9.3v3.3h-9.3zM917 613h9.3v3.3h-9.3zM914 616h9.3v3.3h-9.3zM914 619h6.3v3.3h-6.3zM911 622h3.3v3.3h-3.3zM905 625h6.3v3.3h-6.3zM902 628h3.3v3.3h-3.3zM896 631h3.3v3.3h-3.3z"/>
<path fill="#457068" d="M950 604h6.3v3.3h-6.3zM938 607h15.3v3.3h-15.3zM932 610h9.3v3.3h-9.3zM926 613h6.3v3.3h-6.3zM923 616h6.3v3.3h-6.3zM920 619h3.3v3.3h-3.3zM914 622h6.3v3.3h-6.3zM911 625h6.3v3.3h-6.3zM905 628h6.3v3.3h-6.3zM899 631h9.3v3.3h-9.3zM893 634h9.3v3.3h-9.3zM890 637h9.3v3.3h-9.3zM887 640h6.3v3.3h-6.3zM884 643h6.3v3.3h-6.3z"/>
<path fill="#52786c" d="M941 610h9.3v3.3h-9.3zM932 613h15.3v3.3h-15.3zM929 616h6.3v3.3h-6.3zM923 619h6.3v3.3h-6.3zM920 622h6.3v3.3h-6.3zM917 625h3.3v3.3h-3.3zM911 628h6.3v3.3h-6.3zM908 631h3.3v3.3h-3.3zM902 634h6.3v3.3h-6.3zM899 637h3.3v3.3h-3.3zM893 640h6.3v3.3h-6.3zM890 643h6.3v3.3h-6.3zM884 646h6.3v3.3h-6.3zM881 649h6.3v3.3h-6.3zM878 652h6.3v3.3h-6.3zM875 655h6.3v3.3h-6.3z"/>
<path fill="#5e8270" d="M935 616h6.3v3.3h-6.3zM929 619h3.3v3.3h-3.3zM926 622h6.3v3.3h-6.3zM920 625h6.3v3.3h-6.3zM917 628h6.3v3.3h-6.3zM911 631h6.3v3.3h-6.3zM908 634h3.3v3.3h-3.3zM902 637h6.3v3.3h-6.3zM899 640h3.3v3.3h-3.3zM896 643h3.3v3.3h-3.3zM890 646h6.3v3.3h-6.3zM887 649h6.3v3.3h-6.3zM884 652h6.3v3.3h-6.3zM881 655h6.3v3.3h-6.3zM875 658h9.3v3.3h-9.3zM872 661h9.3v3.3h-9.3zM872 664h3.3v3.3h-3.3zM782 676h9.3v3.3h-9.3z"/>
<path fill="#6a8a74" d="M926 625h3.3v3.3h-3.3zM923 628h6.3v3.3h-6.3zM917 631h6.3v3.3h-6.3zM911 634h6.3v3.3h-6.3zM908 637h3.3v3.3h-3.3zM902 640h6.3v3.3h-6.3zM899 643h3.3v3.3h-3.3zM896 646h3.3v3.3h-3.3zM893 649h3.3v3.3h-3.3zM890 652h3.3v3.3h-3.3zM887 655h3.3v3.3h-3.3zM884 658h3.3v3.3h-3.3zM881 661h3.3v3.3h-3.3zM875 664h6.3v3.3h-6.3zM872 667h9.3v3.3h-9.3zM872 670h6.3v3.3h-6.3zM767 673h6.3v3.3h-6.3zM767 676h15.3v3.3h-15.3zM764 679h39.3v3.3h-39.3zM764 682h42.3v3.3h-42.3z"/>
<path fill="#789478" d="M923 631h3.3v3.3h-3.3zM917 634h6.3v3.3h-6.3zM911 637h6.3v3.3h-6.3zM908 640h3.3v3.3h-3.3zM902 643h6.3v3.3h-6.3zM899 646h3.3v3.3h-3.3zM896 649h3.3v3.3h-3.3zM893 652h3.3v3.3h-3.3zM890 655h3.3v3.3h-3.3zM887 658h3.3v3.3h-3.3zM884 661h6.3v3.3h-6.3zM881 664h6.3v3.3h-6.3zM881 667h3.3v3.3h-3.3zM878 670h6.3v3.3h-6.3zM872 673h9.3v3.3h-9.3zM755 676h12.3v3.3h-12.3zM872 676h6.3v3.3h-6.3zM752 679h12.3v3.3h-12.3zM872 679h3.3v3.3h-3.3zM752 682h12.3v3.3h-12.3zM749 685h60.3v3.3h-60.3zM824 685h6.3v3.3h-6.3zM752 688h33.3v3.3h-33.3zM791 688h15.3v3.3h-15.3zM854 703h3.3v3.3h-3.3zM851 706h6.3v3.3h-6.3zM848 709h12.3v3.3h-12.3zM851 712h9.3v3.3h-9.3zM851 715h9.3v3.3h-9.3zM854 718h6.3v3.3h-6.3z"/>
<path fill="#88a07e" d="M911 640h3.3v3.3h-3.3zM902 646h3.3v3.3h-3.3zM899 649h6.3v3.3h-6.3zM896 652h3.3v3.3h-3.3zM893 655h3.3v3.3h-3.3zM890 658h6.3v3.3h-6.3zM890 661h3.3v3.3h-3.3zM887 664h3.3v3.3h-3.3zM884 667h3.3v3.3h-3.3zM884 670h3.3v3.3h-3.3zM881 673h3.3v3.3h-3.3zM749 676h6.3v3.3h-6.3zM878 676h6.3v3.3h-6.3zM743 679h9.3v3.3h-9.3zM875 679h6.3v3.3h-6.3zM740 682h12.3v3.3h-12.3zM875 682h6.3v3.3h-6.3zM740 685h9.3v3.3h-9.3zM830 685h9.3v3.3h-9.3zM875 685h6.3v3.3h-6.3zM737 688h15.3v3.3h-15.3zM785 688h6.3v3.3h-6.3zM806 688h36.3v3.3h-36.3zM875 688h3.3v3.3h-3.3zM737 691h33.3v3.3h-33.3zM794 691h33.3v3.3h-33.3zM737 694h15.3v3.3h-15.3zM848 697h3.3v3.3h-3.3zM845 700h9.3v3.3h-9.3zM845 703h9.3v3.3h-9.3zM845 706h6.3v3.3h-6.3zM845 709h3.3v3.3h-3.3zM845 712h6.3v3.3h-6.3zM848 715h3.3v3.3h-3.3zM848 718h6.3v3.3h-6.3zM851 721h9.3v3.3h-9.3zM851 724h9.3v3.3h-9.3zM854 727h6.3v3.3h-6.3zM854 730h6.3v3.3h-6.3zM857 733h6.3v3.3h-6.3z"/>
<path fill="#98ac84" d="M899 652h6.3v3.3h-6.3zM896 655h6.3v3.3h-6.3zM896 658h3.3v3.3h-3.3zM893 661h3.3v3.3h-3.3zM890 664h3.3v3.3h-3.3zM887 667h3.3v3.3h-3.3zM887 670h3.3v3.3h-3.3zM884 673h3.3v3.3h-3.3zM884 676h3.3v3.3h-3.3zM740 679h3.3v3.3h-3.3zM881 679h6.3v3.3h-6.3zM737 682h3.3v3.3h-3.3zM881 682h6.3v3.3h-6.3zM734 685h6.3v3.3h-6.3zM881 685h3.3v3.3h-3.3zM731 688h6.3v3.3h-6.3zM878 688h6.3v3.3h-6.3zM731 691h6.3v3.3h-6.3zM770 691h24.3v3.3h-24.3zM827 691h18.3v3.3h-18.3zM878 691h6.3v3.3h-6.3zM728 694h9.3v3.3h-9.3zM752 694h12.3v3.3h-12.3zM797 694h51.3v3.3h-51.3zM878 694h6.3v3.3h-6.3zM725 697h27.3v3.3h-27.3zM836 697h12.3v3.3h-12.3zM878 697h6.3v3.3h-6.3zM728 700h18.3v3.3h-18.3zM839 700h6.3v3.3h-6.3zM881 700h3.3v3.3h-3.3zM842 703h3.3v3.3h-3.3zM881 703h3.3v3.3h-3.3zM842 706h3.3v3.3h-3.3zM881 706h3.3v3.3h-3.3zM842 709h3.3v3.3h-3.3zM842 712h3.3v3.3h-3.3zM845 715h3.3v3.3h-3.3zM845 718h3.3v3.3h-3.3zM848 721h3.3v3.3h-3.3zM848 724h3.3v3.3h-3.3zM851 727h3.3v3.3h-3.3zM851 730h3.3v3.3h-3.3zM854 733h3.3v3.3h-3.3zM854 736h9.3v3.3h-9.3zM857 739h6.3v3.3h-6.3zM857 742h6.3v3.3h-6.3zM860 745h6.3v3.3h-6.3zM863 748h3.3v3.3h-3.3z"/>
<path fill="#a6b688" d="M905 652h3.3v3.3h-3.3zM902 655h9.3v3.3h-9.3zM899 658h12.3v3.3h-12.3zM896 661h6.3v3.3h-6.3zM893 664h6.3v3.3h-6.3zM890 667h6.3v3.3h-6.3zM890 670h3.3v3.3h-3.3zM887 673h6.3v3.3h-6.3zM887 676h3.3v3.3h-3.3zM887 679h3.3v3.3h-3.3zM887 682h3.3v3.3h-3.3zM884 685h6.3v3.3h-6.3zM884 688h6.3v3.3h-6.3zM884 691h6.3v3.3h-6.3zM764 694h33.3v3.3h-33.3zM884 694h6.3v3.3h-6.3zM722 697h3.3v3.3h-3.3zM752 697h6.3v3.3h-6.3zM800 697h36.3v3.3h-36.3zM884 697h6.3v3.3h-6.3zM716 700h12.3v3.3h-12.3zM746 700h6.3v3.3h-6.3zM833 700h6.3v3.3h-6.3zM884 700h6.3v3.3h-6.3zM716 703h30.3v3.3h-30.3zM836 703h6.3v3.3h-6.3zM884 703h6.3v3.3h-6.3zM722 706h18.3v3.3h-18.3zM839 706h3.3v3.3h-3.3zM884 706h6.3v3.3h-6.3zM839 709h3.3v3.3h-3.3zM884 709h6.3v3.3h-6.3zM884 712h6.3v3.3h-6.3zM842 715h3.3v3.3h-3.3zM884 715h6.3v3.3h-6.3zM842 718h3.3v3.3h-3.3zM887 718h3.3v3.3h-3.3zM845 721h3.3v3.3h-3.3zM887 721h3.3v3.3h-3.3zM845 724h3.3v3.3h-3.3zM848 727h3.3v3.3h-3.3zM848 730h3.3v3.3h-3.3zM851 733h3.3v3.3h-3.3zM851 736h3.3v3.3h-3.3zM854 739h3.3v3.3h-3.3zM854 742h3.3v3.3h-3.3zM857 745h3.3v3.3h-3.3zM857 748h6.3v3.3h-6.3zM860 751h6.3v3.3h-6.3zM863 754h6.3v3.3h-6.3zM863 757h6.3v3.3h-6.3zM866 760h6.3v3.3h-6.3zM869 763h6.3v3.3h-6.3z"/>
<path fill="#b2be8c" d="M902 661h6.3v3.3h-6.3zM899 664h9.3v3.3h-9.3zM896 667h6.3v3.3h-6.3zM893 670h6.3v3.3h-6.3zM893 673h3.3v3.3h-3.3zM890 676h3.3v3.3h-3.3zM890 679h3.3v3.3h-3.3zM890 682h3.3v3.3h-3.3zM890 685h3.3v3.3h-3.3zM890 688h3.3v3.3h-3.3zM890 691h3.3v3.3h-3.3zM890 694h3.3v3.3h-3.3zM758 697h9.3v3.3h-9.3zM791 697h9.3v3.3h-9.3zM890 697h3.3v3.3h-3.3zM752 700h6.3v3.3h-6.3zM803 700h30.3v3.3h-30.3zM890 700h3.3v3.3h-3.3zM707 703h9.3v3.3h-9.3zM746 703h6.3v3.3h-6.3zM833 703h3.3v3.3h-3.3zM890 703h6.3v3.3h-6.3zM710 706h12.3v3.3h-12.3zM740 706h6.3v3.3h-6.3zM836 706h3.3v3.3h-3.3zM890 706h6.3v3.3h-6.3zM713 709h30.3v3.3h-30.3zM836 709h3.3v3.3h-3.3zM890 709h6.3v3.3h-6.3zM725 712h9.3v3.3h-9.3zM839 712h3.3v3.3h-3.3zM890 712h6.3v3.3h-6.3zM839 715h3.3v3.3h-3.3zM890 715h6.3v3.3h-6.3zM890 718h6.3v3.3h-6.3zM842 721h3.3v3.3h-3.3zM890 721h6.3v3.3h-6.3zM887 724h6.3v3.3h-6.3zM845 727h3.3v3.3h-3.3zM890 727h3.3v3.3h-3.3zM890 730h3.3v3.3h-3.3zM848 733h3.3v3.3h-3.3zM890 733h3.3v3.3h-3.3zM848 736h3.3v3.3h-3.3zM851 739h3.3v3.3h-3.3zM851 742h3.3v3.3h-3.3zM854 745h3.3v3.3h-3.3zM857 751h3.3v3.3h-3.3zM860 754h3.3v3.3h-3.3zM860 757h3.3v3.3h-3.3zM863 760h3.3v3.3h-3.3zM866 763h3.3v3.3h-3.3zM866 766h12.3v3.3h-12.3zM869 769h9.3v3.3h-9.3zM872 772h6.3v3.3h-6.3zM875 775h6.3v3.3h-6.3z"/>
<path fill="#c0c890" d="M902 667h3.3v3.3h-3.3zM899 670h6.3v3.3h-6.3zM896 673h6.3v3.3h-6.3zM893 676h9.3v3.3h-9.3zM893 679h6.3v3.3h-6.3zM893 682h3.3v3.3h-3.3zM893 685h3.3v3.3h-3.3zM893 688h3.3v3.3h-3.3zM893 691h3.3v3.3h-3.3zM893 694h3.3v3.3h-3.3zM692 697h6.3v3.3h-6.3zM767 697h24.3v3.3h-24.3zM893 697h6.3v3.3h-6.3zM692 700h12.3v3.3h-12.3zM758 700h6.3v3.3h-6.3zM794 700h9.3v3.3h-9.3zM893 700h6.3v3.3h-6.3zM695 703h12.3v3.3h-12.3zM752 703h3.3v3.3h-3.3zM806 703h27.3v3.3h-27.3zM896 703h3.3v3.3h-3.3zM701 706h9.3v3.3h-9.3zM746 706h6.3v3.3h-6.3zM833 706h3.3v3.3h-3.3zM896 706h3.3v3.3h-3.3zM704 709h9.3v3.3h-9.3zM743 709h6.3v3.3h-6.3zM896 709h3.3v3.3h-3.3zM710 712h15.3v3.3h-15.3zM734 712h9.3v3.3h-9.3zM836 712h3.3v3.3h-3.3zM896 712h3.3v3.3h-3.3zM725 715h9.3v3.3h-9.3zM836 715h3.3v3.3h-3.3zM896 715h3.3v3.3h-3.3zM839 718h3.3v3.3h-3.3zM896 718h3.3v3.3h-3.3zM839 721h3.3v3.3h-3.3zM896 721h3.3v3.3h-3.3zM842 724h3.3v3.3h-3.3zM893 724h6.3v3.3h-6.3zM842 727h3.3v3.3h-3.3zM893 727h6.3v3.3h-6.3zM845 730h3.3v3.3h-3.3zM893 730h6.3v3.3h-6.3zM845 733h3.3v3.3h-3.3zM893 733h6.3v3.3h-6.3zM893 736h6.3v3.3h-6.3zM848 739h3.3v3.3h-3.3zM893 739h6.3v3.3h-6.3zM893 742h6.3v3.3h-6.3zM851 745h3.3v3.3h-3.3zM893 745h6.3v3.3h-6.3zM854 748h3.3v3.3h-3.3zM896 748h3.3v3.3h-3.3zM854 751h3.3v3.3h-3.3zM896 751h3.3v3.3h-3.3zM857 754h3.3v3.3h-3.3zM896 754h3.3v3.3h-3.3zM857 757h3.3v3.3h-3.3zM860 760h3.3v3.3h-3.3zM863 763h3.3v3.3h-3.3zM863 766h3.3v3.3h-3.3zM866 769h3.3v3.3h-3.3zM869 772h3.3v3.3h-3.3zM869 775h6.3v3.3h-6.3zM872 778h9.3v3.3h-9.3zM875 781h9.3v3.3h-9.3zM881 784h3.3v3.3h-3.3z"/>
<path fill="#ccd094" d="M899 679h3.3v3.3h-3.3zM896 682h9.3v3.3h-9.3zM896 685h9.3v3.3h-9.3zM896 688h9.3v3.3h-9.3zM677 691h3.3v3.3h-3.3zM896 691h12.3v3.3h-12.3zM677 694h12.3v3.3h-12.3zM896 694h12.3v3.3h-12.3zM680 697h12.3v3.3h-12.3zM899 697h9.3v3.3h-9.3zM680 700h12.3v3.3h-12.3zM764 700h30.3v3.3h-30.3zM899 700h6.3v3.3h-6.3zM686 703h9.3v3.3h-9.3zM755 703h6.3v3.3h-6.3zM794 703h12.3v3.3h-12.3zM899 703h6.3v3.3h-6.3zM689 706h12.3v3.3h-12.3zM752 706h3.3v3.3h-3.3zM806 706h27.3v3.3h-27.3zM899 706h6.3v3.3h-6.3zM695 709h9.3v3.3h-9.3zM749 709h3.3v3.3h-3.3zM833 709h3.3v3.3h-3.3zM899 709h6.3v3.3h-6.3zM701 712h9.3v3.3h-9.3zM743 712h6.3v3.3h-6.3zM833 712h3.3v3.3h-3.3zM899 712h3.3v3.3h-3.3zM710 715h15.3v3.3h-15.3zM734 715h9.3v3.3h-9.3zM899 715h3.3v3.3h-3.3zM725 718h12.3v3.3h-12.3zM836 718h3.3v3.3h-3.3zM899 718h3.3v3.3h-3.3zM899 721h3.3v3.3h-3.3zM839 724h3.3v3.3h-3.3zM899 724h3.3v3.3h-3.3zM899 727h3.3v3.3h-3.3zM842 730h3.3v3.3h-3.3zM899 730h3.3v3.3h-3.3zM899 733h3.3v3.3h-3.3zM845 736h3.3v3.3h-3.3zM899 736h3.3v3.3h-3.3zM899 739h3.3v3.3h-3.3zM848 742h3.3v3.3h-3.3zM899 742h3.3v3.3h-3.3zM899 745h3.3v3.3h-3.3zM851 748h3.3v3.3h-3.3zM899 748h3.3v3.3h-3.3zM899 751h3.3v3.3h-3.3zM854 754h3.3v3.3h-3.3zM899 754h3.3v3.3h-3.3zM896 757h6.3v3.3h-6.3zM857 760h3.3v3.3h-3.3zM896 760h6.3v3.3h-6.3zM860 763h3.3v3.3h-3.3zM899 763h3.3v3.3h-3.3zM860 766h3.3v3.3h-3.3zM899 766h3.3v3.3h-3.3zM863 769h3.3v3.3h-3.3zM899 769h3.3v3.3h-3.3zM866 772h3.3v3.3h-3.3zM866 775h3.3v3.3h-3.3zM869 778h3.3v3.3h-3.3zM872 781h3.3v3.3h-3.3zM875 784h6.3v3.3h-6.3zM878 787h9.3v3.3h-9.3z"/>
<path fill="#dcdc9a" d="M656 688h21.3v3.3h-21.3zM656 691h21.3v3.3h-21.3zM656 694h21.3v3.3h-21.3zM659 697h21.3v3.3h-21.3zM662 700h18.3v3.3h-18.3zM905 700h6.3v3.3h-6.3zM671 703h15.3v3.3h-15.3zM761 703h33.3v3.3h-33.3zM905 703h6.3v3.3h-6.3zM677 706h12.3v3.3h-12.3zM755 706h6.3v3.3h-6.3zM791 706h15.3v3.3h-15.3zM905 706h9.3v3.3h-9.3zM683 709h12.3v3.3h-12.3zM752 709h6.3v3.3h-6.3zM803 709h30.3v3.3h-30.3zM905 709h6.3v3.3h-6.3zM692 712h9.3v3.3h-9.3zM749 712h3.3v3.3h-3.3zM830 712h3.3v3.3h-3.3zM902 712h6.3v3.3h-6.3zM701 715h9.3v3.3h-9.3zM743 715h6.3v3.3h-6.3zM833 715h3.3v3.3h-3.3zM902 715h6.3v3.3h-6.3zM710 718h15.3v3.3h-15.3zM737 718h9.3v3.3h-9.3zM833 718h3.3v3.3h-3.3zM902 718h3.3v3.3h-3.3zM725 721h12.3v3.3h-12.3zM836 721h3.3v3.3h-3.3zM902 721h3.3v3.3h-3.3zM836 724h3.3v3.3h-3.3zM902 724h3.3v3.3h-3.3zM839 727h3.3v3.3h-3.3zM902 727h3.3v3.3h-3.3zM839 730h3.3v3.3h-3.3zM902 730h3.3v3.3h-3.3zM842 733h3.3v3.3h-3.3zM902 733h3.3v3.3h-3.3zM842 736h3.3v3.3h-3.3zM902 736h3.3v3.3h-3.3zM845 739h3.3v3.3h-3.3zM902 739h3.3v3.3h-3.3zM845 742h3.3v3.3h-3.3zM902 742h3.3v3.3h-3.3zM848 745h3.3v3.3h-3.3zM902 745h3.3v3.3h-3.3zM848 748h3.3v3.3h-3.3zM902 748h3.3v3.3h-3.3zM851 751h3.3v3.3h-3.3zM902 751h3.3v3.3h-3.3zM902 754h3.3v3.3h-3.3zM854 757h3.3v3.3h-3.3zM902 757h3.3v3.3h-3.3zM902 760h3.3v3.3h-3.3zM857 763h3.3v3.3h-3.3zM902 763h3.3v3.3h-3.3zM902 766h3.3v3.3h-3.3zM860 769h3.3v3.3h-3.3zM902 769h3.3v3.3h-3.3zM863 772h3.3v3.3h-3.3zM899 772h6.3v3.3h-6.3zM899 775h3.3v3.3h-3.3zM866 778h3.3v3.3h-3.3zM899 778h3.3v3.3h-3.3zM869 781h3.3v3.3h-3.3zM899 781h3.3v3.3h-3.3zM872 784h3.3v3.3h-3.3zM872 787h6.3v3.3h-6.3zM875 790h18.3v3.3h-18.3zM881 793h6.3v3.3h-6.3z"/>
<path fill="#ece89e" d="M647 691h9.3v3.3h-9.3zM641 694h15.3v3.3h-15.3zM635 697h24.3v3.3h-24.3zM632 700h30.3v3.3h-30.3zM629 703h42.3v3.3h-42.3zM626 706h51.3v3.3h-51.3zM761 706h30.3v3.3h-30.3zM659 709h24.3v3.3h-24.3zM758 709h45.3v3.3h-45.3zM911 709h6.3v3.3h-6.3zM677 712h15.3v3.3h-15.3zM752 712h12.3v3.3h-12.3zM791 712h39.3v3.3h-39.3zM908 712h9.3v3.3h-9.3zM689 715h12.3v3.3h-12.3zM749 715h9.3v3.3h-9.3zM797 715h36.3v3.3h-36.3zM908 715h6.3v3.3h-6.3zM698 718h12.3v3.3h-12.3zM746 718h9.3v3.3h-9.3zM827 718h6.3v3.3h-6.3zM905 718h6.3v3.3h-6.3zM707 721h18.3v3.3h-18.3zM737 721h12.3v3.3h-12.3zM830 721h6.3v3.3h-6.3zM905 721h6.3v3.3h-6.3zM722 724h21.3v3.3h-21.3zM833 724h3.3v3.3h-3.3zM905 724h3.3v3.3h-3.3zM836 727h3.3v3.3h-3.3zM905 727h3.3v3.3h-3.3zM836 730h3.3v3.3h-3.3zM905 730h3.3v3.3h-3.3zM839 733h3.3v3.3h-3.3zM905 733h3.3v3.3h-3.3zM839 736h3.3v3.3h-3.3zM905 736h3.3v3.3h-3.3zM842 739h3.3v3.3h-3.3zM905 739h3.3v3.3h-3.3zM842 742h3.3v3.3h-3.3zM905 742h3.3v3.3h-3.3zM845 745h3.3v3.3h-3.3zM905 745h3.3v3.3h-3.3zM905 748h3.3v3.3h-3.3zM848 751h3.3v3.3h-3.3zM905 751h3.3v3.3h-3.3zM851 754h3.3v3.3h-3.3zM905 754h3.3v3.3h-3.3zM851 757h3.3v3.3h-3.3zM905 757h3.3v3.3h-3.3zM854 760h3.3v3.3h-3.3zM905 760h3.3v3.3h-3.3zM854 763h3.3v3.3h-3.3zM905 763h3.3v3.3h-3.3zM857 766h3.3v3.3h-3.3zM905 766h3.3v3.3h-3.3zM905 769h3.3v3.3h-3.3zM860 772h3.3v3.3h-3.3zM863 775h3.3v3.3h-3.3zM902 775h3.3v3.3h-3.3zM902 778h3.3v3.3h-3.3zM866 781h3.3v3.3h-3.3zM869 784h3.3v3.3h-3.3zM899 784h3.3v3.3h-3.3zM869 787h3.3v3.3h-3.3zM896 787h3.3v3.3h-3.3zM872 790h3.3v3.3h-3.3zM893 790h6.3v3.3h-6.3zM875 793h6.3v3.3h-6.3zM887 793h9.3v3.3h-9.3zM881 796h9.3v3.3h-9.3z"/>
<path fill="#f2eca2" d="M623 709h36.3v3.3h-36.3zM617 712h60.3v3.3h-60.3zM611 715h78.3v3.3h-78.3zM758 715h6.3v3.3h-6.3zM794 715h3.3v3.3h-3.3zM914 715h3.3v3.3h-3.3zM680 718h18.3v3.3h-18.3zM755 718h9.3v3.3h-9.3zM797 718h30.3v3.3h-30.3zM911 718h6.3v3.3h-6.3zM692 721h15.3v3.3h-15.3zM749 721h15.3v3.3h-15.3zM800 721h27.3v3.3h-27.3zM911 721h6.3v3.3h-6.3zM704 724h18.3v3.3h-18.3zM743 724h18.3v3.3h-18.3zM806 724h12.3v3.3h-12.3zM908 724h6.3v3.3h-6.3zM716 727h36.3v3.3h-36.3zM833 727h3.3v3.3h-3.3zM908 727h3.3v3.3h-3.3zM833 730h3.3v3.3h-3.3zM908 730h3.3v3.3h-3.3zM833 733h6.3v3.3h-6.3zM908 733h3.3v3.3h-3.3zM836 736h3.3v3.3h-3.3zM908 736h3.3v3.3h-3.3zM836 739h6.3v3.3h-6.3zM908 739h3.3v3.3h-3.3zM839 742h3.3v3.3h-3.3zM908 742h3.3v3.3h-3.3zM842 745h3.3v3.3h-3.3zM908 745h3.3v3.3h-3.3zM845 748h3.3v3.3h-3.3zM908 748h3.3v3.3h-3.3zM845 751h3.3v3.3h-3.3zM908 751h3.3v3.3h-3.3zM848 754h3.3v3.3h-3.3zM908 754h3.3v3.3h-3.3zM908 757h3.3v3.3h-3.3zM851 760h3.3v3.3h-3.3zM908 760h3.3v3.3h-3.3zM854 766h3.3v3.3h-3.3zM857 769h3.3v3.3h-3.3zM905 772h3.3v3.3h-3.3zM860 775h3.3v3.3h-3.3zM905 775h3.3v3.3h-3.3zM863 778h3.3v3.3h-3.3zM863 781h3.3v3.3h-3.3zM902 781h3.3v3.3h-3.3zM866 784h3.3v3.3h-3.3zM902 784h3.3v3.3h-3.3zM899 787h3.3v3.3h-3.3zM869 790h3.3v3.3h-3.3zM899 790h3.3v3.3h-3.3zM872 793h3.3v3.3h-3.3zM896 793h3.3v3.3h-3.3zM875 796h6.3v3.3h-6.3zM890 796h6.3v3.3h-6.3zM881 799h9.3v3.3h-9.3z"/>
<path fill="#f0e09c" d="M605 718h75.3v3.3h-75.3zM602 721h18.3v3.3h-18.3zM629 721h63.3v3.3h-63.3zM917 721h3.3v3.3h-3.3zM680 724h24.3v3.3h-24.3zM914 724h6.3v3.3h-6.3zM692 727h24.3v3.3h-24.3zM752 727h6.3v3.3h-6.3zM911 727h9.3v3.3h-9.3zM707 730h48.3v3.3h-48.3zM911 730h6.3v3.3h-6.3zM722 733h30.3v3.3h-30.3zM911 733h3.3v3.3h-3.3zM833 736h3.3v3.3h-3.3zM911 736h3.3v3.3h-3.3zM911 739h3.3v3.3h-3.3zM836 742h3.3v3.3h-3.3zM911 742h3.3v3.3h-3.3zM839 745h3.3v3.3h-3.3zM911 745h3.3v3.3h-3.3zM839 748h6.3v3.3h-6.3zM842 751h3.3v3.3h-3.3zM845 754h3.3v3.3h-3.3zM848 757h3.3v3.3h-3.3zM848 760h3.3v3.3h-3.3zM851 763h3.3v3.3h-3.3zM908 763h3.3v3.3h-3.3zM908 766h3.3v3.3h-3.3zM854 769h3.3v3.3h-3.3zM908 769h3.3v3.3h-3.3zM857 772h3.3v3.3h-3.3zM908 772h3.3v3.3h-3.3zM857 775h3.3v3.3h-3.3zM860 778h3.3v3.3h-3.3zM905 778h3.3v3.3h-3.3zM905 781h3.3v3.3h-3.3zM863 784h3.3v3.3h-3.3zM866 787h3.3v3.3h-3.3zM902 787h3.3v3.3h-3.3zM866 790h3.3v3.3h-3.3zM869 793h3.3v3.3h-3.3zM899 793h3.3v3.3h-3.3zM872 796h3.3v3.3h-3.3zM896 796h3.3v3.3h-3.3zM875 799h6.3v3.3h-6.3zM890 799h6.3v3.3h-6.3zM878 802h9.3v3.3h-9.3z"/>
<path fill="#ecd896" d="M620 721h9.3v3.3h-9.3zM599 724h54.3v3.3h-54.3zM668 724h12.3v3.3h-12.3zM596 727h3.3v3.3h-3.3zM674 727h18.3v3.3h-18.3zM683 730h24.3v3.3h-24.3zM917 730h3.3v3.3h-3.3zM692 733h30.3v3.3h-30.3zM914 733h6.3v3.3h-6.3zM707 736h36.3v3.3h-36.3zM914 736h6.3v3.3h-6.3zM722 739h9.3v3.3h-9.3zM914 739h3.3v3.3h-3.3zM914 742h3.3v3.3h-3.3zM911 748h3.3v3.3h-3.3zM839 751h3.3v3.3h-3.3zM911 751h3.3v3.3h-3.3zM842 754h3.3v3.3h-3.3zM911 754h3.3v3.3h-3.3zM842 757h6.3v3.3h-6.3zM911 757h3.3v3.3h-3.3zM845 760h3.3v3.3h-3.3zM911 760h3.3v3.3h-3.3zM848 763h3.3v3.3h-3.3zM911 763h3.3v3.3h-3.3zM851 766h3.3v3.3h-3.3zM851 769h3.3v3.3h-3.3zM854 772h3.3v3.3h-3.3zM908 775h3.3v3.3h-3.3zM857 778h3.3v3.3h-3.3zM860 781h3.3v3.3h-3.3zM905 784h3.3v3.3h-3.3zM863 787h3.3v3.3h-3.3zM902 790h3.3v3.3h-3.3zM866 793h3.3v3.3h-3.3zM869 796h3.3v3.3h-3.3zM899 796h3.3v3.3h-3.3zM872 799h3.3v3.3h-3.3zM896 799h3.3v3.3h-3.3zM872 802h6.3v3.3h-6.3zM887 802h6.3v3.3h-6.3zM878 805h9.3v3.3h-9.3z"/>
<path fill="#e6cc8c" d="M599 727h51.3v3.3h-51.3zM593 730h9.3v3.3h-9.3zM620 730h27.3v3.3h-27.3zM920 733h3.3v3.3h-3.3zM920 736h3.3v3.3h-3.3zM917 739h6.3v3.3h-6.3zM917 742h3.3v3.3h-3.3zM914 745h3.3v3.3h-3.3zM914 748h3.3v3.3h-3.3zM914 751h3.3v3.3h-3.3zM914 754h3.3v3.3h-3.3zM845 763h3.3v3.3h-3.3zM848 766h3.3v3.3h-3.3zM911 766h3.3v3.3h-3.3zM848 769h3.3v3.3h-3.3zM911 769h3.3v3.3h-3.3zM851 772h3.3v3.3h-3.3zM854 775h3.3v3.3h-3.3zM908 778h3.3v3.3h-3.3zM857 781h3.3v3.3h-3.3zM908 781h3.3v3.3h-3.3zM860 784h3.3v3.3h-3.3zM860 787h3.3v3.3h-3.3zM905 787h3.3v3.3h-3.3zM863 790h3.3v3.3h-3.3zM863 793h3.3v3.3h-3.3zM902 793h3.3v3.3h-3.3zM866 796h3.3v3.3h-3.3zM866 799h6.3v3.3h-6.3zM869 802h3.3v3.3h-3.3zM893 802h3.3v3.3h-3.3zM872 805h6.3v3.3h-6.3zM887 805h6.3v3.3h-6.3zM875 808h9.3v3.3h-9.3z"/>
<path fill="#e0c484" d="M602 730h18.3v3.3h-18.3zM590 733h54.3v3.3h-54.3zM587 736h6.3v3.3h-6.3zM626 736h15.3v3.3h-15.3zM584 739h3.3v3.3h-3.3zM920 742h3.3v3.3h-3.3zM917 745h6.3v3.3h-6.3zM917 748h3.3v3.3h-3.3zM917 751h3.3v3.3h-3.3zM914 757h3.3v3.3h-3.3zM914 760h3.3v3.3h-3.3zM914 763h3.3v3.3h-3.3zM845 766h3.3v3.3h-3.3zM848 772h3.3v3.3h-3.3zM911 772h3.3v3.3h-3.3zM851 775h3.3v3.3h-3.3zM911 775h3.3v3.3h-3.3zM854 778h3.3v3.3h-3.3zM854 781h3.3v3.3h-3.3zM857 784h3.3v3.3h-3.3zM908 784h3.3v3.3h-3.3zM860 790h3.3v3.3h-3.3zM905 790h3.3v3.3h-3.3zM863 796h3.3v3.3h-3.3zM902 796h3.3v3.3h-3.3zM863 799h3.3v3.3h-3.3zM899 799h3.3v3.3h-3.3zM866 802h3.3v3.3h-3.3zM896 802h3.3v3.3h-3.3zM866 805h6.3v3.3h-6.3zM893 805h3.3v3.3h-3.3zM866 808h9.3v3.3h-9.3zM884 808h6.3v3.3h-6.3zM869 811h12.3v3.3h-12.3z"/>
<path fill="#d8b47a" d="M593 736h33.3v3.3h-33.3zM587 739h9.3v3.3h-9.3zM614 739h21.3v3.3h-21.3zM584 742h6.3v3.3h-6.3zM923 742h3.3v3.3h-3.3zM581 745h6.3v3.3h-6.3zM923 745h3.3v3.3h-3.3zM920 748h3.3v3.3h-3.3zM917 754h3.3v3.3h-3.3zM917 757h3.3v3.3h-3.3zM914 766h3.3v3.3h-3.3zM914 769h3.3v3.3h-3.3zM851 778h3.3v3.3h-3.3zM911 778h3.3v3.3h-3.3zM851 781h3.3v3.3h-3.3zM854 784h3.3v3.3h-3.3zM857 787h3.3v3.3h-3.3zM908 787h3.3v3.3h-3.3zM857 790h3.3v3.3h-3.3zM860 793h3.3v3.3h-3.3zM905 793h3.3v3.3h-3.3zM860 796h3.3v3.3h-3.3zM860 799h3.3v3.3h-3.3zM902 799h3.3v3.3h-3.3zM863 802h3.3v3.3h-3.3zM899 802h3.3v3.3h-3.3zM863 805h3.3v3.3h-3.3zM896 805h3.3v3.3h-3.3zM863 808h3.3v3.3h-3.3zM890 808h3.3v3.3h-3.3zM863 811h6.3v3.3h-6.3zM881 811h6.3v3.3h-6.3zM866 814h15.3v3.3h-15.3z"/>
<path fill="#d0a870" d="M596 739h18.3v3.3h-18.3zM590 742h9.3v3.3h-9.3zM608 742h21.3v3.3h-21.3zM587 745h6.3v3.3h-6.3zM617 745h3.3v3.3h-3.3zM581 748h9.3v3.3h-9.3zM923 748h3.3v3.3h-3.3zM581 751h3.3v3.3h-3.3zM920 751h3.3v3.3h-3.3zM920 754h3.3v3.3h-3.3zM917 760h3.3v3.3h-3.3zM917 763h3.3v3.3h-3.3zM914 772h3.3v3.3h-3.3zM911 781h3.3v3.3h-3.3zM854 787h3.3v3.3h-3.3zM854 790h3.3v3.3h-3.3zM908 790h3.3v3.3h-3.3zM857 793h3.3v3.3h-3.3zM857 796h3.3v3.3h-3.3zM905 796h3.3v3.3h-3.3zM857 799h3.3v3.3h-3.3zM860 802h3.3v3.3h-3.3zM860 805h3.3v3.3h-3.3zM860 808h3.3v3.3h-3.3zM893 808h3.3v3.3h-3.3zM860 811h3.3v3.3h-3.3zM887 811h3.3v3.3h-3.3zM860 814h6.3v3.3h-6.3zM881 814h3.3v3.3h-3.3zM866 817h12.3v3.3h-12.3z"/>
<path fill="#c89c68" d="M599 742h9.3v3.3h-9.3zM593 745h24.3v3.3h-24.3zM590 748h12.3v3.3h-12.3zM605 748h9.3v3.3h-9.3zM584 751h12.3v3.3h-12.3zM923 751h3.3v3.3h-3.3zM581 754h6.3v3.3h-6.3zM923 754h3.3v3.3h-3.3zM920 757h3.3v3.3h-3.3zM920 760h3.3v3.3h-3.3zM917 766h3.3v3.3h-3.3zM917 769h3.3v3.3h-3.3zM914 775h3.3v3.3h-3.3zM914 778h3.3v3.3h-3.3zM911 784h3.3v3.3h-3.3zM854 793h3.3v3.3h-3.3zM908 793h3.3v3.3h-3.3zM854 796h3.3v3.3h-3.3zM854 799h3.3v3.3h-3.3zM905 799h3.3v3.3h-3.3zM857 802h3.3v3.3h-3.3zM902 802h3.3v3.3h-3.3zM857 805h3.3v3.3h-3.3zM899 805h3.3v3.3h-3.3zM857 808h3.3v3.3h-3.3zM896 808h3.3v3.3h-3.3zM857 811h3.3v3.3h-3.3zM890 811h3.3v3.3h-3.3zM857 814h3.3v3.3h-3.3zM884 814h6.3v3.3h-6.3zM860 817h6.3v3.3h-6.3zM878 817h6.3v3.3h-6.3zM866 820h9.3v3.3h-9.3z"/>
<path fill="#c08c60" d="M602 748h3.3v3.3h-3.3zM596 751h18.3v3.3h-18.3zM587 754h30.3v3.3h-30.3zM926 754h3.3v3.3h-3.3zM581 757h18.3v3.3h-18.3zM923 757h3.3v3.3h-3.3zM581 760h15.3v3.3h-15.3zM923 760h3.3v3.3h-3.3zM920 763h3.3v3.3h-3.3zM917 772h3.3v3.3h-3.3zM914 781h3.3v3.3h-3.3zM911 787h3.3v3.3h-3.3zM851 796h3.3v3.3h-3.3zM908 796h3.3v3.3h-3.3zM851 799h3.3v3.3h-3.3zM851 802h6.3v3.3h-6.3zM905 802h3.3v3.3h-3.3zM854 805h3.3v3.3h-3.3zM902 805h3.3v3.3h-3.3zM854 808h3.3v3.3h-3.3zM899 808h3.3v3.3h-3.3zM854 811h3.3v3.3h-3.3zM893 811h3.3v3.3h-3.3zM854 814h3.3v3.3h-3.3zM890 814h3.3v3.3h-3.3zM857 817h3.3v3.3h-3.3zM884 817h3.3v3.3h-3.3zM860 820h6.3v3.3h-6.3zM875 820h6.3v3.3h-6.3z"/>
<path fill="#b87c58" d="M599 757h18.3v3.3h-18.3zM926 757h3.3v3.3h-3.3zM596 760h21.3v3.3h-21.3zM926 760h3.3v3.3h-3.3zM581 763h36.3v3.3h-36.3zM923 763h3.3v3.3h-3.3zM581 766h24.3v3.3h-24.3zM920 766h3.3v3.3h-3.3zM581 769h21.3v3.3h-21.3zM920 769h3.3v3.3h-3.3zM581 772h21.3v3.3h-21.3zM581 775h21.3v3.3h-21.3zM917 775h3.3v3.3h-3.3zM581 778h21.3v3.3h-21.3zM917 778h3.3v3.3h-3.3zM584 781h21.3v3.3h-21.3zM587 784h15.3v3.3h-15.3zM914 784h3.3v3.3h-3.3zM911 790h3.3v3.3h-3.3zM848 796h3.3v3.3h-3.3zM845 799h6.3v3.3h-6.3zM908 799h3.3v3.3h-3.3zM848 802h3.3v3.3h-3.3zM848 805h6.3v3.3h-6.3zM851 808h3.3v3.3h-3.3zM902 808h3.3v3.3h-3.3zM851 811h3.3v3.3h-3.3zM896 811h3.3v3.3h-3.3zM851 814h3.3v3.3h-3.3zM893 814h3.3v3.3h-3.3zM854 817h3.3v3.3h-3.3zM887 817h3.3v3.3h-3.3zM857 820h3.3v3.3h-3.3zM881 820h6.3v3.3h-6.3zM860 823h18.3v3.3h-18.3z"/>
<path fill="#b07050" d="M926 763h3.3v3.3h-3.3zM605 766h12.3v3.3h-12.3zM923 766h6.3v3.3h-6.3zM602 769h15.3v3.3h-15.3zM923 769h3.3v3.3h-3.3zM602 772h15.3v3.3h-15.3zM920 772h3.3v3.3h-3.3zM602 775h15.3v3.3h-15.3zM920 775h3.3v3.3h-3.3zM602 778h12.3v3.3h-12.3zM605 781h6.3v3.3h-6.3zM917 781h3.3v3.3h-3.3zM914 787h3.3v3.3h-3.3zM911 793h3.3v3.3h-3.3zM911 796h3.3v3.3h-3.3zM842 802h6.3v3.3h-6.3zM908 802h3.3v3.3h-3.3zM842 805h6.3v3.3h-6.3zM905 805h3.3v3.3h-3.3zM845 808h6.3v3.3h-6.3zM848 811h3.3v3.3h-3.3zM899 811h3.3v3.3h-3.3zM848 814h3.3v3.3h-3.3zM896 814h3.3v3.3h-3.3zM851 817h3.3v3.3h-3.3zM890 817h6.3v3.3h-6.3zM851 820h6.3v3.3h-6.3zM887 820h3.3v3.3h-3.3zM857 823h3.3v3.3h-3.3zM878 823h6.3v3.3h-6.3zM860 826h18.3v3.3h-18.3z"/>
<path fill="#a86048" d="M923 772h3.3v3.3h-3.3zM923 775h3.3v3.3h-3.3zM920 778h3.3v3.3h-3.3zM917 784h3.3v3.3h-3.3zM914 790h3.3v3.3h-3.3zM914 793h3.3v3.3h-3.3zM911 799h3.3v3.3h-3.3zM908 805h3.3v3.3h-3.3zM842 808h3.3v3.3h-3.3zM905 808h3.3v3.3h-3.3zM842 811h6.3v3.3h-6.3zM902 811h3.3v3.3h-3.3zM842 814h6.3v3.3h-6.3zM899 814h3.3v3.3h-3.3zM839 817h12.3v3.3h-12.3zM896 817h3.3v3.3h-3.3zM845 820h6.3v3.3h-6.3zM890 820h6.3v3.3h-6.3zM848 823h9.3v3.3h-9.3zM884 823h6.3v3.3h-6.3zM851 826h9.3v3.3h-9.3zM878 826h6.3v3.3h-6.3zM857 829h24.3v3.3h-24.3zM866 832h6.3v3.3h-6.3z"/>
<path fill="#a05440" d="M923 778h3.3v3.3h-3.3zM920 781h6.3v3.3h-6.3zM920 784h3.3v3.3h-3.3zM917 787h3.3v3.3h-3.3zM917 790h3.3v3.3h-3.3zM914 796h3.3v3.3h-3.3zM911 802h3.3v3.3h-3.3zM908 808h3.3v3.3h-3.3zM905 811h3.3v3.3h-3.3zM902 814h3.3v3.3h-3.3zM899 817h3.3v3.3h-3.3zM842 820h3.3v3.3h-3.3zM896 820h3.3v3.3h-3.3zM842 823h6.3v3.3h-6.3zM890 823h6.3v3.3h-6.3zM842 826h9.3v3.3h-9.3zM884 826h9.3v3.3h-9.3zM845 829h12.3v3.3h-12.3zM881 829h9.3v3.3h-9.3zM848 832h18.3v3.3h-18.3zM872 832h15.3v3.3h-15.3zM860 835h21.3v3.3h-21.3z"/>
<path fill="#984838" d="M923 784h3.3v3.3h-3.3zM920 787h6.3v3.3h-6.3zM920 790h3.3v3.3h-3.3zM917 793h3.3v3.3h-3.3zM917 796h3.3v3.3h-3.3zM914 799h3.3v3.3h-3.3zM914 802h3.3v3.3h-3.3zM911 805h3.3v3.3h-3.3zM911 808h3.3v3.3h-3.3zM908 811h3.3v3.3h-3.3zM905 814h6.3v3.3h-6.3zM902 817h6.3v3.3h-6.3zM899 820h6.3v3.3h-6.3zM896 823h9.3v3.3h-9.3zM893 826h9.3v3.3h-9.3zM890 829h9.3v3.3h-9.3zM887 832h6.3v3.3h-6.3z"/>
<path fill="#903c34" d="M923 790h3.3v3.3h-3.3zM920 793h6.3v3.3h-6.3zM920 796h3.3v3.3h-3.3zM917 799h6.3v3.3h-6.3zM917 802h3.3v3.3h-3.3zM914 805h6.3v3.3h-6.3zM914 808h3.3v3.3h-3.3zM911 811h6.3v3.3h-6.3zM911 814h6.3v3.3h-6.3zM908 817h6.3v3.3h-6.3zM905 820h6.3v3.3h-6.3zM905 823h3.3v3.3h-3.3zM902 826h3.3v3.3h-3.3z"/>
<path fill="#882c2c" d="M920 802h3.3v3.3h-3.3zM917 808h3.3v3.3h-3.3z"/>
</g>
<g clip-path="url(#fr)" fill="none" stroke-linejoin="round" stroke-linecap="round">
<path d="M118.8 269.5 128.8 268.8 137 266 144.6 263.8M1136.4 138.8 1141.4 141.8 1139.4 149.7 1131.4 153.7 1129.4 161.7 1133.4 169.7 1139.4 173.6 1145.4 181.6 1139.4 185.6 1145.4 189.6 1153.3 187.6 1157.3 193.6 1157.3 201.6 1167.3 205.5 1175.3 209.5 1185.2 211.5 1191.2 213.5 1193.2 209.5 1197.2 199.6 1199.2 189.6M1136.4 138.8 1139.4 137.8 1149.4 132.8 1155.3 135.8 1159.3 139.8 1169.3 141.8 1179.3 140.8 1189.2 143.7 1197.2 147.7M1185 52.5 1197.5 57.5 1192.5 70 1197 80M1120 294 1122 285 1128 282 1135 285" stroke="#777" stroke-width="0.8"/>
<path d="M171.5 52 171.5 166.8 172 167 175 172.5 185 179 194 181 200 189 207.5 197.5 212.5 201 220 202.5 226 209 235 215 242.5 225 250 230 260 237.5 267.5 244 269 255 271 262.5 277.5 270 280 272.5M355 52 355 272.5M502 52.5 502 122.5 505 162.5 510 225 513.8 271M627 271 627 187.5 741 100M915 52 915 305 917.5 315 925 325 937.5 332.5 950 337.5 960 342.5 972.5 350 987.5 349 1000 347.5 1007.5 350 1010 355M1010 355 1032.5 335 1050 327.5 1067.5 320M1120 294 1130 292.5 1150 295 1162.5 300 1175 305 1190 300M375 662.5 378.8 677.5 381 690 380 705 380 725 372.5 730 375 740 380 755 382.5 760 370 770M275 735 302.5 735M767 880 767 889M382.5 760 387.3 755.5 394.6 763.7 396.4 774.7 403.7 780.2 408.3 787.5 416.5 786.6 419.3 779.3 420.2 771 425.6 761.9 434.8 765.6 443.9 769.2 453 770.1 458.5 763.7 465.8 762.8 471.3 763.7 476.8 771 478.6 780.2 474.9 792.9 478.6 802.1 485.9 805.7 491.4 800.3 500.5 802.1 511.5 805.7 522.4 810.3M477.5 712.5 470 727.5 467.5 740 469.5 754.6 471.3 763.7M408.3 787.5 409.2 798.4 416.5 809.4 423.8 816.7 429.3 825.8 434.8 838.6 440.3 845.9 445.7 847.7 451.2 855 458.5 858.7 465.8 853.2 471.3 858.7 478.6 860.5M491.4 800.3 491.4 811.2 482.2 813 471.3 816.7 465.8 825.8 464 836.8 462.2 849.6 460.3 860.5 460.3 876.9 462.2 888M522.4 810.3 515.1 820.3 504.2 829.5 496.9 838.6 498.7 849.6 506 856.9 511.5 855 513.3 864.2 511.5 871.5 511.5 878.8 509.6 888M522.4 810.3 524.2 800.3 526.1 796.6 533.4 794.8 526.1 789.3 522.4 780.2 518.8 772.9 516.9 769.2 524.2 761.9 526.1 754.6 524.2 749.1 533.4 741.8 540.7 740 547.5 757.5M522.4 810.3 527.9 820.3 531.5 831.3 537 840.4 538.8 849.6 548 853.2 555.3 856.9 562.6 858.7 569.9 860.5 577.2 862.3M537 840.4 540.7 831.3 544.3 820.3 546.2 811.2 553.5 802.1 558.9 798.4 566.2 791.1 564.4 782 555.3 776.5 548 765.6 544.3 754.6 542.5 745.5M511.5 871.5 522.4 873.3 531.5 876.9 540.7 880.6 549.8 878.8 560.8 882.4 568.1 882.4 571.7 888M489.5 856.9 487.7 867.8 493.2 876.9 496.9 888M564.4 858.7 566.2 867.8 564.4 878.8 568.1 888M464 850 466 855 468 851 470 858 473 853" stroke="#777" stroke-width="0.8"/>
<path d="M83 102.5 88.8 108.8 95 113.8 101 120 107.5 126 113 135.5M88.8 116 98.8 117.5 106 119 113.8 116 122.5 115.5 130.8 117M75.5 147 83.8 149 93 152.5 88 151 80 148M30.5 170 42.5 167.5 53.8 165.5 63.8 169 72.5 174 82.5 172.5M37.5 175 47.5 171M187.5 190 200 204 205 203M211 210 216 212.5M212.5 234.5 210 240 212 247.5M206 255.5 207 264.5M241 127.5 250 131 260 130 268 134 258 135 248 133 241 127.5M16.5 233 22.9 231.6 31.5 231.6 42.9 235.1 57.2 238.7 68.7 240.9 74.4 246.6 80.1 255.2 87.3 260.9 97.3 265.2 105.9 269.5 111.6 275.2 114.5 281 111.6 283.8 105.9 284.5 97.3 282.4 85.9 279.5 77.3 276.7 71.6 273.8 64.4 269.5 57.2 265.2 50.1 260.9 42.9 255.2 37.2 252.3 28.6 248 25.8 243.7 20 238 16.5 233M26 244 30 246 33 243 36 250 40 248 44 256 48 254 52 260 56 258 60 265 64 263 68 270 72 268 76 275 80 272 83 277M6.4 162 11.5 163.6 8.6 172.2 14.3 180.8 18.6 190.8 22.9 200.8 25.8 209.4 28.6 218 32.9 223.7 41.5 228 51.5 230.9 63 235.1 71.6 239.4 77.3 243.7 83 249.5 88.7 255.2 97.3 259.5 105.9 263.8 114.5 269.5 118.8 273.8M6 170 10 180 13 190 17 198 20 206 23 214 26 220 30 226 36 229 45 231 55 234 64 238 72 242 78 247 84 252 91 258 99 262 108 267 115 272M8 185 12 196 15 205 19 212 22 218M14.3 173.6 20 176 25.8 178.6M21.5 195.1 30 197 35.8 198 40 193 42.9 189.3M28.6 202.2 37 200 45.8 198 47 202 48.7 205.1M32.9 212.2 40 212 48.7 213 49 209M47.2 230.9 55 229 62 228 68.7 227.3 69 230 67.3 233.7M77.3 240.9 79 236 81.6 230.9M85.9 243.7 88 241 91.6 240.9M93 255.2 96 250 100.2 246.6M100.2 262.3 103 259 105.9 258M111.6 263.8 115 262 117.4 262.3M30.1 169.3 40.1 167.9 47.2 169.3 53 165.7 63 167.9 71.6 172.2 76 174 81.6 172.9M37.2 175.8 42 173 47.2 169.3M310 57.5 318 58 324 62 320 67.5 312 66 310 57.5M331 56 340 60 350 55 356 52.5M407.5 85 415 83 427.5 81 427 88 415 90 408 91 407.5 85M376 101 382 104 390 110 385 120 380 125 372 118 370 116 378 113 376 101M389 119 395 125 400 135M409 121 411 122M420 124 429 124M467.5 60 470 58.7 473.3 60 471 62 467.5 60M473.3 65.3 480 62 486.7 64.5 485 68.7 481.7 72 480 78.7 476.7 80.3 473.3 77 468.3 78.7 471.7 72 473.3 65.3M478.3 110.3 483.3 105.3 490 102 496.7 98.7 501.7 93.7 503.3 88.7 501.7 85.3 505 80.3 510 77 506.7 72 501.7 72 496.7 75.3 491.7 80.3 490 85.3 485 88.7 486.7 93.7 483.3 100.3 480 105.3 478.3 110.3M545 102.8 550 98.7 556.7 95.3 563.3 92 566.7 87 570 82 573.3 83.7 575 87.8 571.7 92 565 97 556.7 100.3 548.3 103.7 545 102.8M584 88 588 87 591.7 89 587 90.3 584 88M521.7 111.2 530 112 538.3 107.8M530 112 530.8 118.7 526.7 123.7 531.7 125.3 539.2 125.3M500 121 505 120 509 123 504 127 500 124M441.7 135.3 448.3 132.8 456.7 134.5 458.3 137.8 450 142 442.5 142 441.7 135.3M452.5 127 457 129 461.7 131M468 132 473 132M494 159 498 159 499 163 494 163.7 494 159M467.5 173 472 170 476.7 171 472 174.5 467.5 173M600.8 116 605 113 614.2 112 610 116 603 117 600.8 116M622.5 106 628 107 634.2 110 627 111M576.7 140.3 582 138 588.3 136.2M573.3 149.5 580 147 585 145.3 592 143 599.2 142M570 168.7 572 160 575 154 580.8 157 576 162 580 166 574 168M553.3 165.3 560 164.5 566.7 165.3 573.3 167 578.3 172 583.3 180.3 588.3 190.3 593.3 200.3 596.7 208.7 600 215 605 222 606 232 603 240 598.8 244 595 240 592.5 230 590 220 587.5 212.5 580 205 571.7 208.7 568.3 202 563.3 193.7 558.3 185.3 552.5 180.3 553.3 165.3M556.7 183.7 562 186 566.7 184.5M531.7 158.7 540 157.8 545 162 540 167 533.3 168.7 526.7 172 523.3 174.5 530 177 540 176.2 548.3 177 550 180.3 543.3 183.7 540 185.3 543.3 193.7 541.7 202 538.3 208.7 540 212.5 550 215 560 220 565 230 562.5 237.5 570 245 577.5 242.5 575 235 568 226 560 216 549 210 541 207M520 182 525 182 530 187 533.3 193.7 535 202 536.7 208.7M631.7 163 636 162 640 165 636 168.7 631.7 166M635 150 640 147 638 153.7M392.5 236 405 235 412.5 230 414 224 420 229M495 160 497 161M602.5 115 607 113 612.5 112.5M624 107.5 629 108 634 110M635 101 645 96 655 95 645 99 637 103M631 113 640 117 649 116 640 119 631 113M635.7 251.4 639.8 253 641.5 258 646.5 263 648.1 268 643.2 271.3 636.5 273 633.2 266.3 629.9 261.3 629 258 633.2 256.3 635.7 251.4M632 262 637 262 640 266 636 268M740 246 745 243.9 752 245 757 250 758.5 256 755 262 749 263.8 742 261 739 255 738.6 250 740 246M745 252 749 251 748 256M664.7 236.4 669.7 239.8 673 243.1 678 244.7 684.6 243.1 691.3 243.9 689.6 239.8 686.3 238.1 693 234.8M686.3 206.6 686.5 207.5M685.5 213.2 686.3 219.8 689 219 689.6 213.2 692.1 212.4M693 224.8 697.9 229 706.2 227.3 712.9 224.8 714.5 226.5 707.9 229 700 230M600 215 605 218 607.5 225 604 230 606 236 601 241.4M610.8 242.2 616.6 242.2M692 274 696 273.8 699.6 276.3 694 276M655 275 660 274 665 277 672 280 678 284M635 52.5 642.5 57.5 644 67.5M645 57.5 662.5 57.5 667.5 67.5 675 82.5 677.5 92.5 672.5 97.5 680 95 690 92.5 705 90 717.5 94 730 97.5 742.5 100 750 104 760 110 767.5 117.5 780 121 795 126 807.5 132.5 810 134 825 134 840 135 857.5 137.5 865 139 862.5 150 865 162.5 865 177.5 865 185 872.5 195 882.5 202.5 892.5 212.5 897.5 220 901 221 910 222.5 917.5 225 925 220 927.5 210 932.5 200 930 195 925 182.5 924 170 920 162.5 915 155 911 147.5 912.5 145 925 141 937.5 136 950 130 962.5 122.5 969 112.5 970 102.5 967.5 90 960 77.5 950 67.5 937.5 61 930 55 931 52M807.5 134 806 140M869 182.5 881 181 893.5 186 881 190 869 187 869 182.5M970 108 980 114 972 113M905 98 910 105 915 115 912 120M910 100 918 108 922 118M915 99 925 110 928 120M987.9 93.5 995.9 90.9 1003.9 88.9 1010.8 85.5M993.9 91.9 1001.9 89.9 1007.8 91.9M1000.9 112.9 1007.8 110.9 1013.8 114.8 1017.8 116.8 1014.8 119.8 1009.8 117.8 1002.9 116.8 1000.9 112.9M1023.4 141.8 1031.8 137.8 1041.7 135.8 1050.7 133.8 1043.7 138.8 1035.7 140.8 1025.8 142.8 1023.4 141.8M1079.6 152.7 1087.6 151.7 1091.6 149.7 1090.6 146.7M1104.5 103.9 1103.5 108.9 1107.5 112.9 1111.5 116.8M1101.5 79 1111.5 74 1119.5 72 1125.4 71 1131.4 74M963 179.6 966 174.6 970 174.6 968 179.6 964 184.6M1053 171 1057 172 1056 174.6 1053 173.5M1070 172 1073.6 174.6M1071 184 1076 183 1080 186 1083.6 184 1080 190 1082 192.6 1076 189 1072 190M1103.5 162.7 1111.5 165.7 1119.5 169.7 1123.4 168.7 1115.5 173.6 1111.5 178.6 1119.5 177.6 1125.4 180.6 1128.4 178.6M1107.5 169.7 1109.5 175.6M1104.5 221.5 1106 217 1110 215.5 1116 215.5 1121 218 1122.5 222 1120 226 1114 227.5 1108 226.5 1104.5 221.5M1102.5 211.5 1106 217M1117.5 207.5 1116 215.5M1123.4 212.5 1121 218M1113.5 227.5 1113.5 233.4M1012.8 248.4 1017.8 237.4 1019.8 229.5 1027.8 223.5 1035.7 219.5 1040.7 222.5 1033.7 227.5 1025.8 233.4 1019.8 241.4 1015.8 249.4M1064.6 233.4 1065 236M1066 244 1067 251M1100 236 1103 242 1101 247 1106 250 1108 255M1149.4 133.8 1153.3 141.8 1155.3 149.7 1157.3 155.7 1163.3 157.7 1171.3 161.7 1179.3 159.7 1187.2 157.7 1193.2 153.7 1199.2 155.7M1177.3 147.7 1179.3 159.7M1171.3 163.7 1175.3 173.6 1181.2 173.6M1151.3 147.7 1154.3 157.7M970 105.9 972 107.9 979.9 114.8 974 115.8 970 113.9M945 254 950 246 957 252M1072.5 262 1080 256 1088 258 1094 264M905 272 910 276 918 274M992 280 1000 278 1007 282M1048 279 1055 278 1057 283M1087.5 55 1100 54 1112.5 55 1120 60 1122.5 70 1115 74 1102.5 79M1125 65 1137.5 62.5 1150 60 1157.5 55 1165 54 1170 52.5M285 59 286 60M247 245 248 246" stroke="#111" stroke-width="1.4"/>
<path d="M117.5 272.5 637.5 272.5M100 332.5 110 335 117.5 337.5 122.5 345 130 347 140 345.5 150 346 162.5 343 175 341 190 339 205 338 227.5 338M226 272.5 226 338M227.5 338 234 341 236 349 234 360 227.5 370 224 375 226 380 226 427M95 427 335.8 427M171.5 427 171.5 492.5 270 580M281 427 281 555M244 272.5 244 292.5 250 304 260 312.5 270 320 275 327.5 274 337.5 272.5 347.5 282.5 350 290 357.5 297.5 365 300 371 315 370 327.5 367.5 332.5 365 335.8 360.8M335.8 360.8 335.8 448 372.5 448M335.8 360.8 464.5 360.8M372.5 448 501 448M464.5 272.5 464.5 448M464.5 340 602.5 340M464.5 405 562.5 405 575 409 587.5 411 600 414M602.5 272.5 603 300 602 340 603 370 602 393.8M602 393.8 603 400 602 408 604 414 606 418M501 448 501 537M501 470.5 622.5 470.5M372.5 448 372.5 661M281 537 637.5 537M484 537 484 647M484 548 539 548 539 590 550 595 562.5 600 575 602.5 587.5 605 600 605 615 605 625 604.5 632.5 607.5 640 611 647.5 612.5M417.5 647 484 647M634 482.5 637.5 485 637.5 547.5 640 611M647.5 612.5 647.5 625 700 624.5M647.5 625 649 635 651 647.5 655 660 657.5 672.5 655 685 654 692.5M637.5 547.5 720 547.5 717.5 552.5 716 559 727.5 559 729 552.5 732.5 550M700 390 701 402.5 705 415 710 416 717.5 425 715 435 705 441 702.5 452.5 695 462.5 696 475 702.5 485 707.5 490 715 500 717.5 510 725 517.5 732.5 525 737.5 532.5 736 542.5 732.5 550 729 560 725 570 720 580 715 590 707.5 602.5 702.5 612.5 701 625 702.5 640 697.5 655 694 667.5 697 680 705 690M694 669 726 669 726 670 727.5 682.5 730 685M682.5 321 680 327.5 672.5 340 670 350 674 360 675 369 685 375 695 381 700 390M602 393.8 700 393.8M615 457.5 695 457.5M606 418 610 425 615 445 617.5 457.5 622.5 465 630 472.5 634 482.5M710 416 767.5 416M767.5 432.5 767.5 470 765 480 760 485 766 500 760 512.5 757.5 517.5M817.5 432.5 817.5 492M767.5 432.5 845 432.5M737.5 532.5 740 532.5 750 529 755 522.5 760 515 770 515 780 517.5 790 512.5 800 505 807.5 497.5 815 492.5 825 490 837.5 492.5 850 497.5 856.7 500 863.3 498.3 868.3 495 873.3 490 880 485 885 480 890 473.3 893.3 465 895 456.7 896.7 450M756 537.5 757.5 547.5 759 560M737.5 545 837.5 545 875 546 980.8 546.2M837.5 545 853.3 538.3 865 530 868.3 525M856.7 500 858.3 506.7 861.7 515 868.3 525 875 531.7 883.3 530 891.7 528.3 900 525M873.3 546.7 856.7 556.7 840 563.3 830 575 826 580M717.5 580.8 826 580.8 847.5 580M847.5 580 861.7 576.7 881.7 578.3 906.7 585 923.3 597 932.5 605M845 585 855 592.5 862.5 605 870 615 877.5 625 885 637.5 890 652.5 891 660M757.5 581 755 610 752.5 635 751 660 751 680M802.5 581 807.5 605 812.5 630 815 645 812.5 660 815 675M766 669 815 669M766 669 767.5 680M815 675 840 677 865.5 678.5 867.6 681.7 870.8 673.2 877 675.3M900 525 903.3 518.3 906.7 511.7 913.3 501.7 918.3 505 921.7 501.7 926.7 495 931.7 490 935 485 936.7 481.7 940 480 946.7 488.3 953.3 491.7 960 493.3 956.7 500 956.7 506.7 963.3 510 970 513.3M916.7 486.7 916.7 478.3 923.3 481.7 930 480 936.7 478.3 943.3 478.3 946.7 488.3M896.7 424 896.7 476.3 984.2 476.3 984.2 506.7M910 421.7 910 426.7 992.5 427 1000 437.5 1005 442.5 1017.5 445M984.2 476.3 990 473.3 1000 468.3 998.3 461.7 995.8 453.3 996.7 446.7 1001.7 441.7 1003 440M1003 440 1016.7 446.7M1000 360 1062.5 360 1070 355M1027.5 360 1029 385 1030 410 1025 410.5 1025 445M1060 361 1055 370 1047.5 387.5 1044 410M1030 410.5 1075 410.5M1070 355 1072.5 395 1075 405M1025 426 1065 426M1057 426 1057 440M1070 355 1085 330 1095 322.5 1105 306 1110 310 1120 309 1130 314 1131 355 1140 357.5 1146 360M841.7 341.7 858.3 351.7 863.3 371.7 866.7 395 861.7 403.3M850 430 883.3 420 920 408.3M925 393.3 966.7 390 973.3 381.7M751.7 288.3 818.3 320 822 328M222.5 635 266 632.5 301 649 335 661 372.5 661 387.5 661 387.5 652.5 417.5 647.5" stroke="#1c1c1c" stroke-width="1.2"/>
<path d="M85 285 86 290 90 305 96 317.5 97.5 330 100 337.5 99 355 97.5 370 95 387.5 91 405 92.5 417.5 94.5 427.5 95 440 92.5 455 95 467.5 100 480 101 485 105 492.5 112.5 505 120 512.5 125 515 128 522 132 530 135 535 136 547.5 142.5 557.5 150 567.5 155 577.5 160 590 175 595 185 597.5 197.5 604 207.5 610 215 617.5 220 627.5 222.5 635 225 637.5 230 647.5 234 657.5 240 670 245 685 250 697.5 262.5 702.5 275 715 280 727.5 277.5 735 272.5 737.5 262.5 740 275 747.5 287.5 760 300 765 310 772.5 315 785 315 802.5 320 812.5 330 820 342.5 830 352.5 845 357.5 847.5 365 837.5 362.5 830 357.5 820 355 815 347.5 812.5 342.5 800 335 785 330 772.5 322.5 762.5 315 750 305 732.5 297.5 717.5 290 702.5 275 695 270 677.5 267.5 665 265 655 264 649 265 645 266 636M126 512 127 518 131 524 133 530 130 527 127 520M120 514 132 513 142 514M266 652.5 280 657.5 297.5 665 300 677.5 305 690 312.5 702.5 320 715 330 727.5 342.5 737.5 345 745 352.5 752.5 360 762.5 370 770 367.5 780 375 790 390 800 400 812.5 407.5 822.5 417.5 837.5 427.5 850 435 865 437.5 875 440 889M270 580 272.5 590 275 597.5 272.5 605 271 615 270 625 272.5 630 266 636M270 552.5 275 555 282.5 557.5 287.5 561M84.9 284.8 92.3 286.6 98.5 289.1 104.6 290.3 110.8 290.9 114.4 290.3 116.9 291.5M118.1 279.8 120.6 282.9 123 287.8 125.5 291.5 126.7 295.2 124.3 298.9 121.8 300.1 118.7 301.4 115.7 303.8 113.8 307.5 116.9 308.7 120.6 306.9 123 305 125.5 306.3 126.7 310 124.3 313 120 313.7 116.3 312.4M119 284 121 290 123 296 121 299M117 304 120 310 123 311M122 290 124.5 296 122.5 302 119 305M80 279 90 281 100 284 110 287 116 289M80 276 92 278 102 281 112 284 118 285M347.5 517.5 342.5 527.5 330 535 326 537.5M246 615 248 620 250 621M168 602 173 603 178 601M199 614 202 616M179 619 182 621M199 626 201 629M417.5 647.5 425 655 437.5 667.5 450 677.5 455 690 462.5 700 475 710 480 712.5 487.5 700 495 695 507.5 696 517.5 702.5 525 715 532.5 730 542.5 742.5 547.5 750 550 760 557.5 767.5 570 775 580 777.5 587.5 781M587.5 781 586 765 586 752.5 590 742.5 597.5 732.5 610 722.5 625 715 637.5 702.5 650 697.5 662.5 692.5 675 695 682.5 700 695 702.5 700 705 710 710 720 705 730 700 735 710 737.5 714M735 700 740 685 755 682.5 770 680 782.5 682.5 795 684 805 687.5 812.5 695 820 695 830 690 840 692.5 847.5 700 852.5 710 855 730 857.5 740 860 750 865 762.5 870 765 872.5 772.5 875 777.5 877.5 782.5 880 787.5 885 795 890 797.5 897.5 795M715 690 722 695 728 700 725 705 732 708M587.5 781 585 795 582.5 807.5 580 827.5 579 850 580 865 585 877.5 587.5 889M872.5 811 885 806 897.5 800M897.5 795 900 795 904 787.5 905 777.5 904 765 901 750 897.5 735 892.5 720 887.5 705 882.5 690 878 680 877.5 670 880 660 885 652 891 645 897 638 905 633 912 628 917.5 625 922.5 615 930 607.5 937.5 605 945 602.5 950 595 957.5 592.5 967.5 587.5 972.5 581 980 580 986.7 578.3 988.3 571.7 986.7 563.3 985 556.7 983.3 548.3 981.7 541.7M886 756 894 756 892.5 764 887.5 762.5 886 756M981.7 540 978.3 536.7 976.7 526.7 978.3 515 975 503.3 973.3 493.3 971.7 481.7M981.7 540 985 530 988.3 521.7 991.7 513.3 995 503.3 996.7 495 995 486.7 990 475M960 511.7 973.3 523.3M965 526.7 975 530M956.7 530 971.7 538.3M965 552.5 975 555 977.5 565 965 572.5 960 580M1001.7 493.3 1006.7 488.3 1011.7 478.3 1015 466.7 1015 456.7 1016.7 448.3M1020 455 1030 452.5 1050 447.5 1060 445M1025 441 1055 439 1075 437.5 1087.5 427.5 1090 432.5M1075 437.5 1078 425 1075 415 1080 405 1077.5 397.5 1090 385 1105 377.5 1120 372.5 1137.5 365 1146 360M1029 365 1030 385 1031 400M1146 360 1150 357.5 1165 355 1180 350 1197.5 345M1197.5 365 1182.5 375 1170 385 1162.5 392.5 1160 385 1160 375 1168 371 1177 367 1188 362 1200 358M1183 352 1190 350 1197 351M1175 310 1182.5 317.5 1190 330 1197.5 335M1067.5 320 1075 315 1090 300 1105 285 1125 275 1150 269 1175 266 1195 270M1070 321 1090 307.5 1110 292.5 1130 282.5 1150 277.5 1172.5 275 1192.5 277.5M680 322.5 685 313 695 309 711.7 303.3 728.3 296.7 741.7 291.7 751.7 288.3M680 322.5 695 321.7 706.7 320 713.3 323.3 720 326.7 736.7 331.7 746.7 335 753.3 331.7 750 320 753.3 315 760 311.7 763.3 306.7 753.3 308.3 748.3 313.3 752 317 756.7 318.3 766.7 321.7 776.7 326.7 786.7 327.5 796.7 325 803.3 323.3 811.7 321.7 816.7 325 820 328.3M637.5 274 650 280 660 276 665 280 675 285 685 289 700 292.5 712.5 292.5 725 295 735 294 740 285 748.3 278.3 756.7 273.3 770 276.7 786.7 278.3 791.7 285 798.3 295 816.7 295.8 820 306.7 821.7 315 825 321.7 830 330 836.7 333.3 853.3 336.7 870 338.3 875 337M763.3 353.3 770 345 778.3 341.7 786.7 340 796.7 338.3 803.3 336.7 811.7 338.3 816.7 340.8 820 343.3M763.3 353.3 765 365 763.3 378.3 762.5 391.7 761.7 406.7 763.3 422 766 430 770 434 780 432.5 790 425 791.7 415 793.3 403.3 790 391.7 788.3 378.3 791.7 365 796.7 355 803.3 348.3 813.3 343.3 820 343.3 830 345 840 351.7 845 360 845 371.7 838.3 380 835 385 843.3 383.3 851.7 381.7 855 388.3 860 398.3 861.7 403.3 858.3 415 855 422 848 428 845 432M770 345 773 352 776 358 771 362 768 355M845 432 855 437.5 862.5 440 875 435 887.5 430 896.7 424 910 418.3 923.3 411.7 926.7 406.7M850 425 866.7 418.3 880 413.3 890 411.7 900 410 916.7 407.5 926.7 406.7M911.7 397 916.7 390 926.7 386.7 941.7 383.3 950 380 963.3 376.7 975 371.7 983.3 370M911.7 399 923.3 400 933.3 398.3 950 396.7 966.7 393.3 975 385 976.7 378.3M875 336.7 890 338.3 896.7 343.3 903.3 355 908.3 363.3 906.7 370 900 372 890 368 882 361 876 355.5 879 360 882 365 880 373.3 873.3 390 870 398.3 863.3 403.3 856.7 413.3 855 420M750 382 752 385 750 388M470 292.5 485 291 495 296 500 302.5 512.5 304 517.5 302.5M526 322.5 527.5 330 531 342.5 532.5 355 529 362.5 517.5 366 529 371M550 385 552.5 391 562.5 400 565 405M390 304 400 301 410 300 417.5 297.5 422.5 296 424 304M325 324 327 328M305 405 308 402M334 399 336 402M411 416 412 420 414 423M358 443 359 449M504 441 508 443M625 292.5 631 290 637.5 291 632 294 625 292.5M627.5 250 635 255 645 262 640 268 632 270 628 262 627.5 250M652 332 655 334M815 871 820 864 833.6 857 840 849.4 847.5 845 857.9 842.7 869.9 841.2 878.8 842 884.8 843.4 892.3 841.2 899.8 843.4 907.2 846.4 913.2 849.4 917.7 853.9 923.7 859.9 932.6 865.9 941.6 868.8 947.6 871.8 953.5 876.3 959.5 879.3 967 882.3 974.4 885.3 981.9 886.8 986.4 889M815 872 826.9 870.3 840 861.4 847.5 862.9 854.9 864.4 862.4 871.8 874.4 873.3 884.8 873.3 899.8 873.3 911.7 874.8 923.7 874.1 929.6 874.8 935.6 879.3 944.6 885.3 950 889M929.6 874.8 932 882 934.1 889M925 765 935 762.5 945 762.5 945 759 952.5 762.5 960 767.5 956 780M937.5 797.5 942.5 797.5 947.5 815 950 827.5 945 825 940 812.5 935 807.5 937.5 797.5M965 789 972.5 795 976 806M985 807.5 991 819M980 831 990 835 996 840M1007.5 821 1009 824M1185 641 1188 639M1015 850 1022 855 1028.6 860 1035 866 1042 870M1050 868 1062 867M1060 845 1066 848M1192 855 1197 858M715 889 725 884 740 880 755 876 765 876 770 876 775 877.5 781 885 782 889M770 876 773 879 776 877" stroke="#111" stroke-width="1.3"/>
<path d="M970 480 L974 488 L975 498 L972 505 L976 512 L974 520 L977 528 L976 536 L981 541 L984 535 L984 525 L982 515 L981 505 L979 495 L977 487 L975 480Z M990 473 L996 480 L1000 488 L1004 492 L1001 484 L997 476 L993 470Z M978 552 L985 550 L987 560 L987 570 L984 577 L975 581 L968 579 L972 572 L966 567 L975 562Z" fill="#5a86d0" stroke="#111" stroke-width="1"/>
<path d="M301 433.5 L305 437 L307 442 L311 446 L313 450 L315 455 L310 453 L307 449 L303 444 L301 439Z" fill="#4676cc" stroke="#111" stroke-width="1.2"/>
</g>
<rect x="6.5" y="51.8" width="1193" height="836.8" fill="none" stroke="#888" stroke-width="1.5"/>
<g class="lab">
<text x="126" y="307.7">37</text>
<text x="162.5" y="330.7">25</text>
<text x="218" y="307.2">23</text>
<text x="226" y="333.7">30</text>
<text x="282.5" y="324.2">19</text>
<text x="122.5" y="353.7">36</text>
<text x="114.5" y="385.7">32</text>
<text x="190.5" y="397.2">17</text>
<text x="241" y="395.7">25</text>
<text x="272.5" y="419.7">23</text>
<text x="119" y="424.2">28</text>
<text x="128" y="463.7">45</text>
<text x="174.5" y="485.7">28</text>
<text x="245" y="484.7">16</text>
<text x="331" y="310.7">21</text>
<text x="417.5" y="294.7">6</text>
<text x="515.5" y="294.7">-4</text>
<text x="595" y="302.2">-10</text>
<text x="465" y="323.7">3</text>
<text x="525" y="325.7">0</text>
<text x="598" y="325.2">-6</text>
<text x="336" y="350.2">19</text>
<text x="382.5" y="348.7">23</text>
<text x="566" y="355.7">0</text>
<text x="439" y="380.7">17</text>
<text x="479.5" y="385.7">16</text>
<text x="317.5" y="399.2">17</text>
<text x="377.5" y="419.7">14</text>
<text x="423" y="412.2">19</text>
<text x="526" y="402.7">8</text>
<text x="600" y="398.7">2</text>
<text x="450" y="450.2">19</text>
<text x="569.5" y="455.7">11</text>
<text x="320.5" y="458.7">27</text>
<text x="447" y="480.7">23</text>
<text x="506" y="480.2">19</text>
<text x="381" y="494.7">25</text>
<text x="684" y="326.7">-6</text>
<text x="662.5" y="366.7">-2</text>
<text x="677.5" y="387.7">-2</text>
<text x="759" y="375.7">2</text>
<text x="761" y="409.2">3</text>
<text x="802" y="409.7">11</text>
<text x="835" y="396.7">10</text>
<text x="850" y="424.7">11</text>
<text x="605" y="420.7">4</text>
<text x="692" y="431.7">3</text>
<text x="730" y="425.7">2</text>
<text x="656" y="439.7">7</text>
<text x="766" y="434.7">7</text>
<text x="614" y="448.7">10</text>
<text x="715.5" y="454.2">6</text>
<text x="812" y="450.7">8</text>
<text x="876" y="442.7">13</text>
<text x="729.5" y="480.2">10</text>
<text x="793" y="480.2">11</text>
<text x="851" y="475.7">12</text>
<text x="824" y="493.2">14</text>
<text x="640" y="494.7">16</text>
<text x="1031" y="377.7">16</text>
<text x="1112.5" y="369.7">20</text>
<text x="951" y="407.2">16</text>
<text x="1022" y="417.7">19</text>
<text x="1084.5" y="394.7">24</text>
<text x="1071" y="424.2">24</text>
<text x="919.5" y="429.2">9</text>
<text x="1039" y="439.2">19</text>
<text x="986" y="445.7">16</text>
<text x="946.5" y="458">15</text>
<text x="905.8" y="466.4">15</text>
<text x="1016" y="459.7">23</text>
<text x="968" y="491.7">20</text>
<text x="1009" y="490.2">21</text>
<text x="144" y="506.7">41</text>
<text x="136" y="534.7">45</text>
<text x="175" y="548.7">44</text>
<text x="290" y="539.2">36</text>
<text x="261" y="560.2">42</text>
<text x="189" y="578.7">44</text>
<text x="164" y="593.7">46</text>
<text x="276" y="597.7">49</text>
<text x="204" y="605.7">53</text>
<text x="241" y="613.7">52</text>
<text x="454" y="513.7">20</text>
<text x="582.5" y="500.7">19</text>
<text x="537.5" y="525.2">21</text>
<text x="587.5" y="525.7">23</text>
<text x="388" y="547.7">23</text>
<text x="325" y="581.7">23</text>
<text x="416" y="583.7">28</text>
<text x="505" y="581.7">25</text>
<text x="584" y="575.7">29</text>
<text x="480.5" y="598.7">24</text>
<text x="566" y="609.7">30</text>
<text x="504.5" y="617.2">28</text>
<text x="455" y="621.7">26</text>
<text x="317" y="620.2">49</text>
<text x="543" y="641.7">35</text>
<text x="596" y="634.2">37</text>
<text x="338" y="647.2">47</text>
<text x="501" y="652.2">34</text>
<text x="580" y="671.7">37</text>
<text x="465" y="687.7">32</text>
<text x="566" y="708.7">40</text>
<text x="680.5" y="499.7">14</text>
<text x="720" y="505.7">16</text>
<text x="877.5" y="512.2">18</text>
<text x="767.5" y="520.7">16</text>
<text x="824.5" y="518.7">15</text>
<text x="662" y="536.7">19</text>
<text x="731" y="534.7">17</text>
<text x="866.5" y="551.2">13</text>
<text x="612.5" y="560.7">27</text>
<text x="781" y="560.2">22</text>
<text x="835" y="564.7">19</text>
<text x="642" y="577.2">27</text>
<text x="721" y="582.2">24</text>
<text x="890" y="581.7">21</text>
<text x="680" y="590.7">24</text>
<text x="785" y="592.2">23</text>
<text x="746" y="602.7">21</text>
<text x="887.5" y="607.7">24</text>
<text x="620" y="615.2">30</text>
<text x="825" y="613.7">22</text>
<text x="779.5" y="618.7">23</text>
<text x="702.5" y="620.2">26</text>
<text x="654" y="640.2">32</text>
<text x="839" y="639.2">21</text>
<text x="790.5" y="644.7">23</text>
<text x="719" y="645.7">26</text>
<text x="889.5" y="650.7">26</text>
<text x="635" y="667.7">32</text>
<text x="677.5" y="667.2">30</text>
<text x="829.5" y="661.7">21</text>
<text x="758" y="680.7">29</text>
<text x="827.5" y="687.2">26</text>
<text x="875" y="688.7">29</text>
<text x="664" y="690.7">36</text>
<text x="721" y="697.2">37</text>
<text x="623" y="700.7">41</text>
<text x="882.5" y="719.7">31</text>
<text x="927.5" y="509.7">11</text>
<text x="988.3" y="512.2">18</text>
<text x="951.7" y="528.9">16</text>
<text x="907.5" y="535.5">16</text>
<text x="980" y="546.4">24</text>
<text x="930.8" y="568">19</text>
<text x="944" y="603.7">25</text>
<text x="905" y="629.7">24</text>
<text x="861" y="740.7">36</text>
<text x="900" y="755.7">35</text>
<text x="869" y="770.7">41</text>
<text x="902.5" y="788.7">49</text>
<text x="586" y="743.7">51</text>
</g>
<text class="t1" x="15.3" y="25.5" textLength="335.6" lengthAdjust="spacingAndGlyphs">Day 4 Minimum Temperature (°F)</text>
<text class="t2" x="15.3" y="46.3" textLength="350.3" lengthAdjust="spacingAndGlyphs">Ending Monday, Jan. 19, 2026 at 7 a.m. EST</text>
<text class="t2" x="899.2" y="46.4" textLength="290" lengthAdjust="spacingAndGlyphs">Init: Thu 2026-01-15 18z NWS NDFD</text>
<text class="url" x="22.9" y="883.2" textLength="221" lengthAdjust="spacingAndGlyphs">www.pivotalweather.com</text>
<g><rect x="22" y="909" width="5.7" height="11.8" fill="#2a4a70"/><rect x="27.5" y="909" width="6.6" height="11.8" fill="#2b4d73"/><rect x="33.9" y="909" width="6.6" height="11.8" fill="#2e5277"/><rect x="40.3" y="909" width="6.6" height="11.8" fill="#31577b"/><rect x="46.7" y="909" width="6.6" height="11.8" fill="#345c80"/><rect x="53.1" y="909" width="6.6" height="11.8" fill="#376184"/><rect x="59.5" y="909" width="6.6" height="11.8" fill="#3a6688"/><rect x="65.9" y="909" width="6.6" height="11.8" fill="#3e6c8b"/><rect x="72.3" y="909" width="6.6" height="11.8" fill="#42728e"/><rect x="78.7" y="909" width="6.6" height="11.8" fill="#467990"/><rect x="85.1" y="909" width="6.6" height="11.8" fill="#4a7f93"/><rect x="91.5" y="909" width="6.6" height="11.8" fill="#4e8596"/><rect x="97.9" y="909" width="6.6" height="11.8" fill="#548c9a"/><rect x="104.3" y="909" width="6.6" height="11.8" fill="#59929d"/><rect x="110.7" y="909" width="6.6" height="11.8" fill="#5f99a1"/><rect x="117.1" y="909" width="6.6" height="11.8" fill="#649fa4"/><rect x="123.5" y="909" width="6.6" height="11.8" fill="#6aa6a8"/><rect x="129.9" y="909" width="6.6" height="11.8" fill="#74b1b1"/><rect x="136.3" y="909" width="6.6" height="11.8" fill="#7dbcba"/><rect x="142.7" y="909" width="6.6" height="11.8" fill="#87c6c4"/><rect x="149.1" y="909" width="6.6" height="11.8" fill="#90d1cd"/><rect x="155.5" y="909" width="6.6" height="11.8" fill="#9adcd6"/><rect x="161.9" y="909" width="6.6" height="11.8" fill="#9eded8"/><rect x="168.3" y="909" width="6.6" height="11.8" fill="#a1dfd9"/><rect x="174.7" y="909" width="6.6" height="11.8" fill="#a4e0da"/><rect x="181.1" y="909" width="6.6" height="11.8" fill="#a8e2dc"/><rect x="187.5" y="909" width="6.6" height="11.8" fill="#a8dddb"/><rect x="193.9" y="909" width="6.6" height="11.8" fill="#a8d9d9"/><rect x="200.3" y="909" width="6.6" height="11.8" fill="#a8d4d8"/><rect x="206.7" y="909" width="6.6" height="11.8" fill="#a7c8da"/><rect x="213.1" y="909" width="6.6" height="11.8" fill="#a6bcdc"/><rect x="219.5" y="909" width="6.6" height="11.8" fill="#a7b8dc"/><rect x="225.9" y="909" width="6.6" height="11.8" fill="#a7b4dc"/><rect x="232.3" y="909" width="6.6" height="11.8" fill="#a8b0dc"/><rect x="238.7" y="909" width="6.6" height="11.8" fill="#a5abdb"/><rect x="245.1" y="909" width="6.6" height="11.8" fill="#a3a5d9"/><rect x="251.5" y="909" width="6.6" height="11.8" fill="#a0a0d8"/><rect x="257.9" y="909" width="6.6" height="11.8" fill="#9d98d5"/><rect x="264.3" y="909" width="6.6" height="11.8" fill="#9b90d3"/><rect x="270.7" y="909" width="6.6" height="11.8" fill="#9888d0"/><rect x="277.1" y="909" width="6.6" height="11.8" fill="#947ccc"/><rect x="283.5" y="909" width="6.6" height="11.8" fill="#9070c8"/><rect x="289.9" y="909" width="6.6" height="11.8" fill="#8e6cc6"/><rect x="296.3" y="909" width="6.6" height="11.8" fill="#8c68c4"/><rect x="302.7" y="909" width="6.6" height="11.8" fill="#8b64c3"/><rect x="309.1" y="909" width="6.6" height="11.8" fill="#8b60c1"/><rect x="315.5" y="909" width="6.6" height="11.8" fill="#8a5cc0"/><rect x="321.9" y="909" width="6.6" height="11.8" fill="#8858bf"/><rect x="328.3" y="909" width="6.6" height="11.8" fill="#8654bd"/><rect x="334.7" y="909" width="6.6" height="11.8" fill="#8450bc"/><rect x="341.1" y="909" width="6.6" height="11.8" fill="#824cba"/><rect x="347.5" y="909" width="6.6" height="11.8" fill="#8048b8"/><rect x="353.9" y="909" width="6.6" height="11.8" fill="#7e44b8"/><rect x="360.3" y="909" width="6.6" height="11.8" fill="#7c40b8"/><rect x="366.7" y="909" width="6.6" height="11.8" fill="#7b3cb7"/><rect x="373.1" y="909" width="6.6" height="11.8" fill="#7938b5"/><rect x="379.5" y="909" width="6.6" height="11.8" fill="#7834b4"/><rect x="385.9" y="909" width="6.6" height="11.8" fill="#762eb2"/><rect x="392.3" y="909" width="6.6" height="11.8" fill="#7428b0"/><rect x="398.7" y="909" width="6.6" height="11.8" fill="#7325b0"/><rect x="405.1" y="909" width="6.6" height="11.8" fill="#7123b0"/><rect x="411.5" y="909" width="6.6" height="11.8" fill="#a030b4"/><rect x="417.9" y="909" width="6.6" height="11.8" fill="#a83cb8"/><rect x="424.3" y="909" width="6.6" height="11.8" fill="#a848b8"/><rect x="430.7" y="909" width="6.6" height="11.8" fill="#ac54bc"/><rect x="437.1" y="909" width="6.6" height="11.8" fill="#b060c0"/><rect x="443.5" y="909" width="6.6" height="11.8" fill="#b46ac4"/><rect x="449.9" y="909" width="6.6" height="11.8" fill="#b878c8"/><rect x="456.3" y="909" width="6.6" height="11.8" fill="#bc84cc"/><rect x="462.7" y="909" width="6.6" height="11.8" fill="#c090d0"/><rect x="469.1" y="909" width="6.6" height="11.8" fill="#c49cd4"/><rect x="475.5" y="909" width="6.6" height="11.8" fill="#c8a8d8"/><rect x="481.9" y="909" width="6.6" height="11.8" fill="#ccb4dc"/><rect x="488.3" y="909" width="6.6" height="11.8" fill="#d4c4e4"/><rect x="494.7" y="909" width="6.6" height="11.8" fill="#d4dae8"/><rect x="501.1" y="909" width="6.6" height="11.8" fill="#d8e4ee"/><rect x="507.5" y="909" width="6.6" height="11.8" fill="#e0eef6"/><rect x="513.9" y="909" width="6.6" height="11.8" fill="#d8e8f4"/><rect x="520.3" y="909" width="6.6" height="11.8" fill="#c8dcf0"/><rect x="526.7" y="909" width="6.6" height="11.8" fill="#bcd2ee"/><rect x="533.1" y="909" width="6.6" height="11.8" fill="#b0c8ea"/><rect x="539.5" y="909" width="6.6" height="11.8" fill="#a4bfe6"/><rect x="545.9" y="909" width="6.6" height="11.8" fill="#98b6e4"/><rect x="552.3" y="909" width="6.6" height="11.8" fill="#8cace0"/><rect x="558.7" y="909" width="6.6" height="11.8" fill="#80a2dc"/><rect x="565.1" y="909" width="6.6" height="11.8" fill="#7498d8"/><rect x="571.5" y="909" width="6.6" height="11.8" fill="#6890d4"/><rect x="577.9" y="909" width="6.6" height="11.8" fill="#5a86d0"/><rect x="584.3" y="909" width="6.6" height="11.8" fill="#4e7ccc"/><rect x="590.7" y="909" width="6.6" height="11.8" fill="#4274c8"/><rect x="597.1" y="909" width="6.6" height="11.8" fill="#3668c4"/><rect x="603.5" y="909" width="6.6" height="11.8" fill="#285cc0"/><rect x="609.9" y="909" width="6.6" height="11.8" fill="#1a50bc"/><rect x="616.3" y="909" width="6.6" height="11.8" fill="#0f4a55"/><rect x="622.7" y="909" width="6.6" height="11.8" fill="#1a5058"/><rect x="629.1" y="909" width="6.6" height="11.8" fill="#245a60"/><rect x="635.5" y="909" width="6.6" height="11.8" fill="#2d6062"/><rect x="641.9" y="909" width="6.6" height="11.8" fill="#386866"/><rect x="648.3" y="909" width="6.6" height="11.8" fill="#457068"/><rect x="654.7" y="909" width="6.6" height="11.8" fill="#52786c"/><rect x="661.1" y="909" width="6.6" height="11.8" fill="#5e8270"/><rect x="667.5" y="909" width="6.6" height="11.8" fill="#6a8a74"/><rect x="673.9" y="909" width="6.6" height="11.8" fill="#789478"/><rect x="680.3" y="909" width="6.6" height="11.8" fill="#88a07e"/><rect x="686.7" y="909" width="6.6" height="11.8" fill="#98ac84"/><rect x="693.1" y="909" width="6.6" height="11.8" fill="#a6b688"/><rect x="699.5" y="909" width="6.6" height="11.8" fill="#b2be8c"/><rect x="705.9" y="909" width="6.6" height="11.8" fill="#c0c890"/><rect x="712.3" y="909" width="6.6" height="11.8" fill="#ccd094"/><rect x="718.7" y="909" width="6.6" height="11.8" fill="#dcdc9a"/><rect x="725.1" y="909" width="6.6" height="11.8" fill="#ece89e"/><rect x="731.5" y="909" width="6.6" height="11.8" fill="#f2eca2"/><rect x="737.9" y="909" width="6.6" height="11.8" fill="#f0e09c"/><rect x="744.3" y="909" width="6.6" height="11.8" fill="#ecd896"/><rect x="750.7" y="909" width="6.6" height="11.8" fill="#e6cc8c"/><rect x="757.1" y="909" width="6.6" height="11.8" fill="#e0c484"/><rect x="763.5" y="909" width="6.6" height="11.8" fill="#d8b47a"/><rect x="769.9" y="909" width="6.6" height="11.8" fill="#d0a870"/><rect x="776.3" y="909" width="6.6" height="11.8" fill="#c89c68"/><rect x="782.7" y="909" width="6.6" height="11.8" fill="#c08c60"/><rect x="789.1" y="909" width="6.6" height="11.8" fill="#b87c58"/><rect x="795.5" y="909" width="6.6" height="11.8" fill="#b07050"/><rect x="801.9" y="909" width="6.6" height="11.8" fill="#a86048"/><rect x="808.3" y="909" width="6.6" height="11.8" fill="#a05440"/><rect x="814.7" y="909" width="6.6" height="11.8" fill="#984838"/><rect x="821.1" y="909" width="6.6" height="11.8" fill="#903c34"/><rect x="827.5" y="909" width="6.6" height="11.8" fill="#882c2c"/><rect x="833.9" y="909" width="6.6" height="11.8" fill="#7c2020"/><rect x="840.3" y="909" width="6.6" height="11.8" fill="#6e0c0c"/><rect x="846.7" y="909" width="6.6" height="11.8" fill="#6e0c0c"/><rect x="853.1" y="909" width="6.6" height="11.8" fill="#6e0c0c"/><rect x="859.5" y="909" width="6.6" height="11.8" fill="#6e0c0c"/><rect x="865.9" y="909" width="6.6" height="11.8" fill="#6e0c0c"/><rect x="872.3" y="909" width="6.6" height="11.8" fill="#6e0c0c"/><rect x="878.7" y="909" width="6.6" height="11.8" fill="#781818"/><rect x="885.1" y="909" width="6.6" height="11.8" fill="#781818"/><rect x="891.5" y="909" width="6.6" height="11.8" fill="#781818"/><rect x="897.9" y="909" width="6.6" height="11.8" fill="#781818"/><rect x="904.3" y="909" width="6.6" height="11.8" fill="#7e2022"/><rect x="910.7" y="909" width="6.6" height="11.8" fill="#84282c"/><rect x="917.1" y="909" width="6.6" height="11.8" fill="#882e30"/><rect x="923.5" y="909" width="6.6" height="11.8" fill="#8c3434"/><rect x="929.9" y="909" width="6.6" height="11.8" fill="#91413d"/><rect x="936.3" y="909" width="6.6" height="11.8" fill="#974f47"/><rect x="942.7" y="909" width="6.6" height="11.8" fill="#9c5c50"/><rect x="949.1" y="909" width="6.6" height="11.8" fill="#a16759"/><rect x="955.5" y="909" width="6.6" height="11.8" fill="#a77163"/><rect x="961.9" y="909" width="6.6" height="11.8" fill="#ac7c6c"/><rect x="968.3" y="909" width="6.6" height="11.8" fill="#b18575"/><rect x="974.7" y="909" width="6.6" height="11.8" fill="#b78f7f"/><rect x="981.1" y="909" width="6.6" height="11.8" fill="#bc9888"/><rect x="987.5" y="909" width="6.6" height="11.8" fill="#c1a091"/><rect x="993.9" y="909" width="6.6" height="11.8" fill="#c7a89b"/><rect x="1000.3" y="909" width="6.6" height="11.8" fill="#ccb0a4"/><rect x="1006.7" y="909" width="6.6" height="11.8" fill="#d1b8ac"/><rect x="1013.1" y="909" width="6.6" height="11.8" fill="#d7c0b4"/><rect x="1019.5" y="909" width="6.6" height="11.8" fill="#dcc8bc"/><rect x="1025.9" y="909" width="6.6" height="11.8" fill="#e0cfc3"/><rect x="1032.3" y="909" width="6.6" height="11.8" fill="#e4d5c9"/><rect x="1038.7" y="909" width="6.6" height="11.8" fill="#e8dcd0"/><rect x="1045.1" y="909" width="6.6" height="11.8" fill="#ece4da"/><rect x="1051.5" y="909" width="6.6" height="11.8" fill="#f0ece4"/><rect x="1057.9" y="909" width="6.6" height="11.8" fill="#e8e6e2"/><rect x="1064.3" y="909" width="6.6" height="11.8" fill="#e0e0e0"/><rect x="1070.7" y="909" width="6.6" height="11.8" fill="#d8d8d8"/><rect x="1077.1" y="909" width="6.6" height="11.8" fill="#d0d0d0"/><rect x="1083.5" y="909" width="6.6" height="11.8" fill="#c8c8c8"/><rect x="1089.9" y="909" width="6.6" height="11.8" fill="#c2c2c2"/><rect x="1096.3" y="909" width="6.6" height="11.8" fill="#bbbbbb"/><rect x="1102.7" y="909" width="6.6" height="11.8" fill="#b5b5b5"/><rect x="1109.1" y="909" width="6.6" height="11.8" fill="#aeaeae"/><rect x="1115.5" y="909" width="6.6" height="11.8" fill="#a8a8a8"/><rect x="1121.9" y="909" width="6.6" height="11.8" fill="#a0a0a0"/><rect x="1128.3" y="909" width="6.6" height="11.8" fill="#989898"/><rect x="1134.7" y="909" width="6.6" height="11.8" fill="#909090"/><rect x="1141.1" y="909" width="6.6" height="11.8" fill="#888888"/><rect x="1147.5" y="909" width="6.6" height="11.8" fill="#808080"/><rect x="1153.9" y="909" width="6.6" height="11.8" fill="#767676"/><rect x="1160.3" y="909" width="6.6" height="11.8" fill="#6d6d6d"/><rect x="1166.7" y="909" width="6.6" height="11.8" fill="#636363"/><rect x="1173.1" y="909" width="6.6" height="11.8" fill="#5a5a5a"/><rect x="1179.5" y="909" width="4.2" height="11.8" fill="#505050"/></g>
<g class="cbl"><text x="29" y="903.4" textLength="20.9" lengthAdjust="spacingAndGlyphs">-60</text><text x="92.8" y="903.4" textLength="20.9" lengthAdjust="spacingAndGlyphs">-50</text><text x="156.6" y="903.4" textLength="20.9" lengthAdjust="spacingAndGlyphs">-40</text><text x="220.4" y="903.4" textLength="20.9" lengthAdjust="spacingAndGlyphs">-30</text><text x="284.1" y="903.4" textLength="20.9" lengthAdjust="spacingAndGlyphs">-20</text><text x="347.9" y="903.4" textLength="20.9" lengthAdjust="spacingAndGlyphs">-10</text><text x="411.7" y="903.4" textLength="7.5" lengthAdjust="spacingAndGlyphs">0</text><text x="475.5" y="903.4" textLength="13.9" lengthAdjust="spacingAndGlyphs">10</text><text x="539.3" y="903.4" textLength="13.9" lengthAdjust="spacingAndGlyphs">20</text><text x="603" y="903.4" textLength="13.9" lengthAdjust="spacingAndGlyphs">30</text><text x="666.8" y="903.4" textLength="13.9" lengthAdjust="spacingAndGlyphs">40</text><text x="730.6" y="903.4" textLength="13.9" lengthAdjust="spacingAndGlyphs">50</text><text x="794.4" y="903.4" textLength="13.9" lengthAdjust="spacingAndGlyphs">60</text><text x="858.2" y="903.4" textLength="13.9" lengthAdjust="spacingAndGlyphs">70</text><text x="921.9" y="903.4" textLength="13.9" lengthAdjust="spacingAndGlyphs">80</text><text x="985.7" y="903.4" textLength="13.9" lengthAdjust="spacingAndGlyphs">90</text><text x="1049.5" y="903.4" textLength="24.6" lengthAdjust="spacingAndGlyphs">100</text><text x="1113.3" y="903.4" textLength="24.6" lengthAdjust="spacingAndGlyphs">110</text><text x="1177.1" y="903.4" textLength="24.6" lengthAdjust="spacingAndGlyphs">120</text></g>
<text class="logo" x="854.2" y="874" textLength="59" lengthAdjust="spacingAndGlyphs">pıv</text>
<text class="logo" x="947.6" y="874" textLength="51.5" lengthAdjust="spacingAndGlyphs">tal</text>
<text class="logo" x="1015" y="874" textLength="178.3" lengthAdjust="spacingAndGlyphs">weather</text>
<circle cx="885.6" cy="843.4" r="3.3" fill="#000"/>
<path d="M932.5 852.1 935.3 849.8 937.7 850.8 938 854.4 939.5 855.9 943.1 856.2 944.1 858.6 941.8 861.4 941.8 863.4 944.1 866.2 943.1 868.6 939.5 868.9 938 870.4 937.7 874 935.3 875 932.5 872.7 930.5 872.7 927.7 875 925.3 874 925 870.4 923.5 868.9 919.9 868.6 918.9 866.2 921.2 863.4 921.2 861.4 918.9 858.6 919.9 856.2 923.5 855.9 925 854.4 925.3 850.8 927.7 849.8 930.5 852.1Z M926.5 862.4 a5 5 0 1 0 10 0 a5 5 0 1 0 -10 0Z" fill="#000" fill-rule="evenodd"/>
<rect x="53" y="941" width="1098" height="2" fill="#dcf8dc"/>
</svg>
</body></html>
